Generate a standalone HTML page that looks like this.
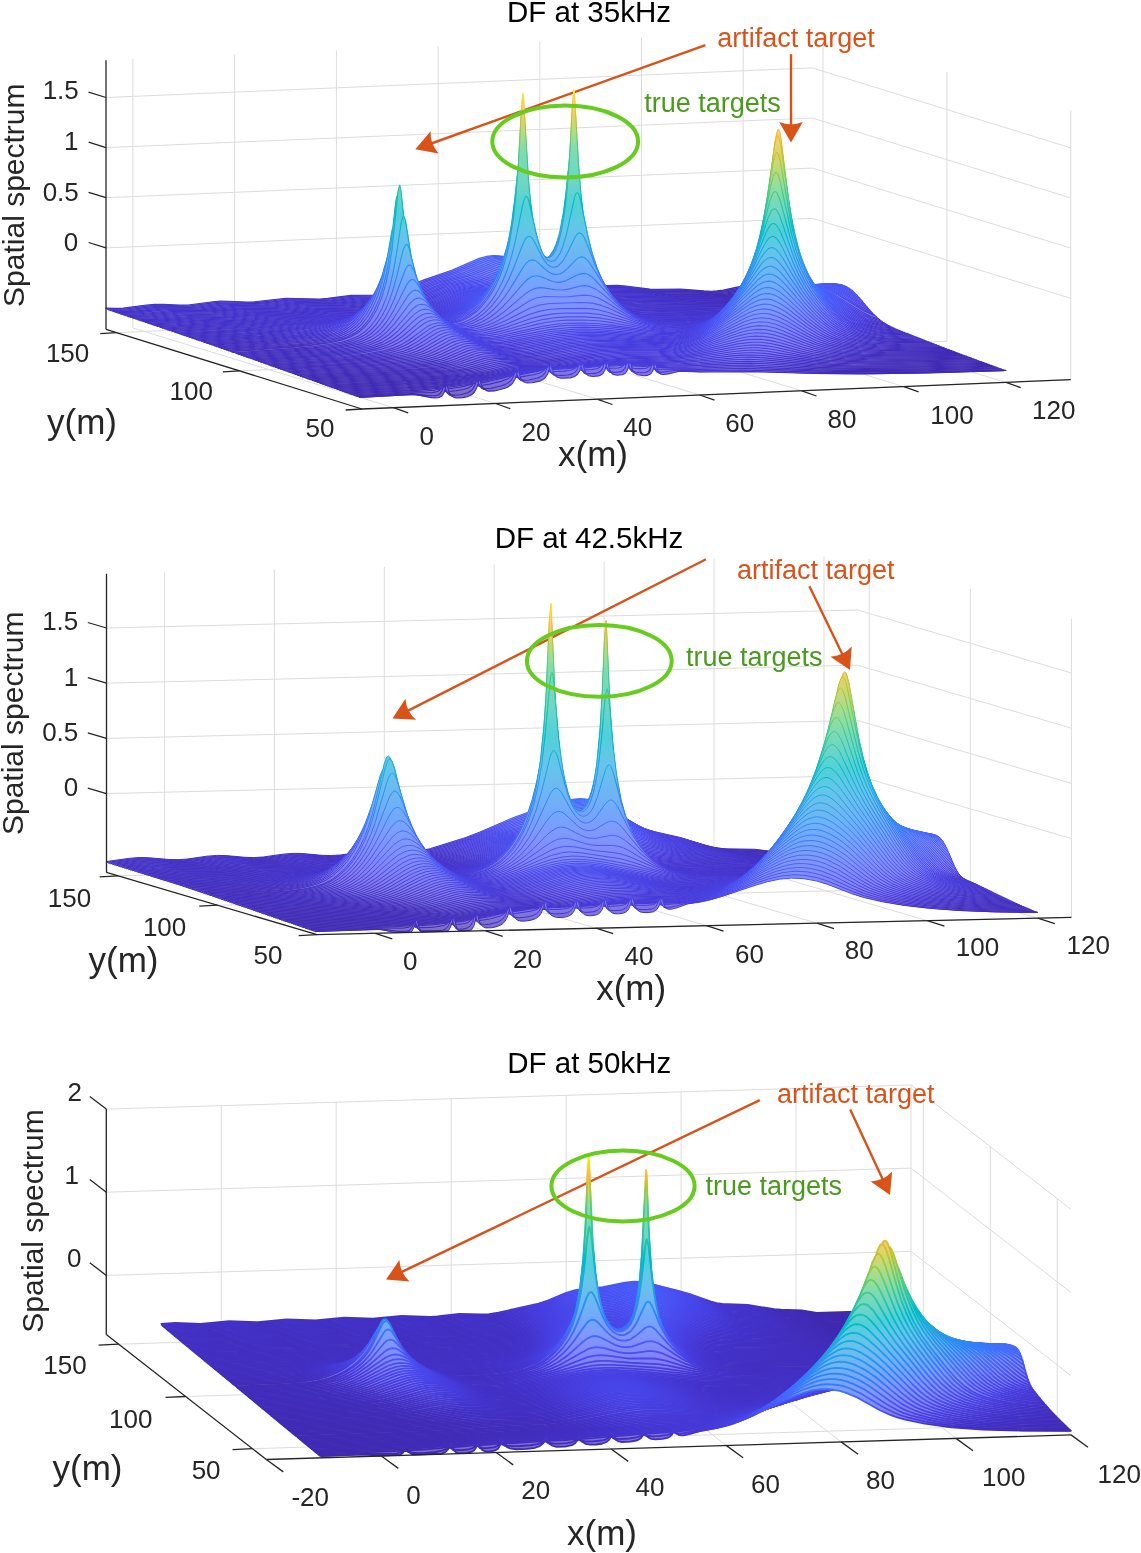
<!DOCTYPE html><html><head><meta charset="utf-8"><style>html,body{margin:0;padding:0;background:#fff;}svg{display:block;will-change:transform;}.s path{vector-effect:non-scaling-stroke}text{font-family:"Liberation Sans",sans-serif;}</style></head><body><svg width="1141" height="1553" viewBox="0 0 1141 1553" font-family="Liberation Sans, sans-serif"><defs><linearGradient id="g0_0" gradientUnits="userSpaceOnUse" x1="0" y1="-750" x2="0" y2="1950"><stop offset="0.000" stop-color="#3e26a8"/><stop offset="0.028" stop-color="#402ab5"/><stop offset="0.056" stop-color="#4332ca"/><stop offset="0.083" stop-color="#463adc"/><stop offset="0.111" stop-color="#4744e9"/><stop offset="0.139" stop-color="#484ff2"/><stop offset="0.167" stop-color="#4759f8"/><stop offset="0.194" stop-color="#4563fd"/><stop offset="0.222" stop-color="#3f6eff"/><stop offset="0.250" stop-color="#347afd"/><stop offset="0.278" stop-color="#2e84f8"/><stop offset="0.306" stop-color="#2c8ef1"/><stop offset="0.333" stop-color="#2797ea"/><stop offset="0.361" stop-color="#23a0e5"/><stop offset="0.389" stop-color="#1da8e0"/><stop offset="0.417" stop-color="#14b0d8"/><stop offset="0.444" stop-color="#05b6cd"/><stop offset="0.472" stop-color="#04bbc1"/><stop offset="0.500" stop-color="#1abfb5"/><stop offset="0.528" stop-color="#2bc3a8"/><stop offset="0.556" stop-color="#36c799"/><stop offset="0.583" stop-color="#45cb88"/><stop offset="0.611" stop-color="#5ccc76"/><stop offset="0.639" stop-color="#75cc61"/><stop offset="0.667" stop-color="#90ca4d"/><stop offset="0.694" stop-color="#aac73a"/><stop offset="0.722" stop-color="#c2c32c"/><stop offset="0.750" stop-color="#d7be28"/><stop offset="0.778" stop-color="#eabb30"/><stop offset="0.806" stop-color="#f9bb3d"/><stop offset="0.833" stop-color="#fec338"/><stop offset="0.861" stop-color="#fdce31"/><stop offset="0.889" stop-color="#f8da2b"/><stop offset="0.917" stop-color="#f5e626"/><stop offset="0.944" stop-color="#f6f11f"/><stop offset="0.972" stop-color="#f9fb15"/><stop offset="1.000" stop-color="#f9fb15"/></linearGradient><linearGradient id="Lg0_0" gradientUnits="userSpaceOnUse" x1="0" y1="-750" x2="0" y2="1950"><stop offset="0.000" stop-color="#7c6cc4"/><stop offset="0.028" stop-color="#7d6ecd"/><stop offset="0.056" stop-color="#7f74db"/><stop offset="0.083" stop-color="#8179e7"/><stop offset="0.111" stop-color="#8280f0"/><stop offset="0.139" stop-color="#8287f6"/><stop offset="0.167" stop-color="#828efb"/><stop offset="0.194" stop-color="#8095fd"/><stop offset="0.222" stop-color="#7c9dff"/><stop offset="0.250" stop-color="#75a4fe"/><stop offset="0.278" stop-color="#71abfa"/><stop offset="0.306" stop-color="#70b2f6"/><stop offset="0.333" stop-color="#6cb8f1"/><stop offset="0.361" stop-color="#6abeed"/><stop offset="0.389" stop-color="#65c4ea"/><stop offset="0.417" stop-color="#5fc9e4"/><stop offset="0.444" stop-color="#55cddd"/><stop offset="0.472" stop-color="#55d1d5"/><stop offset="0.500" stop-color="#63d4cd"/><stop offset="0.528" stop-color="#6fd6c4"/><stop offset="0.556" stop-color="#76d9ba"/><stop offset="0.583" stop-color="#81dbae"/><stop offset="0.611" stop-color="#90dda2"/><stop offset="0.639" stop-color="#a1dd94"/><stop offset="0.667" stop-color="#b4db86"/><stop offset="0.694" stop-color="#c5d979"/><stop offset="0.722" stop-color="#d5d670"/><stop offset="0.750" stop-color="#e4d36d"/><stop offset="0.778" stop-color="#f0d072"/><stop offset="0.806" stop-color="#fbd17b"/><stop offset="0.833" stop-color="#fed678"/><stop offset="0.861" stop-color="#fdde73"/><stop offset="0.889" stop-color="#fae66f"/><stop offset="0.917" stop-color="#f8ee6b"/><stop offset="0.944" stop-color="#f9f566"/><stop offset="0.972" stop-color="#fbfc60"/><stop offset="1.000" stop-color="#fbfc60"/></linearGradient><linearGradient id="g0_1" gradientUnits="userSpaceOnUse" x1="0" y1="-750" x2="0" y2="1950"><stop offset="0.000" stop-color="#3e26a8"/><stop offset="0.028" stop-color="#402ab5"/><stop offset="0.056" stop-color="#4332c9"/><stop offset="0.083" stop-color="#463adb"/><stop offset="0.111" stop-color="#4744e8"/><stop offset="0.139" stop-color="#484ef1"/><stop offset="0.167" stop-color="#4758f8"/><stop offset="0.194" stop-color="#4562fc"/><stop offset="0.222" stop-color="#406dfe"/><stop offset="0.250" stop-color="#3678fd"/><stop offset="0.278" stop-color="#2f83f9"/><stop offset="0.306" stop-color="#2d8cf3"/><stop offset="0.333" stop-color="#2895ec"/><stop offset="0.361" stop-color="#249ee6"/><stop offset="0.389" stop-color="#1fa6e2"/><stop offset="0.417" stop-color="#18addb"/><stop offset="0.444" stop-color="#0ab4d2"/><stop offset="0.472" stop-color="#01b9c7"/><stop offset="0.500" stop-color="#0dbdbc"/><stop offset="0.528" stop-color="#22c1b0"/><stop offset="0.556" stop-color="#2fc5a3"/><stop offset="0.583" stop-color="#39c895"/><stop offset="0.611" stop-color="#49cb85"/><stop offset="0.639" stop-color="#5dcc74"/><stop offset="0.667" stop-color="#73cd62"/><stop offset="0.694" stop-color="#8bcb51"/><stop offset="0.722" stop-color="#a2c83f"/><stop offset="0.750" stop-color="#b9c430"/><stop offset="0.778" stop-color="#d1bf27"/><stop offset="0.806" stop-color="#e6bb2d"/><stop offset="0.833" stop-color="#f7ba3c"/><stop offset="0.861" stop-color="#fec338"/><stop offset="0.889" stop-color="#fcd12f"/><stop offset="0.917" stop-color="#f6df29"/><stop offset="0.944" stop-color="#f5ed21"/><stop offset="0.972" stop-color="#f9fb15"/><stop offset="1.000" stop-color="#f9fb15"/></linearGradient><linearGradient id="Lg0_1" gradientUnits="userSpaceOnUse" x1="0" y1="-750" x2="0" y2="1950"><stop offset="0.000" stop-color="#7c6cc4"/><stop offset="0.028" stop-color="#7d6ecd"/><stop offset="0.056" stop-color="#7f73da"/><stop offset="0.083" stop-color="#8179e6"/><stop offset="0.111" stop-color="#8280ef"/><stop offset="0.139" stop-color="#8287f5"/><stop offset="0.167" stop-color="#828dfa"/><stop offset="0.194" stop-color="#8194fd"/><stop offset="0.222" stop-color="#7d9cff"/><stop offset="0.250" stop-color="#76a3fe"/><stop offset="0.278" stop-color="#71aafb"/><stop offset="0.306" stop-color="#70b1f7"/><stop offset="0.333" stop-color="#6db7f2"/><stop offset="0.361" stop-color="#6abdee"/><stop offset="0.389" stop-color="#67c2eb"/><stop offset="0.417" stop-color="#62c7e7"/><stop offset="0.444" stop-color="#59cce0"/><stop offset="0.472" stop-color="#52cfd9"/><stop offset="0.500" stop-color="#5ad2d1"/><stop offset="0.528" stop-color="#69d5c9"/><stop offset="0.556" stop-color="#71d7c0"/><stop offset="0.583" stop-color="#78dab7"/><stop offset="0.611" stop-color="#83dcac"/><stop offset="0.639" stop-color="#91dda1"/><stop offset="0.667" stop-color="#a0dd95"/><stop offset="0.694" stop-color="#b0dc89"/><stop offset="0.722" stop-color="#c0da7d"/><stop offset="0.750" stop-color="#cfd773"/><stop offset="0.778" stop-color="#e0d46c"/><stop offset="0.806" stop-color="#eed170"/><stop offset="0.833" stop-color="#fad07b"/><stop offset="0.861" stop-color="#fed678"/><stop offset="0.889" stop-color="#fde072"/><stop offset="0.917" stop-color="#f9e96d"/><stop offset="0.944" stop-color="#f8f368"/><stop offset="0.972" stop-color="#fbfc60"/><stop offset="1.000" stop-color="#fbfc60"/></linearGradient><linearGradient id="g0_2" gradientUnits="userSpaceOnUse" x1="0" y1="-750" x2="0" y2="1950"><stop offset="0.000" stop-color="#3e26a8"/><stop offset="0.028" stop-color="#402ab5"/><stop offset="0.056" stop-color="#4331c8"/><stop offset="0.083" stop-color="#4639da"/><stop offset="0.111" stop-color="#4743e7"/><stop offset="0.139" stop-color="#484df0"/><stop offset="0.167" stop-color="#4757f7"/><stop offset="0.194" stop-color="#4561fc"/><stop offset="0.222" stop-color="#416bfe"/><stop offset="0.250" stop-color="#3776fe"/><stop offset="0.278" stop-color="#2f81fa"/><stop offset="0.306" stop-color="#2d8af4"/><stop offset="0.333" stop-color="#2a93ed"/><stop offset="0.361" stop-color="#259be8"/><stop offset="0.389" stop-color="#21a3e3"/><stop offset="0.417" stop-color="#1babde"/><stop offset="0.444" stop-color="#12b1d6"/><stop offset="0.472" stop-color="#04b6cc"/><stop offset="0.500" stop-color="#03bbc2"/><stop offset="0.528" stop-color="#15bfb7"/><stop offset="0.556" stop-color="#26c2ac"/><stop offset="0.583" stop-color="#31c5a1"/><stop offset="0.611" stop-color="#3ac993"/><stop offset="0.639" stop-color="#48cb86"/><stop offset="0.667" stop-color="#59cc78"/><stop offset="0.694" stop-color="#6bcd69"/><stop offset="0.722" stop-color="#80cc59"/><stop offset="0.750" stop-color="#97ca48"/><stop offset="0.778" stop-color="#b4c534"/><stop offset="0.806" stop-color="#cec028"/><stop offset="0.833" stop-color="#e5bb2d"/><stop offset="0.861" stop-color="#f9bb3d"/><stop offset="0.889" stop-color="#fec835"/><stop offset="0.917" stop-color="#f8d92c"/><stop offset="0.944" stop-color="#f5ea24"/><stop offset="0.972" stop-color="#f9fb15"/><stop offset="1.000" stop-color="#f9fb15"/></linearGradient><linearGradient id="Lg0_2" gradientUnits="userSpaceOnUse" x1="0" y1="-750" x2="0" y2="1950"><stop offset="0.000" stop-color="#7c6cc4"/><stop offset="0.028" stop-color="#7d6ecc"/><stop offset="0.056" stop-color="#7f73d9"/><stop offset="0.083" stop-color="#8179e6"/><stop offset="0.111" stop-color="#827fef"/><stop offset="0.139" stop-color="#8286f5"/><stop offset="0.167" stop-color="#828dfa"/><stop offset="0.194" stop-color="#8194fd"/><stop offset="0.222" stop-color="#7e9bfe"/><stop offset="0.250" stop-color="#77a2fe"/><stop offset="0.278" stop-color="#72a9fc"/><stop offset="0.306" stop-color="#70b0f8"/><stop offset="0.333" stop-color="#6eb6f3"/><stop offset="0.361" stop-color="#6bbbef"/><stop offset="0.389" stop-color="#68c1ec"/><stop offset="0.417" stop-color="#64c6e9"/><stop offset="0.444" stop-color="#5ecae3"/><stop offset="0.472" stop-color="#54cedd"/><stop offset="0.500" stop-color="#54d1d6"/><stop offset="0.528" stop-color="#60d3ce"/><stop offset="0.556" stop-color="#6cd6c7"/><stop offset="0.583" stop-color="#73d8bf"/><stop offset="0.611" stop-color="#79dab6"/><stop offset="0.639" stop-color="#82dcad"/><stop offset="0.667" stop-color="#8edda3"/><stop offset="0.694" stop-color="#9bdd99"/><stop offset="0.722" stop-color="#a8dc8e"/><stop offset="0.750" stop-color="#b8db82"/><stop offset="0.778" stop-color="#ccd875"/><stop offset="0.806" stop-color="#ded46d"/><stop offset="0.833" stop-color="#edd170"/><stop offset="0.861" stop-color="#fbd07b"/><stop offset="0.889" stop-color="#feda75"/><stop offset="0.917" stop-color="#fae56f"/><stop offset="0.944" stop-color="#f8f16a"/><stop offset="0.972" stop-color="#fbfc60"/><stop offset="1.000" stop-color="#fbfc60"/></linearGradient><linearGradient id="g0_3" gradientUnits="userSpaceOnUse" x1="0" y1="-750" x2="0" y2="1950"><stop offset="0.000" stop-color="#3e26a8"/><stop offset="0.028" stop-color="#402ab4"/><stop offset="0.056" stop-color="#4331c7"/><stop offset="0.083" stop-color="#4539d9"/><stop offset="0.111" stop-color="#4742e6"/><stop offset="0.139" stop-color="#484cef"/><stop offset="0.167" stop-color="#4756f6"/><stop offset="0.194" stop-color="#4660fb"/><stop offset="0.222" stop-color="#426afe"/><stop offset="0.250" stop-color="#3975fe"/><stop offset="0.278" stop-color="#307ffb"/><stop offset="0.306" stop-color="#2d89f6"/><stop offset="0.333" stop-color="#2b91ef"/><stop offset="0.361" stop-color="#2699e9"/><stop offset="0.389" stop-color="#23a0e5"/><stop offset="0.417" stop-color="#1ea8e0"/><stop offset="0.444" stop-color="#17aeda"/><stop offset="0.472" stop-color="#0ab4d1"/><stop offset="0.500" stop-color="#01b8c9"/><stop offset="0.528" stop-color="#08bcbf"/><stop offset="0.556" stop-color="#19bfb5"/><stop offset="0.583" stop-color="#28c2ab"/><stop offset="0.611" stop-color="#31c6a0"/><stop offset="0.639" stop-color="#38c896"/><stop offset="0.667" stop-color="#42ca8c"/><stop offset="0.694" stop-color="#4fcc80"/><stop offset="0.722" stop-color="#5ecc74"/><stop offset="0.750" stop-color="#72cd63"/><stop offset="0.778" stop-color="#93ca4a"/><stop offset="0.806" stop-color="#b2c534"/><stop offset="0.833" stop-color="#cfc028"/><stop offset="0.861" stop-color="#e9bb30"/><stop offset="0.889" stop-color="#fec03b"/><stop offset="0.917" stop-color="#fbd32f"/><stop offset="0.944" stop-color="#f5e626"/><stop offset="0.972" stop-color="#f9fb15"/><stop offset="1.000" stop-color="#f9fb15"/></linearGradient><linearGradient id="Lg0_3" gradientUnits="userSpaceOnUse" x1="0" y1="-750" x2="0" y2="1950"><stop offset="0.000" stop-color="#7c6cc4"/><stop offset="0.028" stop-color="#7d6ecc"/><stop offset="0.056" stop-color="#7f73d9"/><stop offset="0.083" stop-color="#8178e5"/><stop offset="0.111" stop-color="#827eee"/><stop offset="0.139" stop-color="#8285f4"/><stop offset="0.167" stop-color="#828cf9"/><stop offset="0.194" stop-color="#8193fd"/><stop offset="0.222" stop-color="#7e9afe"/><stop offset="0.250" stop-color="#78a1ff"/><stop offset="0.278" stop-color="#72a8fc"/><stop offset="0.306" stop-color="#70aff9"/><stop offset="0.333" stop-color="#6fb4f4"/><stop offset="0.361" stop-color="#6cbaf0"/><stop offset="0.389" stop-color="#69bfed"/><stop offset="0.417" stop-color="#66c4ea"/><stop offset="0.444" stop-color="#61c8e6"/><stop offset="0.472" stop-color="#58cce0"/><stop offset="0.500" stop-color="#52cfda"/><stop offset="0.528" stop-color="#57d1d4"/><stop offset="0.556" stop-color="#63d4cd"/><stop offset="0.583" stop-color="#6dd6c6"/><stop offset="0.611" stop-color="#73d8be"/><stop offset="0.639" stop-color="#77dab8"/><stop offset="0.667" stop-color="#7edbb1"/><stop offset="0.694" stop-color="#87dca9"/><stop offset="0.722" stop-color="#91dda1"/><stop offset="0.750" stop-color="#9fdd95"/><stop offset="0.778" stop-color="#b6db84"/><stop offset="0.806" stop-color="#cbd875"/><stop offset="0.833" stop-color="#ded46d"/><stop offset="0.861" stop-color="#f0d072"/><stop offset="0.889" stop-color="#fed47a"/><stop offset="0.917" stop-color="#fce171"/><stop offset="0.944" stop-color="#f8ee6b"/><stop offset="0.972" stop-color="#fbfc60"/><stop offset="1.000" stop-color="#fbfc60"/></linearGradient><linearGradient id="g0_4" gradientUnits="userSpaceOnUse" x1="0" y1="-750" x2="0" y2="1950"><stop offset="0.000" stop-color="#3e26a8"/><stop offset="0.028" stop-color="#402ab4"/><stop offset="0.056" stop-color="#4331c6"/><stop offset="0.083" stop-color="#4538d8"/><stop offset="0.111" stop-color="#4741e5"/><stop offset="0.139" stop-color="#484bef"/><stop offset="0.167" stop-color="#4755f6"/><stop offset="0.194" stop-color="#465efb"/><stop offset="0.222" stop-color="#4368fe"/><stop offset="0.250" stop-color="#3b73fe"/><stop offset="0.278" stop-color="#317efb"/><stop offset="0.306" stop-color="#2e87f7"/><stop offset="0.333" stop-color="#2c8ff1"/><stop offset="0.361" stop-color="#2797eb"/><stop offset="0.389" stop-color="#249ee6"/><stop offset="0.417" stop-color="#20a5e2"/><stop offset="0.444" stop-color="#1aabdd"/><stop offset="0.472" stop-color="#12b1d6"/><stop offset="0.500" stop-color="#06b5cf"/><stop offset="0.528" stop-color="#01b9c6"/><stop offset="0.556" stop-color="#09bdbe"/><stop offset="0.583" stop-color="#1ac0b5"/><stop offset="0.611" stop-color="#27c2ab"/><stop offset="0.639" stop-color="#2ec4a4"/><stop offset="0.667" stop-color="#33c69d"/><stop offset="0.694" stop-color="#39c895"/><stop offset="0.722" stop-color="#41ca8c"/><stop offset="0.750" stop-color="#51cc7f"/><stop offset="0.778" stop-color="#71cd64"/><stop offset="0.806" stop-color="#94ca4a"/><stop offset="0.833" stop-color="#b5c533"/><stop offset="0.861" stop-color="#d6be28"/><stop offset="0.889" stop-color="#f8ba3d"/><stop offset="0.917" stop-color="#fdcc32"/><stop offset="0.944" stop-color="#f5e327"/><stop offset="0.972" stop-color="#f9fb15"/><stop offset="1.000" stop-color="#f9fb15"/></linearGradient><linearGradient id="Lg0_4" gradientUnits="userSpaceOnUse" x1="0" y1="-750" x2="0" y2="1950"><stop offset="0.000" stop-color="#7c6cc4"/><stop offset="0.028" stop-color="#7d6ecc"/><stop offset="0.056" stop-color="#7f73d8"/><stop offset="0.083" stop-color="#8178e4"/><stop offset="0.111" stop-color="#827eed"/><stop offset="0.139" stop-color="#8285f4"/><stop offset="0.167" stop-color="#828bf9"/><stop offset="0.194" stop-color="#8192fc"/><stop offset="0.222" stop-color="#7f99fe"/><stop offset="0.250" stop-color="#79a0ff"/><stop offset="0.278" stop-color="#73a7fd"/><stop offset="0.306" stop-color="#71adf9"/><stop offset="0.333" stop-color="#70b3f5"/><stop offset="0.361" stop-color="#6cb8f1"/><stop offset="0.389" stop-color="#6abdee"/><stop offset="0.417" stop-color="#67c2ec"/><stop offset="0.444" stop-color="#63c6e8"/><stop offset="0.472" stop-color="#5ecae3"/><stop offset="0.500" stop-color="#56cdde"/><stop offset="0.528" stop-color="#53cfd9"/><stop offset="0.556" stop-color="#58d2d3"/><stop offset="0.583" stop-color="#63d4cc"/><stop offset="0.611" stop-color="#6cd6c6"/><stop offset="0.639" stop-color="#71d7c1"/><stop offset="0.667" stop-color="#74d9bc"/><stop offset="0.694" stop-color="#78dab7"/><stop offset="0.722" stop-color="#7edbb1"/><stop offset="0.750" stop-color="#89dca8"/><stop offset="0.778" stop-color="#9edd96"/><stop offset="0.806" stop-color="#b6db84"/><stop offset="0.833" stop-color="#ccd874"/><stop offset="0.861" stop-color="#e3d36d"/><stop offset="0.889" stop-color="#fad07b"/><stop offset="0.917" stop-color="#fedd74"/><stop offset="0.944" stop-color="#f8ec6c"/><stop offset="0.972" stop-color="#fbfc60"/><stop offset="1.000" stop-color="#fbfc60"/></linearGradient><linearGradient id="g1_0" gradientUnits="userSpaceOnUse" x1="0" y1="-744" x2="0" y2="2070"><stop offset="0.000" stop-color="#3e26a8"/><stop offset="0.028" stop-color="#402bb6"/><stop offset="0.056" stop-color="#4332ca"/><stop offset="0.083" stop-color="#463bdc"/><stop offset="0.111" stop-color="#4745e9"/><stop offset="0.139" stop-color="#484ff2"/><stop offset="0.167" stop-color="#4759f8"/><stop offset="0.194" stop-color="#4564fd"/><stop offset="0.222" stop-color="#3f6eff"/><stop offset="0.250" stop-color="#347afd"/><stop offset="0.278" stop-color="#2e84f8"/><stop offset="0.306" stop-color="#2c8ef1"/><stop offset="0.333" stop-color="#2797eb"/><stop offset="0.361" stop-color="#23a0e5"/><stop offset="0.389" stop-color="#1da8e0"/><stop offset="0.417" stop-color="#14b0d8"/><stop offset="0.444" stop-color="#05b6cd"/><stop offset="0.472" stop-color="#04bbc2"/><stop offset="0.500" stop-color="#1abfb5"/><stop offset="0.528" stop-color="#2bc3a8"/><stop offset="0.556" stop-color="#36c799"/><stop offset="0.583" stop-color="#45cb89"/><stop offset="0.611" stop-color="#5ccc76"/><stop offset="0.639" stop-color="#74cc62"/><stop offset="0.667" stop-color="#8fcb4e"/><stop offset="0.694" stop-color="#a9c73a"/><stop offset="0.722" stop-color="#c1c32c"/><stop offset="0.750" stop-color="#d6be28"/><stop offset="0.778" stop-color="#e9bb30"/><stop offset="0.806" stop-color="#f9ba3d"/><stop offset="0.833" stop-color="#fec338"/><stop offset="0.861" stop-color="#fdce31"/><stop offset="0.889" stop-color="#f8da2b"/><stop offset="0.917" stop-color="#f5e526"/><stop offset="0.944" stop-color="#f6f01f"/><stop offset="0.972" stop-color="#f9fb15"/><stop offset="1.000" stop-color="#f9fb15"/></linearGradient><linearGradient id="Lg1_0" gradientUnits="userSpaceOnUse" x1="0" y1="-744" x2="0" y2="2070"><stop offset="0.000" stop-color="#7c6cc4"/><stop offset="0.028" stop-color="#7d6fcd"/><stop offset="0.056" stop-color="#7f74db"/><stop offset="0.083" stop-color="#8179e7"/><stop offset="0.111" stop-color="#8280f0"/><stop offset="0.139" stop-color="#8287f6"/><stop offset="0.167" stop-color="#828efb"/><stop offset="0.194" stop-color="#8095fd"/><stop offset="0.222" stop-color="#7c9dff"/><stop offset="0.250" stop-color="#75a4fe"/><stop offset="0.278" stop-color="#71abfa"/><stop offset="0.306" stop-color="#70b2f6"/><stop offset="0.333" stop-color="#6cb8f1"/><stop offset="0.361" stop-color="#6abeed"/><stop offset="0.389" stop-color="#65c4ea"/><stop offset="0.417" stop-color="#5fc9e5"/><stop offset="0.444" stop-color="#55cddd"/><stop offset="0.472" stop-color="#54d1d5"/><stop offset="0.500" stop-color="#63d4cd"/><stop offset="0.528" stop-color="#6fd6c4"/><stop offset="0.556" stop-color="#76d9ba"/><stop offset="0.583" stop-color="#81dbaf"/><stop offset="0.611" stop-color="#90dda2"/><stop offset="0.639" stop-color="#a1dd94"/><stop offset="0.667" stop-color="#b3db86"/><stop offset="0.694" stop-color="#c5d979"/><stop offset="0.722" stop-color="#d5d670"/><stop offset="0.750" stop-color="#e3d36d"/><stop offset="0.778" stop-color="#f0d072"/><stop offset="0.806" stop-color="#fbd07b"/><stop offset="0.833" stop-color="#fed678"/><stop offset="0.861" stop-color="#fdde73"/><stop offset="0.889" stop-color="#fae66f"/><stop offset="0.917" stop-color="#f8ed6b"/><stop offset="0.944" stop-color="#f9f567"/><stop offset="0.972" stop-color="#fbfc60"/><stop offset="1.000" stop-color="#fbfc60"/></linearGradient><linearGradient id="g1_1" gradientUnits="userSpaceOnUse" x1="0" y1="-744" x2="0" y2="2070"><stop offset="0.000" stop-color="#3e26a8"/><stop offset="0.028" stop-color="#402ab5"/><stop offset="0.056" stop-color="#4332c9"/><stop offset="0.083" stop-color="#463adb"/><stop offset="0.111" stop-color="#4744e8"/><stop offset="0.139" stop-color="#484ef1"/><stop offset="0.167" stop-color="#4758f8"/><stop offset="0.194" stop-color="#4562fc"/><stop offset="0.222" stop-color="#406dfe"/><stop offset="0.250" stop-color="#3678fd"/><stop offset="0.278" stop-color="#2f83f9"/><stop offset="0.306" stop-color="#2d8cf3"/><stop offset="0.333" stop-color="#2895ec"/><stop offset="0.361" stop-color="#249ee6"/><stop offset="0.389" stop-color="#1fa6e2"/><stop offset="0.417" stop-color="#18addb"/><stop offset="0.444" stop-color="#0bb4d2"/><stop offset="0.472" stop-color="#01b9c7"/><stop offset="0.500" stop-color="#0dbdbc"/><stop offset="0.528" stop-color="#22c1b0"/><stop offset="0.556" stop-color="#2fc5a3"/><stop offset="0.583" stop-color="#39c895"/><stop offset="0.611" stop-color="#49cb86"/><stop offset="0.639" stop-color="#5dcc75"/><stop offset="0.667" stop-color="#73cd63"/><stop offset="0.694" stop-color="#8acb51"/><stop offset="0.722" stop-color="#a1c840"/><stop offset="0.750" stop-color="#b8c431"/><stop offset="0.778" stop-color="#d0bf27"/><stop offset="0.806" stop-color="#e5bb2d"/><stop offset="0.833" stop-color="#f7ba3c"/><stop offset="0.861" stop-color="#fec338"/><stop offset="0.889" stop-color="#fcd030"/><stop offset="0.917" stop-color="#f6df29"/><stop offset="0.944" stop-color="#f5ed22"/><stop offset="0.972" stop-color="#f9fb15"/><stop offset="1.000" stop-color="#f9fb15"/></linearGradient><linearGradient id="Lg1_1" gradientUnits="userSpaceOnUse" x1="0" y1="-744" x2="0" y2="2070"><stop offset="0.000" stop-color="#7c6cc4"/><stop offset="0.028" stop-color="#7d6ecd"/><stop offset="0.056" stop-color="#7f73da"/><stop offset="0.083" stop-color="#8179e6"/><stop offset="0.111" stop-color="#8280ef"/><stop offset="0.139" stop-color="#8287f6"/><stop offset="0.167" stop-color="#828dfa"/><stop offset="0.194" stop-color="#8194fd"/><stop offset="0.222" stop-color="#7d9cff"/><stop offset="0.250" stop-color="#76a3fe"/><stop offset="0.278" stop-color="#71aafb"/><stop offset="0.306" stop-color="#70b1f7"/><stop offset="0.333" stop-color="#6db7f2"/><stop offset="0.361" stop-color="#6abdee"/><stop offset="0.389" stop-color="#67c2eb"/><stop offset="0.417" stop-color="#62c7e7"/><stop offset="0.444" stop-color="#59cce0"/><stop offset="0.472" stop-color="#52cfd9"/><stop offset="0.500" stop-color="#5ad2d1"/><stop offset="0.528" stop-color="#69d5c9"/><stop offset="0.556" stop-color="#71d7c1"/><stop offset="0.583" stop-color="#78dab7"/><stop offset="0.611" stop-color="#83dcac"/><stop offset="0.639" stop-color="#91dda1"/><stop offset="0.667" stop-color="#a0dd95"/><stop offset="0.694" stop-color="#b0dc89"/><stop offset="0.722" stop-color="#bfda7d"/><stop offset="0.750" stop-color="#cfd773"/><stop offset="0.778" stop-color="#dfd46c"/><stop offset="0.806" stop-color="#eed170"/><stop offset="0.833" stop-color="#f9d07a"/><stop offset="0.861" stop-color="#fed678"/><stop offset="0.889" stop-color="#fddf72"/><stop offset="0.917" stop-color="#f9e96d"/><stop offset="0.944" stop-color="#f8f369"/><stop offset="0.972" stop-color="#fbfc60"/><stop offset="1.000" stop-color="#fbfc60"/></linearGradient><linearGradient id="g1_2" gradientUnits="userSpaceOnUse" x1="0" y1="-744" x2="0" y2="2070"><stop offset="0.000" stop-color="#3e26a8"/><stop offset="0.028" stop-color="#402ab5"/><stop offset="0.056" stop-color="#4331c8"/><stop offset="0.083" stop-color="#4639da"/><stop offset="0.111" stop-color="#4743e7"/><stop offset="0.139" stop-color="#484df0"/><stop offset="0.167" stop-color="#4757f7"/><stop offset="0.194" stop-color="#4561fc"/><stop offset="0.222" stop-color="#416bfe"/><stop offset="0.250" stop-color="#3776fe"/><stop offset="0.278" stop-color="#2f81fa"/><stop offset="0.306" stop-color="#2d8af4"/><stop offset="0.333" stop-color="#2a93ed"/><stop offset="0.361" stop-color="#259be8"/><stop offset="0.389" stop-color="#21a3e3"/><stop offset="0.417" stop-color="#1baade"/><stop offset="0.444" stop-color="#12b1d6"/><stop offset="0.472" stop-color="#04b6cc"/><stop offset="0.500" stop-color="#03bbc2"/><stop offset="0.528" stop-color="#15bfb8"/><stop offset="0.556" stop-color="#26c2ad"/><stop offset="0.583" stop-color="#30c5a1"/><stop offset="0.611" stop-color="#3ac994"/><stop offset="0.639" stop-color="#47cb87"/><stop offset="0.667" stop-color="#59cc79"/><stop offset="0.694" stop-color="#6bcd69"/><stop offset="0.722" stop-color="#7fcc5a"/><stop offset="0.750" stop-color="#96ca48"/><stop offset="0.778" stop-color="#b3c534"/><stop offset="0.806" stop-color="#cdc028"/><stop offset="0.833" stop-color="#e4bb2c"/><stop offset="0.861" stop-color="#f8ba3d"/><stop offset="0.889" stop-color="#fec835"/><stop offset="0.917" stop-color="#f8d82c"/><stop offset="0.944" stop-color="#f5e924"/><stop offset="0.972" stop-color="#f9fb15"/><stop offset="1.000" stop-color="#f9fb15"/></linearGradient><linearGradient id="Lg1_2" gradientUnits="userSpaceOnUse" x1="0" y1="-744" x2="0" y2="2070"><stop offset="0.000" stop-color="#7c6cc4"/><stop offset="0.028" stop-color="#7d6ecd"/><stop offset="0.056" stop-color="#7f73da"/><stop offset="0.083" stop-color="#8179e6"/><stop offset="0.111" stop-color="#827fef"/><stop offset="0.139" stop-color="#8286f5"/><stop offset="0.167" stop-color="#828dfa"/><stop offset="0.194" stop-color="#8194fd"/><stop offset="0.222" stop-color="#7e9bfe"/><stop offset="0.250" stop-color="#77a2fe"/><stop offset="0.278" stop-color="#72a9fc"/><stop offset="0.306" stop-color="#70b0f8"/><stop offset="0.333" stop-color="#6eb6f3"/><stop offset="0.361" stop-color="#6bbbef"/><stop offset="0.389" stop-color="#68c0ec"/><stop offset="0.417" stop-color="#64c6e9"/><stop offset="0.444" stop-color="#5ecae3"/><stop offset="0.472" stop-color="#54cedd"/><stop offset="0.500" stop-color="#54d1d6"/><stop offset="0.528" stop-color="#60d3ce"/><stop offset="0.556" stop-color="#6bd5c7"/><stop offset="0.583" stop-color="#73d8bf"/><stop offset="0.611" stop-color="#79dab6"/><stop offset="0.639" stop-color="#82dcad"/><stop offset="0.667" stop-color="#8edda4"/><stop offset="0.694" stop-color="#9add99"/><stop offset="0.722" stop-color="#a8dc8f"/><stop offset="0.750" stop-color="#b8db83"/><stop offset="0.778" stop-color="#cbd875"/><stop offset="0.806" stop-color="#ddd46d"/><stop offset="0.833" stop-color="#edd170"/><stop offset="0.861" stop-color="#fad07b"/><stop offset="0.889" stop-color="#fed976"/><stop offset="0.917" stop-color="#fbe56f"/><stop offset="0.944" stop-color="#f8f06a"/><stop offset="0.972" stop-color="#fbfc60"/><stop offset="1.000" stop-color="#fbfc60"/></linearGradient><linearGradient id="g1_3" gradientUnits="userSpaceOnUse" x1="0" y1="-744" x2="0" y2="2070"><stop offset="0.000" stop-color="#3e26a8"/><stop offset="0.028" stop-color="#402ab5"/><stop offset="0.056" stop-color="#4331c7"/><stop offset="0.083" stop-color="#4539d9"/><stop offset="0.111" stop-color="#4742e6"/><stop offset="0.139" stop-color="#484cf0"/><stop offset="0.167" stop-color="#4756f7"/><stop offset="0.194" stop-color="#4660fb"/><stop offset="0.222" stop-color="#426afe"/><stop offset="0.250" stop-color="#3975fe"/><stop offset="0.278" stop-color="#307ffb"/><stop offset="0.306" stop-color="#2d89f6"/><stop offset="0.333" stop-color="#2b91ef"/><stop offset="0.361" stop-color="#2699e9"/><stop offset="0.389" stop-color="#23a0e5"/><stop offset="0.417" stop-color="#1ea8e1"/><stop offset="0.444" stop-color="#17aeda"/><stop offset="0.472" stop-color="#0ab4d2"/><stop offset="0.500" stop-color="#01b8c9"/><stop offset="0.528" stop-color="#07bcbf"/><stop offset="0.556" stop-color="#19bfb5"/><stop offset="0.583" stop-color="#27c2ab"/><stop offset="0.611" stop-color="#31c6a0"/><stop offset="0.639" stop-color="#37c897"/><stop offset="0.667" stop-color="#41ca8c"/><stop offset="0.694" stop-color="#4fcc81"/><stop offset="0.722" stop-color="#5dcc74"/><stop offset="0.750" stop-color="#71cd64"/><stop offset="0.778" stop-color="#92ca4b"/><stop offset="0.806" stop-color="#b1c635"/><stop offset="0.833" stop-color="#cec028"/><stop offset="0.861" stop-color="#e8bb2f"/><stop offset="0.889" stop-color="#febf3b"/><stop offset="0.917" stop-color="#fbd22f"/><stop offset="0.944" stop-color="#f5e526"/><stop offset="0.972" stop-color="#f9fb15"/><stop offset="1.000" stop-color="#f9fb15"/></linearGradient><linearGradient id="Lg1_3" gradientUnits="userSpaceOnUse" x1="0" y1="-744" x2="0" y2="2070"><stop offset="0.000" stop-color="#7c6cc4"/><stop offset="0.028" stop-color="#7d6ecc"/><stop offset="0.056" stop-color="#7f73d9"/><stop offset="0.083" stop-color="#8178e5"/><stop offset="0.111" stop-color="#827fee"/><stop offset="0.139" stop-color="#8285f4"/><stop offset="0.167" stop-color="#828cf9"/><stop offset="0.194" stop-color="#8193fd"/><stop offset="0.222" stop-color="#7e9afe"/><stop offset="0.250" stop-color="#78a1ff"/><stop offset="0.278" stop-color="#72a8fc"/><stop offset="0.306" stop-color="#70aff9"/><stop offset="0.333" stop-color="#6fb4f4"/><stop offset="0.361" stop-color="#6cbaf0"/><stop offset="0.389" stop-color="#69bfed"/><stop offset="0.417" stop-color="#66c4ea"/><stop offset="0.444" stop-color="#61c8e6"/><stop offset="0.472" stop-color="#58cce0"/><stop offset="0.500" stop-color="#52cfda"/><stop offset="0.528" stop-color="#57d1d4"/><stop offset="0.556" stop-color="#63d4cd"/><stop offset="0.583" stop-color="#6cd6c6"/><stop offset="0.611" stop-color="#73d8bf"/><stop offset="0.639" stop-color="#77dab8"/><stop offset="0.667" stop-color="#7edbb1"/><stop offset="0.694" stop-color="#87dca9"/><stop offset="0.722" stop-color="#91dda1"/><stop offset="0.750" stop-color="#9fdd95"/><stop offset="0.778" stop-color="#b5db85"/><stop offset="0.806" stop-color="#cad876"/><stop offset="0.833" stop-color="#ddd46d"/><stop offset="0.861" stop-color="#f0d171"/><stop offset="0.889" stop-color="#fed47a"/><stop offset="0.917" stop-color="#fce072"/><stop offset="0.944" stop-color="#f8ee6b"/><stop offset="0.972" stop-color="#fbfc60"/><stop offset="1.000" stop-color="#fbfc60"/></linearGradient><linearGradient id="g1_4" gradientUnits="userSpaceOnUse" x1="0" y1="-744" x2="0" y2="2070"><stop offset="0.000" stop-color="#3e26a8"/><stop offset="0.028" stop-color="#402ab4"/><stop offset="0.056" stop-color="#4331c6"/><stop offset="0.083" stop-color="#4538d8"/><stop offset="0.111" stop-color="#4741e5"/><stop offset="0.139" stop-color="#484bef"/><stop offset="0.167" stop-color="#4755f6"/><stop offset="0.194" stop-color="#465efb"/><stop offset="0.222" stop-color="#4368fe"/><stop offset="0.250" stop-color="#3b73fe"/><stop offset="0.278" stop-color="#317efb"/><stop offset="0.306" stop-color="#2e87f7"/><stop offset="0.333" stop-color="#2c8ff1"/><stop offset="0.361" stop-color="#2796eb"/><stop offset="0.389" stop-color="#249ee6"/><stop offset="0.417" stop-color="#20a5e3"/><stop offset="0.444" stop-color="#1aabdd"/><stop offset="0.472" stop-color="#12b1d6"/><stop offset="0.500" stop-color="#06b5cf"/><stop offset="0.528" stop-color="#01b9c7"/><stop offset="0.556" stop-color="#09bcbe"/><stop offset="0.583" stop-color="#1abfb5"/><stop offset="0.611" stop-color="#27c2ac"/><stop offset="0.639" stop-color="#2ec4a5"/><stop offset="0.667" stop-color="#33c69d"/><stop offset="0.694" stop-color="#39c895"/><stop offset="0.722" stop-color="#40ca8d"/><stop offset="0.750" stop-color="#50cc7f"/><stop offset="0.778" stop-color="#70cd65"/><stop offset="0.806" stop-color="#93ca4b"/><stop offset="0.833" stop-color="#b4c534"/><stop offset="0.861" stop-color="#d5be28"/><stop offset="0.889" stop-color="#f7ba3c"/><stop offset="0.917" stop-color="#fdcb32"/><stop offset="0.944" stop-color="#f5e228"/><stop offset="0.972" stop-color="#f9fb15"/><stop offset="1.000" stop-color="#f9fb15"/></linearGradient><linearGradient id="Lg1_4" gradientUnits="userSpaceOnUse" x1="0" y1="-744" x2="0" y2="2070"><stop offset="0.000" stop-color="#7c6cc4"/><stop offset="0.028" stop-color="#7d6ecc"/><stop offset="0.056" stop-color="#7f73d8"/><stop offset="0.083" stop-color="#8178e4"/><stop offset="0.111" stop-color="#827eee"/><stop offset="0.139" stop-color="#8285f4"/><stop offset="0.167" stop-color="#828bf9"/><stop offset="0.194" stop-color="#8192fc"/><stop offset="0.222" stop-color="#7f99fe"/><stop offset="0.250" stop-color="#79a0ff"/><stop offset="0.278" stop-color="#73a7fd"/><stop offset="0.306" stop-color="#71adf9"/><stop offset="0.333" stop-color="#70b3f5"/><stop offset="0.361" stop-color="#6cb8f1"/><stop offset="0.389" stop-color="#6abdee"/><stop offset="0.417" stop-color="#67c2ec"/><stop offset="0.444" stop-color="#64c6e8"/><stop offset="0.472" stop-color="#5ecae3"/><stop offset="0.500" stop-color="#56cdde"/><stop offset="0.528" stop-color="#52cfd9"/><stop offset="0.556" stop-color="#58d2d3"/><stop offset="0.583" stop-color="#63d4cd"/><stop offset="0.611" stop-color="#6cd6c6"/><stop offset="0.639" stop-color="#71d7c2"/><stop offset="0.667" stop-color="#74d9bd"/><stop offset="0.694" stop-color="#78dab7"/><stop offset="0.722" stop-color="#7ddbb1"/><stop offset="0.750" stop-color="#88dca8"/><stop offset="0.778" stop-color="#9edd96"/><stop offset="0.806" stop-color="#b5db85"/><stop offset="0.833" stop-color="#ccd875"/><stop offset="0.861" stop-color="#e2d36d"/><stop offset="0.889" stop-color="#f9d07a"/><stop offset="0.917" stop-color="#fedc74"/><stop offset="0.944" stop-color="#f8eb6d"/><stop offset="0.972" stop-color="#fbfc60"/><stop offset="1.000" stop-color="#fbfc60"/></linearGradient><linearGradient id="g2_0" gradientUnits="userSpaceOnUse" x1="0" y1="-742" x2="0" y2="2080"><stop offset="0.000" stop-color="#3e26a8"/><stop offset="0.028" stop-color="#402bb6"/><stop offset="0.056" stop-color="#4332ca"/><stop offset="0.083" stop-color="#463bdc"/><stop offset="0.111" stop-color="#4745e9"/><stop offset="0.139" stop-color="#484ff2"/><stop offset="0.167" stop-color="#4759f8"/><stop offset="0.194" stop-color="#4564fd"/><stop offset="0.222" stop-color="#3f6eff"/><stop offset="0.250" stop-color="#347afd"/><stop offset="0.278" stop-color="#2e84f8"/><stop offset="0.306" stop-color="#2c8ef1"/><stop offset="0.333" stop-color="#2797eb"/><stop offset="0.361" stop-color="#23a0e5"/><stop offset="0.389" stop-color="#1da8e0"/><stop offset="0.417" stop-color="#14b0d8"/><stop offset="0.444" stop-color="#05b6cd"/><stop offset="0.472" stop-color="#04bbc2"/><stop offset="0.500" stop-color="#19bfb5"/><stop offset="0.528" stop-color="#2bc3a8"/><stop offset="0.556" stop-color="#36c799"/><stop offset="0.583" stop-color="#45cb89"/><stop offset="0.611" stop-color="#5ccc76"/><stop offset="0.639" stop-color="#74cc62"/><stop offset="0.667" stop-color="#8fcb4e"/><stop offset="0.694" stop-color="#a9c73a"/><stop offset="0.722" stop-color="#c1c32c"/><stop offset="0.750" stop-color="#d6be28"/><stop offset="0.778" stop-color="#e9bb30"/><stop offset="0.806" stop-color="#f9ba3d"/><stop offset="0.833" stop-color="#fec338"/><stop offset="0.861" stop-color="#fdce31"/><stop offset="0.889" stop-color="#f8da2b"/><stop offset="0.917" stop-color="#f5e526"/><stop offset="0.944" stop-color="#f6f01f"/><stop offset="0.972" stop-color="#f9fb15"/><stop offset="1.000" stop-color="#f9fb15"/></linearGradient><linearGradient id="Lg2_0" gradientUnits="userSpaceOnUse" x1="0" y1="-742" x2="0" y2="2080"><stop offset="0.000" stop-color="#7c6cc4"/><stop offset="0.028" stop-color="#7d6fcd"/><stop offset="0.056" stop-color="#7f74db"/><stop offset="0.083" stop-color="#8179e7"/><stop offset="0.111" stop-color="#8280f0"/><stop offset="0.139" stop-color="#8287f6"/><stop offset="0.167" stop-color="#828efb"/><stop offset="0.194" stop-color="#8095fd"/><stop offset="0.222" stop-color="#7c9dff"/><stop offset="0.250" stop-color="#75a4fe"/><stop offset="0.278" stop-color="#71abfa"/><stop offset="0.306" stop-color="#70b2f6"/><stop offset="0.333" stop-color="#6cb8f1"/><stop offset="0.361" stop-color="#6abeed"/><stop offset="0.389" stop-color="#65c4ea"/><stop offset="0.417" stop-color="#5fc9e5"/><stop offset="0.444" stop-color="#55cddd"/><stop offset="0.472" stop-color="#54d1d5"/><stop offset="0.500" stop-color="#63d4cd"/><stop offset="0.528" stop-color="#6fd6c4"/><stop offset="0.556" stop-color="#76d9ba"/><stop offset="0.583" stop-color="#81dbaf"/><stop offset="0.611" stop-color="#90dda2"/><stop offset="0.639" stop-color="#a1dd94"/><stop offset="0.667" stop-color="#b3db86"/><stop offset="0.694" stop-color="#c4d979"/><stop offset="0.722" stop-color="#d5d670"/><stop offset="0.750" stop-color="#e3d36d"/><stop offset="0.778" stop-color="#f0d072"/><stop offset="0.806" stop-color="#fbd07b"/><stop offset="0.833" stop-color="#fed678"/><stop offset="0.861" stop-color="#fdde73"/><stop offset="0.889" stop-color="#fae66f"/><stop offset="0.917" stop-color="#f8ed6b"/><stop offset="0.944" stop-color="#f9f567"/><stop offset="0.972" stop-color="#fbfc60"/><stop offset="1.000" stop-color="#fbfc60"/></linearGradient><linearGradient id="g2_1" gradientUnits="userSpaceOnUse" x1="0" y1="-742" x2="0" y2="2080"><stop offset="0.000" stop-color="#3e26a8"/><stop offset="0.028" stop-color="#402ab5"/><stop offset="0.056" stop-color="#4332c9"/><stop offset="0.083" stop-color="#463adb"/><stop offset="0.111" stop-color="#4744e8"/><stop offset="0.139" stop-color="#484ef1"/><stop offset="0.167" stop-color="#4758f8"/><stop offset="0.194" stop-color="#4562fc"/><stop offset="0.222" stop-color="#406dfe"/><stop offset="0.250" stop-color="#3678fd"/><stop offset="0.278" stop-color="#2f83f9"/><stop offset="0.306" stop-color="#2d8cf3"/><stop offset="0.333" stop-color="#2895ec"/><stop offset="0.361" stop-color="#249ee6"/><stop offset="0.389" stop-color="#1fa6e2"/><stop offset="0.417" stop-color="#18addb"/><stop offset="0.444" stop-color="#0bb4d2"/><stop offset="0.472" stop-color="#01b9c7"/><stop offset="0.500" stop-color="#0dbdbc"/><stop offset="0.528" stop-color="#22c1b0"/><stop offset="0.556" stop-color="#2fc5a3"/><stop offset="0.583" stop-color="#39c895"/><stop offset="0.611" stop-color="#49cb86"/><stop offset="0.639" stop-color="#5dcc75"/><stop offset="0.667" stop-color="#73cd63"/><stop offset="0.694" stop-color="#8acb51"/><stop offset="0.722" stop-color="#a1c840"/><stop offset="0.750" stop-color="#b8c431"/><stop offset="0.778" stop-color="#d0bf27"/><stop offset="0.806" stop-color="#e5bb2d"/><stop offset="0.833" stop-color="#f7ba3c"/><stop offset="0.861" stop-color="#fec339"/><stop offset="0.889" stop-color="#fcd030"/><stop offset="0.917" stop-color="#f6df29"/><stop offset="0.944" stop-color="#f5ed22"/><stop offset="0.972" stop-color="#f9fb15"/><stop offset="1.000" stop-color="#f9fb15"/></linearGradient><linearGradient id="Lg2_1" gradientUnits="userSpaceOnUse" x1="0" y1="-742" x2="0" y2="2080"><stop offset="0.000" stop-color="#7c6cc4"/><stop offset="0.028" stop-color="#7d6ecd"/><stop offset="0.056" stop-color="#7f73da"/><stop offset="0.083" stop-color="#8179e7"/><stop offset="0.111" stop-color="#8280ef"/><stop offset="0.139" stop-color="#8287f6"/><stop offset="0.167" stop-color="#828dfa"/><stop offset="0.194" stop-color="#8194fd"/><stop offset="0.222" stop-color="#7d9cff"/><stop offset="0.250" stop-color="#76a3fe"/><stop offset="0.278" stop-color="#71aafb"/><stop offset="0.306" stop-color="#70b1f7"/><stop offset="0.333" stop-color="#6db7f2"/><stop offset="0.361" stop-color="#6abdee"/><stop offset="0.389" stop-color="#67c2eb"/><stop offset="0.417" stop-color="#62c7e7"/><stop offset="0.444" stop-color="#59cce0"/><stop offset="0.472" stop-color="#52cfd9"/><stop offset="0.500" stop-color="#5ad2d1"/><stop offset="0.528" stop-color="#68d5c9"/><stop offset="0.556" stop-color="#71d7c1"/><stop offset="0.583" stop-color="#78dab7"/><stop offset="0.611" stop-color="#83dcac"/><stop offset="0.639" stop-color="#91dda1"/><stop offset="0.667" stop-color="#a0dd95"/><stop offset="0.694" stop-color="#b0dc89"/><stop offset="0.722" stop-color="#bfda7d"/><stop offset="0.750" stop-color="#cfd773"/><stop offset="0.778" stop-color="#dfd46c"/><stop offset="0.806" stop-color="#eed170"/><stop offset="0.833" stop-color="#f9d07a"/><stop offset="0.861" stop-color="#fed678"/><stop offset="0.889" stop-color="#fddf72"/><stop offset="0.917" stop-color="#f9e96d"/><stop offset="0.944" stop-color="#f8f369"/><stop offset="0.972" stop-color="#fbfc60"/><stop offset="1.000" stop-color="#fbfc60"/></linearGradient><linearGradient id="g2_2" gradientUnits="userSpaceOnUse" x1="0" y1="-742" x2="0" y2="2080"><stop offset="0.000" stop-color="#3e26a8"/><stop offset="0.028" stop-color="#402ab5"/><stop offset="0.056" stop-color="#4331c8"/><stop offset="0.083" stop-color="#4639da"/><stop offset="0.111" stop-color="#4743e7"/><stop offset="0.139" stop-color="#484df0"/><stop offset="0.167" stop-color="#4757f7"/><stop offset="0.194" stop-color="#4561fc"/><stop offset="0.222" stop-color="#416bfe"/><stop offset="0.250" stop-color="#3776fe"/><stop offset="0.278" stop-color="#2f81fa"/><stop offset="0.306" stop-color="#2d8af4"/><stop offset="0.333" stop-color="#2a93ed"/><stop offset="0.361" stop-color="#259be8"/><stop offset="0.389" stop-color="#21a3e3"/><stop offset="0.417" stop-color="#1baade"/><stop offset="0.444" stop-color="#12b1d6"/><stop offset="0.472" stop-color="#04b6cc"/><stop offset="0.500" stop-color="#03bbc2"/><stop offset="0.528" stop-color="#15bfb8"/><stop offset="0.556" stop-color="#26c2ad"/><stop offset="0.583" stop-color="#30c5a1"/><stop offset="0.611" stop-color="#3ac994"/><stop offset="0.639" stop-color="#47cb87"/><stop offset="0.667" stop-color="#59cc79"/><stop offset="0.694" stop-color="#6bcd69"/><stop offset="0.722" stop-color="#7fcc5a"/><stop offset="0.750" stop-color="#96ca48"/><stop offset="0.778" stop-color="#b3c534"/><stop offset="0.806" stop-color="#cdc028"/><stop offset="0.833" stop-color="#e4bb2c"/><stop offset="0.861" stop-color="#f8ba3d"/><stop offset="0.889" stop-color="#fec835"/><stop offset="0.917" stop-color="#f9d82c"/><stop offset="0.944" stop-color="#f5e924"/><stop offset="0.972" stop-color="#f9fb15"/><stop offset="1.000" stop-color="#f9fb15"/></linearGradient><linearGradient id="Lg2_2" gradientUnits="userSpaceOnUse" x1="0" y1="-742" x2="0" y2="2080"><stop offset="0.000" stop-color="#7c6cc4"/><stop offset="0.028" stop-color="#7d6ecd"/><stop offset="0.056" stop-color="#7f73da"/><stop offset="0.083" stop-color="#8179e6"/><stop offset="0.111" stop-color="#827fef"/><stop offset="0.139" stop-color="#8286f5"/><stop offset="0.167" stop-color="#828dfa"/><stop offset="0.194" stop-color="#8194fd"/><stop offset="0.222" stop-color="#7e9bfe"/><stop offset="0.250" stop-color="#77a2fe"/><stop offset="0.278" stop-color="#72a9fc"/><stop offset="0.306" stop-color="#70b0f8"/><stop offset="0.333" stop-color="#6eb6f3"/><stop offset="0.361" stop-color="#6bbbef"/><stop offset="0.389" stop-color="#68c0ec"/><stop offset="0.417" stop-color="#64c6e9"/><stop offset="0.444" stop-color="#5ecae3"/><stop offset="0.472" stop-color="#54cedd"/><stop offset="0.500" stop-color="#54d1d6"/><stop offset="0.528" stop-color="#60d3ce"/><stop offset="0.556" stop-color="#6bd5c7"/><stop offset="0.583" stop-color="#73d8bf"/><stop offset="0.611" stop-color="#79dab6"/><stop offset="0.639" stop-color="#82dcad"/><stop offset="0.667" stop-color="#8edda4"/><stop offset="0.694" stop-color="#9add99"/><stop offset="0.722" stop-color="#a8dc8f"/><stop offset="0.750" stop-color="#b8db83"/><stop offset="0.778" stop-color="#cbd875"/><stop offset="0.806" stop-color="#ddd46d"/><stop offset="0.833" stop-color="#edd170"/><stop offset="0.861" stop-color="#fad07b"/><stop offset="0.889" stop-color="#fed976"/><stop offset="0.917" stop-color="#fbe56f"/><stop offset="0.944" stop-color="#f8f06a"/><stop offset="0.972" stop-color="#fbfc60"/><stop offset="1.000" stop-color="#fbfc60"/></linearGradient><linearGradient id="g2_3" gradientUnits="userSpaceOnUse" x1="0" y1="-742" x2="0" y2="2080"><stop offset="0.000" stop-color="#3e26a8"/><stop offset="0.028" stop-color="#402ab5"/><stop offset="0.056" stop-color="#4331c7"/><stop offset="0.083" stop-color="#4539d9"/><stop offset="0.111" stop-color="#4742e6"/><stop offset="0.139" stop-color="#484cf0"/><stop offset="0.167" stop-color="#4756f7"/><stop offset="0.194" stop-color="#4660fb"/><stop offset="0.222" stop-color="#426afe"/><stop offset="0.250" stop-color="#3975fe"/><stop offset="0.278" stop-color="#307ffb"/><stop offset="0.306" stop-color="#2d89f6"/><stop offset="0.333" stop-color="#2b91ef"/><stop offset="0.361" stop-color="#2699e9"/><stop offset="0.389" stop-color="#23a0e5"/><stop offset="0.417" stop-color="#1ea8e1"/><stop offset="0.444" stop-color="#17aeda"/><stop offset="0.472" stop-color="#0ab4d2"/><stop offset="0.500" stop-color="#01b8c9"/><stop offset="0.528" stop-color="#07bcbf"/><stop offset="0.556" stop-color="#19bfb5"/><stop offset="0.583" stop-color="#27c2ab"/><stop offset="0.611" stop-color="#31c6a0"/><stop offset="0.639" stop-color="#37c897"/><stop offset="0.667" stop-color="#41ca8c"/><stop offset="0.694" stop-color="#4fcc81"/><stop offset="0.722" stop-color="#5dcc74"/><stop offset="0.750" stop-color="#71cd64"/><stop offset="0.778" stop-color="#92ca4b"/><stop offset="0.806" stop-color="#b1c635"/><stop offset="0.833" stop-color="#cec028"/><stop offset="0.861" stop-color="#e8bb2f"/><stop offset="0.889" stop-color="#febf3b"/><stop offset="0.917" stop-color="#fbd22f"/><stop offset="0.944" stop-color="#f5e526"/><stop offset="0.972" stop-color="#f9fb15"/><stop offset="1.000" stop-color="#f9fb15"/></linearGradient><linearGradient id="Lg2_3" gradientUnits="userSpaceOnUse" x1="0" y1="-742" x2="0" y2="2080"><stop offset="0.000" stop-color="#7c6cc4"/><stop offset="0.028" stop-color="#7d6ecc"/><stop offset="0.056" stop-color="#7f73d9"/><stop offset="0.083" stop-color="#8178e5"/><stop offset="0.111" stop-color="#827fee"/><stop offset="0.139" stop-color="#8285f4"/><stop offset="0.167" stop-color="#828cf9"/><stop offset="0.194" stop-color="#8193fd"/><stop offset="0.222" stop-color="#7e9afe"/><stop offset="0.250" stop-color="#78a1ff"/><stop offset="0.278" stop-color="#72a8fc"/><stop offset="0.306" stop-color="#70aff9"/><stop offset="0.333" stop-color="#6fb4f4"/><stop offset="0.361" stop-color="#6cbaf0"/><stop offset="0.389" stop-color="#69bfed"/><stop offset="0.417" stop-color="#66c4ea"/><stop offset="0.444" stop-color="#61c8e6"/><stop offset="0.472" stop-color="#58cce0"/><stop offset="0.500" stop-color="#52cfda"/><stop offset="0.528" stop-color="#57d1d4"/><stop offset="0.556" stop-color="#63d4cd"/><stop offset="0.583" stop-color="#6cd6c6"/><stop offset="0.611" stop-color="#73d8bf"/><stop offset="0.639" stop-color="#77dab8"/><stop offset="0.667" stop-color="#7edbb1"/><stop offset="0.694" stop-color="#87dca9"/><stop offset="0.722" stop-color="#91dda1"/><stop offset="0.750" stop-color="#9fdd96"/><stop offset="0.778" stop-color="#b5db85"/><stop offset="0.806" stop-color="#cad876"/><stop offset="0.833" stop-color="#ddd46d"/><stop offset="0.861" stop-color="#efd171"/><stop offset="0.889" stop-color="#fed47a"/><stop offset="0.917" stop-color="#fce072"/><stop offset="0.944" stop-color="#f8ee6b"/><stop offset="0.972" stop-color="#fbfc60"/><stop offset="1.000" stop-color="#fbfc60"/></linearGradient><linearGradient id="g2_4" gradientUnits="userSpaceOnUse" x1="0" y1="-742" x2="0" y2="2080"><stop offset="0.000" stop-color="#3e26a8"/><stop offset="0.028" stop-color="#402ab4"/><stop offset="0.056" stop-color="#4331c6"/><stop offset="0.083" stop-color="#4538d8"/><stop offset="0.111" stop-color="#4741e5"/><stop offset="0.139" stop-color="#484bef"/><stop offset="0.167" stop-color="#4755f6"/><stop offset="0.194" stop-color="#465efb"/><stop offset="0.222" stop-color="#4368fe"/><stop offset="0.250" stop-color="#3b73fe"/><stop offset="0.278" stop-color="#317efb"/><stop offset="0.306" stop-color="#2e87f7"/><stop offset="0.333" stop-color="#2c8ff1"/><stop offset="0.361" stop-color="#2796eb"/><stop offset="0.389" stop-color="#249ee6"/><stop offset="0.417" stop-color="#20a5e3"/><stop offset="0.444" stop-color="#1aabdd"/><stop offset="0.472" stop-color="#12b1d6"/><stop offset="0.500" stop-color="#06b5cf"/><stop offset="0.528" stop-color="#01b9c7"/><stop offset="0.556" stop-color="#09bcbe"/><stop offset="0.583" stop-color="#1abfb5"/><stop offset="0.611" stop-color="#27c2ac"/><stop offset="0.639" stop-color="#2ec4a5"/><stop offset="0.667" stop-color="#33c69d"/><stop offset="0.694" stop-color="#39c895"/><stop offset="0.722" stop-color="#40ca8d"/><stop offset="0.750" stop-color="#50cc7f"/><stop offset="0.778" stop-color="#70cd65"/><stop offset="0.806" stop-color="#93ca4b"/><stop offset="0.833" stop-color="#b4c534"/><stop offset="0.861" stop-color="#d5be28"/><stop offset="0.889" stop-color="#f7ba3c"/><stop offset="0.917" stop-color="#fdcb32"/><stop offset="0.944" stop-color="#f5e228"/><stop offset="0.972" stop-color="#f9fb15"/><stop offset="1.000" stop-color="#f9fb15"/></linearGradient><linearGradient id="Lg2_4" gradientUnits="userSpaceOnUse" x1="0" y1="-742" x2="0" y2="2080"><stop offset="0.000" stop-color="#7c6cc4"/><stop offset="0.028" stop-color="#7d6ecc"/><stop offset="0.056" stop-color="#7f73d8"/><stop offset="0.083" stop-color="#8178e4"/><stop offset="0.111" stop-color="#827eee"/><stop offset="0.139" stop-color="#8285f4"/><stop offset="0.167" stop-color="#828bf9"/><stop offset="0.194" stop-color="#8192fc"/><stop offset="0.222" stop-color="#7f99fe"/><stop offset="0.250" stop-color="#79a0ff"/><stop offset="0.278" stop-color="#73a7fd"/><stop offset="0.306" stop-color="#71adf9"/><stop offset="0.333" stop-color="#70b3f5"/><stop offset="0.361" stop-color="#6cb8f1"/><stop offset="0.389" stop-color="#6abdee"/><stop offset="0.417" stop-color="#67c2ec"/><stop offset="0.444" stop-color="#64c6e8"/><stop offset="0.472" stop-color="#5ecae3"/><stop offset="0.500" stop-color="#56cdde"/><stop offset="0.528" stop-color="#52cfd9"/><stop offset="0.556" stop-color="#58d2d3"/><stop offset="0.583" stop-color="#63d4cd"/><stop offset="0.611" stop-color="#6cd6c6"/><stop offset="0.639" stop-color="#71d7c2"/><stop offset="0.667" stop-color="#74d9bd"/><stop offset="0.694" stop-color="#78dab7"/><stop offset="0.722" stop-color="#7ddbb1"/><stop offset="0.750" stop-color="#88dca8"/><stop offset="0.778" stop-color="#9edd96"/><stop offset="0.806" stop-color="#b5db85"/><stop offset="0.833" stop-color="#ccd875"/><stop offset="0.861" stop-color="#e2d36d"/><stop offset="0.889" stop-color="#f9d07a"/><stop offset="0.917" stop-color="#fedc74"/><stop offset="0.944" stop-color="#f8eb6d"/><stop offset="0.972" stop-color="#fbfc60"/><stop offset="1.000" stop-color="#fbfc60"/></linearGradient></defs><g><line x1="132.9" y1="328" x2="132.9" y2="58.9" stroke="#dcdcdc" stroke-width="1"/>
<line x1="234.6" y1="323.7" x2="234.6" y2="54.6" stroke="#dcdcdc" stroke-width="1"/>
<line x1="336.4" y1="319.5" x2="336.4" y2="50.3" stroke="#dcdcdc" stroke-width="1"/>
<line x1="438.1" y1="315.2" x2="438.1" y2="46.1" stroke="#dcdcdc" stroke-width="1"/>
<line x1="539.8" y1="310.9" x2="539.8" y2="41.8" stroke="#dcdcdc" stroke-width="1"/>
<line x1="641.5" y1="306.7" x2="641.5" y2="37.5" stroke="#dcdcdc" stroke-width="1"/>
<line x1="743.2" y1="302.4" x2="743.2" y2="33.3" stroke="#dcdcdc" stroke-width="1"/>
<polyline points="106,247.9 812.3,218.3 1070.8,298.3" fill="none" stroke="#dcdcdc" stroke-width="1"/>
<polyline points="106,197.7 812.3,168.1 1070.8,248.1" fill="none" stroke="#dcdcdc" stroke-width="1"/>
<polyline points="106,147.6 812.3,118 1070.8,198" fill="none" stroke="#dcdcdc" stroke-width="1"/>
<polyline points="106,97.5 812.3,67.9 1070.8,147.9" fill="none" stroke="#dcdcdc" stroke-width="1"/>
<line x1="1070.8" y1="379.7" x2="1070.8" y2="110.6" stroke="#dcdcdc" stroke-width="1"/>
<line x1="946.9" y1="341.3" x2="946.9" y2="72.2" stroke="#dcdcdc" stroke-width="1"/>
<line x1="823" y1="303" x2="823" y2="33.9" stroke="#dcdcdc" stroke-width="1"/>
<line x1="393.5" y1="407.7" x2="132.9" y2="328" stroke="#dcdcdc" stroke-width="1"/>
<line x1="495.6" y1="403.5" x2="234.6" y2="323.7" stroke="#dcdcdc" stroke-width="1"/>
<line x1="597.7" y1="399.3" x2="336.4" y2="319.5" stroke="#dcdcdc" stroke-width="1"/>
<line x1="699.8" y1="395" x2="438.1" y2="315.2" stroke="#dcdcdc" stroke-width="1"/>
<line x1="801.8" y1="390.8" x2="539.8" y2="310.9" stroke="#dcdcdc" stroke-width="1"/>
<line x1="903.9" y1="386.6" x2="641.5" y2="306.7" stroke="#dcdcdc" stroke-width="1"/>
<line x1="1006" y1="382.4" x2="743.2" y2="302.4" stroke="#dcdcdc" stroke-width="1"/>
<line x1="362" y1="409" x2="1070.8" y2="379.7" stroke="#dcdcdc" stroke-width="1"/>
<line x1="239.3" y1="370.8" x2="946.9" y2="341.3" stroke="#dcdcdc" stroke-width="1"/>
<line x1="116.6" y1="332.6" x2="823" y2="303" stroke="#dcdcdc" stroke-width="1"/></g>
<line x1="705.4" y1="45.1" x2="431.3" y2="143.5" stroke="#D95319" stroke-width="2.4"/><path d="M415.3 149.2L430.6 131.2Q430.3 137.6 432.2 143.1Q434.3 148.7 438.6 153.4Z" fill="#D95319"/><line x1="791" y1="54.2" x2="791" y2="125.6" stroke="#D95319" stroke-width="2.4"/><path d="M791 142.6L779.2 122.1Q785.1 124.5 791 124.6Q796.9 124.5 802.8 122.1Z" fill="#D95319"/>
<g class="s" stroke-width="1.1" stroke-linejoin="round">
<path fill="url(#Lg0_0)" stroke="url(#g0_0)" vector-effect="non-scaling-stroke" transform="matrix(0.50857 -0.02131 0 -0.10027 137.43 246.56)" d="M-62-600l18-7 16-1 46 21 16 3 16-3 34-15 16-2 48 22 16 3 16-4 34-15 16-2 62 23 66-22 16 3 46 20 46-9 18 3 14 12 16 23 48 93 56 87 52 104 16 19 14 5 10-3 10-9 26-40 44-91 60-145 16-29 16-19 16-7 46-6 16-10 48-41 16-6 44-5 46-29 14-6 12 1 12 5 48 42 5-20-48-41-24-6-14 6-46 29-44 5-16 6-48 41-16 10-46 6-16 7-16 18-16 29-64 154-42 88-24 36-10 9-10 3-14-5-16-20-50-99-58-90-50-96-16-23-14-10-16-3-46 8-62-23-66 22-62-23-16 2-34 15-16 3-16-3-48-21-16 2-34 14-16 4-16-4-46-20-16 1-18 7z"/>
<path fill="url(#Lg0_0)" stroke="url(#g0_0)" vector-effect="non-scaling-stroke" transform="matrix(0.50859 -0.02131 0 -0.10027 139.89 247.33)" d="M-62-601l18-7 16-1 46 21 16 3 16-3 34-15 16-1 48 21 16 3 16-3 34-15 16-2 62 22 66-21 62 23 46-8 16 2 14 11 16 22 50 97 58 90 50 99 16 19 14 6 10-4 10-8 24-37 42-88 64-153 16-29 16-18 16-8 46-6 16-10 48-40 16-6 44-6 46-29 14-5 24 6 48 41 5-20-48-40-14-5-12 0-58 33-60 12-64 50-46 6-16 8-16 17-18 33-66 158-40 84-22 33-10 9-10 3-14-6-14-17-54-104-58-88-48-94-16-22-14-11-16-4-48 7-44-18-16-3-66 20-62-21-16 1-50 17-16-2-48-21-16 2-50 17-16-3-46-21-16 1-18 7z"/>
<path fill="url(#Lg0_0)" stroke="url(#g0_0)" vector-effect="non-scaling-stroke" transform="matrix(0.50860 -0.02131 0 -0.10027 142.35 248.10)" d="M-62-601l18-7 16-1 46 20 16 3 50-17 16-1 48 20 16 3 50-17 16-2 62 22 66-21 16 4 44 18 48-7 16 3 14 11 16 23 48 94 58 87 54 105 14 16 14 6 10-3 10-8 22-33 40-84 66-159 18-32 16-18 16-7 46-7 64-49 60-12 58-34 12 0 14 6 48 40 5-19-48-39-14-6-12 0-58 33-60 12-64 49-46 6-18 10-16 18-18 33-68 162-36 77-22 34-18 10-14-4-16-19-52-99-60-89-50-97-16-22-14-10-16-3-46 6-60-21-66 20-62-21-16 1-50 17-16-3-48-20-16 1-50 17-16-3-46-20-16 1-18 6z"/>
<path fill="url(#Lg0_0)" stroke="url(#g0_0)" vector-effect="non-scaling-stroke" transform="matrix(0.50862 -0.02131 0 -0.10027 144.82 248.86)" d="M-62-602l18-7 16 0 46 19 16 3 50-16 16-1 48 20 16 2 50-16 16-1 62 20 66-19 60 20 46-5 16 2 14 11 16 21 50 98 60 88 52 100 16 18 14 5 18-11 22-33 36-77 68-162 18-33 16-19 18-9 46-7 64-48 60-13 58-32 12 0 14 5 48 39 5-19-48-38-14-5-12 0-58 31-60 13-64 48-46 7-18 9-18 21-18 34-72 170-32 68-20 30-18 11-14-5-14-16-54-101-60-86-52-101-14-19-14-10-16-3-46 4-58-20-16 2-36 15-16 2-62-20-16 2-50 15-16-3-48-19-16 1-50 16-16-3-46-19-16 0-18 7z"/>
<path fill="url(#Lg0_0)" stroke="url(#g0_0)" vector-effect="non-scaling-stroke" transform="matrix(0.50864 -0.02131 0 -0.10027 147.28 249.63)" d="M-62-603l18-6 16-1 46 19 16 3 50-15 16-1 48 19 16 3 50-16 16-1 62 20 16-3 36-14 16-2 58 20 46-5 16 3 14 11 14 19 52 101 60 85 54 101 14 16 14 5 18-10 20-30 32-68 72-171 18-33 18-21 18-10 46-6 64-48 60-13 58-32 12 0 14 6 48 38 5-19-48-37-14-6-12 1-58 30-60 14-64 46-46 7-18 9-18 21-18 32-78 183-26 55-20 31-18 10-14-5-14-16-52-97-62-84-53-103-15-20-14-10-16-3-44 4-58-19-16 1-36 14-16 3-62-20-16 2-50 14-16-2-48-19-16 1-50 15-16-3-46-19-16 1-18 6z"/>
<path fill="url(#Lg0_0)" stroke="url(#g0_0)" vector-effect="non-scaling-stroke" transform="matrix(0.50866 -0.02130 0 -0.10027 149.74 250.40)" d="M-62-603l18-6 16-1 46 18 16 3 50-14 16-1 48 18 16 3 50-15 16-1 62 19 16-2 36-14 16-2 58 20 44-4 16 3 14 10 15 19 53 103 62 85 52 96 14 17 14 5 18-10 20-31 26-55 78-183 18-32 18-21 18-9 46-7 64-47 60-13 58-31 12 0 14 5 48 38 5-19-48-36-26-5-58 29-60 14-64 45-46 8-18 8-18 21-20 35-82 190-22 47-18 27-18 10-14-5-14-17-52-95-46-57-16-23-53-103-15-20-14-11-16-3-44 3-58-19-68 17-62-18-66 15-64-21-16 1-50 14-16-3-46-18-34 6z"/>
<path fill="url(#Lg0_0)" stroke="url(#g0_0)" vector-effect="non-scaling-stroke" transform="matrix(0.50867 -0.02130 0 -0.10027 152.21 251.16)" d="M-62-604l34-6 46 17 16 3 50-13 16-1 64 21 66-16 62 19 68-17 58 18 44-3 16 4 14 10 15 20 53 103 16 24 46 57 52 95 14 16 14 6 18-10 18-28 22-46 82-190 20-36 18-20 18-9 46-7 64-45 60-14 58-30 26 5 48 36 5-18-48-35-26-5-58 29-60 14-64 44-46 7-18 9-20 22-20 35-84 194-20 41-18 26-16 9-12-4-14-16-54-96-46-53-16-23-56-107-14-18-14-10-16-4-42 2-58-17-68 16-62-18-66 14-64-20-16 1-50 13-62-20-34 6z"/>
<path fill="url(#Lg0_0)" stroke="url(#g0_0)" vector-effect="non-scaling-stroke" transform="matrix(0.50869 -0.02130 0 -0.10027 154.67 251.93)" d="M-62-605l34-5 62 19 50-12 16-1 64 20 66-14 62 18 68-17 58 18 42-2 16 3 14 10 14 18 56 107 16 23 46 54 54 96 14 15 12 4 16-8 18-26 20-42 84-193 20-35 20-23 18-8 46-8 64-44 60-14 58-28 26 5 48 34 5-18-48-34-26-5-58 28-60 14-62 42-50 9-18 9-20 23-22 39-30 66-54 126-16 34-18 26-16 9-12-4-14-16-50-89-16-21-44-47-18-30-44-86-14-18-14-11-16-4-44 1-56-17-68 16-62-17-66 13-64-20-66 13-62-19-34 5z"/>
<path fill="url(#Lg0_0)" stroke="url(#g0_0)" vector-effect="non-scaling-stroke" transform="matrix(0.50871 -0.02130 0 -0.10027 157.13 252.70)" d="M-62-605l34-6 62 19 66-12 64 19 66-13 62 17 68-15 56 16 44 0 16 4 14 10 14 19 44 86 18 30 44 47 16 21 50 89 14 15 12 4 16-8 18-27 16-33 54-126 30-66 22-39 20-23 18-10 50-8 62-42 60-14 58-28 26 5 48 34 5-19-48-32-14-5-14 1-56 26-60 14-62 40-50 9-18 9-20 22-24 42-28 59-54 126-18 38-16 23-16 9-10-2-12-12-56-95-60-64-16-26-44-86-14-19-16-12-16-4-42 0-56-16-68 14-62-16-66 12-64-19-66 12-62-19-34 5z"/>
<path fill="url(#Lg0_0)" stroke="url(#g0_0)" vector-effect="non-scaling-stroke" transform="matrix(0.50872 -0.02129 0 -0.10027 159.59 253.46)" d="M-62-606l34-5 62 18 66-11 64 19 66-12 62 16 68-15 56 16 42 1 16 3 16 13 14 19 44 86 16 26 60 63 56 96 12 11 10 3 16-9 16-24 18-37 54-126 28-60 24-41 20-22 18-9 50-9 62-40 60-14 56-27 14 0 14 4 48 33 5-18-48-32-28-4-56 26-60 14-62 39-50 8-18 9-22 24-26 45-30 63-52 121-16 32-16 23-14 7-12-3-12-13-42-73-16-23-56-54-18-29-44-85-14-19-16-11-56-5-56-16-68 14-62-15-66 11-66-19-64 11-62-18-34 5z"/>
<path fill="url(#Lg0_0)" stroke="url(#g0_0)" vector-effect="non-scaling-stroke" transform="matrix(0.50874 -0.02129 0 -0.10027 162.06 254.23)" d="M-62-607l34-4 62 17 64-10 66 19 66-12 62 16 68-14 56 15 56 5 16 12 14 18 44 86 18 29 56 53 16 23 42 74 12 12 12 4 14-7 16-23 16-33 52-121 30-62 26-45 22-24 18-9 50-9 62-38 60-14 56-26 28 4 48 32 5-18-48-31-28-4-56 25-58 13-64 38-50 9-18 8-24 26-28 47-32 66-48 112-16 32-16 22-14 6-12-5-12-13-38-67-18-25-42-34-16-17-16-26-46-88-14-18-16-12-54-5-54-15-70 13-62-15-66 10-66-18-64 10-62-17-34 4z"/>
<path fill="url(#Lg0_0)" stroke="url(#g0_0)" vector-effect="non-scaling-stroke" transform="matrix(0.50876 -0.02129 0 -0.10027 164.52 254.99)" d="M-62-607l34-5 62 18 64-10 66 18 66-10 62 15 70-13 54 14 54 6 16 11 14 18 46 89 16 25 16 18 42 33 18 26 38 67 12 13 12 5 14-6 16-22 16-32 48-112 32-66 28-48 24-25 18-9 50-8 64-38 58-13 56-25 28 4 48 30 5-17-48-30-28-3-56 23-58 13-64 37-50 8-20 10-24 25-30 50-32 65-46 107-16 32-14 19-14 7-12-4-12-13-38-66-16-23-15-14-31-20-16-17-16-25-46-88-14-17-16-12-54-7-52-13-72 12-60-14-66 9-66-18-64 9-62-17-34 4z"/>
<path fill="url(#Lg0_0)" stroke="url(#g0_0)" vector-effect="non-scaling-stroke" transform="matrix(0.50878 -0.02129 0 -0.10027 166.98 255.76)" d="M-62-608l34-4 62 17 64-9 66 18 66-9 60 14 72-13 52 14 54 7 16 11 14 18 46 88 16 25 16 17 31 20 15 14 16 22 38 66 12 13 12 5 14-7 14-19 16-32 46-107 32-65 30-50 24-26 20-9 50-9 64-36 58-13 56-24 28 4 48 30 5-17-48-29-28-4-56 22-58 13-64 35-50 8-20 10-22 21-24 37-40 76-60 135-16 24-14 7-12-3-12-13-38-65-16-21-15-13-31-18-16-15-18-28-44-84-16-20-16-12-52-7-52-13-72 11-60-13-66 8-66-18-64 8-62-16-34 4z"/>
<path fill="url(#Lg0_0)" stroke="url(#g0_0)" vector-effect="non-scaling-stroke" transform="matrix(0.50879 -0.02129 0 -0.10027 169.44 256.53)" d="M-62-609l34-3 62 16 64-8 66 17 66-8 60 14 72-12 52 13 52 8 16 11 16 20 44 85 18 28 16 15 31 17 15 13 16 22 38 65 12 12 12 4 14-8 16-23 60-135 40-77 24-36 22-22 20-9 50-8 64-35 58-13 56-22 28 3 48 29 5-16-46-28-30-5-56 22-58 12-64 34-50 8-22 10-28 29-36 59-26 51-44 102-16 31-14 18-12 5-10-3-12-12-38-64-16-21-15-12-33-16-16-14-18-28-44-84-16-20-16-11-102-21-72 10-60-12-66 7-66-17-64 6-62-15-34 3z"/>
<path fill="url(#Lg0_0)" stroke="url(#g0_0)" vector-effect="non-scaling-stroke" transform="matrix(0.50881 -0.02128 0 -0.10027 171.91 257.29)" d="M-62-609l34-4 62 16 64-7 66 17 66-7 60 13 72-11 102 21 16 11 16 20 44 84 18 28 16 15 33 16 15 12 16 21 38 63 12 12 10 4 12-6 14-17 16-32 44-101 26-52 36-58 28-29 22-11 50-8 64-33 58-13 56-21 30 4 46 28 5-15-46-29-30-4-56 20-58 13-64 31-50 8-22 10-24 23-30 43-36 66-58 130-16 22-14 6-10-4-12-12-36-60-16-20-15-11-35-14-16-15-16-24-46-87-16-20-18-12-96-20-74 10-60-12-66 5-66-16-64 5-62-14-34 2z"/>
<path fill="url(#Lg0_0)" stroke="url(#g0_0)" vector-effect="non-scaling-stroke" transform="matrix(0.50883 -0.02128 0 -0.10027 174.37 258.06)" d="M-62-610l34-3 62 15 64-6 66 17 66-6 60 12 74-10 96 21 18 12 16 19 46 88 16 24 16 15 35 13 15 12 16 20 36 60 12 12 10 4 14-6 16-22 58-130 36-66 30-44 24-23 22-9 50-8 64-32 58-12 56-20 30 4 46 28 5-14-44-29-32-5-56 19-58 12-64 30-50 7-22 10-28 26-32 45-34 62-42 97-14 28-14 20-14 8-10-3-12-12-38-61-16-19-16-9-32-10-16-13-18-27-46-87-16-20-18-12-94-20-76 9-60-12-68 5-64-16-62 4-62-14-34 3z"/>
<path fill="url(#Lg0_0)" stroke="url(#g0_0)" vector-effect="non-scaling-stroke" transform="matrix(0.50885 -0.02128 0 -0.10027 176.83 258.83)" d="M-62-611l34-2 62 14 62-5 64 16 68-4 60 12 76-9 94 20 18 12 16 20 46 87 18 26 16 13 32 10 16 10 16 19 38 61 12 11 10 3 14-7 14-20 14-28 42-97 34-62 32-45 28-27 22-9 50-8 64-29 58-13 56-19 32 5 44 29 5-13-42-30-18-6-16 0-58 18-56 11-64 28-52 8-22 10-30 28-34 47-32 58-40 92-14 29-14 19-14 7-10-3-10-9-38-60-16-18-16-9-32-7-18-14-18-26-32-63-16-27-16-19-18-11-90-20-76 8-60-10-68 3-64-16-60 4-64-14-34 2z"/>
<path fill="url(#Lg0_0)" stroke="url(#g0_0)" vector-effect="non-scaling-stroke" transform="matrix(0.50886 -0.02128 0 -0.10027 179.29 259.59)" d="M-62-611l34-2 64 13 60-3 64 15 68-3 60 11 76-8 90 19 18 12 16 18 16 27 32 64 18 26 18 14 32 7 16 9 16 18 38 59 10 10 10 3 14-7 14-19 14-29 40-92 32-58 34-47 30-28 22-10 52-8 64-28 56-11 58-19 16 0 18 6 42 30 5-12-42-33-16-6-18-1-58 18-52 9-64 27-56 9-22 9-32 28-36 49-30 53-40 92-14 28-14 19-14 7-10-3-10-10-36-55-16-18-16-8-34-6-18-13-18-26-32-64-16-26-18-21-18-11-84-18-78 7-60-10-68 2-64-16-60 3-64-13-34 1z"/>
<path fill="url(#Lg0_0)" stroke="url(#g0_0)" vector-effect="non-scaling-stroke" transform="matrix(0.50888 -0.02128 0 -0.10027 181.76 260.36)" d="M-62-612l34-2 64 13 60-2 64 15 68-2 60 11 78-8 84 19 18 11 18 20 16 27 32 63 18 27 18 13 34 5 16 9 16 18 36 55 10 9 10 4 14-7 14-19 14-28 40-92 30-54 36-48 32-28 22-9 56-9 64-27 52-10 58-17 18 1 16 6 42 33 5-10-22-23-18-13-18-8-18-1-110 25-64 25-56 9-22 8-32 26-38 49-30 52-40 92-14 28-14 19-14 6-10-3-10-10-36-53-16-17-16-6-32-3-18-11-18-25-34-67-16-27-18-21-20-12-80-18-80 7-58-10-66 1-66-16-60 2-64-13-34 2z"/>
<path fill="url(#Lg0_0)" stroke="url(#g0_0)" vector-effect="non-scaling-stroke" transform="matrix(0.50890 -0.02127 0 -0.10027 184.22 261.13)" d="M-62-613l34-1 64 13 60-2 66 16 66-1 58 9 80-6 80 18 20 12 18 20 16 27 34 67 18 25 18 12 32 2 16 7 16 17 36 53 10 9 10 4 14-7 14-19 14-28 40-91 30-53 38-48 32-26 22-9 56-9 64-24 110-26 18 2 18 7 18 14 22 22 5-8-22-26-18-15-18-9-18-2-110 23-64 24-56 8-24 9-34 28-38 46-28 49-40 91-14 28-14 19-14 7-18-11-36-51-16-16-16-7-34 0-18-11-18-26-34-67-16-27-18-21-22-13-74-17-84 5-56-8-66-1-68-16-58 1-64-12-34 1z"/>
<path fill="url(#Lg0_0)" stroke="url(#g0_0)" vector-effect="non-scaling-stroke" transform="matrix(0.50891 -0.02127 0 -0.10027 186.68 261.89)" d="M-62-613l34-1 64 12 58-1 68 16 66 0 56 9 84-6 74 17 22 14 18 21 16 27 34 67 18 25 18 11 34 1 16 6 16 17 36 51 18 10 14-6 14-19 14-28 40-92 28-48 38-47 34-27 24-9 56-9 64-23 110-23 18 2 18 9 18 15 22 26 5-6-22-30-18-17-18-11-20-3-106 21-66 21-56 9-24 9-38 29-38 45-28 49-38 87-14 28-14 19-14 6-18-10-36-49-16-14-16-5-34 1-18-11-18-26-36-71-16-26-18-21-22-13-68-15-88 4-56-8-62-1-70-16-58-1-62-11-36 0z"/>
<path fill="url(#Lg0_0)" stroke="url(#g0_0)" vector-effect="non-scaling-stroke" transform="matrix(0.50893 -0.02127 0 -0.10027 189.14 262.66)" d="M-62-614l36 0 62 11 58 0 70 16 62 2 56 8 88-5 68 16 22 13 18 20 16 27 36 71 18 25 18 11 34-1 16 5 16 15 36 49 18 10 14-6 14-19 14-29 38-87 28-48 38-46 38-29 24-8 56-9 66-22 106-21 20 4 18 10 18 18 22 29 5-4-22-33-18-20-18-13-20-5-106 18-64 20-58 9-24 8-40 29-38 43-28 48-38 87-14 28-14 19-14 7-18-10-34-44-16-15-16-5-34 4-18-10-20-27-36-72-16-27-20-22-24-14-62-14-90 5-54-8-62-3-70-16-58-2-62-10-36 0z"/>
<path fill="url(#Lg0_0)" stroke="url(#g0_0)" vector-effect="non-scaling-stroke" transform="matrix(0.50895 -0.02127 0 -0.10027 191.61 263.43)" d="M-62-615l36 0 62 11 58 2 70 16 62 3 54 7 90-4 62 14 24 14 20 22 16 27 36 72 20 27 18 9 34-3 16 5 16 15 34 44 18 9 14-6 14-19 14-29 38-87 28-48 38-43 40-29 24-8 58-8 64-20 106-18 20 5 18 12 18 21 22 33 5-2-22-37-20-26-18-14-20-7-100 15-68 19-56 8-24 7-42 28-40 42-28 48-52 115-16 21-14 6-16-9-34-42-16-13-16-4-34 5-18-9-20-28-36-73-18-30-20-21-24-14-56-13-94 4-112-11-74-17-60-3-62-10-32 0z"/>
<path fill="url(#Lg0_0)" stroke="url(#g0_0)" vector-effect="non-scaling-stroke" transform="matrix(0.50897 -0.02127 0 -0.10027 194.07 264.19)" d="M-62-615l32 0 62 10 60 3 74 16 112 12 94-4 56 13 24 13 20 22 18 30 36 72 20 28 18 9 34-4 16 3 16 14 34 42 16 8 14-5 16-21 52-116 28-47 40-43 42-27 24-7 56-8 68-19 100-15 20 7 18 14 20 26 22 37 5 0-24-44-20-28-20-18-20-8-24 0-68 11-72 18-80 15-44 26-22 20-18 21-28 47-40 91-14 28-14 18-14 6-16-8-34-39-16-12-16-3-34 6-18-9-20-28-36-73-18-31-22-24-24-13-58-12-98 3-100-12-76-17-154-14z"/>
<path fill="url(#Lg0_0)" stroke="url(#g0_0)" vector-effect="non-scaling-stroke" transform="matrix(0.50898 -0.02126 0 -0.10027 196.53 264.96)" d="M-62-616l154 14 76 17 100 11 98-2 58 12 24 13 22 24 18 30 36 74 20 28 18 9 34-6 16 3 16 12 34 39 16 8 14-6 14-18 14-28 40-91 28-47 18-21 22-20 44-26 80-15 72-18 68-11 24 0 20 7 20 18 20 29 24 43 5 2-28-54-20-30-20-20-20-9-26-1-54 7-158 32-46 25-22 18-18 20-16 23-14 26-40 91-14 28-16 21-14 4-16-8-30-33-16-12-16-3-34 8-20-10-18-25-40-81-18-30-22-24-24-13-54-11-104 2-90-11-82-19-152-14z"/>
<path fill="url(#Lg0_0)" stroke="url(#g0_0)" vector-effect="non-scaling-stroke" transform="matrix(0.50900 -0.02126 0 -0.10027 198.99 265.73)" d="M-62-617l152 15 82 19 90 11 104-2 54 11 24 13 22 23 18 30 40 82 18 25 20 9 34-7 16 2 16 13 30 33 16 8 14-5 16-20 14-28 40-92 14-25 16-23 18-20 22-18 46-25 158-32 54-7 26 1 20 9 20 19 20 31 28 53 5 3-32-64-20-32-20-21-20-11-24-3-36 3-172 31-50 25-22 17-18 19-16 23-14 26-42 96-14 27-16 19-14 4-14-7-30-30-16-11-16-2-34 8-18-7-20-27-40-83-18-31-22-24-24-14-52-10-76 3-38-2-76-11-86-20-152-16z"/>
<path fill="url(#Lg0_0)" stroke="url(#g0_0)" vector-effect="non-scaling-stroke" transform="matrix(0.50902 -0.02126 0 -0.10027 201.46 266.49)" d="M-62-617l152 15 86 20 76 12 38 2 76-3 52 10 24 13 22 25 18 30 40 83 20 27 18 8 34-9 16 2 16 11 30 31 14 7 14-4 16-19 14-28 42-96 14-25 16-23 18-19 22-17 50-25 172-31 36-4 24 3 20 11 20 22 20 32 32 63 5 3-38-76-18-31-20-23-22-14-22-5-30 2-170 28-54 24-22 16-20 20-16 23-14 25-42 96-14 28-16 20-16 5-14-7-28-27-16-10-16-1-34 9-18-7-20-28-40-84-18-31-22-25-24-15-50-9-82 3-38-2-158-34-150-17z"/>
<path fill="url(#Lg0_0)" stroke="url(#g0_0)" vector-effect="non-scaling-stroke" transform="matrix(0.50904 -0.02126 0 -0.10027 203.92 267.26)" d="M-62-618l150 16 158 34 38 2 82-3 50 10 24 14 22 25 18 32 40 84 20 27 18 8 34-9 16 1 16 10 28 27 14 7 16-5 16-20 14-28 42-96 14-26 16-22 20-21 22-16 54-23 170-29 30-1 22 4 22 14 20 24 18 31 38 75 5 3-46-91-16-28-20-26-22-15-20-6-28 0-162 25-58 22-24 16-20 19-16 21-16 28-44 101-14 28-16 20-16 4-12-5-28-25-15-9-15-1-34 10-20-8-20-28-40-85-18-32-22-26-24-15-48-9-124 1-154-37-150-17z"/>
<path fill="url(#Lg0_0)" stroke="url(#g0_0)" vector-effect="non-scaling-stroke" transform="matrix(0.50905 -0.02126 0 -0.10027 206.38 268.02)" d="M-62-619l150 17 154 37 124-1 48 9 24 15 22 26 18 32 40 86 20 28 20 8 34-10 15 1 15 9 28 24 12 6 16-5 16-20 14-27 44-101 16-28 16-22 20-19 24-16 58-21 162-25 28 0 20 5 22 16 20 26 16 27 46 91 5 1-16-27-36-73-18-32-20-27-20-15-20-7-26-1-150 21-64 20-26 16-20 18-18 23-16 28-46 106-14 27-16 20-16 4-54-35-14 0-34 10-20-8-20-28-40-88-18-32-22-27-24-15-48-9-122 2-156-41-148-18z"/>
<path fill="url(#Lg0_0)" stroke="url(#g0_0)" vector-effect="non-scaling-stroke" transform="matrix(0.50907 -0.02125 0 -0.10027 208.85 268.79)" d="M-62-619l148 17 156 42 122-3 48 9 24 15 22 27 18 33 40 87 20 29 20 8 34-10 14 0 54 34 16-4 16-19 14-27 46-106 16-28 18-23 20-19 26-15 64-20 150-21 26 1 20 7 20 15 20 26 18 33 36 73 16 27 5 0-22-35-40-82-16-29-18-24-20-18-20-8-24-1-136 16-40 8-34 12-26 15-22 19-18 23-16 28-46 106-16 32-16 19-16 4-50-30-16 0-34 11-20-9-20-29-40-90-20-36-22-26-24-15-48-8-88 5-30-1-152-46-68-11-84-8z"/>
<path fill="url(#Lg0_0)" stroke="url(#g0_0)" vector-effect="non-scaling-stroke" transform="matrix(0.50909 -0.02125 0 -0.10027 211.31 269.56)" d="M-62-620l84 8 68 11 152 45 30 2 88-5 48 8 24 14 22 27 20 36 40 89 20 30 20 8 34-10 16 0 50 29 16-4 16-18 16-32 46-107 16-28 18-23 22-19 26-14 34-12 40-9 136-16 24 2 20 8 20 17 18 25 16 29 40 82 22 34 5-2-12-13-14-22-48-99-22-37-24-25-28-12-38-1-128 15-48 13-38 20-26 24-22 32-20 41-36 87-14 27-14 17-14 6-12-3-40-23-16 1-32 11-20-8-10-11-12-21-40-91-20-38-22-26-24-15-50-9-84 8-28-1-150-51-68-12-88-9z"/>
<path fill="url(#Lg0_0)" stroke="url(#g0_0)" vector-effect="non-scaling-stroke" transform="matrix(0.50911 -0.02125 0 -0.10027 213.77 270.32)" d="M-62-621l88 9 68 12 150 50 28 1 84-7 50 8 24 15 22 27 20 37 40 92 12 20 10 12 20 7 32-11 16 0 40 23 12 3 14-6 14-17 14-27 36-87 20-41 22-33 26-24 38-19 48-13 128-15 38 0 28 12 24 26 22 37 48 98 14 22 12 14 5-5-16-14-16-24-52-107-22-37-24-25-28-12-42-1-118 14-50 13-36 19-26 24-22 34-18 37-38 94-14 27-14 17-14 5-50-22-14 0-34 12-10-1-10-7-10-12-12-21-40-93-18-35-22-29-26-17-24-7-28-2-82 10-24 0-26-8-74-34-48-15-70-13-90-9z"/>
<path fill="url(#Lg0_0)" stroke="url(#g0_0)" vector-effect="non-scaling-stroke" transform="matrix(0.50912 -0.02125 0 -0.10027 216.23 271.09)" d="M-62-622l90 10 70 13 48 15 74 34 26 7 24 1 82-11 28 2 24 7 26 18 22 28 18 35 40 93 12 22 10 12 10 6 10 2 34-12 14-1 50 23 14-6 14-17 14-27 38-93 18-38 22-33 26-24 36-19 50-14 118-13 42 1 28 12 24 25 22 37 52 107 16 24 16 14 5-8-18-10-18-23-18-34-40-86-22-37-24-25-28-12-46-1-108 12-50 13-38 21-24 23-22 35-18 39-36 90-14 29-14 18-16 7-48-18-14 1-34 11-10-1-10-7-10-13-12-22-40-95-18-36-22-29-26-18-24-7-30-2-78 14-24 0-24-9-70-37-48-17-72-15-94-10z"/>
<path fill="url(#Lg0_0)" stroke="url(#g0_0)" vector-effect="non-scaling-stroke" transform="matrix(0.50914 -0.02124 0 -0.10027 218.70 271.86)" d="M-62-622l94 10 72 15 48 17 70 37 24 8 24 1 78-15 30 2 24 7 26 19 22 29 18 35 40 96 12 22 10 12 10 7 10 2 34-12 14-1 48 19 16-7 14-19 14-28 36-91 18-39 22-34 24-24 38-20 50-13 108-12 46 1 28 12 24 25 22 37 40 86 18 33 18 23 18 11 5-10-22-7-20-24-18-32-44-96-24-39-24-24-26-10-44-2-94 9-48 11-38 16-28 23-24 34-20 42-44 111-12 23-10 13-10 7-10 2-48-15-44 14-18-8-16-22-14-30-36-88-22-41-18-23-22-16-26-8-30-2-28 5-48 14-22 1-24-10-66-41-48-20-72-17-100-11z"/>
<path fill="url(#Lg0_0)" stroke="url(#g0_0)" vector-effect="non-scaling-stroke" transform="matrix(0.50916 -0.02124 0 -0.10027 221.16 272.62)" d="M-62-623l100 11 72 17 48 19 66 42 24 9 22 0 48-15 28-4 30 1 26 9 22 16 18 22 22 42 36 88 14 30 16 22 18 7 44-13 48 15 10-2 10-7 10-13 12-23 44-111 20-42 24-34 28-23 38-17 48-11 94-8 44 1 26 11 24 23 24 40 44 95 18 33 20 23 22 8 5-12-24-2-12-9-12-15-20-35-52-113-18-28-18-19-20-12-22-5-88 3-50 7-40 11-32 16-24 20-16 21-16 28-16 37-42 109-14 26-12 13-18 6-44-11-36 12-12 0-16-10-14-21-14-30-36-91-20-39-20-26-22-17-26-9-30-1-26 6-48 19-22 1-22-10-64-48-46-22-74-18-104-13z"/>
<path fill="url(#Lg0_0)" stroke="url(#g0_0)" vector-effect="non-scaling-stroke" transform="matrix(0.50917 -0.02124 0 -0.10027 223.62 273.39)" d="M-62-624l104 12 74 19 46 21 64 49 22 10 22-1 48-20 26-5 30 1 26 9 22 16 20 27 20 39 36 90 14 31 14 21 16 10 12-1 36-12 44 11 18-5 12-14 14-26 42-109 16-36 16-28 16-21 24-21 32-15 40-11 50-7 88-3 22 5 20 12 18 18 18 29 52 112 20 36 12 15 12 8 24 2 5-13-16 4-12-1-14-8-12-14-22-38-38-87-16-32-18-28-18-19-20-11-24-6-90 3-48 7-38 12-28 15-24 23-16 22-14 27-16 38-40 106-14 28-12 15-18 8-44-8-34 11-14 1-14-9-16-24-14-32-36-92-20-40-20-27-22-18-28-9-30 0-24 7-44 25-22 2-22-11-62-56-46-25-74-20-108-13z"/>
<path fill="url(#Lg0_0)" stroke="url(#g0_0)" vector-effect="non-scaling-stroke" transform="matrix(0.50919 -0.02124 0 -0.10027 226.08 274.16)" d="M-62-625l108 13 74 21 46 24 62 56 22 12 22-3 44-24 24-8 30 0 28 10 22 17 20 28 20 40 36 92 14 31 16 25 14 8 14 0 34-11 44 7 18-7 12-15 14-28 40-107 16-37 14-27 16-23 24-22 28-15 38-12 48-7 90-3 24 5 20 12 18 19 18 28 16 32 38 86 22 39 12 13 14 9 12 1 16-5 5-15-20 8-14 1-14-7-12-12-22-37-42-96-16-33-18-28-20-20-20-11-26-5-90 3-44 8-36 12-26 16-22 22-18 27-16 34-44 119-12 29-12 22-10 12-16 8-42-5-36 12-12 0-16-10-16-25-14-33-36-94-20-42-20-28-22-18-28-11-30 2-24 11-42 30-22 4-20-13-60-65-44-28-76-23-112-14z"/>
<path fill="url(#Lg0_0)" stroke="url(#g0_0)" vector-effect="non-scaling-stroke" transform="matrix(0.50921 -0.02124 0 -0.10027 228.55 274.92)" d="M-62-626l112 15 76 23 44 27 60 66 20 12 22-3 42-31 24-10 30-2 28 10 22 19 20 28 20 41 36 95 14 32 16 25 16 11 12-1 36-11 42 5 16-8 10-12 12-22 12-29 44-120 16-33 18-28 22-22 26-15 36-13 44-8 90-3 26 6 20 11 20 20 18 28 16 33 42 96 22 37 12 12 14 7 14-1 20-8 5-17-20 12-18 4-14-4-14-12-12-17-12-23-42-97-18-37-20-31-20-19-20-10-26-6-90 4-40 8-34 13-26 17-20 21-16 26-16 34-56 153-12 23-12 16-16 8-40-1-46 11-16-10-17-27-15-35-36-97-20-43-20-29-22-20-28-10-30 3-22 13-42 40-20 5-20-15-40-55-18-21-20-18-22-13-34-15-42-11-118-16z"/>
<path fill="url(#Lg0_0)" stroke="url(#g0_0)" vector-effect="non-scaling-stroke" transform="matrix(0.50923 -0.02123 0 -0.10027 231.01 275.69)" d="M-62-626l118 15 42 12 34 14 22 14 20 17 18 21 40 56 20 14 20-5 42-40 22-13 30-3 28 11 22 19 20 30 20 43 36 97 15 35 17 27 16 9 46-11 40 2 16-9 12-15 12-24 56-153 16-34 16-25 20-22 26-17 34-12 40-9 90-3 26 5 20 10 20 20 20 30 18 37 42 98 12 23 12 16 14 13 14 3 18-4 20-11 5-19-18 15-24 9-16-2-16-13-12-17-12-22-44-104-18-37-20-31-20-19-22-11-28-5-88 4-38 9-30 13-24 17-20 23-16 27-16 36-42 121-14 36-12 24-10 14-18 11-38 2-34 9-12 0-18-13-16-27-14-34-36-100-22-49-20-29-20-19-28-11-28 5-22 16-42 51-10 7-10 0-10-6-10-12-36-62-18-26-20-21-22-15-34-16-42-13-122-17z"/>
<path fill="url(#Lg0_0)" stroke="url(#g0_0)" vector-effect="non-scaling-stroke" transform="matrix(0.50924 -0.02123 0 -0.10027 233.47 276.46)" d="M-62-627l122 17 42 12 34 16 22 16 20 21 18 25 36 62 10 12 10 7 10-1 10-6 42-51 22-17 28-4 28 11 20 18 20 30 22 48 36 100 14 34 16 28 18 13 12 0 34-10 38-1 18-11 10-14 12-24 14-36 42-122 16-36 16-26 20-24 24-17 30-12 38-9 88-4 28 5 22 11 20 19 20 31 18 37 44 104 12 22 12 17 16 12 16 3 24-10 18-15 5-22-20 22-24 13-18 1-18-11-12-16-14-25-46-110-20-41-20-29-22-20-22-10-30-4-44 0-42 5-34 10-28 13-22 18-20 26-16 30-14 34-54 158-12 26-12 18-20 13-78 11-18-12-16-27-16-40-36-103-22-50-20-32-22-21-28-10-26 7-22 23-40 62-10 8-8 1-10-7-10-14-36-75-18-31-18-22-22-18-34-18-42-13-126-19z"/>
<path fill="url(#Lg0_0)" stroke="url(#g0_0)" vector-effect="non-scaling-stroke" transform="matrix(0.50926 -0.02123 0 -0.10027 235.93 277.22)" d="M-62-628l126 18 42 14 34 18 22 18 18 22 18 31 36 75 10 14 10 6 8 0 10-8 40-63 22-22 26-7 28 10 22 21 20 31 22 51 36 103 16 40 16 27 18 12 78-12 20-13 12-17 12-26 54-159 14-33 16-30 20-26 22-18 28-14 34-9 42-6 44 0 30 5 22 10 22 19 20 30 20 41 46 109 14 26 12 15 18 12 18-2 24-12 20-23 5-26-16 25-18 17-26 11-18-3-14-12-16-25-16-34-34-84-16-35-18-31-20-24-24-16-32-8-48-1-48 7-30 10-26 15-22 20-18 26-14 27-16 41-52 159-12 28-12 20-10 10-12 7-74 12-16-10-15-22-17-40-38-114-20-50-22-40-24-25-28-10-14 3-12 8-20 27-40 78-10 10-8 1-8-6-10-17-36-91-16-33-18-27-20-20-34-20-44-16-56-11-74-9z"/>
<path fill="url(#Lg0_0)" stroke="url(#g0_0)" vector-effect="non-scaling-stroke" transform="matrix(0.50928 -0.02123 0 -0.10027 238.40 277.99)" d="M-62-629l74 9 56 11 44 15 34 21 20 20 18 27 16 33 36 91 10 16 8 6 8 0 10-10 40-79 20-26 12-8 14-3 28 10 24 25 22 39 20 51 38 113 17 41 15 22 16 9 74-12 12-6 10-10 12-20 12-28 52-160 16-40 14-27 18-26 22-21 26-14 30-10 48-7 48 1 32 8 24 16 20 23 18 32 16 35 34 84 16 34 16 25 14 12 18 3 26-11 18-17 16-25 5-30-20 37-18 21-28 14-20-2-14-11-16-25-16-34-34-85-18-40-18-31-20-24-26-17-34-8-48 0-46 8-28 12-24 16-18 19-18 27-14 30-14 37-54 174-12 29-12 20-10 11-13 8-71 10-16-10-16-25-16-40-38-120-20-54-22-42-24-27-14-7-14-2-14 5-12 11-10 15-10 19-36 91-9 14-9 3-8-7-10-19-36-109-16-40-18-32-20-22-32-22-44-16-58-13-76-8z"/>
<path fill="url(#Lg0_0)" stroke="url(#g0_0)" vector-effect="non-scaling-stroke" transform="matrix(0.50930 -0.02123 0 -0.10027 240.86 278.76)" d="M-62-630l76 9 58 12 44 17 32 22 20 22 18 31 16 40 36 110 10 19 8 7 9-4 9-13 36-91 10-20 10-14 12-11 14-5 14 1 14 8 24 27 22 42 20 54 38 119 16 41 16 25 16 10 71-10 13-8 10-11 12-21 12-29 54-173 14-37 14-30 18-28 18-19 24-16 28-11 46-9 48 1 34 8 26 17 20 23 18 32 18 40 34 85 16 34 16 24 14 12 20 2 28-14 18-21 20-37 5-33-22 48-20 28-30 18-22 0-14-12-16-23-16-34-36-91-18-40-18-32-20-24-28-18-34-8-48 0-44 10-26 13-22 17-18 22-18 31-14 34-14 40-38 133-14 45-12 31-12 22-12 13-12 7-66 8-18-11-16-26-16-43-38-127-20-58-22-46-22-27-14-8-14-2-14 6-12 13-10 18-10 24-36 114-9 17-9 3-8-9-10-26-32-119-16-49-18-39-20-26-32-24-44-19-58-13-80-9z"/>
<path fill="url(#Lg0_0)" stroke="url(#g0_0)" vector-effect="non-scaling-stroke" transform="matrix(0.50931 -0.02122 0 -0.10027 243.32 279.52)" d="M-62-631l80 10 58 13 44 18 32 24 20 27 18 38 16 49 32 120 10 25 8 10 9-4 9-17 36-113 10-24 10-18 12-13 14-7 14 2 14 9 22 27 22 45 20 58 38 128 16 42 16 27 18 11 66-8 12-7 12-13 12-23 12-30 14-45 38-133 14-41 14-33 18-32 18-21 22-18 26-12 44-10 48 0 34 8 28 18 20 24 18 31 18 41 36 90 16 34 16 24 14 11 22 1 30-18 20-28 22-49 5-36-26 64-22 35-14 13-16 8-12 3-12-2-16-13-16-25-16-34-36-92-16-37-20-35-20-25-28-18-36-9-46 1-42 11-26 15-20 18-18 25-16 32-12 30-14 43-40 150-14 48-12 33-12 24-12 15-12 6-66 4-18-13-16-30-16-47-36-133-20-63-22-49-22-29-16-9-14 1-12 8-12 18-10 23-10 31-34 134-8 20-8 6-8-10-8-23-34-153-16-58-16-40-20-32-32-27-44-20-60-14-82-10z"/>
<path fill="url(#Lg0_0)" stroke="url(#g0_0)" vector-effect="non-scaling-stroke" transform="matrix(0.50933 -0.02122 0 -0.10027 245.78 280.29)" d="M-62-631l82 10 60 14 44 19 32 28 20 32 16 40 16 58 34 153 8 23 8 9 8-5 8-20 34-134 10-32 10-23 12-17 12-9 14 0 16 9 22 28 22 50 20 63 36 132 16 48 16 30 18 12 66-4 12-6 12-14 12-24 12-33 14-48 40-150 14-43 12-31 16-31 18-25 20-18 26-15 42-11 46-1 36 8 28 19 20 24 20 36 16 37 36 91 16 35 16 25 16 13 12 2 12-3 16-9 14-12 22-35 26-64 5-39-28 77-12 25-12 19-12 14-14 10-16 7-14-1-16-10-18-27-16-34-36-93-18-41-20-36-22-27-30-19-36-8-44 2-40 14-22 15-20 21-18 29-16 36-12 34-14 49-40 164-12 45-12 37-12 27-10 12-10 5-36-5-36 5-16-12-14-30-14-46-38-156-18-63-10-28-12-27-10-18-12-14-16-10-14 1-12 10-12 20-10 28-10 37-10 47-18 94-8 36-7 19-7 5-6-10-8-29-32-176-16-71-16-49-20-37-14-17-16-13-44-23-62-15-86-11z"/>
<path fill="url(#Lg0_1)" stroke="url(#g0_1)" vector-effect="non-scaling-stroke" transform="matrix(0.50935 -0.02122 0 -0.10027 248.25 281.05)" d="M-62-632l86 10 62 16 44 22 16 14 14 16 20 38 16 49 16 71 32 176 8 29 6 9 7-4 7-20 8-35 18-94 10-47 10-37 10-28 12-21 12-10 14-1 16 10 12 15 10 17 12 28 10 28 18 63 38 156 14 46 14 29 16 13 36-6 36 6 10-5 10-13 12-26 12-37 12-45 40-165 14-48 12-35 16-36 18-28 20-22 22-14 40-14 44-3 36 8 30 20 22 26 20 36 18 42 36 93 16 34 18 26 16 11 14 0 16-6 14-10 12-14 12-19 12-26 28-76 5-40-32 93-12 28-12 22-12 17-14 12-20 10-14 0-16-9-18-26-18-39-36-93-18-42-20-37-22-28-30-20-38-8-42 4-38 15-22 18-20 26-16 30-16 41-12 40-14 54-52 237-10 36-10 25-8 12-8 5-8-2-22-16-10-3-40 16-8-4-8-12-6-14-8-26-12-50-34-163-12-49-10-36-20-53-20-31-16-11-14 1-14 15-12 27-12 43-10 49-32 203-6 23-6 8-6-10-8-37-28-194-10-59-8-39-16-60-10-25-10-19-14-20-16-15-44-24-62-16-90-12z"/>
<path fill="url(#Lg0_2)" stroke="url(#g0_2)" vector-effect="non-scaling-stroke" transform="matrix(0.50936 -0.02122 0 -0.10027 250.71 281.82)" d="M-62-633l90 11 62 17 44 24 16 15 14 19 10 19 10 26 16 59 8 40 10 59 28 194 8 37 6 9 6-7 6-24 32-202 10-49 12-43 12-27 14-15 14-2 16 12 20 31 20 53 10 35 12 50 34 162 12 51 8 25 6 15 8 11 8 5 40-16 10 3 22 16 8 1 8-4 8-12 10-26 10-35 52-237 14-55 12-39 16-41 16-31 20-25 22-18 38-16 42-3 38 8 30 20 22 27 20 37 18 42 36 94 18 38 18 26 16 10 14 0 20-10 14-13 12-16 12-22 12-28 32-93 5-41-38 114-14 35-12 23-12 18-14 13-20 10-14 2-18-11-18-27-18-39-38-100-18-42-20-36-22-27-30-20-38-8-40 6-36 18-22 21-18 28-18 40-16 49-14 55-14 65-48 261-8 35-8 24-7 12-9 0-8-9-20-33-14-8-10 6-22 32-10 6-6-4-6-10-6-19-6-24-10-52-32-185-12-59-10-43-10-35-12-34-10-21-12-18-16-12-16 3-14 20-12 34-12 53-10 61-8 60-18 158-6 44-5 24-5 5-4-10-6-34-26-231-8-61-10-63-8-42-10-40-10-31-10-22-12-20-16-18-20-15-24-12-64-18-94-13z"/>
<path fill="url(#Lg0_3)" stroke="url(#g0_3)" vector-effect="non-scaling-stroke" transform="matrix(0.50938 -0.02122 0 -0.10027 253.17 282.59)" d="M-62-634l94 12 64 19 24 12 20 15 16 18 12 19 10 23 10 30 10 41 8 41 10 64 8 61 26 231 6 34 4 9 5-5 5-23 6-44 18-158 8-60 10-62 12-53 12-34 14-19 16-4 16 12 12 19 10 21 12 34 10 35 10 42 12 60 32 185 10 51 6 25 6 18 6 11 6 4 10-7 22-32 10-6 14 8 20 34 8 9 9-1 7-11 8-25 8-34 48-261 14-66 14-54 16-50 18-40 18-27 22-21 36-19 40-5 38 7 30 20 22 28 20 36 18 42 38 100 18 39 18 27 18 10 14-1 20-11 14-13 12-17 12-23 14-35 38-115 5-40-44 136-14 36-12 26-14 22-14 14-20 11-14 3-18-10-18-25-18-39-40-106-20-47-20-37-22-27-30-20-38-6-40 8-34 22-22 27-18 35-18 50-16 61-12 57-14 78-16 105-28 203-8 46-6 23-4 9-4 2-6-8-6-17-20-73-8-16-8-5-6 4-6 11-8 23-16 55-6 13-4 3-3-2-5-10-4-15-6-32-36-265-12-75-12-64-12-52-12-41-12-30-12-21-18-16-10 0-8 6-8 12-6 13-8 26-6 25-10 56-10 76-10 98-20 236-4 30-4 11-4-10-4-29-24-286-8-79-8-66-8-54-10-54-10-40-12-35-12-24-16-21-20-18-24-13-66-20-98-14z"/>
<path fill="url(#Lg0_4)" stroke="url(#g0_4)" vector-effect="non-scaling-stroke" transform="matrix(0.50940 -0.02121 0 -0.10027 255.63 283.35)" d="M-62-635l98 13 66 21 24 13 20 17 16 22 12 24 12 34 10 41 10 54 8 54 8 66 8 79 24 286 4 29 4 10 4-12 4-29 20-236 10-98 10-76 10-56 6-25 8-26 6-13 8-12 8-6 10 0 18 15 12 22 12 30 12 41 12 51 12 64 12 76 36 264 6 32 4 16 5 10 3 2 4-3 6-13 16-56 8-22 6-11 6-5 8 5 8 17 20 72 6 18 6 7 4-2 4-8 6-23 8-46 28-204 16-104 14-79 12-57 16-60 18-51 18-34 22-27 34-22 40-9 38 7 30 20 22 27 20 36 20 47 40 106 18 39 18 26 18 9 14-2 20-12 14-14 14-22 12-25 14-37 44-136 5-40-52 162-24 61-12 21-14 18-20 14-16 5-20-8-20-27-18-40-42-113-20-48-22-40-22-26-16-12-18-7-42-2-38 16-16 13-16 19-20 36-18 49-18 70-16 84-14 92-14 112-12 117-22 238-6 42-5 15-5-7-4-19-18-141-8-50-8-29-6-9-6 4-8 22-10 56-14 109-6 37-4 13-2 2-4-6-4-20-6-49-22-242-12-115-12-94-12-77-16-79-8-31-10-31-18-38-10-11-10-6-8 1-8 7-8 13-6 15-12 46-12 73-8 68-8 87-10 145-14 250-4 48-1 8-3 5-2-8-4-44-18-318-8-112-8-89-10-87-10-67-10-50-12-43-12-29-16-26-18-18-24-16-30-13-38-10-104-14z"/>
<path fill="url(#Lg0_4)" stroke="url(#g0_4)" vector-effect="non-scaling-stroke" transform="matrix(0.50942 -0.02121 0 -0.10027 258.10 284.12)" d="M-62-636l104 15 38 10 30 13 24 15 18 19 16 25 12 30 12 43 10 50 10 66 10 88 8 89 8 112 18 318 4 43 2 9 3-6 1-7 4-49 14-250 10-144 8-88 8-67 12-73 12-46 6-15 8-14 8-6 8-1 10 5 10 12 18 38 10 31 8 31 16 79 12 76 12 95 12 114 22 243 6 49 4 20 4 6 2-2 4-13 6-38 14-108 10-56 8-23 6-3 6 8 8 30 8 49 18 141 4 19 5 7 5-14 6-42 22-238 12-117 14-113 14-91 16-84 18-70 18-49 20-36 16-20 16-13 38-15 42 1 18 8 16 12 22 26 22 40 20 47 42 114 18 39 20 28 20 8 16-5 20-15 14-17 12-21 24-61 52-162 5-39-20 58-42 135-22 57-12 23-14 18-20 16-16 7-12-1-10-7-20-28-20-45-42-117-20-49-24-44-24-26-18-11-20-5-22 0-20 5-18 9-18 15-16 20-14 25-12 28-10 30-10 37-8 35-10 52-8 49-8 56-8 65-12 120-10 129-10 166-16 315-4 49-3 14-3-10-4-44-14-250-6-88-4-46-8-64-4-19-6-13-6 5-4 13-6 36-4 35-8 98-14 245-4 58-2 18-2 10-1 1-3-12-2-19-4-61-14-280-8-136-10-135-10-106-14-114-16-96-8-37-10-39-8-24-10-23-12-19-12-10-10 1-10 10-10 22-8 28-8 39-8 53-6 52-6 63-10 142-8 165-14 388-3 47-3-1-4-69-10-289-6-148-6-116-6-92-10-117-10-87-12-76-12-52-12-36-16-31-18-21-22-16-30-15-40-12-110-15z"/>
<path fill="url(#Lg0_4)" stroke="url(#g0_4)" vector-effect="non-scaling-stroke" transform="matrix(0.50943 -0.02121 0 -0.10027 260.56 284.89)" d="M-62-637l110 16 40 12 30 14 22 17 18 21 16 31 12 36 12 52 12 76 10 86 10 118 6 92 6 116 6 147 10 290 4 69 3 1 3-48 14-387 8-165 10-143 6-63 6-51 8-53 8-39 8-28 10-22 10-10 10-1 12 9 12 19 10 24 8 24 10 38 8 38 16 96 14 114 10 106 10 135 8 136 14 279 4 61 2 20 3 12 1-1 2-10 2-19 4-58 14-244 8-99 4-35 6-35 4-13 6-5 6 13 4 18 8 64 4 47 6 88 14 250 4 44 3 9 3-13 4-49 16-315 10-166 10-129 12-120 8-65 8-57 8-48 10-52 8-35 10-37 10-30 12-28 14-25 16-20 18-15 18-9 20-6 22 0 20 6 18 11 24 26 24 43 20 49 42 118 20 45 20 28 10 6 12 2 16-7 20-16 14-19 12-22 22-57 42-136 20-57 5-37-20 53-50 164-22 59-12 24-14 20-20 18-16 8-12 1-10-6-20-26-20-45-46-134-22-55-24-42-26-26-20-9-24-2-22 5-22 12-18 17-16 22-14 28-14 39-12 43-10 46-10 55-10 67-8 64-8 77-8 94-6 86-10 191-8 222-6 232-10 491-2 54-1 8-3-55-10-481-4-157-8-221-6-105-6-70-6-40-4-14-4-3-4 6-4 17-6 46-6 77-6 116-8 243-12 562-2 53-1 9-3-55-10-487-6-233-8-221-10-189-6-85-6-71-8-79-8-65-8-55-10-57-10-45-12-42-14-34-14-20-14-5-12 9-10 21-10 35-10 54-8 61-8 83-6 80-6 106-4 89-6 176-12 518-3 75-3-30-2-70-8-366-6-214-4-108-6-127-8-125-10-113-12-96-12-67-12-47-16-39-18-26-22-19-30-17-40-13-118-17z"/>
<path fill="url(#Lg0_4)" stroke="url(#g0_4)" vector-effect="non-scaling-stroke" transform="matrix(0.50945 -0.02121 0 -0.10027 263.02 285.65)" d="M-62-638l118 18 40 13 30 16 22 20 18 26 16 39 12 46 12 67 12 97 10 113 8 124 6 127 4 109 6 214 8 366 2 69 3 30 3-74 12-518 6-176 4-90 6-105 6-81 8-82 8-61 10-54 10-36 10-20 12-10 14 6 14 19 14 34 12 42 10 46 10 57 8 54 8 66 8 79 6 71 6 85 10 189 8 221 6 233 10 487 3 54 1-8 2-54 12-561 8-243 6-117 6-77 6-46 4-16 4-7 4 4 4 13 6 41 6 69 6 106 8 221 4 156 10 482 3 55 1-9 2-54 10-490 6-232 8-223 10-190 6-86 8-94 8-77 8-64 10-67 10-55 10-46 12-43 14-39 14-28 16-23 18-17 22-12 22-5 24 3 20 9 26 26 24 42 22 55 46 134 20 45 20 26 10 5 12 0 16-8 20-19 14-20 12-24 22-59 50-163 20-53 3-26-24 61-52 172-22 60-12 24-14 21-20 20-16 9-12 1-10-5-10-10-10-16-22-51-44-134-22-57-12-24-14-22-14-16-14-10-22-8-24 0-24 9-22 18-16 20-16 30-14 36-14 49-12 56-10 57-10 71-10 87-8 86-6 79-6 95-6 120-8 220-4 150-4 194-4 259-8 710-1 28-3-168-4-389-4-304-4-220-4-163-6-174-6-114-6-74-4-32-4-20-4-9-4 2-2 4-4 18-4 29-4 43-4 59-4 79-4 104-6 224-4 215-10 843-1 29-3-166-6-555-4-262-6-275-8-242-6-129-6-101-6-83-8-89-8-72-10-75-10-59-10-48-14-51-16-37-16-19-14 0-12 15-12 34-10 47-10 70-8 79-6 77-6 100-6 135-8 269-10 501-2 62-1 10-3-60-12-583-6-195-6-140-8-135-10-120-12-101-12-70-12-49-16-41-18-28-22-20-32-17-40-13-118-18z"/>
<path fill="url(#Lg0_4)" stroke="url(#g0_4)" vector-effect="non-scaling-stroke" transform="matrix(0.50946 -0.02121 0 -0.10027 264.63 286.15)" d="M-62-638l118 17 40 13 32 18 22 20 18 27 16 42 12 48 12 71 12 101 10 120 8 135 6 140 6 195 12 583 3 60 1-11 2-61 10-501 8-269 6-135 6-100 6-77 8-79 10-70 10-48 12-34 12-15 14 0 16 19 16 38 14 50 10 48 10 60 10 74 8 73 8 89 6 82 6 101 6 129 8 243 6 275 4 261 6 555 3 167 1-29 10-843 4-216 6-223 4-104 4-79 4-59 4-43 4-29 4-18 2-5 4-1 4 9 4 20 4 31 6 74 6 115 6 173 4 164 4 220 4 303 4 390 3 168 1-28 8-710 4-259 4-194 4-151 8-219 6-120 6-96 6-78 8-87 10-87 10-70 10-58 12-55 14-49 14-37 16-29 16-21 22-17 24-9 24-1 22 8 14 11 14 16 14 22 12 24 22 57 44 134 22 51 10 16 10 10 10 5 12-1 16-10 20-19 14-21 12-25 22-59 52-172 24-61 7-41-16 32-16 42-16 51-40 139-24 67-14 29-16 24-22 23-14 8-12 0-10-7-10-13-10-20-18-48-40-135-18-54-22-49-22-31-16-13-16-6-18-1-20 5-18 11-16 16-14 19-14 28-12 32-10 34-10 42-8 40-10 59-8 58-14 126-10 119-10 157-8 163-14 353-4 71-2 16-1 3-3-16-2-27-16-366-8-134-4-48-6-51-6-28-6-8-6 12-4 19-6 48-4 46-6 92-4 78-14 321-2 29-2 15-1 2-3-17-4-67-14-350-8-162-8-127-10-123-14-128-8-57-8-48-8-41-10-41-8-27-10-26-14-24-12-10-12 2-10 12-10 25-8 32-8 44-8 59-6 56-6 71-6 89-4 74-8 195-12 388-2 39-2 15-1-5-3-48-10-329-6-170-6-130-6-102-10-127-10-92-12-80-12-56-12-38-16-32-18-23-24-18-30-14-40-12-112-16z"/>
<path fill="url(#Lg0_4)" stroke="url(#g0_4)" vector-effect="non-scaling-stroke" transform="matrix(0.50949 -0.02120 0 -0.10027 267.95 287.19)" d="M-62-640l112 17 40 12 30 14 24 18 18 22 16 33 12 38 12 56 12 80 10 92 10 127 6 101 6 131 6 169 10 329 3 49 1 4 2-14 2-40 12-387 8-195 4-74 6-89 6-71 6-57 8-59 8-44 8-31 10-25 10-13 12-1 12 9 14 25 10 26 8 26 10 42 8 41 8 48 8 57 14 128 10 123 8 127 8 162 14 349 4 68 3 17 1-2 2-16 2-28 14-321 4-78 6-92 4-46 6-48 4-19 6-12 6 7 6 29 6 51 4 48 8 133 16 366 2 28 3 15 1-2 2-17 4-70 14-353 8-164 10-156 10-119 14-127 8-57 10-60 8-40 10-41 10-34 12-32 14-28 14-20 16-15 18-11 20-6 18 2 16 6 16 13 22 30 22 50 18 53 40 135 18 49 10 19 10 14 10 6 12 1 14-8 22-23 16-24 14-29 24-67 40-139 16-51 16-42 16-32 5-30-20 36-18 46-18 57-44 156-24 68-16 33-16 25-20 24-16 10-10-2-10-8-8-12-10-22-18-55-36-134-18-59-18-46-20-35-14-16-14-9-16-5-16 1-32 15-14 14-14 20-18 37-18 55-16 70-16 94-14 107-12 116-8 93-16 211-6 70-4 33-2 11-3 7-3-3-2-8-4-27-16-167-8-67-8-43-4-12-4-5-4 1-4 7-4 14-4 20-8 58-16 163-4 33-4 20-2 4-4-6-4-25-4-39-18-233-10-115-10-97-10-79-14-88-14-67-16-54-8-20-10-19-10-12-10-5-10 3-8 10-8 17-8 26-8 37-6 37-6 44-6 55-10 117-8 128-16 315-2 25-2 13-2 1-4-34-2-32-12-249-8-142-6-86-6-72-10-95-10-73-10-54-12-46-12-32-16-28-18-19-24-17-32-13-38-11-108-15z"/>
<path fill="url(#Lg0_4)" stroke="url(#g0_4)" vector-effect="non-scaling-stroke" transform="matrix(0.50950 -0.02120 0 -0.10027 270.41 287.95)" d="M-62-641l108 16 38 10 32 14 24 17 18 19 16 28 12 31 12 47 10 54 10 72 10 96 6 71 6 86 8 143 12 249 2 32 4 34 2-1 2-14 2-24 16-316 8-127 10-118 6-54 6-45 6-36 8-37 8-26 8-18 8-9 10-3 10 5 10 12 10 19 8 19 16 55 14 67 14 88 10 79 10 96 10 116 18 233 4 39 4 24 4 7 2-4 4-20 4-33 16-163 8-59 4-20 4-13 4-8 4-1 4 6 4 11 8 43 8 68 16 166 4 28 2 8 3 3 3-7 2-11 4-33 6-70 16-212 8-92 12-116 14-107 16-94 16-70 18-55 18-37 14-20 14-14 32-16 16 0 16 4 14 10 14 15 20 35 18 47 18 59 36 134 18 55 10 21 8 12 10 9 10 1 16-9 20-25 16-24 16-33 24-68 44-156 18-57 18-46 20-36 5-28-12 17-12 21-22 56-18 58-46 168-14 43-12 32-18 39-22 38-14 19-12 8-10-1-8-7-8-13-10-24-16-55-36-148-16-58-18-53-20-41-12-15-12-11-28-9-30 9-14 11-14 15-18 31-16 39-16 54-14 62-14 78-12 81-36 288-6 33-4 13-3 5-5-2-6-18-18-90-8-33-6-16-6-6-8 5-8 21-8 34-14 69-6 21-6 7-4-5-6-23-6-36-26-212-12-87-12-72-14-68-18-64-18-42-18-21-10-3-8 4-12 17-10 29-10 44-10 62-8 65-8 80-22 283-4 35-2 11-2 4-3-7-5-38-22-294-8-89-10-89-8-58-10-56-10-42-12-37-12-24-16-22-20-18-24-14-68-21-102-14z"/>
<path fill="url(#Lg0_4)" stroke="url(#g0_4)" vector-effect="non-scaling-stroke" transform="matrix(0.50952 -0.02120 0 -0.10027 272.87 288.72)" d="M-62-642l102 14 68 22 24 13 20 18 16 22 12 25 12 36 10 43 10 56 8 57 10 90 8 88 22 295 5 38 3 6 2-4 2-10 4-35 22-283 8-81 8-65 10-62 10-44 10-28 12-18 8-3 10 2 18 22 18 41 18 64 14 68 12 73 12 87 26 211 6 37 6 22 4 5 6-6 6-21 14-70 8-33 8-21 8-5 6 6 6 16 8 32 18 91 6 17 5 3 3-5 4-13 6-33 36-289 12-80 14-78 14-63 16-54 16-39 18-30 14-16 14-10 30-10 28 9 12 11 12 16 20 41 18 52 16 59 36 148 16 54 10 25 8 13 8 7 10 1 12-8 14-19 22-38 18-39 12-32 14-44 46-167 18-59 22-55 12-22 12-16 5-26-14 16-12 20-14 30-12 32-22 72-48 181-14 45-16 44-18 43-22 47-12 18-10 6-8-3-6-7-8-15-8-23-16-62-32-148-16-68-18-61-18-44-10-17-12-16-12-10-14-5-28 2-28 20-16 21-16 29-14 36-14 45-12 49-14 67-42 238-10 38-6 12-4 2-10-10-24-57-12-12-6 1-8 10-20 46-8 14-8 2-6-9-6-17-8-35-28-160-14-73-12-53-12-43-16-45-16-29-16-16-16 1-10 12-10 22-10 37-8 40-8 50-8 62-26 236-6 31-4 5-3-6-3-13-4-28-26-256-8-67-8-56-8-48-10-46-10-35-12-30-14-23-16-18-20-15-24-12-66-19-98-13z"/>
<path fill="url(#Lg0_3)" stroke="url(#g0_3)" vector-effect="non-scaling-stroke" transform="matrix(0.50954 -0.02120 0 -0.10027 275.34 289.49)" d="M-62-642l98 12 66 19 24 13 20 15 16 18 14 23 12 30 10 35 10 46 8 47 8 57 8 67 26 256 4 27 3 13 3 7 4-5 6-31 26-237 8-61 8-51 8-40 10-36 10-23 10-12 16 0 16 15 16 30 16 44 12 44 12 52 14 73 28 161 8 34 6 18 6 9 8-2 8-14 20-46 8-10 6-2 12 13 24 57 10 10 4-3 6-11 10-38 42-239 14-67 12-48 14-46 14-35 16-30 16-20 28-20 28-3 14 6 12 10 12 15 10 18 18 44 18 61 16 67 32 148 16 63 8 22 8 16 6 7 8 3 10-7 12-18 22-46 18-43 16-45 14-45 48-180 22-73 12-32 14-30 12-19 14-17 5-24-16 16-14 21-14 28-12 30-22 71-50 196-28 96-46 135-10 20-10 8-8-4-6-9-6-16-8-28-14-64-40-207-14-61-12-43-12-35-14-31-14-21-14-12-26-8-26 9-26 25-22 37-18 44-18 58-16 63-30 132-10 37-12 29-10 10-10-3-22-25-12-6-12 5-28 27-8 0-6-6-8-16-8-24-44-180-14-48-14-39-16-33-16-22-14-8-14 5-8 10-8 17-8 25-8 34-14 78-28 197-6 27-6 11-4-4-4-13-6-33-28-218-10-67-8-44-8-37-8-30-10-28-10-21-14-21-16-16-46-26-66-18-94-12z"/>
<path fill="url(#Lg0_2)" stroke="url(#g0_2)" vector-effect="non-scaling-stroke" transform="matrix(0.50956 -0.02119 0 -0.10027 277.80 290.25)" d="M-62-643l94 11 66 18 46 27 16 16 14 20 10 21 10 29 8 29 8 37 8 45 10 67 28 218 6 33 4 12 4 4 6-10 6-27 28-197 14-79 8-33 8-25 8-17 8-10 14-5 14 8 16 21 16 34 14 38 14 48 44 180 8 24 8 16 6 6 8 1 28-28 12-4 12 6 22 24 10 4 10-10 12-30 10-37 30-131 16-63 18-58 18-44 22-37 26-25 26-9 26 7 14 13 14 21 14 31 12 35 12 43 14 61 40 207 14 64 8 28 6 15 6 10 8 4 10-8 10-20 46-135 28-97 50-195 22-71 12-31 14-28 14-20 16-17 5-23-20 18-18 26-16 33-16 45-24 85-46 190-66 261-12 37-6 10-6 2-4-3-6-11-6-19-6-25-12-65-38-227-14-72-14-60-14-48-14-36-16-27-16-16-22-8-22 5-24 17-22 30-18 34-18 46-16 49-30 101-14 39-14 25-14 9-36-10-40 12-16-8-8-13-10-23-46-142-14-37-12-26-16-27-14-16-14-6-12 4-14 19-14 40-14 63-30 171-8 30-4 7-4 2-4-5-4-11-8-36-30-196-16-83-16-57-10-25-10-18-14-19-16-14-46-25-66-17-92-11z"/>
<path fill="url(#Lg0_1)" stroke="url(#g0_1)" vector-effect="non-scaling-stroke" transform="matrix(0.50957 -0.02119 0 -0.10027 280.26 291.02)" d="M-62-644l92 11 66 17 46 24 16 15 14 18 10 19 10 24 16 57 16 84 30 195 8 37 4 11 4 4 4-1 4-8 8-29 30-171 14-63 14-40 14-20 12-3 14 6 14 16 16 27 12 26 14 37 46 142 10 23 8 12 16 9 40-13 36 11 14-9 14-25 14-40 30-100 16-49 18-46 18-35 22-29 24-18 22-4 22 7 16 16 16 28 14 35 14 48 14 61 14 71 38 228 12 64 6 26 6 19 6 11 4 3 6-3 6-10 12-37 66-260 46-190 24-86 16-44 16-33 18-26 20-18 5-23-24 20-22 30-20 45-20 62-28 111-56 253-18 91-30 168-8 29-4 8-4 3-4-4-4-8-4-15-6-29-10-65-24-177-14-95-16-95-14-69-14-56-16-47-16-33-18-21-20-9-20 1-22 13-20 21-18 27-18 36-48 121-16 36-17 24-21 9-62 4-20-11-20-31-48-114-26-50-14-19-14-12-12-4-10 3-14 16-14 36-14 55-22 110-8 35-8 24-8 8-4-3-6-13-8-31-32-179-16-72-16-50-20-37-14-16-18-14-46-23-64-15-90-11z"/>
<path fill="url(#Lg0_0)" stroke="url(#g0_0)" vector-effect="non-scaling-stroke" transform="matrix(0.50959 -0.02119 0 -0.10027 282.72 291.79)" d="M-62-645l90 11 64 15 46 22 18 15 14 16 20 37 16 49 16 72 32 180 8 31 6 13 4 3 8-8 8-24 8-35 22-110 14-55 14-36 14-16 10-3 12 4 14 12 14 19 26 50 48 114 20 31 20 11 62-4 21-10 17-24 16-35 48-121 18-36 18-27 20-21 22-13 20-2 20 10 18 21 16 32 16 48 14 56 14 69 16 94 14 96 24 177 10 64 6 30 4 14 4 9 4 3 4-2 4-8 8-29 30-169 18-91 56-252 28-112 20-62 20-44 22-31 24-19 5-22-32 24-14 19-12 21-12 27-12 34-12 40-12 46-34 155-20 100-14 76-10 61-10 70-30 246-4 24-4 17-6 10-6-11-8-45-8-67-22-210-12-102-16-116-16-94-16-76-18-64-18-44-20-28-16-10-16-2-18 5-20 14-18 20-20 30-58 115-22 33-12 12-14 7-44 7-24-2-20-13-20-28-48-90-24-37-26-25-10-3-10 2-14 14-14 31-14 49-28 120-10 27-8 7-9-10-9-26-10-45-24-123-16-65-16-44-20-34-32-29-48-22-64-15-88-10z"/>
<path fill="url(#Lg0_0)" stroke="url(#g0_0)" vector-effect="non-scaling-stroke" transform="matrix(0.50961 -0.02119 0 -0.10027 285.19 292.55)" d="M-62-647l88 11 64 15 48 22 32 28 20 34 16 45 16 65 24 123 10 44 9 27 9 10 8-8 10-27 28-119 14-49 14-31 14-14 10-2 10 3 26 24 24 37 48 91 20 27 20 14 24 2 44-7 14-8 12-11 22-34 58-115 20-29 18-20 20-14 18-5 16 2 16 10 20 28 18 43 18 65 16 75 16 95 16 116 12 102 22 210 8 66 8 45 6 12 6-10 4-17 4-25 30-245 10-70 10-61 14-76 20-101 34-154 12-46 12-41 12-33 12-28 12-21 14-18 32-24 5-21-22 12-18 17-16 22-16 31-14 37-14 46-16 64-16 74-16 82-16 89-12 74-10 73-10 86-8 82-26 323-6 48-4 14-2 1-2-3-4-19-6-55-24-315-12-135-12-110-14-104-10-63-10-56-10-48-10-40-10-35-12-32-10-20-12-18-16-13-16-5-18 3-18 10-18 17-18 22-60 96-22 28-28 20-40 9-24-2-22-13-22-25-48-74-24-31-24-19-20 0-14 14-12 24-12 37-24 93-8 26-10 22-8 4-9-12-9-25-10-41-24-111-16-58-16-41-20-31-32-26-48-21-64-15-88-10z"/>
<path fill="url(#Lg0_0)" stroke="url(#g0_0)" vector-effect="non-scaling-stroke" transform="matrix(0.50962 -0.02119 0 -0.10027 287.65 293.32)" d="M-62-648l88 11 64 14 48 21 32 27 20 31 16 40 16 59 24 111 10 41 9 25 9 11 8-4 10-21 8-26 24-93 12-37 12-25 14-14 20 1 24 19 24 31 48 73 22 25 22 13 24 3 40-9 28-20 22-29 60-96 18-22 18-16 18-10 18-3 16 4 16 14 12 17 10 21 12 32 10 34 10 41 10 48 10 55 10 64 14 104 12 110 12 134 24 316 6 54 4 19 2 4 2-1 4-14 6-49 26-322 8-83 10-86 10-72 12-75 16-89 16-81 16-74 16-64 14-46 14-37 16-32 16-22 18-16 22-13 5-21-28 15-22 21-18 27-18 41-16 49-18 70-18 85-20 110-14 89-10 74-10 87-8 87-8 106-6 95-22 425-4 52-2 16-2 8-2 0-2-10-2-17-4-54-20-395-10-163-12-149-12-114-10-79-10-68-12-71-12-59-12-50-12-39-12-31-14-25-14-15-16-9-18 0-18 7-18 13-18 18-62 83-24 25-30 20-36 8-24-4-22-12-22-22-50-64-22-24-22-15-18-1-14 12-12 22-12 33-24 84-8 24-10 20-8 4-10-11-10-27-34-139-16-54-16-36-20-28-34-26-48-19-64-14-86-10z"/>
<path fill="url(#Lg0_0)" stroke="url(#g0_0)" vector-effect="non-scaling-stroke" transform="matrix(0.50964 -0.02118 0 -0.10027 290.11 294.09)" d="M-62-649l86 10 64 14 48 20 34 25 20 29 16 36 16 53 34 140 10 27 10 11 8-4 10-20 8-24 24-84 12-33 12-22 14-12 18 1 22 15 22 24 50 64 22 22 22 12 24 3 36-8 30-19 24-26 62-82 18-18 18-13 18-7 18 0 16 8 14 16 14 25 12 30 12 40 12 49 12 60 12 71 10 68 10 78 12 115 12 148 10 164 20 395 4 54 2 17 2 9 2 1 2-8 2-16 4-52 22-425 6-96 8-106 8-86 10-88 10-73 14-89 20-110 18-85 18-70 16-49 18-41 18-27 22-21 28-15 5-21-32 16-24 22-20 31-20 47-20 67-20 88-20 109-18 117-12 96-10 100-8 100-8 128-6 120-6 146-18 547-4 72-2 11-2-7-4-64-16-489-10-241-10-176-6-83-8-93-10-96-10-81-12-81-14-81-12-57-14-54-12-36-14-31-14-20-16-12-18-4-20 5-36 26-64 72-26 23-32 18-34 6-22-5-20-10-24-21-68-73-20-13-18-2-14 10-12 19-14 36-30 94-10 19-8 4-10-9-10-24-10-35-24-94-16-51-16-35-20-26-34-25-48-19-64-14-88-10z"/>
<path fill="url(#Lg0_0)" stroke="url(#g0_0)" vector-effect="non-scaling-stroke" transform="matrix(0.50966 -0.02118 0 -0.10027 292.57 294.85)" d="M-62-650l88 10 64 14 48 19 34 25 20 27 16 35 16 50 24 95 10 35 10 24 10 9 8-5 10-18 30-94 14-36 12-19 14-10 18 1 20 13 68 73 24 21 20 11 22 4 34-5 32-18 26-24 64-72 36-26 20-5 18 4 16 13 14 20 14 31 12 36 14 54 12 57 14 80 12 82 10 80 10 96 8 94 6 83 10 176 10 241 16 488 4 65 2 7 2-12 4-72 18-546 6-146 6-120 8-128 8-101 10-99 12-96 18-118 20-108 20-88 20-68 20-47 20-30 24-22 32-16 5-22-36 17-28 24-22 35-20 50-12 40-10 39-20 96-20 120-16 119-10 93-10 118-8 122-8 160-6 154-6 193-16 647-2 45-2 17-2-13-4-95-14-536-10-296-10-213-12-182-10-113-10-91-12-91-12-77-14-75-14-62-14-48-14-36-14-24-16-17-18-7-20 2-36 21-67 65-28 22-32 15-30 3-24-5-24-14-90-82-16-7-14 0-12 8-12 17-14 32-22 66-10 25-10 15-8 2-10-10-10-25-34-121-16-45-16-31-20-24-34-23-50-19-64-13-86-9z"/>
<path fill="url(#Lg0_0)" stroke="url(#g0_0)" vector-effect="non-scaling-stroke" transform="matrix(0.50968 -0.02118 0 -0.10027 295.32 295.71)" d="M-62-651l86 10 64 13 50 18 34 23 20 24 16 31 16 46 34 121 10 24 10 11 8-2 10-15 10-26 22-66 14-32 12-16 12-8 14 0 16 7 90 81 24 14 24 6 30-4 32-15 28-22 68-64 36-21 20-2 18 7 16 17 14 24 14 36 14 48 14 62 14 75 12 77 12 91 10 91 10 113 12 182 10 212 10 297 14 535 4 95 2 13 2-16 2-46 16-646 6-193 6-154 8-160 8-122 10-118 10-93 16-120 20-119 20-96 10-40 12-39 20-50 22-35 28-25 36-16 4-20-36 15-28 22-22 31-20 44-20 64-20 88-18 101-18 125-12 104-10 109-8 109-8 140-8 181-6 170-18 638-4 83-2 11-2-14-4-89-14-505-10-288-6-133-6-109-12-169-10-107-10-87-12-87-12-74-14-73-14-60-14-46-14-34-14-23-16-16-16-6-20 1-36 20-66 57-28 19-30 14-30 3-20-4-20-9-24-17-66-58-18-10-16-1-14 8-12 16-12 26-32 87-10 15-8 3-10-9-10-23-34-114-16-44-16-30-20-23-36-23-50-18-64-13-86-9z"/>
<path fill="url(#Lg0_0)" stroke="url(#g0_0)" vector-effect="non-scaling-stroke" transform="matrix(0.50969 -0.02118 0 -0.10027 297.50 296.38)" d="M-62-652l86 10 64 12 50 18 36 23 20 23 16 30 16 44 34 115 10 22 10 10 8-3 10-16 32-86 12-26 12-16 14-8 16 1 18 10 66 57 24 18 20 9 20 4 30-3 30-14 28-20 66-57 36-19 20-2 16 7 16 15 14 24 14 34 14 46 14 60 14 72 12 75 12 87 10 87 10 106 12 169 6 110 6 133 10 287 14 506 4 89 2 13 2-10 4-83 18-638 6-171 8-181 8-139 8-110 10-108 12-105 18-125 18-100 20-88 20-65 20-44 22-30 28-22 36-15 5-21-38 15-28 20-22 27-20 40-20 59-18 74-18 94-16 104-14 110-12 119-10 125-8 124-8 153-6 141-20 589-4 71-2 12-2-4-2-22-4-84-16-484-10-240-6-113-6-95-12-150-10-97-10-80-12-82-14-81-12-58-14-56-14-44-14-31-14-21-14-13-16-6-18 1-34 16-68 53-28 18-28 11-28 3-40-13-88-68-18-9-16-1-14 8-12 16-12 24-30 77-10 16-8 3-10-8-10-21-34-108-16-42-16-29-20-22-36-22-52-18-64-12-86-9z"/>
<path fill="url(#Lg0_0)" stroke="url(#g0_0)" vector-effect="non-scaling-stroke" transform="matrix(0.50971 -0.02118 0 -0.10027 299.96 297.15)" d="M-62-653l86 9 64 13 52 18 36 22 20 22 16 28 16 42 34 109 10 20 10 9 8-4 10-15 30-77 12-25 12-16 14-8 16 1 18 10 88 68 40 13 28-3 28-11 28-18 68-53 34-16 18-1 16 6 14 12 14 21 14 32 14 43 14 56 12 59 14 80 12 82 10 81 10 97 12 149 6 95 6 113 10 240 16 485 4 84 2 21 2 5 2-13 4-70 20-590 6-140 8-153 8-125 10-124 12-119 14-111 16-103 18-95 18-73 20-59 20-40 22-27 28-20 38-15 5-21-36 13-28 17-22 22-20 33-18 44-18 61-16 72-16 89-14 93-14 113-12 117-10 121-8 119-8 146-24 561-4 55-2 12-2 0-2-11-2-22-4-70-18-437-10-196-12-177-12-132-10-88-10-74-12-76-14-76-12-55-14-53-14-40-14-29-14-19-14-11-16-5-16 1-34 16-92 62-28 11-26 2-40-12-88-65-18-8-14-1-12 7-12 14-12 22-32 77-10 13-8 2-10-10-10-21-32-98-16-40-16-28-20-21-36-21-52-17-66-12-86-10z"/>
<path fill="url(#Lg0_0)" stroke="url(#g0_0)" vector-effect="non-scaling-stroke" transform="matrix(0.50973 -0.02117 0 -0.10027 302.42 297.92)" d="M-62-654l86 9 66 13 52 17 36 21 20 21 16 27 16 40 32 99 10 21 10 9 8-1 10-13 32-77 12-23 12-14 12-6 14 1 18 8 88 64 40 13 26-2 28-11 92-63 34-15 16-1 16 4 14 11 14 19 14 30 14 40 14 52 12 55 14 76 12 77 10 74 10 88 12 131 12 177 10 197 18 436 4 71 2 22 2 11 2 0 2-12 4-55 24-561 8-146 8-120 10-120 12-118 14-112 14-94 16-89 16-71 18-62 18-44 20-32 22-22 28-17 36-13 5-21-36 12-28 15-22 20-20 27-18 38-16 47-16 62-16 78-16 96-14 100-12 101-12 123-10 128-8 124-24 455-6 71-2 10-2 3-2-6-2-13-6-76-18-350-12-197-12-150-14-132-10-77-12-79-12-68-14-68-12-48-12-40-12-32-14-26-12-15-14-11-16-4-16 1-32 14-90 57-26 10-26 2-38-11-88-62-18-8-14-1-12 6-12 14-12 22-30 69-10 13-8 2-10-8-9-18-33-96-16-38-16-27-20-20-38-20-52-17-66-12-86-9z"/>
<path fill="url(#Lg0_0)" stroke="url(#g0_0)" vector-effect="non-scaling-stroke" transform="matrix(0.50975 -0.02117 0 -0.10027 304.89 298.68)" d="M-62-655l86 9 66 12 52 16 38 21 20 20 16 26 16 39 33 96 9 17 10 9 8-3 10-13 30-68 12-22 12-14 12-6 14 0 18 8 88 62 38 11 26-2 26-9 90-57 32-14 16-2 16 5 14 10 12 16 14 26 12 31 12 40 12 49 14 67 12 69 12 78 10 77 14 133 12 150 12 197 18 349 6 77 2 13 2 5 2-2 2-11 6-70 24-456 8-123 10-128 12-123 12-101 14-100 16-96 16-79 16-62 16-47 18-37 20-28 22-19 28-15 36-12 5-21-36 12-30 14-22 18-20 24-16 29-16 41-16 54-14 60-16 84-14 88-14 103-12 105-10 104-10 125-28 424-6 54-4 12-2-2-4-20-6-64-22-339-12-155-12-123-14-114-10-68-12-71-12-62-12-54-12-45-12-37-12-29-14-24-12-13-14-9-30-2-32 14-86 52-26 8-24 2-22-5-24-11-84-57-26-6-12 6-12 14-12 21-28 61-10 13-8 3-10-7-10-18-34-95-16-36-16-24-18-16-38-20-54-16-66-12-86-9z"/>
<path fill="url(#Lg0_0)" stroke="url(#g0_0)" vector-effect="non-scaling-stroke" transform="matrix(0.50976 -0.02117 0 -0.10027 307.35 299.45)" d="M-62-656l86 9 66 11 54 16 38 20 18 17 16 24 16 36 34 94 10 18 10 8 8-3 10-13 28-61 12-21 12-14 12-6 26 5 84 58 24 11 22 4 24-1 26-8 86-53 32-13 30 2 14 8 12 14 14 24 12 29 12 37 12 45 12 53 12 62 12 72 10 68 14 113 12 123 12 156 22 339 6 63 4 20 2 2 4-12 6-54 28-423 10-125 10-104 12-106 14-103 14-87 16-84 14-60 16-55 16-40 16-29 20-25 22-17 30-15 36-11 5-21-36 11-30 13-22 16-20 20-16 25-16 34-16 47-14 52-16 75-14 79-14 92-12 92-12 107-10 105-30 373-6 51-4 18-2 3-2 0-4-12-6-44-6-65-20-254-10-110-14-126-18-128-22-122-12-55-12-47-10-34-12-32-12-25-12-18-12-12-12-7-30-1-30 13-82 47-24 8-24 2-38-11-88-58-16-7-14 0-12 6-10 10-12 20-30 60-10 12-8 1-8-6-10-16-34-91-14-31-16-24-20-18-38-19-56-16-66-11-86-9z"/>
<path fill="url(#Lg0_0)" stroke="url(#g0_0)" vector-effect="non-scaling-stroke" transform="matrix(0.50978 -0.02117 0 -0.10027 309.81 300.22)" d="M-62-657l86 8 66 12 56 16 38 18 20 19 16 24 14 31 34 90 10 17 8 6 8-2 10-11 30-61 12-19 10-11 12-6 14 1 16 6 88 59 38 11 24-2 24-8 82-48 30-12 30 1 12 7 12 12 12 18 12 24 12 33 10 33 12 48 12 55 22 122 18 127 14 126 10 110 20 255 6 65 6 44 4 12 2 0 2-3 4-19 6-50 30-373 10-105 12-107 12-92 14-93 14-78 16-75 14-53 16-46 16-35 16-24 20-21 22-15 30-13 36-11 5-21-66 23-24 14-20 19-16 21-16 30-14 36-14 45-14 57-14 68-14 81-12 80-12 91-12 104-10 99-20 214-6 55-4 29-4 20-4 10-2 0-6-15-6-37-8-73-20-210-12-109-16-120-18-110-22-108-20-77-10-31-12-30-10-19-12-17-24-17-28-1-28 11-80 45-24 7-24 2-38-11-84-56-16-7-14-1-12 4-12 12-12 19-28 54-10 11-8 2-8-5-10-15-34-86-16-34-16-22-18-15-38-18-56-15-68-12-86-8z"/>
<path fill="url(#Lg0_0)" stroke="url(#g0_0)" vector-effect="non-scaling-stroke" transform="matrix(0.50980 -0.02117 0 -0.10027 312.27 300.98)" d="M-62-658l86 8 68 11 56 16 38 18 18 15 16 22 16 33 34 87 10 15 8 5 8-2 10-11 28-54 12-19 12-12 12-5 14 2 16 7 84 55 38 11 24-1 24-8 80-44 28-11 28 0 24 18 12 17 10 19 12 30 10 30 20 77 22 109 18 109 16 120 12 110 20 209 8 73 6 38 6 15 2-1 4-9 4-20 4-29 6-55 20-214 10-99 12-104 12-91 12-80 14-81 14-69 14-57 14-45 14-35 16-30 16-21 20-19 24-15 66-22 5-21-66 21-26 14-20 17-16 19-16 26-14 30-14 41-14 51-12 52-14 73-12 71-14 95-12 92-30 266-8 65-8 46-4 12-4 4-6-9-8-39-8-61-20-175-14-110-16-106-20-110-22-98-20-69-20-49-20-30-22-15-28-1-28 11-78 42-24 6-22 1-38-11-82-54-16-7-14-2-12 5-10 9-12 17-30 54-8 9-8 2-10-6-10-16-32-79-16-32-16-21-18-15-38-17-58-15-154-19z"/>
<path fill="url(#Lg0_0)" stroke="url(#g0_0)" vector-effect="non-scaling-stroke" transform="matrix(0.50981 -0.02116 0 -0.10027 314.74 301.75)" d="M-62-659l154 19 58 15 38 17 18 14 16 22 16 32 32 78 10 16 10 7 8-3 8-8 30-54 12-17 10-9 12-5 14 1 16 8 82 53 38 12 22-1 24-7 78-42 28-10 28 1 22 15 20 30 20 49 20 69 22 98 20 110 16 106 14 110 20 175 8 60 8 40 6 9 4-4 4-13 8-45 8-65 30-266 12-92 14-95 12-71 14-73 12-53 14-51 14-40 14-31 16-26 16-18 20-17 26-14 66-21 5-21-68 20-26 14-20 14-18 19-16 24-14 28-14 36-12 40-12 47-12 56-12 64-14 84-12 81-34 261-8 56-6 33-4 16-4 11-4 4-4-2-4-9-8-34-8-51-24-176-14-94-18-103-20-96-20-80-18-56-18-40-20-28-22-14-26-1-26 10-74 39-24 6-22 1-38-11-82-53-16-7-14-2-12 5-10 8-12 17-28 48-10 9-8 2-8-6-10-14-34-79-14-27-16-21-18-14-38-16-60-15-154-18z"/>
<path fill="url(#Lg0_0)" stroke="url(#g0_0)" vector-effect="non-scaling-stroke" transform="matrix(0.50983 -0.02116 0 -0.10027 317.20 302.52)" d="M-62-660l154 18 60 15 38 16 18 14 16 21 14 26 34 79 10 15 8 5 8-1 10-10 28-47 12-17 10-9 12-4 14 1 16 7 82 54 38 11 22-1 24-7 74-39 26-9 26 0 22 14 20 28 18 41 18 56 20 80 20 96 18 103 14 93 24 177 8 50 8 35 4 8 4 3 4-4 4-11 4-16 6-34 8-55 34-261 12-81 14-84 12-64 12-56 12-47 12-40 14-37 14-28 16-23 18-19 20-15 26-13 68-20 5-21-68 19-48 26-18 17-16 20-14 24-14 33-12 35-10 34-10 41-12 55-14 74-14 83-36 244-10 62-6 30-6 22-6 11-4 2-8-12-10-40-48-289-18-91-20-87-18-65-18-51-18-36-18-23-22-13-24 1-24 8-72 37-24 6-22 0-38-11-82-54-28-7-12 4-10 9-38 58-10 9-8 2-10-6-10-15-32-72-14-26-16-20-18-13-40-16-60-14-154-18z"/>
<path fill="url(#Lg0_0)" stroke="url(#g0_0)" vector-effect="non-scaling-stroke" transform="matrix(0.50985 -0.02116 0 -0.10027 319.66 303.28)" d="M-62-662l154 18 60 14 40 16 18 14 16 20 14 25 32 72 10 15 10 7 8-2 10-10 38-58 10-8 12-4 28 7 82 53 38 12 22 0 24-7 72-36 24-9 24 0 22 13 18 22 18 37 18 51 18 65 20 86 18 91 48 290 10 39 8 13 4-2 6-12 6-22 6-30 10-62 36-243 14-83 14-74 12-56 10-40 10-35 12-35 14-32 14-24 16-21 18-16 48-26 68-19 5-21-70 18-50 26-18 15-16 18-14 22-14 30-12 31-10 32-20 79-12 57-14 75-40 241-10 55-6 27-6 22-6 13-6 4-4-2-6-11-10-35-52-272-20-90-18-69-18-58-16-40-16-30-18-21-20-10-24 0-92 42-22 6-22 0-38-11-82-54-28-7-12 4-12 10-38 55-8 6-8 0-8-5-10-14-32-68-14-25-16-19-18-13-38-14-62-15-156-17z"/>
<path fill="url(#Lg0_0)" stroke="url(#g0_0)" vector-effect="non-scaling-stroke" transform="matrix(0.50987 -0.02116 0 -0.10027 322.13 304.05)" d="M-62-663l156 18 62 14 38 15 18 13 16 19 14 25 32 68 10 14 8 5 8-1 8-6 38-54 12-10 12-5 28 8 82 53 38 12 22-1 22-5 92-42 24 0 20 10 18 21 16 29 16 41 18 57 18 70 20 90 52 272 10 35 6 11 4 2 6-4 6-14 6-21 6-27 10-55 40-242 14-74 12-57 20-79 10-32 12-32 14-29 14-22 16-19 18-15 50-25 70-18 5-21-70 17-52 24-20 15-16 17-14 20-14 26-22 58-20 72-24 111-40 219-12 60-8 33-6 18-6 11-6 5-10-10-12-35-10-42-46-215-20-80-18-63-16-46-14-32-16-27-16-17-20-10-22 0-90 38-22 6-22 0-36-12-82-53-28-7-20 10-38 50-10 8-8 1-8-4-10-13-34-68-14-23-14-16-18-13-38-13-64-14-156-17z"/>
<path fill="url(#Lg0_0)" stroke="url(#g0_0)" vector-effect="non-scaling-stroke" transform="matrix(0.50988 -0.02116 0 -0.10027 324.59 304.82)" d="M-62-664l156 17 64 14 38 14 18 12 14 16 14 23 34 69 10 13 8 4 8-1 10-8 38-50 20-11 28 8 82 53 36 11 22 0 22-5 90-39 22 0 20 10 16 17 16 28 14 32 16 46 18 62 20 80 46 216 10 42 12 35 10 9 6-4 6-12 6-18 8-32 12-60 40-219 24-111 20-72 22-58 14-26 14-20 16-17 20-15 52-24 70-17 5-20-72 16-52 22-36 28-16 20-14 24-12 26-12 32-12 38-12 45-18 79-40 200-16 70-8 27-6 14-6 8-6 2-6-4-6-10-12-34-58-237-18-65-18-57-16-42-14-28-14-21-16-16-18-8-22 1-86 35-42 4-38-12-78-50-28-9-20 8-40 49-16 7-10-6-10-13-32-62-14-22-16-17-18-11-40-13-64-13-154-16z"/>
<path fill="url(#Lg0_0)" stroke="url(#g0_0)" vector-effect="non-scaling-stroke" transform="matrix(0.50990 -0.02115 0 -0.10027 327.05 305.58)" d="M-62-665l154 16 64 13 40 13 18 12 16 17 14 22 32 62 10 13 10 5 16-7 40-48 20-9 28 9 78 51 38 12 42-4 86-36 22 0 18 8 16 15 14 22 14 28 16 42 18 56 18 65 58 238 12 34 6 10 6 4 6-2 6-9 6-14 8-26 16-71 40-200 18-78 12-45 12-38 12-32 12-26 14-24 16-20 36-29 52-22 72-16 5-20-72 15-54 21-38 27-16 18-14 22-12 23-12 29-12 34-12 41-22 89-40 184-14 54-8 23-6 13-6 8-6 2-12-10-14-34-60-220-18-59-16-46-14-34-14-27-14-20-16-15-18-7-20 0-84 33-42 3-36-12-78-50-28-9-20 8-38 43-10 7-8 0-8-5-10-11-32-59-14-21-16-17-18-11-40-12-64-13-156-16z"/>
<path fill="url(#Lg0_0)" stroke="url(#g0_0)" vector-effect="non-scaling-stroke" transform="matrix(0.50992 -0.02115 0 -0.10027 329.51 306.35)" d="M-62-666l156 16 64 12 40 13 18 11 16 16 14 22 32 58 10 12 8 5 8-1 10-6 38-44 20-7 28 8 78 51 36 12 42-4 84-32 20 0 18 7 16 15 14 20 14 27 14 34 16 46 18 59 60 219 14 35 12 10 6-3 6-7 6-13 8-23 14-54 40-184 22-89 12-41 12-35 12-28 12-24 14-21 16-18 38-28 54-21 72-15 5-20-74 14-56 21-40 27-16 17-14 20-24 48-12 33-12 38-20 74-40 169-14 50-14 35-8 11-6 2-6-1-8-9-14-31-14-43-50-167-16-47-16-41-14-30-12-21-14-18-14-11-16-7-20 0-82 29-40 3-36-12-78-50-28-9-20 8-38 40-16 5-8-4-10-11-34-59-14-19-14-14-18-10-40-12-66-12-156-16z"/>
<path fill="url(#Lg0_0)" stroke="url(#g0_0)" vector-effect="non-scaling-stroke" transform="matrix(0.50994 -0.02115 0 -0.10027 331.98 307.12)" d="M-62-667l156 15 66 13 40 12 18 10 14 14 14 19 34 59 10 11 8 4 16-6 38-40 20-7 28 9 78 50 36 12 40-3 82-30 20 1 16 6 14 12 14 18 12 21 14 30 16 41 16 47 50 167 14 43 14 30 8 9 6 2 6-3 8-10 14-35 14-51 40-168 20-75 12-38 12-32 24-48 14-20 16-17 40-27 56-21 74-14 5-21-76 14-56 19-40 25-32 35-24 43-24 63-20 68-42 162-14 46-8 20-8 14-8 9-6 1-14-11-14-27-16-44-50-150-30-75-26-46-26-25-16-6-18-1-80 27-40 2-34-12-78-50-28-8-18 5-38 37-16 5-10-5-10-11-32-52-14-19-14-13-18-10-38-11-68-13-158-15z"/>
<path fill="url(#Lg0_0)" stroke="url(#g0_0)" vector-effect="non-scaling-stroke" transform="matrix(0.50995 -0.02115 0 -0.10027 334.44 307.88)" d="M-62-668l158 15 68 12 38 11 18 10 14 13 14 19 32 53 10 11 10 5 16-6 38-36 18-6 28 9 78 50 34 11 40-1 80-27 18 0 16 6 26 25 26 46 30 75 50 150 16 44 14 28 14 11 6-2 8-8 8-15 8-20 14-45 42-162 20-68 24-63 24-44 32-35 40-24 56-19 76-14 5-21-76 13-58 19-44 25-32 33-24 40-24 58-20 63-40 142-16 48-16 32-14 9-14-8-16-28-16-39-50-136-30-68-26-41-24-20-16-6-16 0-78 23-40 1-34-12-76-48-26-9-20 6-38 33-16 4-18-14-46-68-16-14-18-9-108-22-156-15z"/>
<path fill="url(#Lg0_0)" stroke="url(#g0_0)" vector-effect="non-scaling-stroke" transform="matrix(0.50997 -0.02115 0 -0.10027 336.90 308.65)" d="M-62-669l156 14 108 22 18 9 16 14 46 68 18 14 16-4 38-33 20-5 26 8 76 49 34 12 40-1 78-23 16 0 16 5 24 21 26 41 30 68 50 135 16 40 16 28 14 8 14-10 16-32 16-48 40-142 20-62 24-59 24-40 32-32 44-26 58-18 76-13 5-20-78 12-58 17-44 23-34 31-26 40-24 53-20 58-40 130-16 44-16 29-8 8-8 2-14-8-16-26-66-157-28-58-24-35-24-20-32-7-76 21-38 0-34-12-74-47-28-9-18 4-38 30-16 4-18-13-34-50-14-16-14-12-18-9-110-21-156-14z"/>
<path fill="url(#Lg0_0)" stroke="url(#g0_0)" vector-effect="non-scaling-stroke" transform="matrix(0.50999 -0.02114 0 -0.10027 339.36 309.41)" d="M-62-670l156 14 110 21 18 9 14 12 14 16 34 50 18 12 16-4 38-30 18-4 28 10 74 47 34 11 38 0 76-20 32 6 24 21 24 35 28 58 66 157 16 26 14 8 8-2 8-8 16-29 16-44 40-130 20-58 24-54 26-39 34-31 44-23 58-17 78-13 5-20-80 12-60 17-46 23-34 29-26 36-24 49-20 53-40 119-16 41-16 27-16 10-16-9-16-23-66-141-28-52-24-31-22-17-32-5-72 17-38-1-34-12-72-45-28-9-20 4-38 27-14 2-18-13-46-61-32-19-110-21-158-14z"/>
<path fill="url(#Lg0_0)" stroke="url(#g0_0)" vector-effect="non-scaling-stroke" transform="matrix(0.51001 -0.02114 0 -0.10027 341.83 310.18)" d="M-62-672l158 14 110 21 32 20 46 60 18 13 14-1 38-27 20-5 28 10 72 45 34 12 38 1 72-17 32 5 22 16 24 32 28 51 66 142 16 23 16 8 16-10 16-27 16-40 40-119 20-53 24-49 26-37 34-29 46-22 60-17 80-12 5-21-78 11-62 16-48 22-36 27-26 33-24 44-22 52-40 109-18 41-16 23-16 8-16-8-16-21-66-127-26-43-24-28-22-15-30-5-70 14-37-1-33-12-72-44-26-9-18 2-38 24-16 3-18-12-46-57-16-12-18-8-110-20-158-13z"/>
<path fill="url(#Lg0_0)" stroke="url(#g0_0)" vector-effect="non-scaling-stroke" transform="matrix(0.51002 -0.02114 0 -0.10027 344.29 310.95)" d="M-62-673l158 14 110 20 18 8 16 12 46 57 18 12 16-3 38-24 18-3 26 10 72 44 33 12 37 1 70-14 30 4 22 15 24 29 26 43 66 127 16 21 16 8 16-8 16-23 18-41 40-109 22-53 24-43 26-33 36-28 48-21 62-16 78-11 5-20-80 11-62 14-48 20-38 26-28 32-24 40-22 48-42 104-16 33-16 22-16 8-16-6-16-18-68-117-26-38-22-23-20-12-30-5-68 12-35-2-33-12-72-43-26-9-18 2-36 21-16 3-20-13-46-54-34-18-112-20-156-12z"/>
<path fill="url(#Lg0_0)" stroke="url(#g0_0)" vector-effect="non-scaling-stroke" transform="matrix(0.51004 -0.02114 0 -0.10027 346.75 311.71)" d="M-62-674l156 13 112 20 34 18 46 54 20 12 16-2 36-21 18-2 26 9 72 43 33 11 35 2 68-12 30 6 20 12 22 23 26 38 68 116 16 18 16 7 16-8 16-22 16-33 42-104 22-48 24-40 28-32 38-26 48-20 62-15 80-11 5-20-80 10-64 15-50 19-40 26-28 29-24 36-22 44-42 95-16 30-18 22-16 7-16-6-16-17-64-98-26-34-22-22-20-11-29-6-67 10-36-3-32-11-70-41-26-9-20 3-36 18-14 1-18-11-46-51-34-18-110-20-160-13z"/>
<path fill="url(#Lg0_0)" stroke="url(#g0_0)" vector-effect="non-scaling-stroke" transform="matrix(0.51006 -0.02113 0 -0.10027 349.21 312.48)" d="M-62-675l160 13 110 20 34 18 46 50 18 11 14 0 36-19 20-2 26 9 70 40 32 12 36 3 67-10 29 5 20 12 22 21 26 35 64 98 16 16 16 6 16-6 18-22 16-30 42-95 22-44 24-36 28-30 40-26 50-19 64-14 80-10 5-21-82 10-64 14-52 19-40 23-28 27-26 35-22 40-42 86-18 31-18 19-16 5-16-6-16-14-62-85-26-30-22-19-20-11-28-4-66 7-34-3-32-11-66-38-26-9-18 1-36 16-16 1-18-10-48-50-36-17-110-19-158-13z"/>
<path fill="url(#Lg0_0)" stroke="url(#g0_0)" vector-effect="non-scaling-stroke" transform="matrix(0.51007 -0.02113 0 -0.10027 351.68 313.25)" d="M-62-676l158 12 110 20 36 17 48 50 18 10 16-2 36-16 18-1 26 10 66 37 32 12 34 3 66-7 28 4 20 10 22 19 26 31 62 84 16 15 16 6 16-6 18-19 18-30 42-87 22-39 26-36 28-26 40-24 52-18 64-14 82-10 5-20-82 9-66 13-52 18-42 22-30 26-26 32-22 36-42 79-18 28-18 18-16 5-14-3-14-10-86-99-24-20-22-10-26-5-66 6-34-3-30-11-68-37-24-8-20 1-36 14-14 0-18-11-34-35-18-14-22-11-32-8-100-16-146-11z"/>
<path fill="url(#Lg0_0)" stroke="url(#g0_0)" vector-effect="non-scaling-stroke" transform="matrix(0.51009 -0.02113 0 -0.10027 354.14 314.01)" d="M-62-677l146 11 100 15 32 9 22 11 18 14 34 35 18 11 14 0 36-14 20-1 24 8 68 37 30 10 34 4 66-6 26 4 22 11 24 20 86 99 14 10 14 3 16-6 18-18 18-28 42-78 22-36 26-32 30-26 42-23 52-17 66-13 82-9 5-21-84 10-66 12-54 17-42 21-30 23-28 31-22 33-44 74-18 25-18 16-16 4-14-3-14-8-82-84-22-16-22-11-28-5-64 5-34-3-30-10-66-35-24-8-20 1-34 12-16-1-16-9-36-35-18-14-24-10-40-11-94-15-142-10z"/>
<path fill="url(#Lg0_0)" stroke="url(#g0_0)" vector-effect="non-scaling-stroke" transform="matrix(0.51011 -0.02113 0 -0.10027 356.60 314.78)" d="M-62-678l142 10 94 15 40 10 24 11 18 13 36 35 16 10 16 0 34-11 20-1 24 8 66 34 30 10 34 4 64-5 28 5 22 10 22 17 82 83 14 9 14 3 16-5 18-16 18-24 44-75 22-32 28-31 30-23 42-22 54-16 66-13 84-9 5-20-84 9-68 12-54 15-44 21-32 22-28 29-22 29-44 67-18 23-18 15-18 5-28-11-78-69-22-15-22-9-28-5-64 4-34-3-30-10-62-31-24-8-18 1-36 10-14-1-16-9-38-35-22-14-28-12-48-12-84-13-136-9z"/>
<path fill="url(#Lg0_0)" stroke="url(#g0_0)" vector-effect="non-scaling-stroke" transform="matrix(0.51013 -0.02113 0 -0.10027 359.06 315.55)" d="M-62-679l136 9 84 13 48 12 28 11 22 15 38 35 16 8 14 1 36-10 18 0 24 7 62 32 30 9 34 4 64-4 28 4 22 10 22 14 78 70 28 11 18-5 18-15 18-23 44-68 22-29 28-28 32-23 44-20 54-16 68-12 84-8 5-21-84 9-68 11-54 14-46 19-32 20-30 27-24 29-46 63-18 20-18 14-18 4-26-8-76-59-42-20-30-5-64 4-32-3-30-9-60-28-24-7-64 7-20-9-54-45-58-22-94-18-150-11z"/>
<path fill="url(#Lg0_0)" stroke="url(#g0_0)" vector-effect="non-scaling-stroke" transform="matrix(0.51014 -0.02112 0 -0.10027 361.53 316.31)" d="M-62-681l150 11 94 19 58 22 54 44 20 10 64-8 24 7 60 29 30 9 32 3 64-4 30 4 42 21 76 58 26 9 18-5 18-13 18-20 46-64 24-28 30-27 32-20 46-19 54-15 68-11 84-8 5-20-154 19-56 14-46 18-34 19-30 25-24 26-48 59-18 18-18 12-18 3-26-7-72-48-40-17-32-4-88 3-36-9-78-31-68 5-18-9-60-46-72-27-82-16-144-10z"/>
<path fill="url(#Lg0_0)" stroke="url(#g0_0)" vector-effect="non-scaling-stroke" transform="matrix(0.51016 -0.02112 0 -0.10027 363.99 317.08)" d="M-62-682l144 10 82 16 72 27 60 47 18 8 68-5 78 32 36 9 88-3 32 4 40 17 72 48 26 7 18-4 18-11 18-18 48-60 24-26 30-24 34-20 46-18 56-14 154-18 5-21-154 18-56 13-48 17-36 19-30 22-92 95-20 12-18 3-26-6-68-39-40-14-32-3-88 5-34-7-76-28-68 2-18-9-40-32-26-16-46-20-48-15-70-11-128-8z"/>
<path fill="url(#Lg0_0)" stroke="url(#g0_0)" vector-effect="non-scaling-stroke" transform="matrix(0.51018 -0.02112 0 -0.10027 366.45 317.85)" d="M-62-683l128 8 70 12 48 15 46 20 26 16 40 32 18 9 68-3 76 29 34 7 88-5 32 3 40 14 68 39 26 6 18-3 20-12 92-95 30-22 36-19 48-17 56-13 154-18 5-20-154 17-58 12-48 16-38 18-32 21-94 88-20 10-18 3-26-5-64-31-38-11-32-2-92 8-34-6-70-24-66 1-20-10-64-47-88-37-72-15-134-9z"/>
<path fill="url(#Lg0_0)" stroke="url(#g0_0)" vector-effect="non-scaling-stroke" transform="matrix(0.51020 -0.02112 0 -0.10027 368.91 318.61)" d="M-62-684l134 9 72 14 88 38 64 47 20 10 66-2 70 24 34 7 92-8 32 2 38 11 64 31 26 5 18-3 20-11 94-87 32-21 38-18 48-16 58-13 154-16 5-20-156 16-58 11-48 15-38 16-34 21-98 82-20 9-18 3-24-4-62-24-37-9-33-1-92 13-32-5-70-22-60 1-22-9-74-53-86-40-68-14-132-9z"/>
<path fill="url(#Lg0_0)" stroke="url(#g0_0)" vector-effect="non-scaling-stroke" transform="matrix(0.51021 -0.02112 0 -0.10027 371.38 319.38)" d="M-62-685l132 9 68 14 86 40 74 52 22 10 60-1 70 21 32 5 92-12 33 0 37 9 62 25 24 3 18-3 20-9 98-82 34-20 38-16 48-15 58-12 156-16 5-20-156 15-108 25-40 16-36 20-98 74-22 9-20 3-113-27-35 1-65 14-31 3-32-4-64-18-58 0-24-10-52-39-46-29-68-33-66-14-128-8z"/>
<path fill="url(#Lg0_0)" stroke="url(#g0_0)" vector-effect="non-scaling-stroke" transform="matrix(0.51023 -0.02111 0 -0.10027 373.84 320.15)" d="M-62-686l128 8 66 14 68 33 46 28 52 40 24 10 58 0 64 18 32 4 31-3 65-15 35-1 113 28 20-3 22-9 98-75 36-19 40-16 108-25 156-15 5-20-158 14-110 24-72 31-94 65-36 15-32 2-66-16-36-3-34 5-66 18-28 3-28-2-60-15-48 0-20-5-130-89-34-19-30-11-60-12-120-7z"/>
<path fill="url(#Lg0_0)" stroke="url(#g0_0)" vector-effect="non-scaling-stroke" transform="matrix(0.51025 -0.02111 0 -0.10027 376.30 320.91)" d="M-62-687l120 7 60 11 30 12 34 19 130 89 20 5 48 0 60 14 28 3 28-3 66-18 34-5 36 3 66 15 32-1 36-16 94-65 72-30 110-24 158-14 5-20-158 13-112 23-74 29-98 61-36 14-30 2-64-11-36 0-32 6-68 23-34 5-78-14-48-1-20-5-22-13-118-88-56-27-58-12-120-7z"/>
<path fill="url(#Lg0_0)" stroke="url(#g0_0)" vector-effect="non-scaling-stroke" transform="matrix(0.51026 -0.02111 0 -0.10027 378.77 321.68)" d="M-62-688l120 7 58 11 56 28 118 87 22 13 20 5 48 1 78 14 34-4 68-23 32-7 36 1 64 10 30-1 36-15 98-61 74-28 112-23 158-14 5-20-144 12-104 17-50 13-46 18-102 57-30 13-34 5-66-7-34 2-32 8-68 28-38 6-74-12-48-1-20-6-26-16-118-93-52-27-58-11-118-7z"/>
<path fill="url(#Lg0_0)" stroke="url(#g0_0)" vector-effect="non-scaling-stroke" transform="matrix(0.51028 -0.02111 0 -0.10027 381.23 322.44)" d="M-62-689l118 6 58 12 52 27 118 92 26 17 20 6 48 1 74 12 38-7 68-27 32-9 34-1 66 6 34-4 30-13 102-57 46-18 50-14 104-17 144-11 5-20-154 12-110 18-88 28-128 63-34 6-64-3-32 3-34 11-72 33-22 6-18 0-112-11-24-6-64-47-86-72-42-23-54-12-124-7z"/>
<path fill="url(#Lg0_0)" stroke="url(#g0_0)" vector-effect="non-scaling-stroke" transform="matrix(0.51030 -0.02111 0 -0.10027 383.69 323.21)" d="M-62-690l124 7 54 12 42 22 86 72 64 47 24 7 112 11 18 0 22-7 72-32 34-11 32-3 64 2 34-5 128-63 88-28 110-19 154-11 5-20-162 12-116 19-82 26-124 56-32 6-64 1-30 5-54 20-14 8-10 11-5-2-11 2-24 11-8 8-10-4-20-1-16 7-8-8-18-4-14 0-8 7-6-6-10-4-36-3-10 3-12-15-31-24-13-8-8 0-16-22-38-36-14-9-8-1-16-20-28-17-12-2-8 4-10-10-18-4-138-7z"/>
<path fill="url(#Lg0_0)" stroke="url(#g0_0)" vector-effect="non-scaling-stroke" transform="matrix(0.51032 -0.02110 0 -0.10027 386.15 323.98)" d="M-62-692l138 7 18 4 10 10 8-4 12 3 28 16 16 21 8 0 14 10 38 35 16 23 8-1 13 9 31 24 12 15 10-4 36 4 10 3 6 6 8-7 14 0 18 5 8 7 16-6 20 0 10 5 8-8 24-11 11-3 5 3 10-12 14-8 54-20 30-4 64-1 32-6 124-57 82-25 116-20 162-12 5-20-174 13-122 21-74 23-124 51-32 6-67 5-47 15-30 4-10 10-4 14-2 13-2 3-4-19-4-7-12 0-12 6-8 9-4 10-4 21-2 1-4-21-8-11-14-1-8 5-4 8-4 21-2 3-4-22-6-13-10-6-12 0-6 3-4 7-4 17-2 15-4-21-6-16-6-6-10-3-18-1-8 4-6 13-4 20-6-30-6-15-12-15-22-15-10 2-4 8-4 18-4-21-6-21-14-24-22-22-14-9-6 2-4 5-6 20-6-32-6-17-10-13-14-9-10-3-8 4-6 12-4 20-4-21-4-12-10-9-44 8-104-5z"/>
<path fill="url(#Lg0_0)" stroke="url(#g0_0)" vector-effect="non-scaling-stroke" transform="matrix(0.51033 -0.02110 0 -0.10027 388.62 324.74)" d="M-62-693l104 6 44-8 10 9 4 12 4 21 4-20 6-13 8-3 10 3 14 9 10 13 6 16 6 32 6-20 4-5 6-1 14 8 22 23 14 24 6 20 4 21 4-17 4-8 10-2 22 15 12 14 6 15 6 30 4-20 6-12 8-4 18 0 10 4 6 6 6 16 4 20 2-15 4-16 4-7 6-4 12 1 10 6 6 13 4 22 2-3 4-21 4-8 8-5 14 0 8 12 4 21 2-1 4-21 4-11 8-9 12-6 12 1 4 7 4 18 2-3 2-13 4-14 10-10 30-3 47-16 67-4 32-6 124-51 74-23 122-21 174-13 5-20-146 9-108 14-102 25-152 56-88 11-44 17-22-14-10-1-4 4-4 12-4 31-2 31-2 6-4-50-4-21-6-10-8 0-12 9-6 16-4 24-4 52-2 3-4-56-4-22-4-8-6-4-8 1-8 13-4 21-4 54-2 7-4-55-4-24-4-12-4-5-12-3-8 7-4 12-4 28-4 64-6-70-4-22-6-15-8-7-12-3-8 3-6 9-6 25-4 39-2 31-6-72-6-33-10-21-16-13-10-1-6 10-4 18-2 15-4 51-6-67-4-26-4-17-6-17-6-10-22-23-10-2-4 4-4 9-6 33-4 44-4-55-6-45-8-24-14-15-14-2-4 4-4 10-4 20-2 16-4 53-4-53-4-29-4-13-6-6-14 5-30 26-104-6z"/>
<path fill="url(#Lg0_0)" stroke="url(#g0_0)" vector-effect="non-scaling-stroke" transform="matrix(0.51035 -0.02110 0 -0.10027 391.08 325.51)" d="M-62-694l104 6 30-25 14-5 6 6 4 13 4 29 4 52 4-53 2-16 4-19 4-10 4-4 14 1 14 16 8 24 6 45 4 55 4-45 6-32 4-9 4-4 10 2 22 22 6 11 6 16 4 17 4 27 6 66 4-50 2-15 4-18 6-10 10 0 16 14 10 21 6 33 6 71 2-31 4-38 6-25 6-9 8-3 12 2 8 7 6 16 4 22 6 69 4-64 4-28 4-12 8-7 12 4 4 5 4 11 4 25 4 55 2-7 4-54 4-22 8-12 8-1 6 4 4 8 4 22 4 56 2-3 4-52 4-25 6-15 12-10 8 1 6 10 4 21 4 50 2-6 2-31 4-32 4-12 4-4 10 2 22 14 44-17 88-11 152-56 102-25 108-14 146-9 5-10-168 11-122 17-84 22-124 44-100 18-42 17-22-23-10-4-4 4-4 16-4 42-2 42-2 8-4-69-4-30-6-15-8-2-12 12-6 20-4 32-4 71-2 4-4-76-4-31-6-14-10-2-8 10-4 19-4 47-2 45-2 10-4-75-4-33-4-15-4-7-12-4-8 10-4 16-2 15-4 58-2 53-6-95-4-30-6-21-8-10-12-2-8 4-6 13-4 19-2 16-4 53-2 43-6-97-6-43-4-14-6-12-14-13-10-1-4 6-4 12-4 25-2 22-4 70-6-89-4-35-4-22-6-20-6-12-20-22-12 0-4 6-4 14-4 26-2 20-4 62-4-73-2-26-4-34-4-19-4-12-6-10-8-8-8-2-6 2-4 7-4 14-4 27-2 22-4 73-4-71-2-23-4-27-6-13-6-1-8 5-32 39-104-7z"/>
</g>
<g><line x1="106" y1="329.3" x2="106" y2="60.2" stroke="#262626" stroke-width="1.3"/>
<line x1="362" y1="409" x2="106" y2="329.3" stroke="#262626" stroke-width="1.3"/>
<line x1="362" y1="409" x2="1070.8" y2="379.7" stroke="#262626" stroke-width="1.3"/>
<line x1="393.5" y1="407.7" x2="408.2" y2="412.9" stroke="#262626" stroke-width="1.3"/>
<line x1="495.6" y1="403.5" x2="510.3" y2="408.7" stroke="#262626" stroke-width="1.3"/>
<line x1="597.7" y1="399.3" x2="612.4" y2="404.5" stroke="#262626" stroke-width="1.3"/>
<line x1="699.8" y1="395" x2="714.5" y2="400.2" stroke="#262626" stroke-width="1.3"/>
<line x1="801.8" y1="390.8" x2="816.5" y2="396" stroke="#262626" stroke-width="1.3"/>
<line x1="903.9" y1="386.6" x2="918.6" y2="391.8" stroke="#262626" stroke-width="1.3"/>
<line x1="1006" y1="382.4" x2="1020.7" y2="387.6" stroke="#262626" stroke-width="1.3"/>
<line x1="362" y1="409" x2="345.7" y2="410" stroke="#262626" stroke-width="1.3"/>
<line x1="239.3" y1="370.8" x2="223" y2="371.8" stroke="#262626" stroke-width="1.3"/>
<line x1="116.6" y1="332.6" x2="100.3" y2="333.6" stroke="#262626" stroke-width="1.3"/>
<line x1="106" y1="247.9" x2="88.6" y2="242.5" stroke="#262626" stroke-width="1.3"/>
<line x1="106" y1="197.7" x2="88.6" y2="192.3" stroke="#262626" stroke-width="1.3"/>
<line x1="106" y1="147.6" x2="88.6" y2="142.2" stroke="#262626" stroke-width="1.3"/>
<line x1="106" y1="97.5" x2="88.6" y2="92.1" stroke="#262626" stroke-width="1.3"/></g>
<g><line x1="164.4" y1="871" x2="164.4" y2="572.3" stroke="#dcdcdc" stroke-width="1"/>
<line x1="274.4" y1="868.4" x2="274.4" y2="569.6" stroke="#dcdcdc" stroke-width="1"/>
<line x1="384.3" y1="865.7" x2="384.3" y2="567" stroke="#dcdcdc" stroke-width="1"/>
<line x1="494.2" y1="863.1" x2="494.2" y2="564.4" stroke="#dcdcdc" stroke-width="1"/>
<line x1="604.1" y1="860.5" x2="604.1" y2="561.7" stroke="#dcdcdc" stroke-width="1"/>
<line x1="714" y1="857.8" x2="714" y2="559.1" stroke="#dcdcdc" stroke-width="1"/>
<line x1="824" y1="855.2" x2="824" y2="556.5" stroke="#dcdcdc" stroke-width="1"/>
<polyline points="106.5,793.6 857.5,775.6 1071.4,838.6" fill="none" stroke="#dcdcdc" stroke-width="1"/>
<polyline points="106.5,738.4 857.5,720.4 1071.4,783.4" fill="none" stroke="#dcdcdc" stroke-width="1"/>
<polyline points="106.5,683.2 857.5,665.2 1071.4,728.2" fill="none" stroke="#dcdcdc" stroke-width="1"/>
<polyline points="106.5,628 857.5,610 1071.4,673" fill="none" stroke="#dcdcdc" stroke-width="1"/>
<line x1="1071.4" y1="917.4" x2="1071.4" y2="618.7" stroke="#dcdcdc" stroke-width="1"/>
<line x1="970.3" y1="887.6" x2="970.3" y2="588.9" stroke="#dcdcdc" stroke-width="1"/>
<line x1="869.2" y1="857.9" x2="869.2" y2="559.1" stroke="#dcdcdc" stroke-width="1"/>
<line x1="375.2" y1="933.3" x2="164.4" y2="871" stroke="#dcdcdc" stroke-width="1"/>
<line x1="485.6" y1="930.8" x2="274.4" y2="868.4" stroke="#dcdcdc" stroke-width="1"/>
<line x1="596" y1="928.2" x2="384.3" y2="865.7" stroke="#dcdcdc" stroke-width="1"/>
<line x1="706.5" y1="925.7" x2="494.2" y2="863.1" stroke="#dcdcdc" stroke-width="1"/>
<line x1="816.9" y1="923.2" x2="604.1" y2="860.5" stroke="#dcdcdc" stroke-width="1"/>
<line x1="927.3" y1="920.7" x2="714" y2="857.8" stroke="#dcdcdc" stroke-width="1"/>
<line x1="1037.7" y1="918.2" x2="824" y2="855.2" stroke="#dcdcdc" stroke-width="1"/>
<line x1="317" y1="934.6" x2="1071.4" y2="917.4" stroke="#dcdcdc" stroke-width="1"/>
<line x1="217.5" y1="905.2" x2="970.3" y2="887.6" stroke="#dcdcdc" stroke-width="1"/>
<line x1="118" y1="875.8" x2="869.2" y2="857.9" stroke="#dcdcdc" stroke-width="1"/></g>
<line x1="706" y1="559.3" x2="407.7" y2="710.9" stroke="#D95319" stroke-width="2.4"/><path d="M392.5 718.6L405.4 698.8Q405.9 705.2 408.5 710.4Q411.3 715.7 416.1 719.8Z" fill="#D95319"/><line x1="809.4" y1="586.3" x2="842.6" y2="654.7" stroke="#D95319" stroke-width="2.4"/><path d="M850 670L830.4 656.7Q836.8 656.3 842.1 653.8Q847.4 651.2 851.7 646.4Z" fill="#D95319"/>
<g class="s" stroke-width="1.0" stroke-linejoin="round">
<path fill="url(#Lg1_0)" stroke="url(#g1_0)" vector-effect="non-scaling-stroke" transform="matrix(0.54962 -0.01317 0 -0.11040 164.43 792.19)" d="M-105-615l42 24 18 5 16-4 36-20 18-4 16 3 36 22 18 5 16-3 35-20 16-5 18 4 36 21 18 5 16-3 36-21 16-4 18 3 36 22 18 5 18-3 38-18 12-1 12 5 14 11 16 18 64 92 26 47 60 122 36 60 58 80 16 15 12 4 10-4 8-8 8-13 10-21 16-45 42-137 12-33 12-26 18-29 46-58 42-70 18-25 12-11 12-7 52-10 44-33 18-7 12 2 12 7 40 41 4-15-40-41-12-7-12-2-18 7-44 32-52 11-24 18-18 24-42 70-46 57-18 29-12 26-12 32-44 142-16 44-10 21-8 12-8 8-10 3-10-2-12-9-34-46-58-92-72-139-28-49-56-82-16-18-14-11-12-4-12 0-38 17-18 4-18-6-36-20-18-4-16 5-36 19-16 3-18-4-36-21-18-4-16 5-36 19-16 3-18-5-36-21-16-3-18 4-36 20-16 3-18-5-42-24z"/>
<path fill="url(#Lg1_0)" stroke="url(#g1_0)" vector-effect="non-scaling-stroke" transform="matrix(0.54964 -0.01317 0 -0.11040 166.42 792.77)" d="M-105-616l42 24 18 4 16-3 36-19 18-4 16 3 36 21 18 5 16-3 35-20 16-4 18 4 36 20 18 5 16-3 36-20 16-4 18 3 36 21 18 5 18-3 38-17 12 0 12 4 14 11 16 18 56 82 28 49 72 139 58 92 34 46 12 9 10 2 10-3 8-8 8-12 10-21 16-44 44-142 12-32 12-26 18-29 46-57 42-70 18-24 24-18 52-11 44-32 18-7 12 2 12 7 40 41 4-16-40-40-12-7-12-2-18 7-44 31-52 12-24 18-18 24-42 68-46 57-18 29-12 26-14 37-42 134-16 44-10 22-10 15-8 7-10 4-10-2-10-8-24-31-70-113-78-144-28-48-50-74-14-16-14-11-12-4-12 0-40 17-18 3-16-5-36-20-18-4-16 4-36 20-16 3-18-5-36-20-18-4-16 5-36 19-16 2-18-4-36-21-16-3-18 4-36 19-16 3-18-5-42-23z"/>
<path fill="url(#Lg1_0)" stroke="url(#g1_0)" vector-effect="non-scaling-stroke" transform="matrix(0.54967 -0.01316 0 -0.11040 168.41 793.36)" d="M-105-616l42 23 18 4 16-2 36-20 18-4 16 4 36 20 18 5 16-3 35-19 16-4 18 4 36 20 18 4 16-3 36-19 16-4 18 3 36 21 16 4 18-2 40-17 12 0 12 4 14 11 14 16 50 73 28 48 78 145 70 113 24 31 10 8 10 2 10-4 8-7 10-16 10-21 16-44 42-134 14-37 12-26 18-29 46-57 42-68 18-24 24-18 52-12 44-31 18-7 12 2 12 7 40 40 4-15-40-40-12-7-12-1-18 6-44 31-52 12-24 18-18 23-42 68-46 56-18 29-12 25-14 36-42 132-18 49-10 21-10 15-8 7-10 4-18-8-22-27-96-161-68-122-28-47-38-56-26-24-12-4-12 0-40 17-18 2-16-5-36-20-18-3-16 4-36 19-16 3-18-5-36-19-18-4-16 4-36 19-16 3-18-5-36-20-16-4-18 4-36 19-16 3-18-5-42-22z"/>
<path fill="url(#Lg1_0)" stroke="url(#g1_0)" vector-effect="non-scaling-stroke" transform="matrix(0.54969 -0.01316 0 -0.11040 170.39 793.95)" d="M-105-616l42 22 18 4 16-2 36-19 18-4 16 4 36 20 18 4 16-2 35-19 16-4 18 4 36 19 18 5 16-3 36-19 16-4 18 3 36 20 16 5 18-2 40-17 12 0 12 4 26 24 38 56 28 46 68 123 96 160 22 28 18 8 10-4 8-7 10-16 10-20 18-49 42-132 14-36 12-25 18-29 46-56 42-68 18-24 24-17 52-13 44-30 18-6 12 1 12 7 40 39 4-15-40-38-12-7-12-1-18 6-44 29-52 13-24 17-18 24-42 66-46 56-18 28-12 24-14 36-44 134-18 48-10 21-10 14-8 8-10 4-18-8-20-25-64-109-58-95-80-140-30-43-24-22-24-4-40 16-18 2-16-4-36-19-18-4-16 4-36 18-16 3-18-4-36-19-18-4-16 4-36 18-16 3-18-5-36-19-16-4-18 4-36 18-16 3-18-5-42-21z"/>
<path fill="url(#Lg1_0)" stroke="url(#g1_0)" vector-effect="non-scaling-stroke" transform="matrix(0.54971 -0.01315 0 -0.11040 172.38 794.54)" d="M-105-617l42 22 18 4 16-2 36-18 18-4 16 4 36 19 18 5 16-3 35-18 16-4 18 3 36 19 18 5 16-3 36-18 16-4 18 3 36 19 16 5 18-2 40-16 24 4 24 21 30 44 80 140 58 94 64 110 20 25 18 7 10-3 8-8 10-15 10-20 18-48 44-134 14-36 12-25 18-28 46-55 42-66 18-24 24-17 52-13 44-29 18-7 12 2 12 6 40 39 4-15-40-38-12-6-12-2-18 7-46 29-54 14-20 15-18 23-42 65-46 55-18 27-12 24-14 35-46 137-18 47-10 19-10 15-10 9-10 3-16-8-18-22-66-116-68-105-74-131-26-37-22-19-24-4-40 16-18 1-16-4-36-18-18-3-16 3-36 18-16 2-18-4-36-18-18-3-16 3-36 17-16 3-18-5-36-18-16-4-18 4-36 17-16 3-18-5-42-21z"/>
<path fill="url(#Lg1_0)" stroke="url(#g1_0)" vector-effect="non-scaling-stroke" transform="matrix(0.54974 -0.01315 0 -0.11040 174.37 795.12)" d="M-105-617l42 21 18 4 16-2 36-17 18-4 16 3 36 19 18 5 16-3 35-17 16-4 18 3 36 19 18 4 16-2 36-18 16-4 18 3 36 19 16 4 18-2 40-15 24 4 22 19 26 37 74 130 68 106 66 116 18 22 16 7 10-2 10-9 10-15 10-20 18-46 46-137 14-35 12-24 18-27 46-55 42-65 18-23 20-15 54-14 46-30 18-6 12 2 12 6 40 38 4-15-40-37-12-6-12-1-18 5-46 29-52 13-22 16-18 23-42 63-46 53-18 27-12 24-14 33-48 140-18 45-10 19-10 15-10 9-10 3-16-8-16-19-68-122-72-105-72-129-24-33-20-17-24-4-40 15-18 2-16-5-36-17-18-3-16 3-36 17-16 3-18-5-36-17-18-3-16 3-36 17-16 2-18-4-36-19-18-3-16 4-36 16-16 3-18-5-42-20z"/>
<path fill="url(#Lg1_0)" stroke="url(#g1_0)" vector-effect="non-scaling-stroke" transform="matrix(0.54976 -0.01314 0 -0.11040 176.36 795.71)" d="M-105-617l42 20 18 4 16-2 36-17 16-3 18 3 36 18 18 5 16-3 35-16 16-4 18 3 36 18 18 4 16-2 36-17 16-3 18 2 36 18 16 5 18-2 40-15 24 4 20 17 24 33 72 129 72 105 68 122 16 19 16 7 10-2 10-9 10-15 10-19 18-45 48-140 14-33 12-24 18-27 46-53 42-63 18-23 22-16 52-13 46-29 18-6 12 2 12 6 40 37 4-15-40-36-14-6-12-1-16 6-46 28-52 13-22 15-18 22-42 61-46 53-18 26-12 23-14 32-48 136-20 49-20 34-10 9-10 3-14-5-16-18-14-24-50-95-20-30-54-70-76-138-22-30-20-17-24-4-40 14-18 2-16-4-36-17-18-3-16 3-36 17-18 2-16-4-36-17-18-3-16 3-36 16-16 2-18-4-36-18-18-3-16 3-36 16-16 2-18-4-42-19z"/>
<path fill="url(#Lg1_0)" stroke="url(#g1_0)" vector-effect="non-scaling-stroke" transform="matrix(0.54978 -0.01313 0 -0.11040 178.35 796.30)" d="M-105-618l42 20 18 4 16-2 36-16 16-3 18 3 36 18 18 4 16-2 35-16 16-3 18 2 36 18 16 4 18-3 36-16 16-3 18 3 36 17 16 4 18-2 40-14 24 4 20 17 22 30 76 138 54 70 20 30 50 95 14 23 16 19 14 5 10-3 10-10 20-33 20-49 48-136 14-32 12-23 18-26 46-53 42-61 18-22 22-15 52-13 46-29 16-5 12 1 14 6 40 36 4-14-40-35-14-6-12-1-16 5-46 27-52 13-22 16-18 21-42 59-46 51-20 29-12 23-14 32-48 132-20 47-20 34-10 9-10 4-14-5-16-18-16-28-36-72-16-28-18-24-48-56-20-33-40-77-20-35-20-28-20-16-24-5-40 14-18 2-16-4-36-17-18-3-16 3-36 16-18 2-16-4-36-16-18-3-16 3-36 15-16 2-18-4-36-17-18-3-16 3-36 15-16 2-18-4-42-19z"/>
<path fill="url(#Lg1_0)" stroke="url(#g1_0)" vector-effect="non-scaling-stroke" transform="matrix(0.54981 -0.01313 0 -0.11040 180.34 796.88)" d="M-105-618l42 19 18 4 16-2 36-15 16-3 18 3 36 17 18 4 16-2 35-15 16-3 18 3 36 16 16 4 18-2 36-16 16-3 18 3 36 16 16 4 18-1 40-14 24 4 20 17 20 28 20 34 40 78 20 33 48 56 18 24 16 28 36 72 16 28 16 18 14 4 10-3 10-10 20-33 20-48 48-131 14-32 12-23 20-29 46-51 42-59 18-22 22-15 52-13 46-27 16-5 12 0 14 7 40 34 4-14-40-34-14-6-12 0-18 6-44 25-54 14-22 16-16 18-42 58-46 49-20 28-12 22-14 31-50 132-20 47-12 22-10 13-10 9-10 3-14-6-14-17-16-28-34-70-16-28-18-24-36-34-16-20-18-30-40-79-18-32-20-28-20-17-24-4-40 12-18 2-52-20-18-3-16 4-36 15-18 2-16-4-36-16-18-3-16 3-36 15-16 2-18-4-36-17-18-3-16 3-36 14-16 2-18-4-42-18z"/>
<path fill="url(#Lg1_0)" stroke="url(#g1_0)" vector-effect="non-scaling-stroke" transform="matrix(0.54983 -0.01312 0 -0.11040 182.32 797.47)" d="M-105-618l42 18 18 4 16-2 36-14 16-3 18 3 36 16 18 4 16-2 35-14 16-3 18 3 36 16 16 3 18-2 36-15 16-3 18 3 52 20 18-2 40-13 24 5 20 17 20 27 18 32 40 80 18 30 16 19 36 35 18 24 16 28 34 70 16 28 14 17 14 6 10-3 10-9 10-14 12-22 20-46 50-132 14-31 12-22 20-28 46-49 42-58 16-18 22-16 54-14 44-26 18-6 12 1 14 6 40 34 4-14-40-33-14-6-12-1-18 6-44 25-52 13-24 16-16 18-42 55-46 48-20 27-26 51-52 132-22 49-12 21-10 13-10 8-8 2-14-5-16-19-14-26-34-72-20-33-16-18-36-30-16-19-18-31-38-77-18-33-20-27-18-15-24-4-40 12-18 1-52-19-18-2-16 3-36 14-18 2-16-3-36-16-18-3-16 3-36 14-16 2-18-4-36-16-18-3-16 3-36 13-16 2-18-3-42-18z"/>
<path fill="url(#Lg1_0)" stroke="url(#g1_0)" vector-effect="non-scaling-stroke" transform="matrix(0.54985 -0.01312 0 -0.11040 184.31 798.06)" d="M-105-618l42 17 18 4 16-2 36-14 16-2 18 3 36 16 18 4 16-2 35-14 16-3 18 3 36 15 16 4 18-2 36-14 16-4 18 3 52 19 18-1 40-12 24 4 18 15 20 27 18 32 38 78 18 30 16 20 36 29 16 18 20 34 34 71 14 26 16 20 14 5 8-2 10-8 10-13 12-21 22-49 52-132 26-51 20-27 46-48 42-55 16-18 24-17 52-12 44-25 18-6 12 1 14 6 40 33 4-15-40-31-26-6-18 5-44 24-52 12-24 16-58 71-46 46-20 26-14 24-14 29-52 127-24 52-12 20-10 13-10 7-8 2-14-7-14-17-14-27-32-69-20-34-18-19-36-24-16-18-18-31-36-75-18-34-20-28-20-15-22-4-40 12-18 1-52-19-18-2-52 17-18 2-52-19-18-3-52 16-16 2-18-4-36-15-18-3-16 2-36 14-16 1-18-3-42-17z"/>
<path fill="url(#Lg1_0)" stroke="url(#g1_0)" vector-effect="non-scaling-stroke" transform="matrix(0.54988 -0.01311 0 -0.11040 186.30 798.65)" d="M-105-619l42 18 18 3 16-2 36-13 16-2 18 2 36 16 18 4 16-2 51-16 18 3 52 18 18-2 52-16 18 2 52 19 18-2 40-11 22 3 20 16 20 28 18 33 36 76 18 30 16 19 36 24 18 19 20 33 32 70 14 26 14 18 14 7 8-2 10-8 10-12 12-20 24-52 52-127 14-29 14-24 20-26 46-46 58-71 24-16 52-12 44-24 18-6 26 7 40 31 4-14-40-30-26-6-18 5-44 23-52 12-24 15-60 70-48 47-18 23-26 49-54 126-24 50-22 33-10 9-8 2-14-6-14-18-12-22-34-75-20-33-18-17-34-17-18-19-18-31-36-77-18-34-20-27-18-14-22-4-40 11-18 2-52-18-18-3-52 16-18 2-52-18-18-2-52 15-16 1-18-3-36-15-18-3-68 17-18-4-42-17z"/>
<path fill="url(#Lg1_0)" stroke="url(#g1_0)" vector-effect="non-scaling-stroke" transform="matrix(0.54990 -0.01311 0 -0.11040 188.29 799.23)" d="M-105-619l42 17 18 3 68-16 18 2 36 16 18 3 16-1 51-15 18 2 52 18 18-2 52-16 18 3 52 17 18-1 40-11 22 4 18 14 20 27 19 34 35 77 18 31 18 18 34 18 18 17 20 32 34 75 12 23 14 18 14 6 8-3 10-8 22-33 24-51 54-126 26-48 18-23 48-47 60-70 24-15 52-12 44-23 18-5 26 6 40 30 4-14-40-29-26-6-18 6-44 21-54 13-24 15-54 62-50 46-20 25-28 50-56 125-26 52-20 29-10 8-8 2-12-5-14-18-12-23-34-76-18-29-18-16-38-15-18-20-16-28-36-79-16-30-20-28-18-14-22-5-40 11-18 1-52-17-18-2-52 15-18 2-52-17-18-3-68 16-18-4-36-15-18-2-68 16-18-4-42-16z"/>
<path fill="url(#Lg1_0)" stroke="url(#g1_0)" vector-effect="non-scaling-stroke" transform="matrix(0.54992 -0.01310 0 -0.11040 190.28 799.82)" d="M-105-619l42 16 18 3 68-16 18 3 36 15 18 4 67-16 18 2 52 17 18-1 52-15 18 2 52 17 18-1 40-11 22 4 18 15 20 27 16 31 36 79 16 28 18 19 38 16 18 15 18 30 34 76 12 23 14 18 12 5 8-2 10-8 20-29 26-52 56-125 28-50 20-25 50-47 54-61 24-15 54-13 44-22 18-5 26 6 40 29 4-14-40-27-26-6-18 5-44 21-54 12-24 15-58 62-48 43-20 24-28 49-58 123-26 51-20 29-16 9-12-5-14-17-12-24-32-73-20-32-18-13-36-9-18-17-18-32-34-76-16-32-20-28-18-15-22-4-58 11-52-17-18-2-52 15-18 1-52-16-18-3-68 15-18-3-36-15-18-2-68 15-60-19z"/>
<path fill="url(#Lg1_0)" stroke="url(#g1_0)" vector-effect="non-scaling-stroke" transform="matrix(0.54995 -0.01310 0 -0.11040 192.27 800.41)" d="M-105-619l60 18 68-15 18 3 36 14 18 4 67-15 18 3 52 16 18-2 52-14 18 2 52 17 58-11 22 4 18 14 20 29 16 32 34 76 18 32 18 16 36 9 18 14 20 32 32 73 12 24 14 17 12 5 16-9 20-29 26-51 58-124 28-48 20-25 48-42 58-62 24-15 54-12 44-21 18-5 26 5 40 28 4-14-40-26-26-5-18 4-44 20-54 12-24 14-58 59-48 41-20 23-30 50-88 175-18 25-16 9-12-6-12-15-12-24-32-74-18-29-18-13-38-4-18-16-16-28-36-83-16-31-18-26-20-16-22-3-56 10-52-16-18-2-52 13-18 2-70-18-68 14-72-20-68 14-60-19z"/>
<path fill="url(#Lg1_0)" stroke="url(#g1_0)" vector-effect="non-scaling-stroke" transform="matrix(0.54997 -0.01309 0 -0.11040 194.25 801.00)" d="M-105-620l60 18 68-14 72 20 67-13 70 18 18-2 52-13 18 2 52 15 56-10 22 4 20 16 18 25 16 32 36 83 16 27 18 17 38 4 18 13 18 29 32 74 12 23 12 16 12 5 16-8 18-25 88-175 30-50 20-23 48-41 58-59 24-14 54-12 44-20 18-5 26 6 40 26 4-14-40-25-26-5-18 5-44 19-54 11-26 15-56 55-50 40-20 23-30 48-92 176-16 22-14 8-12-5-12-16-12-23-32-75-18-28-18-10-38 0-18-15-16-29-34-80-16-32-18-27-20-16-22-4-56 9-52-15-18-2-52 13-18 2-70-18-68 13-72-19-68 13-60-18z"/>
<path fill="url(#Lg1_0)" stroke="url(#g1_0)" vector-effect="non-scaling-stroke" transform="matrix(0.55000 -0.01308 0 -0.11040 196.24 801.58)" d="M-105-620l60 17 68-12 72 19 67-13 70 18 18-2 52-13 18 2 52 15 56-9 22 4 20 16 18 26 16 33 34 80 16 28 18 16 38 0 18 10 18 28 32 75 12 23 12 16 12 4 14-7 16-22 92-176 30-49 20-22 50-40 56-55 26-15 54-11 44-19 18-5 26 5 40 25 4-13-40-24-26-5-64 23-52 10-28 16-54 50-50 38-22 24-36 57-90 168-14 18-14 7-12-6-12-17-40-91-18-29-18-10-38 6-10-5-10-11-16-29-34-82-16-33-18-26-20-15-20-3-56 8-70-16-70 14-70-17-68 12-66-19-18 1-56 11-60-17z"/>
<path fill="url(#Lg1_0)" stroke="url(#g1_0)" vector-effect="non-scaling-stroke" transform="matrix(0.55002 -0.01308 0 -0.11040 198.23 802.17)" d="M-105-620l60 17 56-12 18 0 66 18 67-11 70 16 70-13 70 16 56-9 20 4 20 15 18 26 16 33 34 82 16 29 10 10 10 5 38-5 18 10 18 29 40 91 12 17 12 6 14-7 14-19 90-167 36-57 22-24 50-38 54-50 28-16 52-10 64-23 26 5 40 23 4-13-40-22-26-5-64 22-52 9-28 15-54 48-50 35-24 25-24 35-42 71-64 119-12 15-12 6-12-5-12-16-40-92-10-18-8-10-18-8-38 11-10-5-8-8-16-28-36-88-16-33-18-25-18-14-20-4-56 8-68-15-72 12-70-16-68 11-66-18-74 11-60-16z"/>
<path fill="url(#Lg1_0)" stroke="url(#g1_0)" vector-effect="non-scaling-stroke" transform="matrix(0.55004 -0.01307 0 -0.11040 200.22 802.76)" d="M-105-621l60 17 74-11 66 18 67-11 70 16 72-13 68 16 56-8 20 4 18 13 18 26 16 33 36 88 16 28 8 8 10 5 39-11 17 8 8 10 10 18 40 91 12 17 12 5 12-6 12-15 64-119 42-71 24-35 24-25 50-35 54-48 28-15 52-9 64-22 26 4 40 23 4-14-42-22-26-3-60 20-54 9-30 16-50 42-54 36-24 25-26 36-48 77-58 109-12 15-12 5-10-5-12-16-40-91-10-17-8-10-8-5-10 0-36 14-10-3-10-9-16-29-34-85-16-34-18-27-18-14-22-4-56 7-66-15-72 12-70-15-66 10-68-18-74 10-60-16z"/>
<path fill="url(#Lg1_0)" stroke="url(#g1_0)" vector-effect="non-scaling-stroke" transform="matrix(0.55007 -0.01307 0 -0.11040 202.21 803.35)" d="M-105-621l60 16 74-10 68 18 65-10 70 15 72-12 66 15 56-7 22 4 18 14 18 27 16 34 34 85 16 29 10 9 10 3 36-15 10 1 8 5 8 9 10 18 40 91 12 16 10 5 12-5 12-16 58-108 48-77 26-36 24-25 54-36 50-42 30-16 54-9 60-20 26 3 42 22 4-14-40-19-24-4-66 19-52 9-28 13-54 42-48 30-26 23-28 36-58 88-52 101-12 15-10 4-10-4-12-15-40-92-10-17-8-8-8-4-10 0-36 19-10-3-10-9-16-30-34-87-16-34-18-26-18-13-20-4-56 6-66-14-72 11-70-14-66 8-68-17-74 9-60-15z"/>
<path fill="url(#Lg1_0)" stroke="url(#g1_0)" vector-effect="non-scaling-stroke" transform="matrix(0.55009 -0.01306 0 -0.11040 204.20 803.93)" d="M-105-621l60 15 74-9 68 17 65-8 70 14 72-11 66 14 56-6 20 4 18 13 18 26 16 34 34 87 16 30 10 9 10 3 36-19 10 0 8 4 8 8 10 17 40 92 12 15 10 4 10-5 12-14 52-101 58-88 28-36 26-23 48-30 54-42 28-14 52-8 66-19 24 4 40 19 4-13-40-19-24-3-66 18-52 8-28 12-54 40-50 29-34 32-54 72-32 50-46 91-12 15-10 4-10-5-10-14-10-20-28-67-10-17-8-9-8-5-10 1-28 20-10 3-10-2-8-7-8-12-10-21-32-84-16-35-18-28-20-15-20-3-54 5-66-13-72 11-70-14-66 7-68-16-74 7-60-14z"/>
<path fill="url(#Lg1_0)" stroke="url(#g1_0)" vector-effect="non-scaling-stroke" transform="matrix(0.55011 -0.01306 0 -0.11040 206.18 804.52)" d="M-105-621l60 14 74-8 68 17 65-7 70 13 72-10 66 13 54-5 20 3 20 15 18 27 16 36 32 84 10 20 8 12 8 8 10 2 10-4 28-19 10-1 8 5 8 9 10 17 28 67 10 20 10 14 10 5 10-4 12-15 46-92 32-50 54-72 34-31 50-30 54-39 28-12 52-8 66-19 24 4 40 19 4-14-40-17-24-3-66 17-54 8-26 11-52 35-56 31-34 32-62 78-26 42-42 87-12 16-10 5-10-4-10-13-10-20-28-67-10-17-8-8-8-4-10 2-36 27-10-1-10-9-16-29-34-90-16-36-18-26-18-14-20-4-54 4-64-12-68 10-74-13-68 6-68-16-74 6-60-13z"/>
<path fill="url(#Lg1_0)" stroke="url(#g1_0)" vector-effect="non-scaling-stroke" transform="matrix(0.55014 -0.01305 0 -0.11040 208.17 805.11)" d="M-105-622l60 14 74-6 68 16 67-6 74 13 68-10 64 12 54-4 20 4 18 13 18 27 16 36 34 90 16 29 10 9 10 0 36-26 10-2 8 4 8 8 10 17 28 66 10 20 10 13 10 5 10-5 12-16 42-87 26-42 62-79 34-31 56-31 52-35 26-12 54-7 66-18 24 4 40 17 4-14-40-15-24-4-66 16-54 8-26 10-52 33-58 31-34 29-64 76-26 42-42 90-12 15-10 4-8-3-10-13-10-19-28-66-10-17-8-8-8-2-10 3-26 24-10 5-10 0-8-7-8-11-10-21-34-92-16-36-18-26-18-13-20-3-52 3-64-12-70 9-72-12-68 5-68-16-74 5-60-13z"/>
<path fill="url(#Lg1_0)" stroke="url(#g1_0)" vector-effect="non-scaling-stroke" transform="matrix(0.55016 -0.01305 0 -0.11040 210.16 805.70)" d="M-105-622l60 13 74-5 68 15 67-4 72 12 70-9 64 11 52-3 20 4 18 13 18 26 16 36 34 92 10 20 8 12 8 7 10 0 10-6 26-24 10-3 8 3 8 8 10 17 28 65 10 20 10 13 8 3 10-4 12-15 42-90 26-42 64-76 34-30 58-30 52-33 26-10 54-8 66-16 24 4 40 15 4-13-40-15-24-3-66 15-54 7-26 10-52 30-60 30-36 30-66 74-24 40-40 89-12 17-10 4-8-3-10-11-10-20-28-65-10-16-8-7-8-2-8 3-28 27-10 7-10-1-8-7-8-12-10-21-32-89-16-37-18-27-20-15-18-3-52 2-62-10-72 8-72-12-66 4-70-16-74 4-60-12z"/>
<path fill="url(#Lg1_0)" stroke="url(#g1_0)" vector-effect="non-scaling-stroke" transform="matrix(0.55018 -0.01304 0 -0.11040 212.15 806.28)" d="M-105-622l60 12 74-4 70 16 65-4 72 12 72-9 62 11 52-2 18 3 20 15 18 27 16 37 32 88 10 22 8 12 8 7 10 1 10-7 28-27 9-3 7 2 8 7 10 16 28 65 10 19 10 12 8 3 10-5 12-16 40-89 24-40 66-74 36-30 60-30 52-30 26-10 54-7 66-15 24 3 40 14 4-13-40-13-24-3-66 14-54 6-28 10-114 57-36 30-64 66-24 41-42 95-12 16-10 4-8-4-10-13-36-80-8-13-8-8-8-2-10 4-36 36-10 0-10-7-16-30-34-95-16-37-18-27-18-13-20-5-52 1-60-9-72 8-72-12-66 3-70-16-74 3-60-11z"/>
<path fill="url(#Lg1_0)" stroke="url(#g1_0)" vector-effect="non-scaling-stroke" transform="matrix(0.55021 -0.01304 0 -0.11040 214.14 806.87)" d="M-105-622l60 11 74-3 70 16 65-3 72 11 72-7 60 9 52-1 20 4 18 14 18 27 16 37 34 95 16 29 10 8 10-1 36-36 11-3 7 2 8 8 8 13 36 80 10 13 8 4 10-4 12-16 42-96 24-40 64-66 36-30 114-57 28-10 54-6 66-14 24 3 40 13 4-14-40-12-24-2-66 13-54 6-28 9-118 55-24 18-42 37-34 36-12 18-12 24-40 94-12 17-10 5-8-3-10-12-36-79-8-12-8-7-8-2-10 4-26 31-10 8-10 0-8-6-8-11-10-22-32-91-16-38-18-29-20-15-18-4-52 0-60-9-82 7-62-10-70 0-70-15-74 2-56-10z"/>
<path fill="url(#Lg1_0)" stroke="url(#g1_0)" vector-effect="non-scaling-stroke" transform="matrix(0.55023 -0.01303 0 -0.11040 216.13 807.46)" d="M-105-623l56 11 74-2 70 15 69 0 62 10 82-7 60 9 52 0 18 4 20 15 18 29 16 38 32 91 10 22 8 11 8 6 10-1 10-8 26-30 10-5 8 2 8 8 8 12 36 78 10 13 8 3 10-5 12-17 40-95 12-23 12-18 34-36 42-38 24-17 118-55 28-9 54-6 66-13 24 2 40 12 4-13-40-11-24-2-122 18-28 8-120 53-70 54-28 29-12 19-12 23-42 101-10 15-10 6-8-3-10-11-36-77-8-12-8-7-8-1-8 4-28 34-10 8-10 1-8-7-8-12-10-22-32-93-16-38-18-28-20-15-16-4-50-1-62-8-84 6-60-9-70-1-70-16-70 2-60-11z"/>
<path fill="url(#Lg1_0)" stroke="url(#g1_0)" vector-effect="non-scaling-stroke" transform="matrix(0.55025 -0.01302 0 -0.11040 218.11 808.05)" d="M-105-623l60 10 70-1 70 15 69 2 60 9 84-6 62 8 50 1 16 4 20 15 18 28 16 38 32 93 10 22 8 12 8 6 10 0 10-8 28-34 8-4 8 1 8 7 8 12 36 77 10 11 8 3 10-6 10-15 42-101 12-24 12-18 28-29 70-55 120-52 28-8 122-18 24 2 40 10 4-13-38-9-26-2-122 16-122 44-30 14-70 51-28 29-22 39-42 104-12 19-10 4-8-3-8-9-36-75-8-12-8-6-8-1-8 5-36 43-10 2-10-8-8-12-8-18-34-99-16-39-18-27-20-15-18-4-46-2-60-7-88 6-60-9-66-3-72-15-70 0-60-10z"/>
<path fill="url(#Lg1_0)" stroke="url(#g1_0)" vector-effect="non-scaling-stroke" transform="matrix(0.55028 -0.01302 0 -0.11040 220.10 808.63)" d="M-105-623l60 9 70 1 72 15 65 3 60 8 88-6 60 8 46 1 18 5 20 14 18 28 16 38 34 100 8 17 8 13 10 8 10-2 36-43 8-5 8 1 8 6 8 12 36 74 8 10 8 3 10-5 12-18 42-104 22-39 28-29 70-51 30-14 122-44 122-17 26 3 38 9 4-13-36-8-28-3-122 15-124 41-34 16-68 46-26 26-12 19-12 25-32 84-10 23-10 15-10 6-8-2-8-9-36-73-8-11-8-5-8 0-8 5-26 34-10 10-10 2-8-6-8-12-10-22-34-101-16-38-18-27-20-15-18-4-102-9-94 5-122-13-72-15-70-1-60-9z"/>
<path fill="url(#Lg1_0)" stroke="url(#g1_0)" vector-effect="non-scaling-stroke" transform="matrix(0.55030 -0.01301 0 -0.11040 222.09 809.22)" d="M-105-623l60 9 70 1 72 15 121 13 94-6 102 9 18 5 20 15 18 27 16 38 34 101 10 22 8 12 8 5 10-1 10-10 26-34 8-6 9 1 7 5 8 11 36 73 8 9 8 2 10-6 10-15 10-23 32-84 12-25 12-19 26-26 68-46 34-16 124-41 122-15 28 2 36 9 4-12-30-8-32-3-126 14-122 37-42 19-62 39-26 25-12 19-12 25-42 110-12 19-10 5-8-3-8-10-34-67-8-11-8-5-8 1-8 5-26 36-10 9-10 2-8-6-8-13-8-17-36-107-16-39-18-27-22-15-114-13-100 5-114-13-76-17-70-2-60-8z"/>
<path fill="url(#Lg1_0)" stroke="url(#g1_0)" vector-effect="non-scaling-stroke" transform="matrix(0.55032 -0.01301 0 -0.11040 224.08 809.81)" d="M-105-624l60 9 70 2 76 16 113 14 100-6 114 13 22 16 18 27 16 38 36 107 8 18 8 13 8 6 10-2 10-9 26-36 8-6 8 0 8 5 8 11 34 67 8 9 8 4 10-5 12-19 42-110 12-25 12-19 26-26 62-38 42-19 122-37 126-14 32 3 30 8 4-9-24-11-36-3-130 13-124 34-56 26-50 30-14 12-12 15-10 18-12 26-40 108-12 20-10 6-8-2-8-9-34-65-8-10-8-5-8 1-8 6-24 34-10 11-10 3-8-5-8-11-10-23-34-102-16-40-10-18-10-13-22-16-22-5-88-8-78 7-30-1-106-15-76-17-74-4-58-8z"/>
<path fill="url(#Lg1_0)" stroke="url(#g1_0)" vector-effect="non-scaling-stroke" transform="matrix(0.55035 -0.01300 0 -0.11040 226.07 810.39)" d="M-105-624l58 8 74 4 76 17 105 15 30 0 78-6 88 8 22 5 22 16 10 13 10 18 16 39 34 103 10 22 8 12 8 5 10-3 10-11 24-34 8-6 8-1 8 5 8 10 34 65 8 8 8 3 10-6 12-20 40-108 12-27 10-17 12-15 14-13 50-29 56-26 124-34 130-14 36 4 24 10 4-6-20-14-32-6-140 13-128 32-84 39-28 19-20 26-20 43-30 85-10 25-12 19-10 5-14-10-32-59-8-10-8-6-8 0-8 5-26 37-10 10-10 3-8-6-8-11-10-23-34-104-16-40-10-18-10-13-22-16-26-6-80-8-84 8-32 0-92-17-84-19-132-12z"/>
<path fill="url(#Lg1_0)" stroke="url(#g1_0)" vector-effect="non-scaling-stroke" transform="matrix(0.55037 -0.01300 0 -0.11040 228.06 810.98)" d="M-105-624l132 12 84 19 91 16 32 1 84-8 80 8 26 6 22 16 10 13 10 18 16 39 34 104 10 23 8 12 8 6 10-3 10-10 26-37 8-5 8 0 8 5 8 11 32 59 14 10 10-5 12-19 10-25 30-85 20-43 20-26 28-19 84-39 128-32 140-13 32 6 20 14 4-2-18-21-26-8-36 0-102 9-134 29-92 39-28 19-20 27-18 40-30 87-10 26-12 20-12 7-14-11-30-54-8-10-8-5-8 0-8 6-26 37-10 10-10 2-8-6-8-12-10-24-34-105-16-39-10-18-10-14-24-17-32-7-68-6-90 10-32-1-168-39-136-13z"/>
<path fill="url(#Lg1_0)" stroke="url(#g1_0)" vector-effect="non-scaling-stroke" transform="matrix(0.55039 -0.01299 0 -0.11040 230.04 811.57)" d="M-105-624l136 13 167 39 32 1 90-10 68 6 32 7 24 17 10 13 10 18 16 40 34 105 10 24 8 12 8 6 10-2 10-10 26-37 8-6 8 0 8 5 8 10 30 54 14 11 12-7 12-20 10-26 30-87 18-40 20-27 28-19 92-39 134-29 102-10 36 0 26 9 18 21 4 4-14-25-16-15-20-6-32 0-112 10-86 16-56 15-72 29-28 18-12 13-10 16-18 40-30 89-12 31-12 20-10 5-14-9-30-51-8-9-8-5-8 1-8 6-34 45-10 3-8-4-8-12-10-22-34-106-18-46-20-31-26-18-36-9-58-5-94 13-32 0-162-44-140-15z"/>
<path fill="url(#Lg1_0)" stroke="url(#g1_0)" vector-effect="non-scaling-stroke" transform="matrix(0.55042 -0.01299 0 -0.11040 232.03 812.16)" d="M-105-625l140 15 161 44 32 0 94-13 58 5 36 9 26 18 20 31 18 46 34 105 10 23 8 11 8 5 10-3 34-46 8-6 8 0 9 5 7 9 30 51 14 9 10-5 12-20 12-31 30-89 18-40 10-16 12-13 28-18 72-29 56-15 86-16 112-10 32 0 20 6 16 14 14 25 4 10-14-33-14-21-16-11-22-3-114 8-86 13-66 15-76 27-30 19-12 14-10 15-20 46-30 91-10 26-12 21-12 7-12-7-32-51-14-11-8 2-8 6-24 34-10 11-10 3-8-6-8-12-10-23-34-107-18-45-10-18-12-16-26-18-40-9-50-4-34 4-64 14-30 0-26-6-74-29-50-14-50-8-100-10z"/>
<path fill="url(#Lg1_0)" stroke="url(#g1_0)" vector-effect="non-scaling-stroke" transform="matrix(0.55044 -0.01298 0 -0.11040 234.02 812.74)" d="M-105-625l100 9 50 9 50 14 73 29 26 6 30 0 64-14 34-4 50 3 40 10 26 18 12 16 10 18 18 45 34 107 10 23 8 12 8 5 10-2 10-11 24-34 8-7 8-1 14 11 32 50 12 8 12-7 12-21 10-26 30-91 20-46 10-16 12-13 30-19 76-27 66-15 86-13 114-8 22 3 16 11 14 20 14 33 4 14-14-39-14-29-14-17-18-7-60 1-120 12-58 10-60 16-64 23-18 13-14 16-12 21-12 27-44 131-8 16-8 11-8 4-10-4-10-12-24-37-8-8-8-2-14 8-30 41-12 6-12-9-12-23-10-28-30-96-18-44-20-30-24-18-40-12-50-3-36 6-64 18-28 1-26-7-68-33-46-16-68-13-92-8z"/>
<path fill="url(#Lg1_0)" stroke="url(#g1_0)" vector-effect="non-scaling-stroke" transform="matrix(0.55046 -0.01297 0 -0.11040 236.01 813.33)" d="M-105-625l92 8 68 13 46 15 67 34 26 7 28-1 64-19 36-5 50 3 40 12 24 18 20 30 18 44 30 96 10 28 12 23 12 9 12-6 30-41 14-8 8 2 8 8 24 37 10 12 10 4 8-4 8-11 8-16 44-131 12-27 12-21 14-16 18-13 64-23 60-16 58-10 120-12 60-1 18 7 14 17 14 28 14 40 4 18-18-57-14-33-14-21-18-11-42-1-126 11-58 8-56 13-74 24-18 11-16 17-12 19-10 22-14 38-32 100-10 23-10 14-8 3-10-4-32-44-8-7-8-3-14 9-30 40-12 6-12-10-12-24-10-28-30-97-18-45-20-30-26-20-42-12-46-2-36 7-60 24-28 2-24-7-68-41-46-18-68-14-96-10z"/>
<path fill="url(#Lg1_0)" stroke="url(#g1_0)" vector-effect="non-scaling-stroke" transform="matrix(0.55049 -0.01297 0 -0.11040 238.00 813.92)" d="M-105-626l96 9 68 14 46 19 67 41 24 7 28-2 60-24 36-7 46 2 42 12 26 20 20 30 18 45 30 97 10 28 12 24 12 9 12-5 30-40 14-9 8 2 9 8 31 44 10 4 8-3 10-14 10-23 32-100 14-38 10-22 12-19 16-17 18-12 74-24 56-12 58-8 126-11 42 1 18 11 14 21 14 33 18 56 4 19-24-78-14-37-14-23-16-12-30-4-120 9-62 6-54 10-84 25-20 11-16 16-12 19-12 25-14 39-34 108-10 22-10 13-8 3-8-3-32-41-8-6-8-2-14 9-30 40-12 4-12-10-12-24-40-128-18-44-20-32-26-21-42-13-46-1-34 9-60 32-28 3-28-12-66-49-40-18-68-16-100-11z"/>
<path fill="url(#Lg1_0)" stroke="url(#g1_0)" vector-effect="non-scaling-stroke" transform="matrix(0.55051 -0.01296 0 -0.11040 239.99 814.51)" d="M-105-627l100 11 68 15 40 19 65 49 28 12 28-3 60-32 34-10 46 2 42 13 26 21 20 31 18 45 40 127 12 25 12 10 12-4 30-40 14-9 8 2 8 6 32 41 8 3 8-3 10-13 10-23 34-107 14-39 12-25 12-19 16-16 20-11 84-25 54-10 62-7 120-8 30 3 16 13 14 23 14 37 24 78 4 18-32-104-12-34-14-27-16-14-26-5-92 5-76 6-58 9-92 25-22 12-16 16-14 22-12 27-14 40-32 105-10 24-10 14-8 4-8-2-34-39-14-5-14 9-28 37-14 6-12-11-12-25-38-123-20-52-10-18-12-16-26-21-44-14-44 1-32 13-58 40-26 5-14-5-14-10-66-60-38-21-68-18-104-11z"/>
<path fill="url(#Lg1_0)" stroke="url(#g1_0)" vector-effect="non-scaling-stroke" transform="matrix(0.55053 -0.01296 0 -0.11040 241.97 815.09)" d="M-105-627l104 11 68 18 38 21 65 60 14 10 14 4 26-4 58-41 32-13 44-1 44 15 26 20 12 17 10 18 20 52 39 123 11 25 12 11 14-6 28-37 14-9 14 5 34 39 8 2 8-4 10-15 10-24 32-104 14-40 12-27 14-22 16-16 22-13 92-24 58-9 76-6 92-5 26 4 16 15 14 27 12 33 32 105 4 15-14-39-26-89-12-35-14-28-14-14-14-5-22-1-138 8-68 8-96 24-22 12-18 17-14 23-12 27-14 40-34 113-10 24-10 14-8 4-8-2-32-34-14-5-14 9-28 37-12 5-12-9-12-23-10-30-32-107-20-50-10-18-12-16-26-22-44-14-22-1-20 4-32 18-54 49-14 7-12 1-12-4-12-9-64-73-20-16-22-13-30-11-38-9-108-13z"/>
<path fill="url(#Lg1_0)" stroke="url(#g1_0)" vector-effect="non-scaling-stroke" transform="matrix(0.55056 -0.01295 0 -0.11040 243.96 815.68)" d="M-105-628l108 12 38 9 30 12 22 13 19 16 64 73 12 8 12 5 12-1 14-7 54-50 32-17 20-4 22 1 44 14 26 21 12 17 10 18 20 50 32 107 10 30 12 23 12 9 12-5 28-37 14-9 14 5 32 33 8 3 8-4 10-14 10-24 34-113 14-40 12-27 14-23 18-17 22-12 96-24 68-8 138-8 22 1 14 5 14 14 14 28 12 35 26 89 14 39 4 11-8-16-10-27-30-104-12-36-14-29-14-15-14-6-18-1-136 6-64 7-56 11-42 12-24 12-18 18-14 23-12 27-14 42-34 115-12 29-10 14-8 4-8-3-30-28-14-4-14 9-28 36-12 5-12-10-12-25-12-36-30-102-20-52-10-18-12-18-28-24-22-10-22-5-20 0-20 6-30 22-54 63-14 9-12 1-12-6-14-13-44-64-20-25-18-17-18-13-30-13-38-10-112-14z"/>
<path fill="url(#Lg1_0)" stroke="url(#g1_0)" vector-effect="non-scaling-stroke" transform="matrix(0.55058 -0.01295 0 -0.11040 245.95 816.27)" d="M-105-629l112 14 38 10 30 13 18 12 18 17 19 25 44 64 14 14 12 6 12-1 14-9 54-63 30-22 20-6 20 0 22 5 22 10 28 24 12 17 10 19 20 52 30 102 12 36 12 25 12 10 12-5 28-36 14-9 14 4 30 28 8 2 8-3 10-14 12-29 34-116 14-41 12-27 14-23 18-18 24-12 42-13 56-10 64-7 136-6 18 1 14 5 14 15 14 30 12 36 30 104 10 27 8 16 4 8-12-20-12-30-34-119-12-36-12-26-14-16-14-5-18-2-134 5-62 6-54 9-42 13-24 13-18 18-14 23-12 28-14 42-36 124-10 25-10 16-8 5-8-1-30-24-14-3-14 9-26 33-14 6-12-11-12-25-12-37-30-104-12-34-10-24-22-36-28-25-22-11-22-4-20 2-18 7-14 11-16 18-52 78-12 10-12 3-12-7-14-16-44-79-20-30-18-20-18-15-28-14-38-11-116-15z"/>
<path fill="url(#Lg1_0)" stroke="url(#g1_0)" vector-effect="non-scaling-stroke" transform="matrix(0.55061 -0.01294 0 -0.11040 247.94 816.86)" d="M-105-629l116 14 38 12 28 14 18 14 17 21 20 30 44 79 14 16 12 6 12-2 12-10 52-78 16-18 14-11 18-7 20-2 22 4 22 11 28 25 22 36 10 24 12 34 30 104 12 37 12 25 12 11 14-6 26-33 14-10 14 3 30 25 8 1 8-5 10-16 10-25 36-125 14-42 12-27 14-23 18-18 24-14 42-12 54-10 62-5 134-5 18 1 14 6 14 16 12 25 12 37 34 119 12 30 12 19 4 4-14-16-12-26-12-35-26-96-12-39-14-32-14-17-14-6-18-1-134 3-64 5-52 10-38 12-24 14-18 20-14 25-12 29-14 44-34 122-12 31-10 16-8 5-8-1-28-19-14-2-14 10-26 32-14 5-12-12-12-26-12-37-32-113-20-55-12-23-12-18-28-26-22-11-22-4-18 4-18 10-14 14-14 21-40 77-12 20-12 13-12 2-12-8-12-18-44-96-18-34-18-25-18-17-28-17-38-13-52-9-68-7z"/>
<path fill="url(#Lg1_0)" stroke="url(#g1_0)" vector-effect="non-scaling-stroke" transform="matrix(0.55063 -0.01294 0 -0.11040 249.93 817.44)" d="M-105-630l68 7 52 9 38 13 28 17 18 17 17 25 18 33 44 97 12 18 12 8 12-2 12-13 12-20 40-78 14-20 14-14 18-11 18-3 22 4 22 10 28 27 12 18 12 23 20 54 32 113 12 38 12 26 12 11 14-5 26-32 14-10 14 3 28 19 8 1 8-6 10-15 12-31 34-122 14-44 12-29 14-25 18-20 24-14 38-12 52-10 64-5 134-3 18 1 14 6 14 17 14 32 12 39 26 96 12 35 12 26 14 16 4-1-16-11-8-12-8-17-14-41-28-105-10-33-14-34-14-17-14-7-18-2-134 2-68 5-46 9-34 12-24 15-18 20-14 26-12 30-14 45-36 132-12 32-10 15-14 6-30-16-12-1-12 8-28 34-14 4-12-12-12-27-12-38-32-117-12-37-10-25-12-25-12-18-28-28-22-11-20-2-18 5-18 14-14 19-14 25-38 93-12 25-12 16-10 3-12-9-12-22-42-112-20-46-18-29-18-21-28-19-36-13-52-10-72-8z"/>
<path fill="url(#Lg1_0)" stroke="url(#g1_0)" vector-effect="non-scaling-stroke" transform="matrix(0.55065 -0.01293 0 -0.11040 251.92 818.03)" d="M-105-631l72 8 52 10 36 13 28 19 18 21 17 29 20 45 42 113 12 22 12 9 10-3 12-16 12-25 38-93 14-26 14-18 18-14 18-5 20 2 22 11 28 27 12 19 12 24 10 26 12 36 32 117 12 39 12 27 12 12 14-4 28-34 12-8 12 1 30 16 14-6 10-16 12-31 36-132 14-45 12-30 14-26 18-21 24-15 34-11 46-9 68-5 134-2 18 2 14 6 14 18 14 34 10 33 28 105 14 41 8 17 8 12 16 11 4-4-10-1-10-6-10-13-8-15-16-47-28-107-12-40-14-33-14-16-24-8-105-1-61 2-50 5-42 10-30 12-22 16-18 24-12 25-12 32-14 48-34 131-12 34-10 18-8 7-8 2-28-12-14 1-12 9-26 32-12 4-12-9-14-31-12-41-34-130-12-38-10-26-12-26-12-19-26-27-22-11-20-2-18 7-16 16-14 23-14 31-14 39-26 81-10 26-12 20-10 2-10-9-12-26-40-131-20-56-18-36-18-25-28-22-36-15-54-12-74-7z"/>
<path fill="url(#Lg1_0)" stroke="url(#g1_0)" vector-effect="non-scaling-stroke" transform="matrix(0.55068 -0.01292 0 -0.11040 253.90 818.62)" d="M-105-632l74 8 54 12 36 14 28 23 18 25 17 36 20 55 40 131 12 27 10 9 10-3 12-20 10-26 26-80 14-39 14-32 14-22 16-16 18-7 20 1 22 12 26 27 12 19 12 26 10 26 12 38 34 130 12 40 14 31 12 10 12-4 26-32 12-9 14-1 28 12 8-2 8-7 10-18 12-34 34-131 14-48 12-32 12-25 18-24 22-16 30-12 42-10 50-5 61-2 105 1 24 7 14 17 14 33 12 40 28 107 16 46 8 16 10 13 10 6 10 1 4-6-12 2-12-4-10-10-10-17-8-20-10-31-28-110-12-41-14-34-14-18-24-8-114-3-60 2-50 7-38 10-26 13-20 18-16 25-14 32-14 43-36 145-10 36-10 29-10 19-8 8-8 3-28-10-12 1-12 10-26 33-14 4-12-12-6-13-8-23-12-44-32-132-12-42-10-28-12-28-12-21-12-16-14-14-22-11-20-1-18 10-16 21-14 28-14 39-14 48-24 93-10 33-10 22-10 7-10-11-10-26-10-36-30-123-20-67-18-44-20-32-28-26-36-16-54-12-76-8z"/>
<path fill="url(#Lg1_0)" stroke="url(#g1_0)" vector-effect="non-scaling-stroke" transform="matrix(0.55070 -0.01292 0 -0.11040 255.89 819.21)" d="M-105-632l76 8 54 12 36 16 28 26 20 32 17 44 20 67 30 123 10 36 10 26 10 10 10-6 10-22 10-33 24-93 14-49 14-38 14-29 16-20 18-10 20 1 22 11 14 14 12 16 12 21 12 28 10 28 12 42 32 132 12 44 8 23 6 13 12 12 14-4 26-33 12-10 12-1 28 10 8-3 8-8 10-19 10-29 10-36 36-145 14-43 14-32 16-25 20-18 26-13 38-10 50-7 60-2 114 3 24 8 14 18 14 34 12 41 28 110 10 31 8 20 10 17 10 10 12 4 12-2 4-7-16 5-14-3-12-11-10-17-8-20-10-32-30-119-12-41-14-33-14-16-24-8-124-4-56 2-48 8-32 10-24 14-20 22-16 29-12 31-14 47-36 155-10 39-10 31-10 20-8 10-8 2-28-10-12 2-12 11-24 35-8 6-6 1-6-4-6-9-12-31-12-47-26-121-12-51-12-42-14-39-18-36-18-23-20-14-20-4-14 5-14 13-12 19-12 27-12 37-12 46-32 151-8 33-10 29-6 7-4 0-8-11-10-33-38-185-18-74-10-33-10-27-20-38-12-16-14-13-36-19-56-14-80-9z"/>
<path fill="url(#Lg1_1)" stroke="url(#g1_1)" vector-effect="non-scaling-stroke" transform="matrix(0.55072 -0.01291 0 -0.11040 257.88 819.79)" d="M-105-633l80 9 56 13 36 20 14 13 12 15 19 39 10 27 10 33 18 73 38 186 10 33 8 11 4 0 6-7 10-29 8-33 32-151 12-46 12-37 12-27 12-19 14-13 14-5 20 4 20 14 18 23 18 35 14 40 12 42 12 51 26 120 12 47 12 32 6 9 6 4 6-1 8-6 24-35 12-12 12-1 29 10 7-3 8-9 10-21 10-31 10-39 36-154 14-47 12-31 16-29 20-22 24-14 32-11 48-7 56-3 124 5 24 7 14 17 14 33 12 41 30 119 10 32 8 20 10 17 12 11 14 3 16-5 4-9-20 9-14 0-12-8-12-18-10-24-10-32-30-121-12-43-14-34-16-19-24-7-130-6-56 3-46 9-28 12-22 17-18 24-16 33-12 36-14 53-44 205-10 35-10 24-8 10-8 2-26-17-12 0-12 13-28 51-6 5-6 1-10-12-6-16-6-21-10-46-26-138-12-58-12-48-14-45-18-40-18-26-22-17-20-2-14 7-14 16-14 29-12 35-12 46-12 58-30 178-8 42-8 29-4 7-4 2-4-4-4-9-8-33-8-44-28-174-10-53-10-46-10-39-10-32-10-26-10-20-12-18-14-15-36-22-56-15-84-10z"/>
<path fill="url(#Lg1_2)" stroke="url(#g1_2)" vector-effect="non-scaling-stroke" transform="matrix(0.55075 -0.01291 0 -0.11040 259.87 820.38)" d="M-105-634l84 10 56 15 36 21 14 16 12 18 10 20 9 26 10 32 10 39 10 46 10 53 28 173 8 45 8 32 4 10 4 4 4-2 4-7 8-29 8-42 30-178 12-58 12-46 12-36 14-28 14-16 14-7 20 2 22 17 18 26 18 40 14 45 12 48 12 58 26 138 10 45 6 22 6 15 10 13 6-1 6-5 28-51 12-13 12 0 26 17 8-2 8-10 10-24 10-35 44-205 14-53 12-36 16-34 18-23 22-17 28-12 46-9 56-3 130 6 24 7 16 19 14 34 12 42 30 122 10 32 10 24 12 18 12 8 14 0 20-9 4-8-22 11-16 3-14-7-12-15-10-23-10-30-34-139-12-42-14-33-16-18-24-7-136-8-56 4-44 12-24 13-20 20-16 26-16 40-12 41-14 61-36 194-10 50-8 31-8 22-8 10-6 0-6-6-20-30-8-4-6 2-6 7-8 17-24 68-6 10-6 3-6-5-4-9-10-39-10-56-22-141-12-70-14-68-14-53-16-43-20-34-22-20-22-4-16 10-14 21-14 34-14 50-12 58-12 72-34 255-8 40-6 10-6-8-4-16-4-21-6-42-28-220-10-65-10-57-10-47-10-39-10-31-12-29-12-22-14-17-16-14-20-11-56-16-88-10z"/>
<path fill="url(#Lg1_3)" stroke="url(#g1_3)" vector-effect="non-scaling-stroke" transform="matrix(0.55077 -0.01290 0 -0.11040 261.86 820.97)" d="M-105-635l88 11 56 16 20 11 16 13 14 18 12 21 11 30 10 31 10 39 10 47 10 56 10 66 28 220 6 41 4 22 4 16 6 8 6-11 8-39 34-255 12-72 12-58 14-50 14-34 14-21 16-10 22 4 22 20 20 34 16 43 14 52 14 69 12 70 22 141 10 56 10 39 4 9 6 5 6-3 6-10 24-68 8-17 6-7 6-2 8 4 20 30 6 6 7 0 7-10 8-22 8-32 10-49 36-194 14-61 12-41 16-40 16-26 20-20 24-13 44-12 56-4 136 8 24 7 16 18 14 33 12 42 34 138 10 31 10 22 12 16 14 7 16-3 22-12 4-8-30 16-16 3-14-6-12-16-10-22-12-38-32-134-12-43-14-34-16-19-26-8-138-11-58 6-44 16-24 19-18 26-16 36-14 46-12 52-12 64-14 87-28 192-8 45-6 22-6 10-6-4-6-14-14-49-6-16-8-12-8 1-6 11-8 25-26 125-6 17-4 4-6-9-4-15-4-21-8-56-22-182-12-89-14-86-16-74-8-29-10-29-10-22-12-20-12-14-12-9-12-4-10 2-16 13-16 29-14 43-14 62-12 71-12 91-10 91-22 223-6 39-2 8-4 4-2-2-4-15-6-42-28-285-8-69-10-73-10-62-12-60-12-46-12-35-12-26-14-22-16-16-20-13-58-18-92-11z"/>
<path fill="url(#Lg1_4)" stroke="url(#g1_4)" vector-effect="non-scaling-stroke" transform="matrix(0.55079 -0.01290 0 -0.11040 263.85 821.55)" d="M-105-635l92 11 58 18 20 13 16 16 14 22 12 26 11 35 12 46 12 60 10 61 10 74 8 69 28 285 6 42 4 15 2 2 4-4 2-8 6-39 22-223 10-91 12-91 12-71 14-62 14-43 16-29 16-13 10-2 12 4 12 8 12 15 12 20 10 22 10 29 8 29 16 74 14 86 12 89 22 182 8 56 4 21 4 15 6 9 4-4 6-17 26-125 8-25 6-11 8-2 8 12 6 17 14 49 6 14 7 4 5-10 6-23 8-44 28-192 14-87 12-64 12-52 14-46 16-37 18-25 24-19 44-16 58-6 138 11 26 8 16 19 14 34 12 43 32 134 12 38 10 22 12 16 14 6 16-3 30-16 4-9-34 19-16 5-14-3-14-15-10-20-12-36-10-39-24-104-14-50-14-33-16-18-20-8-72-9-80-4-58 9-24 10-18 12-22 27-18 37-16 53-8 35-8 40-14 87-12 92-12 110-20 213-4 34-4 22-4 9-2-2-4-14-4-25-14-111-8-47-4-15-4-9-4-4-4 2-4 7-4 12-8 41-10 80-16 157-6 37-4 6-4-12-6-46-24-289-14-140-14-110-8-50-8-43-10-44-10-34-10-27-12-25-12-17-14-12-14-5-12 3-10 8-8 11-8 16-8 21-8 28-8 34-14 78-10 74-10 93-10 115-20 275-6 54-4 14-2-1-2-6-2-11-4-36-26-350-8-88-10-90-10-74-12-71-12-55-12-42-14-35-14-25-16-18-20-14-26-12-32-8-96-12z"/>
<path fill="url(#Lg1_4)" stroke="url(#g1_4)" vector-effect="non-scaling-stroke" transform="matrix(0.55082 -0.01289 0 -0.11040 265.83 822.14)" d="M-105-636l96 12 32 8 26 11 20 15 16 18 14 25 13 35 12 42 12 55 12 71 10 74 10 90 8 88 26 350 4 35 2 12 2 6 2 1 4-14 6-54 20-275 10-115 10-93 10-74 14-78 8-35 8-27 8-21 8-16 8-11 10-8 12-3 14 4 14 13 12 17 12 24 10 27 10 35 10 44 8 43 8 50 14 109 14 141 24 289 6 46 5 12 3-6 6-37 16-158 10-79 8-41 4-12 4-8 4-1 4 4 4 9 4 15 8 47 14 111 4 25 4 14 3 2 3-9 4-23 4-33 20-213 12-110 12-92 14-87 8-41 8-34 16-53 18-38 22-26 18-13 24-10 58-9 80 5 72 9 20 7 16 19 14 33 14 50 24 104 10 38 12 37 10 20 14 15 14 3 16-5 34-19 4-9-40 23-18 6-14-3-14-14-10-20-12-37-10-39-26-113-14-49-14-32-8-11-10-8-20-6-86-13-74-2-32 5-26 9-20 13-18 19-12 20-10 22-10 28-10 38-10 47-8 46-8 55-8 65-12 121-10 136-8 144-12 269-4 67-2 18-2 5-2-9-2-22-16-311-4-59-6-67-6-41-4-16-4-7-6 3-4 12-4 20-4 28-4 36-8 103-8 148-12 270-4 51-2 5-2-9-4-57-14-331-8-158-10-151-10-116-6-57-8-66-8-55-8-46-8-38-8-32-10-32-10-24-14-25-16-17-16-6-14 4-14 16-12 26-12 38-10 45-10 57-8 58-8 69-6 63-8 100-6 91-20 354-4 43-2 13-2 2-2-6-2-13-4-47-22-389-8-112-8-91-10-92-12-87-12-67-14-59-14-41-14-29-16-22-20-17-24-12-34-9-102-14z"/>
<path fill="url(#Lg1_4)" stroke="url(#g1_4)" vector-effect="non-scaling-stroke" transform="matrix(0.55084 -0.01289 0 -0.11040 267.82 822.73)" d="M-105-637l102 13 34 10 24 12 20 17 16 22 14 29 13 41 14 59 12 67 12 86 10 92 8 92 8 112 22 389 4 47 2 13 2 5 2-1 2-13 4-43 20-355 6-90 8-100 6-63 8-69 8-58 10-57 10-45 12-39 12-25 14-16 14-4 16 6 16 17 14 25 10 24 10 32 8 32 8 38 8 46 8 55 8 66 6 57 10 116 10 151 8 158 14 331 4 57 3 9 1-5 4-51 12-270 8-148 8-103 4-37 4-27 4-20 4-12 6-4 4 8 4 16 6 41 6 66 4 60 16 311 2 22 3 9 1-5 2-18 4-67 12-269 8-144 10-136 12-122 8-64 8-55 8-46 10-47 10-38 10-29 10-22 12-19 18-19 20-13 26-9 32-6 74 3 86 13 20 6 10 8 8 11 14 31 14 49 26 114 10 39 12 36 10 21 14 14 14 3 18-6 40-24 5-10-44 28-22 10-16-1-14-13-12-24-12-37-10-39-26-116-14-50-8-21-10-18-10-10-10-6-122-24-44-1-36 6-30 14-24 21-18 30-16 41-12 46-10 49-10 64-10 80-8 81-6 75-6 93-6 121-4 105-4 135-6 293-4 301-6 687-1 88-3-186-4-477-4-333-6-309-6-185-4-81-6-82-4-34-6-29-2-4-4-1-6 17-6 38-6 64-6 97-6 143-4 133-4 180-6 412-6 688-1 114-3-156-6-680-4-291-6-291-8-248-6-129-6-101-6-82-8-90-8-73-10-74-10-59-10-47-16-54-16-35-18-24-20-9-16 6-8 10-8 14-14 38-12 49-10 55-10 70-9 92-8 93-6 87-6 103-20 421-4 46-3 8-1-3-2-14-4-56-20-425-8-131-8-104-10-103-12-95-12-73-14-64-14-45-14-32-16-24-20-18-26-13-34-10-104-14z"/>
<path fill="url(#Lg1_4)" stroke="url(#g1_4)" vector-effect="non-scaling-stroke" transform="matrix(0.55087 -0.01288 0 -0.11040 270.61 823.55)" d="M-105-638l104 14 34 10 26 13 20 19 16 23 14 32 13 45 14 64 12 73 12 95 10 103 8 104 8 131 20 425 4 56 2 14 2 3 2-8 4-46 20-421 6-103 6-87 8-93 10-92 10-70 10-55 12-49 14-38 8-14 8-10 16-6 20 9 18 24 16 36 16 54 10 46 10 59 10 74 8 73 8 90 6 82 6 101 6 129 8 248 6 292 4 290 6 680 3 156 1-114 6-688 6-412 4-179 4-134 6-143 6-97 6-64 6-38 6-17 4 1 2 5 6 28 4 34 6 82 4 81 6 185 6 309 4 333 4 477 3 186 1-88 6-687 4-301 6-293 4-134 4-106 6-121 6-93 6-75 8-81 10-80 10-63 10-50 12-46 16-41 18-29 24-22 30-13 36-7 44 1 122 24 10 6 10 11 10 17 8 21 14 50 26 116 10 39 12 37 12 24 14 13 16 1 22-10 44-28 2-10-26 19-42 23-18 0-14-12-12-23-12-36-12-48-26-116-14-49-8-20-8-15-10-11-10-7-110-25-40-3-34 2-30 9-24 15-20 22-16 29-12 32-10 36-10 47-10 59-8 59-8 72-8 89-6 84-8 149-8 219-6 245-8 442-2 79-1 22-3-50-8-429-4-178-4-136-6-142-4-65-4-47-4-33-4-20-4-11-2-1-4 4-6 24-4 28-6 62-4 58-6 118-4 106-4 136-4 174-8 449-2 85-1 29-3-41-10-544-5-248-8-229-8-158-6-91-6-76-8-83-8-69-8-57-10-57-10-46-10-36-16-41-16-27-18-15-16-2-14 10-14 24-14 42-12 52-10 59-8 58-8 72-8 88-8 112-6 103-18 372-4 55-2 15-3 4-1-5-2-16-4-57-20-411-8-127-8-102-10-100-12-93-12-72-14-63-14-45-14-31-16-23-20-18-26-13-34-10-104-14z"/>
<path fill="url(#Lg1_4)" stroke="url(#g1_4)" vector-effect="non-scaling-stroke" transform="matrix(0.55089 -0.01288 0 -0.11040 271.80 823.90)" d="M-105-639l104 14 34 10 26 13 20 18 16 24 14 31 13 45 14 62 12 72 12 93 10 101 8 101 8 128 20 411 4 56 2 16 2 6 2-5 2-14 4-56 18-372 6-102 8-112 8-89 8-71 8-59 10-58 12-53 14-41 14-24 14-10 16 1 18 16 16 26 16 42 10 35 10 46 10 58 8 57 8 69 8 83 6 76 6 91 8 158 8 228 6 249 10 543 3 41 1-28 2-85 8-449 4-174 4-136 4-107 6-118 4-58 6-62 4-28 6-23 4-5 2 2 4 10 4 21 4 33 4 47 4 65 6 142 4 135 4 178 8 430 3 49 1-22 2-78 8-442 6-245 8-220 8-148 6-84 8-90 8-71 8-59 10-60 10-46 10-37 12-32 16-29 20-22 24-14 30-9 34-3 40 3 110 26 10 6 10 12 8 14 8 20 14 50 26 116 12 48 12 36 12 23 14 12 18-1 42-23 26-19 4-13-24 22-50 29-18 2-16-12-12-23-12-36-12-47-26-118-14-50-8-21-8-15-18-19-22-9-68-18-66-7-28 3-26 7-20 12-18 17-12 17-10 20-10 26-8 27-8 32-8 40-8 49-8 57-12 109-10 118-10 154-14 266-4 53-2 14-2 4-2-7-4-40-14-236-8-98-4-34-6-33-4-11-6-2-6 16-4 19-6 45-4 40-6 77-4 64-16 299-4 38-2 5-2-7-4-45-16-321-10-168-8-106-10-106-14-112-8-51-8-42-8-35-8-29-10-29-10-22-14-24-16-15-14-5-14 6-12 15-12 26-12 39-10 46-10 58-8 57-8 70-6 62-12 158-20 338-4 47-2 14-2 8-2-1-2-7-4-36-4-57-20-342-8-108-10-108-10-86-12-81-12-63-14-55-14-39-14-26-16-21-20-15-26-12-34-9-100-13z"/>
<path fill="url(#Lg1_4)" stroke="url(#g1_4)" vector-effect="non-scaling-stroke" transform="matrix(0.55091 -0.01287 0 -0.11040 273.79 824.49)" d="M-105-639l100 12 34 10 26 11 20 16 16 20 14 27 13 39 14 55 12 62 12 82 10 86 10 108 8 107 20 343 4 57 4 36 2 7 2 1 2-8 2-14 4-48 20-338 12-157 6-62 8-70 8-57 10-59 10-45 12-40 12-26 12-14 14-6 14 4 16 16 14 23 10 23 10 29 8 29 8 35 8 42 8 50 14 113 10 106 8 106 10 168 16 321 4 44 3 8 1-5 4-39 16-298 4-64 6-77 4-40 6-45 4-20 6-15 6 2 4 11 6 33 4 33 8 99 14 235 4 41 3 7 1-4 2-14 4-53 14-266 10-155 10-117 12-109 8-58 8-48 8-40 8-32 8-27 10-26 10-20 12-17 18-17 20-12 26-8 28-2 66 7 68 18 22 9 18 18 8 16 8 21 14 50 26 118 12 47 12 36 12 23 16 12 18-2 50-29 24-22 4-16-22 26-46 31-24 10-16-5-14-17-12-29-14-50-28-127-12-47-14-40-16-24-16-12-26-10-54-16-40-7-54 1-22 7-20 11-22 22-18 31-16 45-8 29-8 36-14 79-12 86-12 104-20 198-4 30-4 20-4 7-2-1-4-11-6-35-14-99-8-38-6-15-4-4-4 3-4 7-4 13-8 41-8 59-18 162-6 32-4 5-4-10-6-40-24-260-14-129-14-99-14-75-10-42-10-34-10-26-12-25-12-19-14-14-12-5-12 2-10 8-8 11-8 16-8 22-14 53-14 76-12 87-12 111-8 91-20 254-6 46-4 10-4-9-6-47-26-333-8-84-10-89-10-73-12-70-12-54-14-47-14-34-14-22-16-18-20-13-26-11-34-8-96-12z"/>
<path fill="url(#Lg1_4)" stroke="url(#g1_4)" vector-effect="non-scaling-stroke" transform="matrix(0.55093 -0.01286 0 -0.11040 275.78 825.08)" d="M-105-640l96 12 34 8 26 11 20 13 16 18 14 22 13 33 14 48 12 54 12 70 10 73 10 88 8 85 26 333 6 46 4 10 4-10 6-46 20-254 8-91 12-111 12-87 14-76 14-53 8-22 8-16 8-12 10-7 12-2 12 5 14 14 12 18 12 25 10 27 10 34 10 42 14 75 14 99 14 129 24 260 6 40 5 10 3-5 6-32 18-162 8-59 8-41 4-13 4-8 4-2 4 3 6 16 8 38 14 99 6 35 4 11 3 1 3-7 4-20 4-30 20-198 12-104 12-86 14-79 8-36 8-30 16-44 18-31 22-22 20-11 22-7 54-2 40 8 54 16 26 10 16 12 16 24 14 40 12 47 28 127 14 50 12 29 14 17 16 5 24-10 46-31 22-26 4-21-18 31-24 22-50 30-12 2-12-4-14-17-14-35-14-52-26-119-12-48-14-41-14-24-12-11-18-10-88-30-52-4-42 9-24 16-20 23-16 30-16 45-12 46-12 56-12 67-28 175-6 29-6 18-6 6-4-3-6-12-20-57-8-10-8 3-6 11-8 25-26 122-6 17-6 3-6-11-6-25-8-49-22-157-12-76-14-72-16-63-10-31-10-26-20-37-12-14-10-8-10-4-10 1-16 14-14 28-14 44-12 53-12 69-12 86-10 85-18 172-6 50-6 33-4 9-2 0-2-4-4-14-6-40-28-273-10-83-10-71-10-59-12-58-12-44-12-34-14-28-14-19-16-15-20-12-58-17-94-11z"/>
<path fill="url(#Lg1_4)" stroke="url(#g1_4)" vector-effect="non-scaling-stroke" transform="matrix(0.55096 -0.01286 0 -0.11040 277.76 825.67)" d="M-105-641l94 11 58 17 20 12 16 15 14 19 14 28 11 33 12 45 12 58 10 59 10 71 10 83 28 272 6 41 4 13 2 4 2 1 4-9 6-33 6-50 18-172 10-85 12-86 12-69 12-53 14-45 14-27 16-14 10-1 10 4 10 8 12 14 20 37 10 26 10 30 16 64 14 72 12 75 22 158 8 49 6 25 7 11 5-3 6-17 26-122 8-26 6-11 8-2 8 10 20 57 6 12 4 3 6-6 6-19 6-28 28-175 12-67 12-56 12-46 16-45 16-30 20-23 24-16 42-9 52 4 88 30 18 9 12 12 14 24 14 41 12 48 26 119 14 52 14 35 14 17 12 4 12-2 50-30 24-22 18-31 4-27-8 21-10 20-10 15-14 14-56 36-14 4-12-4-14-17-14-34-14-52-26-120-12-49-14-42-14-25-12-13-16-10-72-30-50-10-42 4-24 9-22 17-18 23-16 32-12 31-12 40-14 55-30 131-8 27-6 14-6 8-6 3-6-2-22-21-12 3-6 7-8 16-26 71-6 9-6 3-8-9-10-29-8-34-24-118-12-53-14-53-16-48-18-41-20-32-18-16-18-3-14 10-14 23-12 32-12 44-12 58-12 70-28 199-8 51-8 34-6 8-4-5-4-11-8-42-34-257-10-64-10-56-10-47-10-39-10-30-12-29-14-23-14-16-16-13-20-10-58-15-90-11z"/>
<path fill="url(#Lg1_3)" stroke="url(#g1_3)" vector-effect="non-scaling-stroke" transform="matrix(0.55098 -0.01285 0 -0.11040 279.75 826.25)" d="M-105-642l90 10 58 16 20 10 16 13 14 16 14 23 11 29 10 30 10 39 10 47 10 55 10 65 34 257 8 42 4 11 4 5 6-8 8-34 8-51 28-199 12-70 12-58 12-44 12-32 14-23 14-10 18 3 18 16 20 32 18 41 16 48 14 52 12 54 24 118 8 34 10 29 8 9 6-3 6-10 26-70 8-16 6-7 12-3 22 20 6 3 7-3 5-8 6-14 8-27 30-131 14-55 12-40 12-31 16-32 18-23 22-17 24-10 42-3 50 10 72 30 16 10 12 13 14 25 14 42 12 49 26 120 14 52 14 34 14 17 12 3 14-3 56-36 14-14 10-15 10-20 8-21 4-33-10 33-10 25-12 21-12 15-20 16-40 26-16 5-12-4-8-7-8-13-14-36-14-54-24-111-12-50-14-44-14-27-11-13-15-12-64-32-46-12-42-1-24 7-22 12-18 17-18 26-12 24-12 29-14 40-32 101-10 25-8 14-12 11-24 2-12 6-12 13-28 46-8 7-6 0-10-9-10-22-10-30-40-136-14-39-16-37-18-32-16-21-16-12-14-2-12 6-12 15-12 26-10 30-10 38-12 56-32 180-10 51-6 23-4 10-4 5-4 1-4-5-4-9-10-42-36-223-10-55-10-48-10-39-10-33-10-26-10-20-12-18-14-15-18-13-20-9-58-15-88-10z"/>
<path fill="url(#Lg1_2)" stroke="url(#g1_2)" vector-effect="non-scaling-stroke" transform="matrix(0.55100 -0.01285 0 -0.11040 281.74 826.84)" d="M-105-643l88 10 58 15 20 9 18 13 14 15 12 18 9 20 10 26 10 32 10 40 10 48 10 54 36 223 10 43 4 8 4 6 4-1 4-5 4-10 6-23 10-51 32-181 12-55 10-38 10-30 12-26 12-15 12-6 14 2 16 12 16 21 18 32 16 37 14 39 40 136 10 30 10 22 10 9 6 0 8-7 28-46 12-14 12-5 24-2 12-11 8-14 10-25 32-101 14-40 12-29 12-24 18-26 18-17 22-13 24-6 42 1 46 12 64 32 15 12 11 13 14 27 14 44 12 50 24 111 14 54 14 36 8 13 8 7 12 3 16-4 40-26 20-16 12-15 12-21 10-25 10-33 4-40-12 47-10 31-12 27-12 18-20 20-44 30-16 6-14-3-8-7-8-12-14-36-14-53-26-121-12-49-14-43-14-27-12-15-14-11-56-33-44-15-42-3-40 12-16 11-16 16-16 21-14 25-50 115-18 32-14 14-34 21-38 41-16 4-12-10-12-20-54-135-30-60-16-24-14-15-14-9-12-1-12 6-10 12-10 19-10 25-10 34-10 39-32 153-10 43-6 21-6 15-6 7-4 1-4-3-6-11-10-35-10-48-30-161-10-47-10-40-18-56-10-23-10-17-12-16-14-13-38-20-58-14-86-9z"/>
<path fill="url(#Lg1_1)" stroke="url(#g1_1)" vector-effect="non-scaling-stroke" transform="matrix(0.55103 -0.01284 0 -0.11040 283.73 827.43)" d="M-105-644l86 10 58 13 38 20 14 14 12 15 9 18 10 23 18 56 10 40 10 47 30 161 10 48 10 34 6 12 4 3 4-1 6-8 6-15 6-20 10-43 32-153 10-40 10-33 10-26 10-18 10-12 12-6 12 1 14 8 14 16 16 23 30 61 54 135 12 20 12 10 16-5 38-40 34-21 14-14 18-32 50-115 14-25 16-22 16-15 16-11 40-12 42 3 44 15 56 32 14 12 12 15 14 27 14 43 12 49 26 121 14 53 14 36 8 12 8 7 14 3 16-6 44-30 20-20 12-18 12-27 10-31 12-47 4-46-12 55-12 45-12 33-12 24-18 22-32 25-26 17-18 3-10-5-8-9-10-19-8-22-14-53-36-164-10-36-12-31-12-21-14-17-52-37-42-19-38-7-36 3-30 14-22 19-20 26-18 30-38 70-20 28-70 64-22 10-16-6-18-22-16-30-46-94-28-46-24-26-20-6-10 4-10 9-10 15-10 22-10 29-10 35-32 133-10 37-12 32-6 7-6 2-10-11-12-34-12-50-30-142-20-76-18-49-18-33-14-16-14-12-38-18-58-12-84-9z"/>
<path fill="url(#Lg1_0)" stroke="url(#g1_0)" vector-effect="non-scaling-stroke" transform="matrix(0.55105 -0.01284 0 -0.11040 285.72 828.02)" d="M-105-644l84 8 58 13 38 18 14 12 14 16 17 33 18 48 20 77 30 142 12 50 12 34 10 11 6-2 6-8 12-31 10-37 32-133 10-35 10-29 10-22 10-15 10-10 10-3 20 6 24 26 28 46 46 94 16 30 18 22 16 6 22-11 71-63 19-28 38-71 18-29 20-26 22-19 30-14 36-4 38 8 42 19 52 37 14 16 12 22 12 31 10 35 36 165 14 52 8 23 10 19 8 9 10 5 18-3 26-17 32-25 18-23 12-23 12-33 12-45 12-55 4-51-14 71-12 52-12 41-14 33-16 24-22 20-40 29-20 6-10-5-8-9-10-18-8-22-14-53-28-131-10-42-10-36-12-31-12-22-16-20-24-21-28-19-36-17-36-9-34 2-30 12-22 17-20 21-60 88-26 32-52 47-16 10-12 2-18-6-20-20-18-28-48-85-26-37-20-19-18-5-10 4-10 9-10 15-8 16-18 52-32 119-12 38-12 26-6 7-6 1-6-4-6-9-12-31-12-45-32-135-18-62-18-44-18-30-28-25-38-17-58-12-84-9z"/>
<path fill="url(#Lg1_0)" stroke="url(#g1_0)" vector-effect="non-scaling-stroke" transform="matrix(0.55107 -0.01283 0 -0.11040 287.71 828.60)" d="M-105-645l84 8 58 13 38 16 28 26 17 30 18 44 18 62 32 135 12 45 12 31 6 9 6 4 6-2 6-6 12-26 12-39 32-118 18-52 8-16 10-15 10-9 10-4 18 5 20 18 26 38 48 84 18 28 20 21 18 6 12-3 16-9 52-48 26-31 60-88 20-21 22-17 30-12 34-2 36 8 36 18 28 19 24 21 16 20 12 22 12 31 10 35 10 43 28 131 14 53 8 22 10 18 8 9 10 4 20-5 40-29 22-21 16-23 14-33 12-41 12-52 14-71 4-54-20 107-12 56-12 43-14 37-16 26-24 25-40 31-22 6-10-5-8-10-10-20-8-23-14-54-36-168-12-43-12-32-16-29-20-24-30-26-32-20-32-12-30-4-28 4-28 12-18 13-20 19-66 84-36 39-34 29-24 8-20-5-22-21-20-27-50-80-24-30-20-15-18 0-16 13-16 28-16 43-30 101-12 36-14 27-12 7-6-4-6-8-14-33-12-41-32-123-18-56-18-41-18-26-28-24-38-16-58-12-84-8z"/>
<path fill="url(#Lg1_0)" stroke="url(#g1_0)" vector-effect="non-scaling-stroke" transform="matrix(0.55110 -0.01283 0 -0.11040 289.69 829.19)" d="M-105-646l84 8 58 12 38 16 28 23 17 27 18 40 18 56 32 123 12 42 14 32 6 9 6 4 12-7 14-27 12-36 30-101 16-43 16-28 16-13 18 0 20 14 24 31 50 79 20 28 22 20 20 6 24-9 34-28 36-39 66-84 20-19 18-13 28-13 28-3 30 4 32 12 32 20 30 26 20 24 16 29 12 32 12 43 36 168 14 54 8 23 10 20 8 10 10 5 22-6 40-31 24-25 16-26 14-37 12-44 12-55 20-107 4-52-26 141-12 58-12 47-14 40-16 30-22 26-44 38-12 6-10 1-10-5-8-9-10-20-8-23-16-63-36-170-12-44-14-37-16-29-22-27-28-25-30-20-30-12-28-4-28 3-28 11-20 14-22 20-72 84-34 35-24 18-22 7-22-7-22-19-20-26-48-72-24-29-20-13-16 1-16 13-14 23-16 39-30 93-12 32-14 25-12 5-12-10-14-31-12-37-32-114-18-52-18-39-18-25-28-23-40-15-60-12-82-8z"/>
<path fill="url(#Lg1_0)" stroke="url(#g1_0)" vector-effect="non-scaling-stroke" transform="matrix(0.55112 -0.01282 0 -0.11040 291.68 829.78)" d="M-105-647l82 8 60 11 40 16 28 23 17 25 18 38 18 53 32 113 12 38 14 31 12 10 12-5 14-25 12-32 30-93 16-40 14-23 16-13 16 0 20 13 24 29 48 72 20 26 22 19 22 7 22-7 24-18 34-35 72-84 22-20 20-14 28-11 28-3 28 4 30 12 30 19 28 26 22 27 16 28 14 38 12 44 36 170 16 63 8 23 10 19 8 10 10 5 10-1 12-7 44-37 22-26 16-30 14-40 12-47 12-58 26-141 4-50-10 50-24 133-12 59-12 49-14 42-16 31-22 28-44 42-12 7-10 1-10-4-8-9-10-19-8-23-16-64-26-128-12-55-12-45-14-38-16-30-22-29-28-28-28-19-30-12-28-5-28 4-26 10-22 14-24 21-100 110-24 17-20 5-22-6-22-18-22-28-46-67-22-25-20-13-16 0-16 13-16 26-16 39-30 86-12 27-12 17-10 3-12-10-14-28-12-35-34-112-18-48-18-35-18-23-28-20-40-15-60-11-82-8z"/>
<path fill="url(#Lg1_0)" stroke="url(#g1_0)" vector-effect="non-scaling-stroke" transform="matrix(0.55115 -0.01281 0 -0.11040 293.67 830.37)" d="M-105-648l82 8 60 11 40 14 28 21 17 23 18 35 18 48 34 112 12 34 14 29 12 10 10-4 12-16 12-27 30-86 16-39 16-26 16-13 16 0 20 13 22 25 46 67 22 27 22 19 22 6 20-6 24-16 100-110 24-21 22-14 26-11 28-3 28 4 30 13 28 19 28 28 22 28 16 31 14 38 12 45 12 55 26 128 16 64 8 22 10 20 8 9 10 4 10-1 12-7 44-42 22-28 16-31 14-42 12-49 12-60 24-132 10-50 4-43-16 72-26 146-12 61-12 50-12 39-18 39-22 30-42 45-14 10-10 2-10-4-10-12-10-22-8-24-16-67-26-133-12-56-12-46-14-40-16-32-22-31-26-27-28-20-28-12-28-5-28 2-28 11-24 16-24 21-94 102-22 15-20 5-22-6-22-18-20-24-48-68-22-24-18-11-16 0-16 12-16 26-14 32-30 80-12 25-12 15-10 3-12-9-14-27-12-32-34-106-18-45-18-33-18-22-28-19-42-14-60-11-82-8z"/>
<path fill="url(#Lg1_0)" stroke="url(#g1_0)" vector-effect="non-scaling-stroke" transform="matrix(0.55117 -0.01281 0 -0.11040 295.66 830.95)" d="M-105-649l82 8 60 10 42 15 28 19 17 22 18 33 18 45 34 105 12 33 14 27 12 9 10-3 12-15 12-25 30-80 14-32 16-26 16-12 16 0 18 11 22 24 48 68 20 24 22 18 22 6 20-5 22-15 94-102 24-22 24-15 28-11 28-2 28 4 28 13 28 20 26 27 22 31 16 32 14 40 12 46 12 56 26 133 16 67 8 24 10 22 10 12 10 4 10-2 14-10 42-45 22-31 18-38 12-39 12-50 12-61 26-146 16-72 4-37-10 34-10 45-32 179-12 62-10 42-12 40-10 26-10 19-28 41-38 45-12 8-10 2-10-5-8-11-10-22-8-25-16-69-26-139-12-59-12-49-14-43-16-35-22-34-26-28-28-22-28-12-28-5-28 3-26 9-24 15-24 21-92 100-20 14-20 4-22-6-22-18-20-24-46-64-22-24-18-11-16 0-16 12-14 20-14 30-30 75-12 24-12 14-10 3-12-9-14-25-12-31-34-100-18-43-18-31-18-20-28-19-42-14-62-10-82-8z"/>
<path fill="url(#Lg1_0)" stroke="url(#g1_0)" vector-effect="non-scaling-stroke" transform="matrix(0.55119 -0.01280 0 -0.11040 297.65 831.54)" d="M-105-650l82 8 62 10 42 14 28 19 17 20 18 31 18 43 34 99 12 31 14 26 12 8 10-2 12-14 12-24 30-75 14-30 14-21 16-12 16 0 18 11 22 25 46 64 20 24 22 18 23 6 19-5 20-13 92-100 24-21 24-15 26-9 28-3 28 5 28 12 28 22 26 28 22 34 16 35 14 43 12 49 12 59 26 139 16 69 8 25 10 22 8 10 10 6 10-2 12-8 38-45 28-41 10-20 10-25 12-40 10-42 12-62 32-179 10-45 10-34 4-30-12 33-12 48-12 61-24 140-10 53-12 54-14 48-10 25-12 25-38 60-26 34-18 9-10-4-10-13-10-24-8-26-16-72-28-156-12-61-12-51-14-45-16-36-22-35-24-28-26-20-28-13-28-6-28 2-26 10-24 15-24 21-68 77-20 19-20 14-20 4-22-6-22-19-20-24-44-61-20-23-18-12-16-1-16 10-16 22-14 29-28 66-12 22-12 13-10 3-12-9-14-24-12-29-34-95-18-40-18-30-18-19-28-18-42-13-62-10-84-8z"/>
<path fill="url(#Lg1_0)" stroke="url(#g1_0)" vector-effect="non-scaling-stroke" transform="matrix(0.55122 -0.01280 0 -0.11040 299.64 832.13)" d="M-105-651l84 8 62 10 42 13 28 18 17 19 18 30 18 40 34 95 12 29 14 24 12 9 10-3 12-13 12-23 28-66 14-28 16-23 16-10 16 2 18 12 20 23 44 61 20 24 22 18 22 7 20-4 20-14 20-19 68-77 24-21 24-15 26-10 28-2 28 5 28 14 26 20 24 28 22 35 16 36 14 45 12 50 12 61 28 156 16 73 8 26 10 24 10 13 10 4 18-10 26-33 38-60 12-25 10-26 14-47 12-54 10-54 24-139 12-61 12-48 12-33 4-25-8 15-8 21-14 52-12 60-26 153-12 64-12 54-12 43-10 27-12 27-46 85-20 29-16 8-10-5-10-15-8-20-10-35-16-77-28-165-12-65-12-54-14-48-16-39-20-34-22-27-26-22-28-15-28-7-28 2-26 9-22 13-24 20-68 78-20 20-20 13-18 4-22-6-22-18-20-24-46-64-20-22-16-10-16-2-14 8-16 20-14 27-28 62-12 21-12 13-10 2-12-8-14-23-12-28-34-90-18-39-18-27-18-19-30-17-42-12-62-10-84-7z"/>
<path fill="url(#Lg1_0)" stroke="url(#g1_0)" vector-effect="non-scaling-stroke" transform="matrix(0.55124 -0.01279 0 -0.11040 301.62 832.71)" d="M-105-652l84 8 62 9 42 13 29 17 18 18 18 28 18 39 34 90 12 28 14 23 12 8 10-2 12-13 12-21 28-62 14-27 16-20 14-8 16 1 16 11 20 22 46 64 20 24 22 18 22 6 18-4 20-14 20-19 68-78 24-20 22-14 26-8 28-2 28 7 28 14 26 23 22 27 20 34 16 39 14 48 12 54 12 65 28 165 16 76 10 35 8 20 10 16 10 5 16-9 20-28 46-85 12-27 10-28 12-42 12-54 12-65 26-152 12-60 14-52 8-21 8-15 4-21-10 15-10 22-8 24-8 31-14 69-28 167-10 55-12 56-14 51-20 55-48 107-18 29-14 9-10-6-8-12-10-26-9-33-9-42-8-43-30-186-12-69-12-57-12-45-16-44-18-33-24-32-26-23-26-15-28-7-28 0-26 9-22 13-24 21-84 94-20 14-20 4-20-6-22-17-20-24-46-64-20-22-16-11-16-1-14 7-16 20-14 25-26 55-12 20-12 12-10 2-12-7-14-23-44-107-20-42-18-26-18-18-30-16-42-12-64-9-84-7z"/>
<path fill="url(#Lg1_0)" stroke="url(#g1_0)" vector-effect="non-scaling-stroke" transform="matrix(0.55126 -0.01279 0 -0.11040 303.61 833.30)" d="M-105-653l84 8 64 9 42 12 29 16 18 18 18 26 20 41 44 108 14 22 12 8 10-2 12-12 12-20 26-55 14-25 16-20 14-8 16 2 16 11 20 22 46 64 20 24 22 17 20 6 20-5 20-13 84-95 24-20 22-13 26-9 28 0 28 7 26 15 26 23 24 31 18 34 16 44 12 44 12 58 12 68 30 187 8 43 9 42 9 33 10 26 8 12 10 5 14-8 18-30 48-106 20-55 14-51 12-56 10-55 28-167 14-69 8-31 8-24 10-22 10-15 4-19-14 18-10 19-10 28-8 29-16 79-28 170-12 67-12 57-14 53-16 49-52 143-16 30-12 8-10-8-8-15-10-30-10-41-8-41-10-59-28-185-12-74-12-63-14-56-14-41-18-36-22-30-26-25-26-16-28-9-28 0-26 8-22 14-22 19-64 74-20 20-20 14-20 4-20-7-22-19-20-24-42-59-20-23-18-12-16-2-14 8-14 16-14 23-26 51-12 20-12 11-10 2-12-7-14-21-12-26-32-77-20-40-18-25-18-16-30-16-42-11-66-9-84-7z"/>
<path fill="url(#Lg1_0)" stroke="url(#g1_0)" vector-effect="non-scaling-stroke" transform="matrix(0.55129 -0.01278 0 -0.11040 305.60 833.89)" d="M-105-653l84 6 66 10 42 11 29 16 18 16 18 25 20 40 32 77 12 26 14 21 12 7 10-2 12-12 12-19 26-51 14-24 14-16 14-7 16 2 18 12 20 23 42 59 20 24 22 19 20 6 20-4 20-13 20-20 64-75 22-19 22-13 26-8 28 0 28 9 26 16 26 25 22 30 18 36 14 41 14 56 12 63 12 73 28 186 10 59 8 41 10 41 10 30 8 15 10 7 12-7 16-31 52-142 16-49 14-53 12-57 12-67 28-170 16-79 8-29 10-28 10-19 14-18 4-18-14 15-12 19-10 23-10 32-8 33-8 40-40 243-10 53-12 55-14 53-62 215-12 30-6 8-6 3-8-5-10-21-9-31-11-51-18-107-42-289-12-68-12-53-14-46-18-39-22-34-24-25-26-18-28-10-28-1-26 7-22 13-22 19-64 75-20 20-20 13-18 3-20-6-22-19-20-24-42-60-20-22-18-13-16-1-14 7-14 15-50 86-12 11-10 2-12-7-14-20-44-99-20-37-18-24-18-16-30-15-44-10-150-16z"/>
<path fill="url(#Lg1_0)" stroke="url(#g1_0)" vector-effect="non-scaling-stroke" transform="matrix(0.55131 -0.01278 0 -0.11040 307.59 834.48)" d="M-105-654l150 15 44 11 29 15 18 16 18 23 20 38 44 98 14 20 12 7 10-2 12-11 50-85 14-15 14-8 16 2 18 12 20 23 42 59 20 25 22 18 20 7 18-4 20-12 20-20 64-75 22-19 22-13 26-7 28 1 28 10 26 18 24 25 22 33 18 40 14 46 12 53 12 68 42 289 18 107 11 51 9 31 10 21 8 5 6-3 6-8 12-30 62-215 14-53 12-55 10-53 40-243 8-40 8-33 10-32 10-23 12-19 14-15 4-17-18 18-14 21-12 28-12 40-8 35-10 54-36 225-20 106-40 168-38 174-10 31-6 10-4 2-8-7-8-20-7-28-11-57-22-143-42-307-12-74-12-59-14-51-18-45-22-36-24-27-26-19-26-10-28-3-26 7-22 12-22 19-62 72-20 20-20 13-20 4-20-7-20-18-20-24-42-59-20-23-16-12-16-2-14 5-14 14-40 66-12 16-10 9-10 1-12-6-14-19-44-94-20-36-18-23-18-14-30-14-44-11-152-15z"/>
<path fill="url(#Lg1_0)" stroke="url(#g1_0)" vector-effect="non-scaling-stroke" transform="matrix(0.55133 -0.01277 0 -0.11040 309.58 835.06)" d="M-105-655l152 15 44 11 29 13 18 15 18 23 20 36 44 94 14 19 12 6 10-2 10-8 12-16 40-66 14-14 14-6 16 3 16 12 20 23 42 59 20 24 20 17 20 8 20-4 20-13 20-20 62-72 22-19 22-13 26-6 28 2 26 11 26 19 24 27 22 36 18 45 14 51 12 59 12 74 42 307 22 143 11 56 7 29 8 20 8 7 4-2 6-10 10-31 38-174 40-168 20-106 36-226 10-53 8-35 12-41 12-27 14-21 18-18 4-18-24 24-16 25-14 34-14 53-8 39-10 58-28 182-12 73-12 65-38 189-36 222-10 46-6 14-4 4-6-6-6-17-6-28-8-48-20-145-50-386-14-93-12-66-14-57-16-45-20-37-24-31-26-22-26-13-28-5-26 5-22 12-22 18-64 74-20 20-20 12-18 2-20-7-20-17-20-24-42-59-20-23-16-11-16-3-14 5-14 14-38 59-12 15-10 8-10 2-12-6-14-19-44-89-20-34-18-22-18-14-30-13-44-10-154-15z"/>
<path fill="url(#Lg1_0)" stroke="url(#g1_0)" vector-effect="non-scaling-stroke" transform="matrix(0.55136 -0.01276 0 -0.11040 311.57 835.65)" d="M-105-656l154 15 44 10 29 13 18 14 18 21 20 35 44 89 14 18 12 7 10-2 10-8 12-15 38-59 14-14 14-5 16 3 16 11 20 23 42 59 20 24 20 17 20 7 18-2 20-13 20-19 64-74 22-18 22-12 26-5 28 5 26 13 26 22 24 30 20 38 16 45 14 57 12 65 14 93 50 387 20 145 8 48 6 28 6 17 6 6 4-4 6-15 10-46 36-222 38-189 12-65 12-72 28-183 10-57 8-39 14-53 14-34 16-25 24-24 4-17-30 30-20 32-8 20-8 25-14 59-16 92-38 251-34 194-12 76-14 105-20 177-8 62-4 24-4 18-6 10-4-4-4-13-4-20-6-42-32-290-24-202-26-202-18-118-14-69-8-31-8-25-10-25-10-20-24-35-26-25-26-15-28-7-26 4-22 10-22 17-66 75-20 19-20 12-20 1-18-8-18-15-68-91-16-17-14-9-18-3-16 8-16 18-40 57-12 10-12 1-12-7-14-19-42-82-18-30-18-21-20-15-30-13-44-9-156-15z"/>
<path fill="url(#Lg1_0)" stroke="url(#g1_0)" vector-effect="non-scaling-stroke" transform="matrix(0.55138 -0.01276 0 -0.11040 313.55 836.24)" d="M-105-657l156 15 44 9 29 12 20 16 18 21 18 30 42 82 14 18 12 8 12-2 12-9 40-57 16-18 16-8 18 3 14 9 16 17 68 90 18 16 18 8 20-2 20-11 20-19 66-75 22-17 22-11 26-3 28 6 26 16 26 25 24 35 10 20 10 25 8 25 8 31 14 69 18 117 26 203 24 201 32 291 6 42 4 20 4 13 4 4 6-10 4-18 4-24 8-63 20-176 14-105 12-76 34-194 38-251 16-92 14-59 8-25 8-20 20-32 30-31 4-17-34 33-14 21-10 19-10 26-8 27-8 34-10 52-14 87-32 221-30 192-12 87-10 87-8 81-28 336-6 46-4 15-2 2-2-2-4-15-4-29-4-39-26-320-16-164-30-253-24-181-10-64-8-44-8-37-8-31-10-31-10-24-24-40-26-29-26-18-28-9-28 3-22 10-22 17-64 71-20 19-20 11-20 2-18-8-18-16-68-89-16-17-14-9-16-3-16 7-16 15-40 54-12 9-12 1-12-7-14-17-42-79-18-28-18-20-20-15-30-11-44-9-158-15z"/>
<path fill="url(#Lg1_0)" stroke="url(#g1_0)" vector-effect="non-scaling-stroke" transform="matrix(0.55140 -0.01275 0 -0.11040 315.54 836.83)" d="M-105-658l158 15 44 8 29 12 20 14 18 21 18 28 42 78 14 18 12 7 12-2 12-8 40-54 16-16 16-6 16 3 14 9 16 17 68 89 18 16 18 7 20-1 20-11 20-19 64-71 22-17 22-10 28-3 28 9 26 18 26 28 24 41 10 24 10 31 8 31 8 37 8 44 10 64 24 181 30 253 16 164 26 320 4 39 4 28 4 16 2 2 2-2 4-15 6-46 28-336 8-82 10-86 12-87 30-192 32-221 14-87 10-52 8-34 8-27 10-26 10-20 14-20 34-33 4-18-22 19-20 23-16 25-12 27-10 30-10 40-10 50-12 74-60 425-10 79-8 73-10 111-8 108-8 128-18 316-4 47-2 16-2 9-2 3-2-4-2-12-6-67-22-383-12-166-8-90-8-79-22-191-28-218-12-80-10-56-10-45-12-42-12-31-16-31-24-31-28-24-28-12-28 0-22 8-24 18-66 71-20 18-20 10-18 0-18-7-18-16-68-88-16-16-14-9-16-3-16 6-16 15-38 48-12 8-12 1-12-6-14-17-42-74-18-27-18-20-20-13-30-11-46-9-158-14z"/>
<path fill="url(#Lg1_0)" stroke="url(#g1_0)" vector-effect="non-scaling-stroke" transform="matrix(0.55143 -0.01275 0 -0.11040 317.53 837.41)" d="M-105-659l158 14 46 9 29 11 20 13 18 20 18 27 42 74 14 17 12 6 12-1 12-9 38-47 16-15 16-6 16 3 14 9 16 16 68 88 18 16 18 7 18 0 20-11 20-17 66-72 24-17 22-8 28 0 28 12 28 24 24 31 16 31 12 31 12 42 10 45 10 56 12 80 28 218 22 190 8 79 8 90 12 167 22 383 6 67 2 11 2 5 2-3 2-9 2-16 4-48 18-315 8-128 8-108 10-111 8-73 10-79 60-425 12-74 10-50 10-40 10-31 12-26 16-25 20-23 22-20 4-18-28 25-22 27-18 30-14 35-14 52-12 60-12 75-16 115-44 337-10 92-10 113-10 145-8 147-22 523-4 62-2 15-2 4-3-20-5-81-16-384-12-227-12-171-14-152-16-144-22-179-16-119-12-77-12-63-12-48-12-36-16-35-24-35-26-24-28-14-28-2-22 7-24 15-66 69-20 17-20 10-20 0-16-7-18-15-68-87-16-16-14-8-16-3-16 6-16 14-36 42-12 8-12 1-12-6-14-16-42-70-18-26-18-18-20-13-30-11-46-8-160-14z"/>
<path fill="url(#Lg1_0)" stroke="url(#g1_0)" vector-effect="non-scaling-stroke" transform="matrix(0.55145 -0.01274 0 -0.11040 319.52 838.00)" d="M-105-660l160 14 46 8 29 10 20 13 18 19 18 25 42 71 14 16 12 6 12-2 12-7 36-42 16-14 16-6 16 2 14 9 16 16 68 87 18 15 16 7 20 0 20-10 20-17 66-69 24-16 22-6 28 2 28 14 26 24 24 35 16 35 12 36 12 48 12 63 12 77 16 119 22 179 16 144 14 152 12 170 12 228 16 384 5 81 3 20 2-4 2-15 4-62 22-523 8-147 10-145 10-113 10-92 44-337 16-115 12-75 12-61 14-51 14-35 18-31 22-26 28-25 3-18-32 28-26 33-19 36-16 46-14 59-14 79-16 113-24 186-18 146-12 111-10 114-8 113-8 141-8 178-18 504-4 74-2 17-2 3-2-14-4-59-18-454-12-250-12-186-14-163-14-131-18-150-18-140-16-109-12-66-12-53-14-44-14-32-24-37-26-26-26-14-28-3-22 6-24 15-64 64-22 18-20 9-18 0-16-7-18-15-68-85-16-16-14-8-16-3-14 5-16 13-38 40-12 6-12 0-12-7-12-13-42-67-18-24-18-18-20-12-30-10-46-8-162-13z"/>
<path fill="url(#Lg1_0)" stroke="url(#g1_0)" vector-effect="non-scaling-stroke" transform="matrix(0.55147 -0.01274 0 -0.11040 321.41 838.56)" d="M-105-661l162 14 46 8 29 9 20 13 18 17 18 25 42 67 12 13 12 7 12 0 12-7 38-40 16-13 14-4 16 2 14 9 16 15 68 85 18 15 16 7 18 1 20-9 22-18 64-64 24-15 22-7 28 4 26 14 26 25 24 38 14 31 14 45 12 52 12 67 16 109 18 139 18 150 14 131 14 163 12 186 12 250 18 454 4 59 3 14 1-2 2-17 4-75 18-503 8-178 8-141 8-114 10-113 12-111 18-146 24-187 16-112 14-80 14-59 16-45 20-37 26-32 32-28 4-19-28 23-26 29-22 34-16 36-14 46-12 55-12 70-14 99-24 190-20 171-12 119-10 122-10 155-8 156-23 555-3 49-2 22-2 12-2 0-2-13-4-56-20-479-12-233-12-175-14-156-14-128-18-147-18-136-14-93-12-66-12-52-14-45-14-32-22-34-26-26-26-14-26-3-22 6-22 13-64 61-20 15-20 8-18 0-16-7-18-15-68-82-16-15-14-9-16-2-14 5-14 10-38 36-12 6-12 0-12-6-12-13-42-63-18-23-18-16-20-12-30-9-46-7-164-14z"/>
<path fill="url(#Lg1_0)" stroke="url(#g1_0)" vector-effect="non-scaling-stroke" transform="matrix(0.55150 -0.01273 0 -0.11040 323.50 839.18)" d="M-105-662l164 14 46 7 29 9 20 12 18 16 18 23 42 64 12 12 12 6 12 0 12-6 38-36 14-10 14-5 16 2 14 9 16 15 68 82 18 15 16 7 18 0 20-8 20-15 64-61 22-13 22-6 26 3 26 14 26 26 22 35 14 31 14 45 12 52 12 66 14 93 18 136 18 147 14 128 14 156 12 175 12 233 20 479 4 56 2 13 2 0 2-12 2-22 3-49 23-555 8-156 10-155 10-122 12-119 20-170 24-191 14-99 12-70 12-55 14-46 16-36 22-34 26-29 28-23 4-18-28 22-26 27-22 32-16 31-14 38-12 46-12 60-12 76-18 135-28 235-14 130-12 134-10 136-10 166-24 505-4 56-2 16-2 7-2-3-2-13-2-21-4-64-20-433-12-209-12-161-14-147-14-123-20-159-16-116-14-89-12-63-12-49-14-42-14-30-20-30-24-24-24-13-26-4-20 5-22 12-62 56-20 15-20 7-18 0-16-7-18-14-68-81-16-14-14-8-14-2-14 3-14 9-38 34-12 5-12 0-12-6-12-12-42-59-18-22-18-16-20-11-30-8-46-7-166-13z"/>
<path fill="url(#Lg1_0)" stroke="url(#g1_0)" vector-effect="non-scaling-stroke" transform="matrix(0.55152 -0.01273 0 -0.11040 325.48 839.76)" d="M-105-663l166 13 46 7 29 9 20 11 18 16 18 22 42 59 12 12 12 6 12 0 12-6 38-33 14-9 14-3 14 2 14 8 16 14 68 80 18 15 16 6 18 1 20-8 20-14 62-56 22-12 20-5 26 3 24 14 24 24 20 30 14 30 14 42 12 49 12 63 14 89 16 116 20 158 14 123 14 148 12 161 12 209 20 433 4 64 2 21 2 13 2 3 2-7 2-16 4-56 24-505 10-166 10-136 12-134 14-130 28-235 18-135 12-76 12-60 12-46 14-38 16-32 22-31 26-27 28-22 4-19-28 21-26 26-22 29-18 32-14 34-12 40-12 53-12 69-16 112-24 195-22 193-14 141-10 122-8 117-26 468-4 51-2 17-2 10-2 3-2-4-2-12-6-71-22-407-12-185-14-169-16-151-16-131-18-135-14-95-12-72-12-59-12-46-14-39-14-28-20-29-22-21-22-11-24-4-20 5-20 11-60 50-20 13-20 8-18-1-16-7-16-12-70-79-16-14-14-8-14-2-14 4-52 38-22 4-12-6-12-11-42-56-18-20-18-15-20-11-30-8-46-6-168-13z"/>
<path fill="url(#Lg1_0)" stroke="url(#g1_0)" vector-effect="non-scaling-stroke" transform="matrix(0.55154 -0.01272 0 -0.11040 327.47 840.35)" d="M-105-663l168 12 46 7 29 8 20 11 18 14 18 21 42 56 12 11 12 6 22-4 52-39 14-3 14 2 14 8 16 14 70 79 16 12 16 7 18 0 20-7 20-13 60-51 20-10 20-5 24 3 22 12 22 21 20 28 14 28 14 40 12 46 12 59 12 71 14 96 18 135 16 131 16 151 14 168 12 186 22 407 6 71 2 12 2 4 2-3 2-10 2-17 4-51 26-468 8-117 10-122 14-141 22-193 24-195 16-113 12-68 12-53 12-40 14-34 18-32 22-29 26-26 28-21 4-18-28 19-26 25-22 27-20 33-16 35-12 36-12 49-10 52-14 89-14 105-32 263-16 143-10 105-10 123-28 425-6 61-4 17-2 1-4-15-6-58-6-86-20-318-14-181-14-144-18-153-16-121-16-113-12-76-12-66-10-45-12-43-14-37-14-26-20-27-20-17-22-11-22-2-18 4-20 10-76 56-20 6-18-1-16-6-16-12-70-76-16-13-14-7-12-2-14 2-52 35-22 3-12-5-12-10-44-55-18-19-18-14-18-8-30-8-48-7-168-12z"/>
<path fill="url(#Lg1_0)" stroke="url(#g1_0)" vector-effect="non-scaling-stroke" transform="matrix(0.55157 -0.01271 0 -0.11040 329.46 840.94)" d="M-105-664l168 12 48 6 29 8 18 9 18 13 18 19 44 56 12 10 12 5 22-3 52-35 14-3 12 2 14 8 16 13 70 76 16 12 16 6 18 1 20-6 77-57 19-9 18-4 22 2 22 11 20 17 20 27 14 26 14 37 12 43 10 45 12 66 12 76 16 113 16 121 18 152 14 144 14 182 20 318 6 86 6 58 4 14 2 0 4-18 6-60 28-425 10-123 10-105 16-143 32-263 14-105 14-90 10-51 12-49 12-36 16-35 20-33 22-28 26-24 28-19 4-19-28 19-26 22-24 28-20 31-16 32-14 38-12 44-10 47-12 69-14 98-30 237-20 167-10 93-10 107-30 383-6 53-4 18-2 3-2 0-4-14-4-28-4-40-28-372-16-176-18-158-22-166-26-173-12-67-10-47-10-39-10-31-12-29-14-24-18-23-20-17-20-9-20-2-18 3-18 9-74 49-20 6-18-1-16-7-16-11-68-71-30-20-14-3-14 3-50 30-22 3-12-5-14-12-42-50-18-17-36-21-78-14-170-12z"/>
<path fill="url(#Lg1_0)" stroke="url(#g1_0)" vector-effect="non-scaling-stroke" transform="matrix(0.55159 -0.01271 0 -0.11040 331.45 841.53)" d="M-105-665l170 12 77 14 36 20 18 18 42 50 14 12 12 5 22-3 50-31 14-2 14 2 30 21 68 71 16 11 16 7 18 1 20-6 74-49 18-9 18-3 20 2 20 9 20 17 18 23 14 24 12 29 10 31 10 38 10 48 12 67 26 173 22 166 18 158 16 176 28 372 4 40 4 28 4 14 2 0 2-3 4-18 6-53 30-383 10-107 10-94 20-167 30-236 14-98 12-69 10-47 12-44 14-38 16-32 20-31 24-28 26-23 28-18 4-19-28 18-26 21-24 26-20 28-18 33-14 33-12 38-12 49-12 63-14 91-14 104-30 235-14 116-12 112-32 345-4 32-4 23-4 12-2 2-2-1-4-13-4-23-4-32-8-84-24-278-18-171-20-157-26-179-22-131-10-49-8-33-10-35-10-27-12-25-12-19-18-21-18-14-18-8-20-2-32 9-72 44-18 5-18-1-16-6-18-12-68-68-30-19-26-1-50 27-22 3-12-5-14-11-60-63-36-20-78-13-172-12z"/>
<path fill="url(#Lg1_0)" stroke="url(#g1_0)" vector-effect="non-scaling-stroke" transform="matrix(0.55161 -0.01270 0 -0.11040 333.44 842.11)" d="M-105-666l172 12 77 13 36 20 60 63 14 11 12 5 22-3 50-27 26 1 30 19 68 68 18 12 16 6 18 0 18-5 72-43 32-9 20 2 18 8 18 14 18 21 12 19 12 25 10 27 10 35 8 33 10 49 22 130 26 180 20 157 18 171 24 278 8 84 4 32 4 23 4 12 2 2 2-2 4-12 4-23 4-32 32-346 12-111 14-116 30-236 14-103 14-91 12-63 12-50 12-37 14-33 18-33 20-28 24-26 26-21 28-18 4-18-28 16-26 20-24 24-20 26-18 29-16 33-14 38-12 44-12 57-10 58-12 81-14 103-44 342-12 106-20 191-6 50-8 48-4 12-4 4-6-13-4-20-4-26-8-70-26-261-16-140-24-177-28-180-20-109-10-43-8-30-8-25-10-25-22-38-16-19-18-14-18-7-18-2-32 8-68 36-18 4-18-1-16-6-18-11-68-65-30-18-26 0-48 23-22 2-26-14-60-60-36-19-78-12-174-12z"/>
<path fill="url(#Lg1_0)" stroke="url(#g1_0)" vector-effect="non-scaling-stroke" transform="matrix(0.55164 -0.01270 0 -0.11040 335.43 842.70)" d="M-105-667l174 12 77 12 36 19 60 60 26 14 22-2 48-23 26 0 30 18 68 65 18 11 16 6 18 1 18-4 68-36 32-9 18 2 18 8 18 14 16 18 22 39 10 25 8 25 8 29 10 44 20 109 28 180 24 177 16 140 26 261 8 69 4 27 4 20 6 13 4-4 4-12 8-48 6-50 20-191 12-106 44-342 14-103 12-81 10-58 12-57 12-44 14-38 16-33 18-29 20-26 24-24 26-20 28-16 4-19-30 17-26 19-24 22-22 27-20 31-16 32-14 35-12 41-10 43-8 42-18 113-54 397-32 258-8 58-8 41-4 12-4 5-4-2-4-10-4-17-6-35-10-79-26-230-16-125-26-176-28-167-18-88-16-59-18-46-22-35-14-15-16-12-16-7-18-3-30 6-68 31-34 1-34-16-66-60-30-18-26-1-48 20-22 2-26-13-60-56-38-19-80-12-172-11z"/>
<path fill="url(#Lg1_0)" stroke="url(#g1_0)" vector-effect="non-scaling-stroke" transform="matrix(0.55166 -0.01269 0 -0.11040 337.41 843.29)" d="M-105-668l172 11 79 12 38 18 60 56 26 14 22-2 48-20 26 1 30 18 66 60 34 16 34-1 68-31 30-6 18 3 16 7 16 12 14 15 22 35 18 46 16 59 18 88 28 167 26 176 16 125 26 230 10 78 6 36 4 17 4 10 4 2 4-5 4-12 8-41 8-58 32-258 54-397 18-114 8-41 10-43 12-41 14-36 16-31 20-31 22-27 24-22 26-19 30-17 4-18-56 33-24 21-22 24-22 31-18 32-14 32-12 36-16 66-8 42-10 60-86 605-10 65-10 48-6 15-4 2-4-3-6-15-10-50-10-71-28-219-16-113-28-176-24-132-18-82-16-54-18-42-20-30-14-15-16-11-32-9-28 5-64 24-34 1-34-16-64-55-24-15-30-5-52 19-24 0-24-14-56-49-38-19-80-11-176-12z"/>
<path fill="url(#Lg1_0)" stroke="url(#g1_0)" vector-effect="non-scaling-stroke" transform="matrix(0.55169 -0.01269 0 -0.11040 339.40 843.87)" d="M-105-669l176 11 79 12 38 18 56 50 24 14 24-1 52-18 30 5 24 15 64 55 34 16 34-1 64-24 28-5 32 9 16 11 14 15 20 30 18 42 16 54 18 82 24 132 28 176 16 113 28 219 10 70 10 51 6 15 4 3 4-3 6-14 10-48 10-65 86-605 10-60 8-42 16-66 12-36 14-32 18-32 22-31 22-24 24-21 56-33 4-19-58 33-26 21-22 23-22 29-18 30-16 34-12 33-10 36-8 35-16 87-50 334-42 265-8 40-6 22-6 14-6 4-4-4-6-14-6-23-6-31-10-64-30-210-18-115-28-162-22-111-16-66-16-50-18-38-20-28-26-21-30-8-28 3-62 19-36-2-32-16-60-48-26-16-28-5-54 17-24-2-22-12-58-48-20-10-24-8-86-11-164-10z"/>
<path fill="url(#Lg1_0)" stroke="url(#g1_0)" vector-effect="non-scaling-stroke" transform="matrix(0.55171 -0.01268 0 -0.11040 341.39 844.46)" d="M-105-670l164 10 85 11 24 7 20 11 58 48 22 12 24 1 54-16 28 5 26 15 60 49 32 16 36 2 62-19 28-4 30 9 26 21 20 28 18 38 16 50 16 66 22 111 28 162 18 115 30 210 10 64 6 31 6 23 6 14 4 4 6-4 6-14 6-22 8-41 42-264 50-334 16-87 8-35 10-36 12-33 16-34 18-30 22-29 22-23 26-21 58-33 4-18-60 31-26 20-24 24-22 27-18 28-16 31-14 36-16 57-16 78-12 72-42 270-20 119-16 88-8 38-8 30-8 19-6 5-6-4-6-13-6-21-6-27-10-55-32-202-22-130-26-139-20-93-16-60-16-46-16-31-20-27-26-20-28-8-26 2-60 14-36-3-30-14-60-46-24-14-30-5-52 14-24-2-22-11-58-46-44-17-86-10-166-10z"/>
<path fill="url(#Lg1_0)" stroke="url(#g1_0)" vector-effect="non-scaling-stroke" transform="matrix(0.55173 -0.01268 0 -0.11040 343.38 845.05)" d="M-105-671l166 10 85 11 44 17 58 46 22 11 24 2 52-14 30 5 24 14 60 45 30 15 36 3 60-14 26-2 28 8 26 20 20 26 16 32 16 46 16 60 20 93 26 139 22 129 32 203 10 55 6 27 6 21 6 13 6 4 6-5 8-19 8-30 8-38 16-89 20-118 42-270 12-72 16-78 16-57 14-36 16-31 18-28 22-27 24-24 26-20 60-31 4-18-62 30-26 19-24 22-22 24-20 29-16 29-14 32-10 30-8 28-16 73-14 79-40 246-18 99-16 80-10 42-8 27-8 17-8 5-6-4-6-12-6-18-8-33-12-62-34-196-22-118-24-118-18-77-16-55-14-37-16-30-20-25-24-18-26-8-24 0-62 10-34-4-32-16-64-45-26-11-24-1-50 11-20-2-22-11-60-44-42-16-86-10-168-10z"/>
<path fill="url(#Lg1_0)" stroke="url(#g1_0)" vector-effect="non-scaling-stroke" transform="matrix(0.55176 -0.01267 0 -0.11040 345.37 845.64)" d="M-105-672l168 10 85 11 42 16 60 44 22 11 20 2 50-11 24 1 26 11 64 45 32 16 34 4 62-10 25 0 25 8 24 18 20 25 16 30 14 37 16 55 18 77 24 118 22 118 34 196 12 62 8 32 6 19 6 12 6 4 8-5 8-17 8-27 10-43 16-79 18-99 40-246 14-79 16-73 8-29 10-29 14-32 16-29 20-29 22-25 24-21 26-19 62-30 4-18-62 28-52 38-24 26-20 27-18 30-14 31-18 53-16 68-14 74-40 233-16 82-14 65-10 40-10 33-10 21-8 6-6-3-8-13-8-23-8-32-12-56-36-189-22-109-22-100-18-71-14-45-16-39-16-27-18-21-22-16-26-9-82 6-34-6-30-14-62-40-26-11-26-2-48 9-20-2-22-10-60-43-42-16-84-10-172-10z"/>
<path fill="url(#Lg1_0)" stroke="url(#g1_0)" vector-effect="non-scaling-stroke" transform="matrix(0.55178 -0.01267 0 -0.11040 347.36 846.22)" d="M-105-672l172 10 83 10 42 16 60 42 22 11 20 2 48-9 26 2 26 10 62 41 30 14 34 6 82-6 26 9 22 15 18 21 16 28 16 39 14 45 18 70 22 100 22 109 36 190 12 56 8 31 8 23 8 14 6 2 8-5 10-21 10-33 10-40 14-65 16-82 40-233 14-75 16-67 18-54 14-30 18-30 20-27 24-26 52-38 62-29 4-18-64 28-28 17-26 20-24 25-20 25-18 28-16 32-18 50-10 36-8 35-14 70-38 210-14 68-14 61-12 44-12 34-10 16-8 4-8-5-8-15-8-23-8-29-14-62-56-265-20-85-18-66-14-42-16-37-16-26-18-20-22-15-24-7-78 1-34-6-30-13-60-37-26-10-24-1-48 7-20-3-24-11-58-40-44-17-84-10-172-10z"/>
<path fill="url(#Lg1_0)" stroke="url(#g1_0)" vector-effect="non-scaling-stroke" transform="matrix(0.55180 -0.01266 0 -0.11040 349.34 846.81)" d="M-105-673l172 10 83 10 44 17 58 39 24 12 20 3 48-8 24 2 26 10 60 36 30 14 34 6 78-2 24 8 22 15 18 20 16 26 16 37 14 42 18 66 20 85 56 265 14 62 8 29 8 23 8 14 8 6 8-4 10-17 12-33 12-45 14-60 14-68 38-210 14-70 8-35 10-36 18-50 16-32 18-28 20-25 24-25 26-20 28-17 64-28 4-18-68 28-54 36-22 21-22 26-20 29-16 30-18 46-18 65-16 76-38 197-14 63-12 47-12 40-10 26-10 18-10 6-8-4-8-11-8-19-10-32-16-65-58-253-20-77-16-53-14-38-14-30-16-25-18-18-20-14-24-7-76-2-32-6-28-12-58-33-26-9-24-2-48 5-20-2-24-12-60-40-44-16-82-11-174-10z"/>
<path fill="url(#Lg1_0)" stroke="url(#g1_0)" vector-effect="non-scaling-stroke" transform="matrix(0.55183 -0.01265 0 -0.11040 351.33 847.40)" d="M-105-674l174 10 81 11 44 16 60 40 24 11 20 3 48-5 24 2 26 9 58 33 28 12 32 6 76 1 24 8 20 13 18 19 16 25 14 30 14 38 16 53 20 77 58 253 16 64 10 33 8 19 8 11 8 4 10-6 10-18 10-26 12-40 12-47 14-63 38-197 16-76 18-65 18-46 16-30 20-30 22-26 22-20 54-36 68-28 4-18-68 26-54 33-24 21-22 24-20 27-18 30-20 47-18 59-16 70-38 186-14 59-12 44-12 36-12 28-10 14-10 5-8-5-8-11-8-17-10-29-16-58-60-242-18-64-16-50-14-35-14-28-16-23-18-18-20-12-22-7-74-4-30-5-28-11-56-30-24-8-24-2-46 4-22-4-24-11-62-41-48-17-80-11-172-10z"/>
<path fill="url(#Lg1_0)" stroke="url(#g1_0)" vector-effect="non-scaling-stroke" transform="matrix(0.55185 -0.01265 0 -0.11040 353.32 847.99)" d="M-105-675l172 10 79 10 48 18 62 41 24 11 22 3 46-3 24 2 24 8 56 29 28 12 30 5 74 3 22 8 20 12 18 18 16 23 14 28 14 35 16 50 18 64 60 242 16 58 10 29 8 17 8 11 8 4 10-4 10-14 12-28 12-36 12-44 14-59 38-186 16-70 18-60 20-46 18-30 20-27 22-24 24-21 54-33 68-26 4-18-70 25-56 33-26 21-22 23-20 26-18 29-20 43-19 58-15 60-40 183-12 48-12 40-12 34-12 25-10 13-10 5-8-3-10-12-10-21-10-27-16-54-60-223-18-59-16-45-14-32-14-25-16-21-16-14-18-11-22-7-72-4-30-6-102-42-24-3-46 2-22-3-24-12-66-43-50-19-78-10-170-10z"/>
<path fill="url(#Lg1_0)" stroke="url(#g1_0)" vector-effect="non-scaling-stroke" transform="matrix(0.55187 -0.01264 0 -0.11040 355.31 848.57)" d="M-105-676l170 10 77 10 50 18 66 44 24 11 22 4 46-2 24 2 102 43 30 6 72 4 22 7 18 10 16 15 16 21 14 25 14 32 16 45 18 59 60 223 16 54 10 27 10 21 10 12 8 3 10-5 10-13 12-25 12-34 12-41 12-47 40-183 15-60 19-58 20-43 18-29 20-26 22-23 26-22 56-32 70-25 4-17-72 23-56 31-26 20-22 21-22 27-18 27-22 43-10 25-10 31-16 60-38 163-12 44-12 38-12 32-12 23-12 14-10 3-8-3-10-11-10-19-10-26-18-55-58-199-16-49-16-43-14-31-14-24-16-20-16-14-18-11-22-6-70-5-30-5-98-37-68-2-20-3-26-12-70-47-54-20-76-10-166-9z"/>
<path fill="url(#Lg1_0)" stroke="url(#g1_0)" vector-effect="non-scaling-stroke" transform="matrix(0.55190 -0.01264 0 -0.11040 357.30 849.16)" d="M-105-677l166 9 75 11 54 20 70 47 26 12 20 3 68 2 98 37 30 5 70 4 22 7 18 11 16 14 16 20 14 24 14 31 16 43 16 49 58 198 18 56 10 25 10 19 10 12 8 3 10-3 12-14 12-24 12-31 12-38 12-44 38-163 16-60 10-31 10-26 22-42 18-27 22-27 22-21 26-20 56-31 72-23 4-18-72 22-58 30-48 38-22 25-20 27-24 43-20 51-18 63-38 151-12 41-12 35-12 28-10 17-12 13-10 4-10-4-10-10-10-18-10-23-20-57-58-183-16-44-16-39-14-28-14-21-14-16-16-13-18-10-20-5-96-8-96-33-64-2-22-4-28-14-74-51-56-21-74-10-162-8z"/>
<path fill="url(#Lg1_0)" stroke="url(#g1_0)" vector-effect="non-scaling-stroke" transform="matrix(0.55192 -0.01263 0 -0.11040 359.29 849.75)" d="M-105-678l162 9 73 10 56 21 74 51 28 14 22 4 64 2 96 33 96 7 20 6 18 9 16 13 14 16 14 22 14 28 16 38 16 45 58 183 20 57 10 23 10 17 10 11 10 4 10-4 12-13 10-18 12-27 12-35 12-41 38-151 18-63 20-51 24-43 20-28 22-24 48-39 58-29 72-22 4-18-72 21-60 28-50 38-22 23-20 26-27 45-21 50-16 51-40 148-22 64-12 26-12 19-12 12-10 2-10-4-10-10-10-16-10-21-20-52-58-169-16-41-16-35-12-23-14-20-14-16-16-12-18-9-20-5-94-5-92-28-82-7-30-15-78-56-28-13-32-10-70-10-160-8z"/>
<path fill="url(#Lg1_0)" stroke="url(#g1_0)" vector-effect="non-scaling-stroke" transform="matrix(0.55194 -0.01263 0 -0.11040 361.27 850.34)" d="M-105-678l160 8 69 10 32 10 28 13 78 56 30 14 82 8 92 28 94 5 20 5 18 9 16 12 14 16 14 20 12 23 16 35 16 41 58 169 20 52 10 21 10 16 10 10 10 4 10-3 12-11 12-19 12-26 22-64 40-148 16-51 21-50 27-46 20-25 22-23 50-38 60-28 72-21 4-17-74 20-60 27-50 35-22 21-22 26-28 43-22 48-18 53-40 136-22 59-12 23-10 15-12 11-10 3-10-3-10-9-10-13-12-23-20-47-58-156-16-37-16-33-26-39-26-23-34-13-90-2-92-25-82-8-32-16-84-62-28-14-32-10-68-10-158-8z"/>
<path fill="url(#Lg1_0)" stroke="url(#g1_0)" vector-effect="non-scaling-stroke" transform="matrix(0.55197 -0.01262 0 -0.11040 363.26 850.92)" d="M-105-679l158 8 67 10 32 10 28 14 84 62 32 16 82 8 92 25 90 2 34 13 26 22 26 40 16 32 16 38 58 155 20 48 12 23 10 13 10 9 10 2 10-2 12-11 10-15 12-23 22-59 40-136 18-54 22-47 28-43 22-26 22-21 50-35 60-27 74-20 4-18-74 19-62 26-50 33-44 43-30 42-24 47-18 48-42 132-22 54-12 21-10 13-12 9-10 2-10-3-10-8-10-12-12-21-22-48-56-138-30-61-26-37-26-22-36-10-92-1-82-20-80-9-34-18-88-68-28-14-32-10-66-10-156-8z"/>
<path fill="url(#Lg1_0)" stroke="url(#g1_0)" vector-effect="non-scaling-stroke" transform="matrix(0.55199 -0.01262 0 -0.11040 365.25 851.51)" d="M-105-680l156 8 65 9 32 11 28 14 88 68 34 18 80 9 82 20 92 0 36 11 26 22 26 37 30 61 56 138 22 48 12 21 10 12 10 8 10 3 10-2 12-9 10-13 12-21 22-54 42-132 18-48 24-47 30-42 44-43 50-33 62-26 74-19 4-17-74 18-62 24-52 31-44 40-32 41-26 46-20 49-40 117-22 50-12 20-12 14-12 8-10 2-10-3-12-10-22-32-20-40-56-127-28-52-24-33-26-20-18-8-20-3-82 3-86-18-74-8-38-20-64-53-30-22-24-12-36-13-64-9-154-8z"/>
<path fill="url(#Lg1_0)" stroke="url(#g1_0)" vector-effect="non-scaling-stroke" transform="matrix(0.55201 -0.01261 0 -0.11040 367.24 852.10)" d="M-105-681l154 8 63 9 36 12 24 13 30 22 64 53 38 20 74 8 86 18 82-3 20 3 18 7 26 21 24 32 28 53 56 127 20 40 22 32 12 10 10 3 10-2 12-8 12-14 12-20 22-50 40-117 20-49 26-46 32-41 44-40 52-31 62-25 74-17 4-17-76 17-62 23-52 29-46 39-34 41-28 46-20 46-40 107-22 46-22 29-12 7-10 2-18-6-20-22-22-38-56-116-26-47-28-38-26-19-22-8-20-3-20 5-10-3-30 3-12 4-34-9-16 1-10-6-22-6-18 2-16-6-42 0-64-40-28-30-20-17-12-5-14-14-18-10-10 0-20-13-30-7-18 2-20-6-160-6z"/>
<path fill="url(#Lg1_0)" stroke="url(#g1_0)" vector-effect="non-scaling-stroke" transform="matrix(0.55204 -0.01260 0 -0.11040 369.23 852.69)" d="M-105-682l160 7 20 6 18-2 29 7 20 12 10 1 18 10 14 14 12 5 20 17 28 30 64 39 42 1 16 6 18-2 22 5 10 7 16-1 34 9 12-5 30-2 10 3 20-5 20 3 22 7 26 20 28 38 26 47 56 116 22 37 20 23 18 6 10-2 12-8 22-28 22-47 40-106 20-46 28-46 34-41 46-39 52-30 62-22 76-18 4-17-76 17-64 22-52 27-46 36-36 40-30 45-20 42-42 102-22 42-22 26-22 9-22-10-22-25-22-37-56-106-30-46-26-26-36-20-24-5-6 6-6 17-4-15-6-8-8-3-16 1-8 5-4 5-4 12-2 10-6-22-10-10-16-3-8 3-4 6-6 18-2-11-4-12-10-11-12-3-10 1-6 8-6 20-4-17-6-11-10-6-16-2-14 6-4 8-4 16-8-27-10-13-32-19-6 2-8 15-4-20-6-16-18-23-14-11-8-2-6 6-4 14-4-22-6-17-8-8-10-5-8 4-6 22-4-17-6-14-16-13-16-4-12 2-6 7-8 21-4-16-4-8-10-6-46 8-116-5z"/>
<path fill="url(#Lg1_0)" stroke="url(#g1_0)" vector-effect="non-scaling-stroke" transform="matrix(0.55206 -0.01260 0 -0.11040 371.22 853.27)" d="M-105-682l116 5 46-8 10 6 4 8 4 16 8-21 6-7 12-2 15 4 16 13 6 14 4 17 6-22 8-4 10 5 8 8 6 17 4 22 4-14 6-6 8 2 14 11 18 22 6 17 4 20 8-16 6-2 32 20 10 13 8 26 4-16 4-7 14-6 16 2 10 6 6 11 4 17 6-20 6-8 10-1 12 3 10 11 4 12 2 11 6-18 4-6 8-3 16 3 10 10 6 22 2-10 4-12 4-6 8-4 16-1 9 3 5 8 4 15 6-17 6-6 24 5 36 20 26 26 30 46 56 106 22 36 22 26 22 10 22-9 22-26 22-42 42-102 20-42 30-45 36-40 46-36 52-28 64-22 76-16 4-17-76 15-64 21-54 27-46 33-38 39-32 44-22 42-42 94-22 38-22 24-22 7-22-9-22-23-22-34-54-93-28-40-22-22-22-12-20-26-12-9-6 1-4 9-2 9-4 42-2 11-4-48-2-14-4-14-4-8-8-5-10 1-6 5-4 9-4 17-4 38-2 33-6-70-4-19-4-9-6-6-8-2-6 3-4 5-4 13-2 13-4 48-2 13-4-56-2-16-4-17-8-13-14-2-6 7-4 14-4 32-2 29-2 17-4-53-2-16-4-19-4-10-6-7-16-3-8 6-6 17-4 27-4 54-4-45-4-34-4-19-6-14-8-10-10-7-8-2-6 4-6 18-2 12-4 41-2 13-4-57-2-18-4-23-8-23-14-18-10-4-4 2-4 7-4 17-2 14-4 51-4-64-4-35-6-19-8-9-8 2-4 10-4 30-4 59-2-30-4-39-4-23-6-17-40 1-4 18-2 13-6 59-2-30-4-36-4-18-4-7-16 1-34 30-116-6z"/>
<path fill="url(#Lg1_0)" stroke="url(#g1_0)" vector-effect="non-scaling-stroke" transform="matrix(0.55208 -0.01259 0 -0.11040 373.20 853.86)" d="M-105-683l116 6 34-30 16-1 4 7 4 17 4 37 2 30 6-59 2-13 4-18 39-1 6 17 4 23 4 39 2 30 4-59 4-31 4-10 8-1 8 9 6 19 4 35 4 64 4-51 2-15 4-16 4-8 4-2 10 5 14 17 8 23 4 24 2 18 4 56 2-12 4-42 2-12 6-17 6-4 8 2 10 7 8 10 6 14 4 19 4 33 4 46 4-54 4-27 6-17 8-6 16 3 6 7 4 10 4 19 2 16 4 53 2-17 2-29 4-32 4-14 6-8 14 3 8 12 4 18 2 16 4 56 2-13 4-48 2-13 4-13 4-6 6-2 8 2 6 5 4 10 4 19 6 70 2-33 4-38 4-17 4-9 6-5 10-1 8 5 5 7 3 15 2 14 4 48 2-11 4-42 2-10 4-8 6-2 12 10 20 25 22 13 22 22 28 39 54 94 22 33 22 24 22 9 22-8 22-23 22-38 42-94 22-42 32-44 38-39 46-33 54-27 64-21 76-15 4-8-78 15-64 19-54 26-46 31-40 38-34 43-22 38-44 90-20 32-22 22-22 8-22-7-22-21-20-27-68-104-28-32-26-16-20-36-12-14-6 1-4 13-2 14-4 61-2 16-4-71-4-33-6-20-8-7-12 2-4 6-4 11-4 26-2 22-4 82-4-76-4-44-4-19-6-11-8-4-6 2-4 5-4 13-4 30-4 71-2 21-4-84-2-22-4-26-4-12-6-7-8-3-6 5-4 8-4 21-4 48-2 43-2 25-2-46-4-55-2-16-4-21-4-10-6-8-8-3-8 2-6 9-4 14-2 11-4 40-4 80-4-66-4-49-4-26-6-21-8-12-10-7-8 0-6 8-4 15-2 13-2 19-4 63-2 19-4-82-2-25-4-33-4-19-4-11-8-14-8-7-10 0-4 8-4 18-4 38-4 77-4-94-2-30-4-32-2-5-22 1-2 17-2 29-4 88-2-44-4-57-4-32-2-2-46 0-2 10-2 20-6 87-4-76-4-37-2-4-32 0-22 31-116-7z"/>
</g>
<g><line x1="106.5" y1="872.4" x2="106.5" y2="573.7" stroke="#262626" stroke-width="1.3"/>
<line x1="317" y1="934.6" x2="106.5" y2="872.4" stroke="#262626" stroke-width="1.3"/>
<line x1="317" y1="934.6" x2="1071.4" y2="917.4" stroke="#262626" stroke-width="1.3"/>
<line x1="375.2" y1="933.3" x2="392.3" y2="938.8" stroke="#262626" stroke-width="1.3"/>
<line x1="485.6" y1="930.8" x2="502.7" y2="936.3" stroke="#262626" stroke-width="1.3"/>
<line x1="596" y1="928.2" x2="613.1" y2="933.7" stroke="#262626" stroke-width="1.3"/>
<line x1="706.5" y1="925.7" x2="723.6" y2="931.2" stroke="#262626" stroke-width="1.3"/>
<line x1="816.9" y1="923.2" x2="834" y2="928.7" stroke="#262626" stroke-width="1.3"/>
<line x1="927.3" y1="920.7" x2="944.4" y2="926.2" stroke="#262626" stroke-width="1.3"/>
<line x1="1037.7" y1="918.2" x2="1054.8" y2="923.7" stroke="#262626" stroke-width="1.3"/>
<line x1="317" y1="934.6" x2="298.7" y2="935.6" stroke="#262626" stroke-width="1.3"/>
<line x1="217.5" y1="905.2" x2="199.2" y2="906.2" stroke="#262626" stroke-width="1.3"/>
<line x1="118" y1="875.8" x2="99.7" y2="876.8" stroke="#262626" stroke-width="1.3"/>
<line x1="106.5" y1="793.6" x2="87.8" y2="788.1" stroke="#262626" stroke-width="1.3"/>
<line x1="106.5" y1="738.4" x2="87.8" y2="732.9" stroke="#262626" stroke-width="1.3"/>
<line x1="106.5" y1="683.2" x2="87.8" y2="677.7" stroke="#262626" stroke-width="1.3"/>
<line x1="106.5" y1="628" x2="87.8" y2="622.5" stroke="#262626" stroke-width="1.3"/></g>
<g><line x1="106.3" y1="1334.6" x2="106.3" y2="1109.1" stroke="#dcdcdc" stroke-width="1"/>
<line x1="221.3" y1="1331.2" x2="221.3" y2="1105.7" stroke="#dcdcdc" stroke-width="1"/>
<line x1="336.2" y1="1327.7" x2="336.2" y2="1102.2" stroke="#dcdcdc" stroke-width="1"/>
<line x1="451.2" y1="1324.3" x2="451.2" y2="1098.8" stroke="#dcdcdc" stroke-width="1"/>
<line x1="566.1" y1="1320.8" x2="566.1" y2="1095.3" stroke="#dcdcdc" stroke-width="1"/>
<line x1="681.1" y1="1317.4" x2="681.1" y2="1091.9" stroke="#dcdcdc" stroke-width="1"/>
<line x1="796" y1="1313.9" x2="796" y2="1088.4" stroke="#dcdcdc" stroke-width="1"/>
<line x1="911" y1="1310.5" x2="911" y2="1085" stroke="#dcdcdc" stroke-width="1"/>
<polyline points="106.3,1275.4 911,1251.3 1071,1375.7" fill="none" stroke="#dcdcdc" stroke-width="1"/>
<polyline points="106.3,1192.2 911,1168.1 1071,1292.5" fill="none" stroke="#dcdcdc" stroke-width="1"/>
<polyline points="106.3,1109.1 911,1085 1071,1209.4" fill="none" stroke="#dcdcdc" stroke-width="1"/>
<line x1="1057.2" y1="1424.2" x2="1057.2" y2="1198.7" stroke="#dcdcdc" stroke-width="1"/>
<line x1="990.3" y1="1372.1" x2="990.3" y2="1146.6" stroke="#dcdcdc" stroke-width="1"/>
<line x1="923.3" y1="1320.1" x2="923.3" y2="1094.6" stroke="#dcdcdc" stroke-width="1"/>
<line x1="266.3" y1="1459.5" x2="106.3" y2="1334.6" stroke="#dcdcdc" stroke-width="1"/>
<line x1="381.3" y1="1456" x2="221.3" y2="1331.2" stroke="#dcdcdc" stroke-width="1"/>
<line x1="496.2" y1="1452.5" x2="336.2" y2="1327.7" stroke="#dcdcdc" stroke-width="1"/>
<line x1="611.2" y1="1449" x2="451.2" y2="1324.3" stroke="#dcdcdc" stroke-width="1"/>
<line x1="726.1" y1="1445.4" x2="566.1" y2="1320.8" stroke="#dcdcdc" stroke-width="1"/>
<line x1="841.1" y1="1441.9" x2="681.1" y2="1317.4" stroke="#dcdcdc" stroke-width="1"/>
<line x1="956" y1="1438.4" x2="796" y2="1313.9" stroke="#dcdcdc" stroke-width="1"/>
<line x1="1071" y1="1434.9" x2="911" y2="1310.5" stroke="#dcdcdc" stroke-width="1"/>
<line x1="252.5" y1="1448.7" x2="1057.2" y2="1424.2" stroke="#dcdcdc" stroke-width="1"/>
<line x1="185.6" y1="1396.5" x2="990.3" y2="1372.1" stroke="#dcdcdc" stroke-width="1"/>
<line x1="118.6" y1="1344.2" x2="923.3" y2="1320.1" stroke="#dcdcdc" stroke-width="1"/></g>
<line x1="759.8" y1="1100.2" x2="401.3" y2="1272.2" stroke="#D95319" stroke-width="2.4"/><path d="M386 1279.6L399.4 1260.1Q399.7 1266.5 402.2 1271.8Q404.8 1277.1 409.6 1281.4Z" fill="#D95319"/><line x1="850.2" y1="1109.4" x2="882.8" y2="1179.6" stroke="#D95319" stroke-width="2.4"/><path d="M890 1195L870.7 1181.4Q877 1181.1 882.4 1178.7Q887.7 1176.1 892.1 1171.4Z" fill="#D95319"/>
<g class="s" stroke-width="1.8" stroke-linejoin="round">
<path fill="url(#Lg2_0)" stroke="url(#g2_0)" vector-effect="non-scaling-stroke" transform="matrix(0.57479 -0.01721 0 -0.08315 221.26 1271.95)" d="M-104-603l24 7 44-22 50 24 50-24 50 24 50-23 50 24 50-24 50 24 50-23 12 3 38 23 38-14 14 0 16 14 70 95 16 33 32 87 16 29 14 13 34 13 38 47 16 8 10-5 12-15 52-99 22-48 38-102 10-19 10-13 44-21 46-60 12-9 36-15 26-35 164 0 2-25-164 0-28 35-32 13-14 11-46 59-44 22-10 12-10 19-46 121-56 116-18 29-14 8-16-9-38-49-36-14-14-14-14-26-32-85-16-34-68-96-18-16-14-1-38 14-38-22-12-3-50 22-50-23-50 23-50-24-50 23-50-23-50 23-50-24-44 22-24-7z"/>
<path fill="url(#Lg2_0)" stroke="url(#g2_0)" vector-effect="non-scaling-stroke" transform="matrix(0.57479 -0.01722 0 -0.08315 222.60 1273.00)" d="M-104-603l24 6 44-22 50 24 50-23 50 23 50-23 50 24 50-23 50 23 50-22 12 3 38 22 38-13 14 0 18 16 68 96 16 34 32 85 14 26 14 14 36 14 38 49 16 9 14-8 18-29 56-116 46-121 10-19 10-12 44-22 46-59 14-10 32-14 28-35 164 0 2-25-166 0-14 22-12 12-46 24-46 59-44 22-10 13-10 19-46 120-56 120-18 29-14 8-16-9-38-51-36-15-14-13-16-29-32-84-16-33-66-96-18-16-14-1-38 13-38-22-12-2-50 21-50-22-50 22-50-23-50 22-50-23-50 23-50-23-44 21-24-6z"/>
<path fill="url(#Lg2_0)" stroke="url(#g2_0)" vector-effect="non-scaling-stroke" transform="matrix(0.57479 -0.01722 0 -0.08315 223.95 1274.05)" d="M-104-604l24 6 44-21 50 23 50-22 50 22 50-22 50 23 50-22 50 22 50-21 12 2 38 22 38-13 14 1 18 16 66 96 16 33 32 84 16 29 14 13 36 15 38 51 16 9 14-8 18-29 56-120 46-120 10-19 10-13 44-22 46-59 46-24 12-12 14-22 166 0 2-25-166 0-26 33-46 25-46 58-44 22-10 13-12 23-44 114-58 129-14 23-14 11-16-8-42-57-36-15-14-13-14-25-32-82-18-38-62-92-20-19-14-1-38 12-50-24-50 21-50-22-50 22-50-22-50 21-50-22-50 22-50-23-44 21-24-6z"/>
<path fill="url(#Lg2_0)" stroke="url(#g2_0)" vector-effect="non-scaling-stroke" transform="matrix(0.57479 -0.01722 0 -0.08315 225.29 1275.10)" d="M-104-605l24 6 44-20 50 22 50-22 50 22 50-21 50 22 50-21 50 21 50-21 50 24 38-12 14 1 20 19 62 92 18 38 32 82 14 25 14 13 36 15 42 57 16 8 14-10 14-24 58-128 44-115 12-23 10-12 44-23 46-58 46-25 26-33 166 0 2-25-166 0-26 32-46 26-46 57-44 23-12 15-12 24-42 109-58 132-14 24-14 11-8-2-10-9-28-43-12-14-38-16-14-14-14-26-32-80-16-33-62-95-20-19-14-1-38 11-50-23-50 20-50-21-50 21-50-21-50 20-50-21-50 21-50-22-44 20-24-6z"/>
<path fill="url(#Lg2_0)" stroke="url(#g2_0)" vector-effect="non-scaling-stroke" transform="matrix(0.57479 -0.01723 0 -0.08315 226.64 1276.15)" d="M-104-606l24 6 44-20 50 22 50-21 50 21 50-20 50 21 50-21 50 22 50-21 50 23 38-11 14 1 20 19 62 95 16 33 32 81 14 25 14 14 38 16 12 14 28 43 10 9 8 2 14-11 14-24 58-132 42-109 12-24 12-15 44-23 46-57 46-26 26-32 166 0 2-25-168 0-24 31-46 26-46 57-44 23-12 15-12 23-40 102-62 145-14 24-12 8-8-2-10-9-28-45-12-15-38-16-14-13-16-28-32-78-16-32-58-92-22-22-14-2-38 11-50-22-50 20-50-21-50 20-50-21-50 20-50-20-50 20-50-21-44 19-24-6z"/>
<path fill="url(#Lg2_0)" stroke="url(#g2_0)" vector-effect="non-scaling-stroke" transform="matrix(0.57479 -0.01723 0 -0.08315 227.98 1277.20)" d="M-104-607l24 6 44-19 50 21 50-20 50 20 50-20 50 21 50-20 50 21 50-20 50 22 38-11 14 2 22 22 58 92 16 32 32 78 16 29 14 12 38 16 12 15 28 45 10 9 8 2 12-8 14-23 62-145 40-103 12-23 12-15 44-23 46-57 46-26 24-31 168 0 2-25-168 0-24 30-46 27-46 56-44 23-12 15-14 27-100 244-14 24-12 8-8-2-10-9-28-47-14-17-38-15-15-15-15-27-32-75-18-36-54-87-22-22-14-2-38 10-50-21-50 19-50-20-50 19-50-20-50 19-50-20-50 20-50-20-44 18-24-6z"/>
<path fill="url(#Lg2_0)" stroke="url(#g2_0)" vector-effect="non-scaling-stroke" transform="matrix(0.57479 -0.01723 0 -0.08315 229.32 1278.25)" d="M-104-607l24 5 44-18 50 20 50-20 50 20 50-19 50 20 50-19 50 20 50-19 50 22 38-11 14 2 22 22 54 87 18 36 32 76 15 27 15 14 38 15 14 18 28 46 10 9 8 2 12-8 14-24 100-244 14-27 12-15 44-23 46-56 46-27 24-30 168 0 2-25-168 0-24 29-46 28-46 55-44 22-14 18-14 28-100 245-12 20-12 9-8-2-10-10-28-48-14-18-40-17-16-15-14-25-32-73-18-35-52-87-22-22-14-2-38 10-50-21-50 18-50-19-50 18-50-19-50 18-50-19-50 19-50-20-44 18-24-5z"/>
<path fill="url(#Lg2_0)" stroke="url(#g2_0)" vector-effect="non-scaling-stroke" transform="matrix(0.57479 -0.01724 0 -0.08315 230.67 1279.30)" d="M-104-608l24 5 44-18 50 20 50-19 50 19 50-18 50 19 50-18 50 19 50-18 50 21 38-10 14 2 22 22 52 87 18 35 32 73 14 25 16 16 40 16 14 19 28 47 10 10 8 2 12-9 12-20 100-245 14-28 14-18 44-22 46-55 46-28 24-29 168 0 2-25-170 1-22 27-46 28-44 53-48 26-14 19-14 28-60 143-40 101-12 20-12 7-16-12-30-52-12-16-12-9-30-9-16-16-14-24-34-75-22-41-44-75-22-22-14-2-38 9-50-21-50 18-48-19-50 18-50-18-50 17-50-18-48 17-52-18-46 17-24-5z"/>
<path fill="url(#Lg2_0)" stroke="url(#g2_0)" vector-effect="non-scaling-stroke" transform="matrix(0.57479 -0.01724 0 -0.08315 232.01 1280.35)" d="M-104-609l24 5 46-17 52 19 48-18 50 19 50-18 50 18 50-17 48 18 50-17 50 20 38-9 14 2 22 22 44 75 22 41 34 75 14 24 16 16 30 9 12 9 12 16 30 52 16 12 12-7 12-20 40-101 60-143 14-28 14-19 48-26 44-53 46-28 22-27 170-1 2-25-170 0-22 27-46 29-44 51-48 26-16 22-16 33-54 127-42 108-12 20-12 8-16-11-30-54-14-19-12-8-30-9-16-15-16-27-42-88-44-80-18-27-16-12-12-2-38 9-50-20-50 17-50-18-50 17-50-18-50 17-50-17-50 17-50-18-44 16-24-5z"/>
<path fill="url(#Lg2_0)" stroke="url(#g2_0)" vector-effect="non-scaling-stroke" transform="matrix(0.57479 -0.01724 0 -0.08315 233.36 1281.40)" d="M-104-610l24 5 44-16 50 18 50-17 50 18 50-17 50 17 50-17 50 18 50-17 50 20 38-9 12 2 16 13 18 26 44 80 42 88 16 27 16 15 30 9 12 8 14 19 30 54 16 11 12-7 12-21 42-108 54-127 16-33 16-22 48-26 44-51 46-29 22-27 170 0 2-25-170 0-24 28-44 28-44 50-48 26-16 21-18 36-52 119-44 115-12 20-10 5-16-10-32-58-14-19-12-8-30-8-18-18-14-23-40-81-46-86-16-23-16-13-12-2-38 8-50-19-50 16-48-17-50 16-50-17-50 17-50-18-48 17-52-18-46 16-24-5z"/>
<path fill="url(#Lg2_0)" stroke="url(#g2_0)" vector-effect="non-scaling-stroke" transform="matrix(0.57479 -0.01724 0 -0.08315 234.70 1282.44)" d="M-104-611l24 5 46-16 52 18 48-17 50 18 50-17 50 17 50-16 48 17 50-16 50 19 38-8 12 2 16 13 16 23 46 86 40 81 14 24 18 17 30 8 12 8 14 19 32 58 16 11 10-6 12-20 44-115 52-119 18-36 16-21 48-26 44-50 44-28 24-28 170 0 2-25-170 0-24 27-44 28-44 50-48 25-12 14-12 20-48 105-20 47-40 106-10 17-10 6-8-2-10-11-30-56-14-19-14-10-32-9-18-18-16-26-82-160-16-22-14-11-14-2-36 7-50-18-50 15-48-16-50 15-50-16-50 16-50-17-48 16-52-17-46 15-24-5z"/>
<path fill="url(#Lg2_0)" stroke="url(#g2_0)" vector-effect="non-scaling-stroke" transform="matrix(0.57479 -0.01725 0 -0.08315 236.05 1283.49)" d="M-104-611l24 5 46-16 52 17 48-16 50 17 50-16 50 17 50-16 48 16 50-15 50 18 36-7 14 2 14 11 16 23 82 159 16 27 18 17 32 9 14 10 14 19 30 57 10 10 8 2 10-6 10-16 40-107 20-47 48-105 12-20 12-14 48-25 44-49 44-29 24-27 170 0 2-25-170 0-24 27-44 28-44 48-48 25-24 33-50 105-18 43-30 83-12 29-10 15-10 6-16-12-32-61-14-19-14-9-33-9-19-18-20-34-74-145-16-23-14-11-14-2-36 6-50-17-48 15-50-16-50 15-50-16-50 15-50-16-48 15-52-16-46 14-24-4z"/>
<path fill="url(#Lg2_0)" stroke="url(#g2_0)" vector-effect="non-scaling-stroke" transform="matrix(0.57479 -0.01725 0 -0.08315 237.39 1284.54)" d="M-104-612l24 5 46-15 52 16 48-15 50 16 50-15 50 16 50-15 50 16 48-15 50 17 36-6 14 2 14 11 16 23 74 146 20 33 19 18 33 9 14 9 14 19 32 61 16 12 10-6 10-15 12-28 30-84 18-43 50-105 24-33 48-25 44-48 44-28 24-27 170 0 2-25-170 0-24 26-44 29-44 47-50 26-24 33-50 102-18 42-28 80-12 30-10 16-10 7-8-3-10-11-30-58-16-23-14-9-34-8-20-18-26-44-66-131-14-21-14-11-14-2-36 6-50-17-48 14-50-15-50 14-50-15-50 14-50-15-48 14-52-15-46 13-24-4z"/>
<path fill="url(#Lg2_0)" stroke="url(#g2_0)" vector-effect="non-scaling-stroke" transform="matrix(0.57479 -0.01725 0 -0.08315 238.74 1285.59)" d="M-104-613l24 5 46-14 52 15 48-14 50 15 50-14 50 15 50-14 50 15 48-14 50 17 36-6 14 2 14 11 14 21 66 131 26 44 20 18 34 9 14 8 16 23 30 58 10 11 8 3 10-7 10-16 12-30 28-79 18-43 50-102 24-33 50-26 44-47 44-29 24-26 170 0 2-25-172 1-22 24-44 30-44 46-50 25-24 32-42 80-24 54-42 116-12 20-10 5-16-12-32-63-16-22-14-8-36-8-22-21-26-43-60-122-16-23-14-11-48 4-50-16-48 13-50-15-50 14-50-14-50 13-50-14-48 13-52-15-46 13-24-4z"/>
<path fill="url(#Lg2_0)" stroke="url(#g2_0)" vector-effect="non-scaling-stroke" transform="matrix(0.57479 -0.01726 0 -0.08315 240.08 1286.64)" d="M-104-614l24 5 46-14 52 15 48-13 50 14 50-13 50 14 50-13 50 14 48-13 50 16 48-3 14 10 16 23 60 122 26 43 22 21 36 8 14 9 16 22 32 62 16 12 10-5 12-20 42-116 24-54 42-80 24-32 50-25 44-46 44-30 22-24 172-1 2-25-172 0-22 25-44 30-42 43-54 28-24 32-46 85-22 50-38 107-12 21-10 7-8-2-10-12-32-63-16-21-14-9-36-5-24-21-26-43-58-121-14-20-14-10-50 2-48-15-48 12-50-14-50 13-50-14-50 13-50-14-48 13-52-14-46 12-24-4z"/>
<path fill="url(#Lg2_0)" stroke="url(#g2_0)" vector-effect="non-scaling-stroke" transform="matrix(0.57479 -0.01726 0 -0.08315 241.43 1287.69)" d="M-104-615l24 5 46-13 52 14 48-13 50 14 50-12 50 13 50-13 50 14 48-12 48 15 50-2 14 10 14 20 58 121 26 43 24 21 36 6 14 8 16 22 32 63 10 11 8 2 10-7 12-21 38-107 22-50 46-85 24-32 54-28 42-43 44-30 22-25 172 0 2-25-172 0-20 23-44 30-44 43-54 27-24 31-48 84-20 45-40 113-12 21-10 6-8-3-8-9-34-66-16-22-14-8-38-4-24-20-26-43-54-116-16-22-14-10-48 2-48-14-48 11-50-13-50 12-50-13-50 12-50-13-48 12-52-13-46 11-24-4z"/>
<path fill="url(#Lg2_0)" stroke="url(#g2_0)" vector-effect="non-scaling-stroke" transform="matrix(0.57479 -0.01726 0 -0.08315 242.77 1288.74)" d="M-104-615l24 4 46-12 52 13 48-12 50 13 50-12 50 13 50-12 50 13 48-11 48 14 48-2 14 10 16 23 54 115 26 43 24 20 38 4 14 8 16 22 34 66 8 9 8 3 10-6 12-21 40-113 20-45 48-84 24-31 54-27 44-43 44-30 20-23 172 0 2-25-172 0-20 22-44 31-44 42-54 26-26 32-48 81-20 45-40 113-12 20-10 6-16-13-34-67-16-21-16-9-38-2-24-19-24-39-52-114-16-23-14-10-48 0-48-13-48 11-50-13-50 11-50-12-50 11-50-12-48 11-52-12-46 11-24-4z"/>
<path fill="url(#Lg2_0)" stroke="url(#g2_0)" vector-effect="non-scaling-stroke" transform="matrix(0.57479 -0.01727 0 -0.08315 244.11 1289.79)" d="M-104-616l24 4 46-11 52 12 48-11 50 13 50-12 50 13 50-12 50 13 48-11 48 13 48 0 14 10 16 23 52 114 24 40 24 18 38 3 16 8 16 21 34 67 16 13 10-6 12-20 40-113 20-45 48-81 26-32 54-26 44-42 44-31 20-22 172 0 2-25-172 0-20 22-44 31-44 41-56 27-26 31-48 77-20 45-38 109-12 22-10 7-8-2-10-11-34-67-16-22-16-7-40 0-24-18-22-37-52-116-14-20-14-11-48 0-48-13-48 10-50-12-50 11-50-12-50 11-50-12-48 10-52-12-46 11-24-4z"/>
<path fill="url(#Lg2_0)" stroke="url(#g2_0)" vector-effect="non-scaling-stroke" transform="matrix(0.57479 -0.01727 0 -0.08315 245.46 1290.84)" d="M-104-617l24 4 46-11 52 12 48-10 50 12 50-11 50 12 50-11 50 12 48-10 48 13 48 0 14 11 14 20 52 116 22 37 24 18 40 0 16 7 16 22 34 67 10 11 8 2 10-7 12-22 38-109 20-45 48-77 26-31 56-27 44-41 44-31 20-22 172 0 2-25-172 0-22 24-42 29-42 38-58 27-26 30-50 76-20 45-38 109-12 21-10 7-8-2-10-12-34-66-18-23-16-6-40 3-22-15-22-37-50-114-14-21-16-12-46-1-48-12-48 9-50-11-50 10-50-11-50 10-50-11-48 9-52-11-46 10-24-4z"/>
<path fill="url(#Lg2_0)" stroke="url(#g2_0)" vector-effect="non-scaling-stroke" transform="matrix(0.57479 -0.01727 0 -0.08315 246.80 1291.88)" d="M-104-618l24 4 46-10 52 11 48-9 50 11 50-10 50 11 50-10 50 11 48-9 48 12 46 1 16 12 14 21 50 114 22 37 22 15 40-3 16 6 18 23 34 67 10 11 8 2 10-7 12-21 38-109 20-45 50-76 26-29 58-28 42-38 42-29 22-24 172 0 2-25-172 0-22 23-42 30-42 37-60 28-28 31-48 70-20 45-38 108-12 22-10 6-8-2-10-11-34-67-18-23-16-5-42 7-22-16-20-34-36-87-14-29-14-21-16-11-44-2-48-11-48 8-50-10-50 9-50-10-50 9-50-10-48 8-52-10-46 9-24-4z"/>
<path fill="url(#Lg2_0)" stroke="url(#g2_0)" vector-effect="non-scaling-stroke" transform="matrix(0.57479 -0.01727 0 -0.08315 248.15 1292.93)" d="M-104-618l24 3 46-9 52 11 48-9 50 10 50-9 50 10 50-9 50 11 48-9 48 11 44 2 16 11 14 21 14 29 36 87 20 34 22 16 42-7 16 6 18 22 34 67 10 11 8 2 10-6 12-22 38-108 20-45 48-70 28-31 60-28 42-37 42-30 22-23 172 0 2-25-172 0-22 23-40 28-44 38-62 28-32 35-42 58-20 43-40 114-12 21-10 7-8-3-10-11-34-66-18-23-18-5-40 11-12-4-10-10-20-34-34-85-14-30-14-21-16-12-46-4-44-10-50 8-50-10-50 8-50-9-50 8-50-10-48 9-52-10-46 8-24-3z"/>
<path fill="url(#Lg2_0)" stroke="url(#g2_0)" vector-effect="non-scaling-stroke" transform="matrix(0.57479 -0.01728 0 -0.08315 249.49 1293.98)" d="M-104-619l24 3 46-8 52 10 48-8 50 9 50-8 50 10 50-9 50 10 50-8 44 11 46 3 16 12 14 21 14 30 34 85 20 34 10 10 12 4 40-11 18 5 18 23 34 66 10 11 8 3 10-7 12-21 40-114 20-43 42-58 32-35 62-28 44-38 40-28 22-23 172 0 2-25-172 0-24 25-80 61-66 30-48 52-26 36-20 43-40 114-12 21-10 7-8-2-10-11-36-69-18-21-18-3-38 15-12-3-10-9-20-36-34-86-14-30-14-21-16-11-44-4-44-10-50 7-50-9-50 8-50-9-50 7-50-9-48 8-52-10-46 8-24-3z"/>
<path fill="url(#Lg2_0)" stroke="url(#g2_0)" vector-effect="non-scaling-stroke" transform="matrix(0.57479 -0.01728 0 -0.08315 250.84 1295.03)" d="M-104-620l24 3 46-8 52 10 48-8 50 10 50-8 50 9 50-8 50 9 50-7 44 10 44 4 16 11 14 21 14 30 34 86 20 36 10 9 12 3 38-14 18 3 18 20 36 69 10 11 8 2 10-7 12-21 40-113 20-44 26-35 48-53 66-30 80-61 24-24 172-1 2-25-170 0-26 25-80 60-68 31-50 51-24 32-20 43-40 114-12 21-12 7-16-12-36-69-18-21-18-2-40 19-10-3-10-9-18-31-34-88-14-31-16-24-16-11-86-14-50 7-50-9-50 7-50-8-50 7-50-9-48 7-52-9-46 7-24-3z"/>
<path fill="url(#Lg2_0)" stroke="url(#g2_0)" vector-effect="non-scaling-stroke" transform="matrix(0.57479 -0.01728 0 -0.08315 252.18 1296.08)" d="M-104-621l24 3 46-7 52 9 48-7 50 9 50-7 50 8 50-7 50 9 50-7 86 14 16 11 16 24 14 31 34 88 18 32 10 8 10 3 40-19 18 3 18 20 36 69 16 12 12-7 12-21 40-114 20-43 24-32 50-51 68-31 80-60 26-25 170 0 2-25-170 0-28 26-76 57-72 32-50 47-24 32-20 43-40 113-12 21-12 8-16-12-36-67-18-21-19-1-37 22-10-1-10-7-10-15-10-20-34-90-14-31-16-23-16-11-84-14-50 6-50-8-50 6-50-7-50 6-50-8-48 6-52-8-46 6-24-3z"/>
<path fill="url(#Lg2_0)" stroke="url(#g2_0)" vector-effect="non-scaling-stroke" transform="matrix(0.57479 -0.01729 0 -0.08315 253.53 1297.13)" d="M-104-622l24 3 46-6 52 8 48-6 50 8 50-6 50 7 50-6 50 8 50-6 84 14 16 11 16 23 14 31 34 90 10 21 10 14 10 7 10 1 37-22 19 1 18 21 36 68 16 11 12-8 12-21 40-113 20-43 24-31 50-48 72-32 76-57 28-26 170 0 2-25-170 0-28 26-76 56-74 32-52 46-22 29-20 42-30 87-12 31-12 20-10 5-8-2-10-11-34-64-18-21-18-1-38 27-10-1-10-7-18-31-34-92-14-32-16-24-18-13-82-13-50 4-50-7-50 6-50-7-50 5-50-7-48 5-52-7-46 5-24-2z"/>
<path fill="url(#Lg2_0)" stroke="url(#g2_0)" vector-effect="non-scaling-stroke" transform="matrix(0.57479 -0.01729 0 -0.08315 254.87 1298.18)" d="M-104-622l24 2 46-5 52 7 48-5 50 8 50-6 50 7 50-6 50 8 50-5 82 13 18 13 16 24 14 32 34 92 18 31 10 7 10 1 38-27 18 1 18 21 34 64 10 11 8 3 10-6 12-20 12-31 30-87 20-42 22-29 52-46 74-32 76-56 28-26 170 0 2-25-170 0-30 28-72 52-58 22-22 12-50 42-22 28-20 42-42 117-12 21-12 6-16-12-36-66-18-19-18 2-36 29-10 0-10-7-18-33-34-93-14-32-16-24-18-13-80-13-50 4-50-7-50 5-50-6-50 5-50-7-48 4-52-6-70 2z"/>
<path fill="url(#Lg2_0)" stroke="url(#g2_0)" vector-effect="non-scaling-stroke" transform="matrix(0.57479 -0.01729 0 -0.08315 256.22 1299.23)" d="M-104-623l70-2 52 7 48-5 50 7 50-5 50 6 50-5 50 7 50-4 80 14 18 12 16 24 14 32 34 93 18 33 10 7 10 0 36-29 18-2 18 19 36 66 16 13 12-7 12-21 42-117 20-42 22-28 50-42 22-12 58-22 72-52 30-28 170 0 2-25-170 0-30 28-70 50-64 24-26 15-44 35-22 27-20 41-42 118-12 21-12 8-16-11-36-66-18-19-18 3-36 32-10 1-8-5-18-31-34-95-16-37-16-24-20-13-78-13-48 3-50-6-50 5-50-6-50 4-50-6-48 4-52-7-70 2z"/>
<path fill="url(#Lg2_0)" stroke="url(#g2_0)" vector-effect="non-scaling-stroke" transform="matrix(0.57479 -0.01730 0 -0.08315 257.56 1300.28)" d="M-104-624l70-2 52 7 48-4 50 6 50-4 50 6 50-4 50 5 48-3 78 13 20 13 16 24 16 37 34 95 18 31 8 5 10 0 36-33 18-2 18 18 36 66 16 11 12-8 12-21 42-117 20-42 22-27 44-34 26-16 64-24 70-50 30-28 170 0 2-25-168 0-36 31-64 45-72 27-50 32-26 23-18 26-18 42-38 107-12 22-12 9-8-2-10-10-34-63-18-18-18 3-36 36-10 0-8-5-8-11-10-21-34-97-16-37-16-23-20-14-76-13-48 3-54-5-48 3-50-5-48 4-50-6-48 3-52-6-70 1z"/>
<path fill="url(#Lg2_0)" stroke="url(#g2_0)" vector-effect="non-scaling-stroke" transform="matrix(0.57479 -0.01730 0 -0.08315 258.90 1301.33)" d="M-104-625l70-1 52 6 48-3 50 6 48-4 50 5 48-3 54 5 48-2 76 12 20 14 16 23 16 37 34 97 10 21 8 11 8 5 10 0 36-35 18-4 18 19 34 62 10 10 8 2 12-9 12-22 38-107 18-41 18-27 26-23 50-32 72-27 64-45 36-31 168 0 2-25-168 0-36 31-62 43-76 28-56 34-22 20-16 24-18 40-40 113-12 21-12 8-16-11-36-65-16-16-16 4-38 39-10 1-8-6-8-12-10-21-32-93-16-39-18-27-20-13-74-13-200-4-48 2-50-5-170-2z"/>
<path fill="url(#Lg2_0)" stroke="url(#g2_0)" vector-effect="non-scaling-stroke" transform="matrix(0.57479 -0.01730 0 -0.08315 260.25 1302.37)" d="M-104-625l170 2 50 5 48-2 200 4 74 13 20 13 18 27 16 39 32 93 10 21 8 12 8 6 10-1 38-39 16-3 16 15 36 65 16 11 12-8 12-21 40-112 18-41 16-24 22-20 56-33 76-29 62-43 36-31 168 0 2-25-168 0-40 35-58 39-80 29-56 31-20 18-18 27-18 42-28 82-12 30-12 20-12 7-16-12-34-62-16-15-16 4-36 41-10 2-10-7-8-12-10-22-32-95-16-38-18-27-22-15-70-12-248-2-220-8z"/>
<path fill="url(#Lg2_0)" stroke="url(#g2_0)" vector-effect="non-scaling-stroke" transform="matrix(0.57479 -0.01730 0 -0.08315 261.59 1303.42)" d="M-104-626l220 8 248 2 70 12 22 15 18 27 16 39 32 94 10 22 8 13 10 6 10-2 36-41 16-4 16 15 34 62 16 12 12-6 12-21 12-30 28-82 18-42 18-27 20-18 56-31 80-29 58-39 40-35 168 0 2-25-166 0-46 38-52 34-86 31-56 29-20 18-18 29-16 37-40 113-12 22-12 8-16-10-34-62-16-15-16 5-36 43-10 2-8-5-8-11-10-22-34-101-16-38-20-30-22-13-68-11-246-3-220-9z"/>
<path fill="url(#Lg2_0)" stroke="url(#g2_0)" vector-effect="non-scaling-stroke" transform="matrix(0.57479 -0.01731 0 -0.08315 262.94 1304.47)" d="M-104-627l220 9 246 3 68 11 22 14 20 29 16 38 34 101 10 22 8 11 8 5 10-2 36-43 16-5 16 15 34 62 16 10 12-8 12-21 40-114 16-37 18-29 20-18 56-29 86-31 52-34 46-38 166 0 2-25-166 0-50 41-46 30-94 33-52 25-20 18-18 27-18 42-40 115-12 21-12 7-14-9-34-61-17-15-15 6-36 45-10 2-8-6-8-12-10-22-34-103-16-38-20-30-22-14-68-11-244-3-220-10z"/>
<path fill="url(#Lg2_0)" stroke="url(#g2_0)" vector-effect="non-scaling-stroke" transform="matrix(0.57479 -0.01731 0 -0.08315 264.28 1305.52)" d="M-104-628l220 10 244 3 68 11 22 14 20 30 16 38 34 103 10 22 8 12 8 6 10-2 36-45 15-6 17 15 34 61 14 9 12-7 12-21 40-114 18-42 18-28 20-18 52-25 94-33 46-30 50-41 166 0 2-25-164 0-56 45-40 24-110 38-42 20-20 19-18 28-18 43-38 111-12 23-12 8-16-11-32-57-16-14-16 7-34 44-10 4-8-5-8-11-10-21-36-110-16-38-20-30-24-15-70-10-238-4-220-10z"/>
<path fill="url(#Lg2_0)" stroke="url(#g2_0)" vector-effect="non-scaling-stroke" transform="matrix(0.57479 -0.01731 0 -0.08315 265.63 1306.57)" d="M-104-628l220 10 238 4 70 10 24 15 20 30 16 38 36 110 10 21 8 11 8 5 10-4 34-44 16-7 16 14 32 58 16 10 12-8 12-23 38-111 18-43 18-28 20-19 42-20 110-38 40-24 56-45 164 0 2-25-164 0-58 46-36 22-122 40-34 17-20 18-18 28-18 42-40 118-12 22-12 7-14-10-32-56-16-14-16 8-34 45-10 3-8-4-8-12-10-23-34-104-18-45-20-30-24-16-32-7-72-5-198-2-224-11z"/>
<path fill="url(#Lg2_0)" stroke="url(#g2_0)" vector-effect="non-scaling-stroke" transform="matrix(0.57479 -0.01732 0 -0.08315 266.97 1307.62)" d="M-104-629l224 11 198 2 72 5 32 7 24 16 20 30 18 45 34 105 10 22 8 12 8 4 10-3 34-45 16-8 16 14 32 57 14 9 12-7 12-22 40-118 18-42 18-28 20-18 34-17 122-40 36-21 58-46 164-1 2-25-162 0-60 47-36 21-126 39-34 16-20 19-18 29-18 44-38 114-12 23-12 9-14-8-32-55-16-14-16 9-34 46-10 2-8-5-8-12-10-23-34-107-18-45-20-30-26-17-106-12-190-1-226-13z"/>
<path fill="url(#Lg2_0)" stroke="url(#g2_0)" vector-effect="non-scaling-stroke" transform="matrix(0.57479 -0.01732 0 -0.08315 268.32 1308.67)" d="M-104-630l226 14 190 0 106 12 26 17 20 30 18 45 34 107 10 23 8 12 8 5 10-2 34-46 16-9 16 14 32 55 14 8 12-9 12-23 38-114 18-44 18-29 20-19 34-16 126-39 36-21 60-47 162 0 2-25-160 0-62 47-36 21-130 39-34 15-20 19-16 26-18 44-40 122-12 22-12 8-14-10-30-51-16-13-16 9-34 46-10 3-8-6-8-13-10-24-34-108-18-45-20-31-26-17-34-7-72-6-186 1-228-15z"/>
<path fill="url(#Lg2_0)" stroke="url(#g2_0)" vector-effect="non-scaling-stroke" transform="matrix(0.57479 -0.01732 0 -0.08315 269.66 1309.72)" d="M-104-630l228 15 186-1 72 6 34 7 26 17 20 31 18 45 34 109 10 23 8 13 8 6 10-3 34-46 16-9 16 13 30 51 14 10 12-8 12-22 40-122 18-44 16-26 20-19 34-15 130-39 36-21 62-47 160 0 2-25-158 0-66 49-36 20-132 37-32 14-20 19-18 29-18 46-38 118-12 24-12 9-14-8-30-50-16-12-16 9-32 45-10 3-8-4-8-11-10-23-36-116-18-46-20-30-26-18-36-8-68-6-184 4-122-14-108-5z"/>
<path fill="url(#Lg2_0)" stroke="url(#g2_0)" vector-effect="non-scaling-stroke" transform="matrix(0.57479 -0.01733 0 -0.08315 271.01 1310.77)" d="M-104-631l108 5 122 14 184-4 68 6 36 8 26 18 20 30 18 46 36 116 10 23 8 11 8 5 10-4 32-45 16-9 16 13 30 49 14 8 12-9 12-24 38-118 18-46 18-29 20-19 32-14 132-37 36-20 66-49 158 0 2-25-156 0-68 49-36 20-136 36-32 15-20 19-16 26-18 46-28 91-12 35-12 23-12 7-12-7-30-47-16-12-16 9-32 45-10 3-8-5-8-11-10-24-36-118-18-46-20-31-26-17-36-9-68-6-70-2-110 8-120-17-112-6z"/>
<path fill="url(#Lg2_0)" stroke="url(#g2_0)" vector-effect="non-scaling-stroke" transform="matrix(0.57479 -0.01733 0 -0.08315 272.35 1311.82)" d="M-104-632l112 7 120 16 110-8 70 2 68 6 36 9 26 18 20 30 18 46 36 118 10 24 8 12 8 4 10-3 32-45 16-9 16 12 30 48 12 7 12-8 12-23 12-35 28-91 18-45 16-27 20-19 32-15 136-36 36-20 68-49 156 0 2-25-154 0-70 49-38 21-136 34-32 14-20 19-18 30-18 48-38 122-12 24-12 9-12-5-30-45-16-12-14 7-34 47-10 3-8-6-8-12-10-25-36-119-18-47-22-33-26-17-52-11-82-6-148 12-114-20-116-7z"/>
<path fill="url(#Lg2_0)" stroke="url(#g2_0)" vector-effect="non-scaling-stroke" transform="matrix(0.57479 -0.01733 0 -0.08315 273.69 1312.86)" d="M-104-632l116 7 114 20 148-11 82 6 52 10 26 17 22 34 18 46 36 119 10 25 8 12 8 6 10-3 34-47 14-7 16 12 30 45 12 6 12-10 12-24 38-122 18-48 18-30 20-19 32-14 136-34 38-20 70-50 154 0 2-25-152 0-72 50-38 20-40 13-98 20-34 15-20 19-16 28-18 47-28 95-12 35-12 24-12 8-14-9-30-43-12-7-14 8-34 46-10 2-8-6-8-13-8-19-38-127-18-47-22-34-26-17-56-12-80-6-142 17-112-26-120-8z"/>
<path fill="url(#Lg2_0)" stroke="url(#g2_0)" vector-effect="non-scaling-stroke" transform="matrix(0.57479 -0.01733 0 -0.08315 275.04 1313.91)" d="M-104-633l120 9 112 25 142-17 80 6 56 12 26 17 22 34 18 47 38 127 8 19 8 13 8 6 10-2 34-46 14-7 12 6 30 43 14 9 12-8 12-24 12-35 28-94 18-48 16-28 20-19 34-15 98-20 40-13 38-20 72-50 152 0 2-25-148 0-78 52-36 18-40 12-100 20-34 14-20 20-18 32-16 43-40 132-12 25-12 10-12-5-30-41-14-8-14 7-32 44-10 4-8-5-10-16-8-22-38-127-18-47-22-34-28-19-62-14-76-5-38 4-68 19-28 2-112-33-122-10z"/>
<path fill="url(#Lg2_0)" stroke="url(#g2_0)" vector-effect="non-scaling-stroke" transform="matrix(0.57479 -0.01734 0 -0.08315 276.38 1314.96)" d="M-104-634l122 10 112 33 28-2 68-19 38-3 76 4 62 14 28 19 22 34 18 47 37 127 9 22 10 16 8 5 10-4 32-44 14-7 14 8 30 41 12 5 12-10 12-25 40-132 16-43 18-32 20-19 34-15 100-20 40-12 36-18 78-52 148 0 2-25-146 0-80 52-36 18-42 13-102 19-34 15-20 20-16 29-18 50-28 98-12 36-12 24-12 9-14-8-28-37-12-5-14 7-32 43-10 3-8-5-8-13-10-25-36-124-20-54-22-35-30-20-64-15-72-4-36 5-66 25-28 4-22-5-56-27-34-10-124-11z"/>
<path fill="url(#Lg2_0)" stroke="url(#g2_0)" vector-effect="non-scaling-stroke" transform="matrix(0.57479 -0.01734 0 -0.08315 277.73 1316.01)" d="M-104-634l124 11 34 11 56 26 22 5 28-4 66-24 36-6 72 4 64 15 30 21 22 34 20 54 36 125 10 24 8 13 8 5 10-3 32-42 14-8 12 5 28 37 14 8 12-9 12-24 12-36 28-98 18-50 16-29 20-20 34-15 102-19 42-13 36-18 80-52 146 0 2-25-142 0-86 54-36 17-142 30-32 12-22 21-20 36-18 51-34 119-10 27-8 14-8 7-10-1-34-39-14-5-12 7-26 36-12 9-14-9-12-27-42-142-20-52-20-31-26-20-64-18-74-4-36 8-66 32-26 5-24-7-54-33-34-13-46-8-80-5z"/>
<path fill="url(#Lg2_0)" stroke="url(#g2_0)" vector-effect="non-scaling-stroke" transform="matrix(0.57479 -0.01734 0 -0.08315 279.07 1317.06)" d="M-104-635l80 5 46 8 34 13 54 33 24 7 26-4 66-33 36-8 74 4 64 18 26 20 20 31 20 52 41 142 13 27 14 9 12-9 26-35 12-8 14 5 34 39 10 1 8-7 8-14 10-26 34-119 18-52 20-36 22-20 32-13 142-30 36-17 86-54 142 0 2-25-138 0-92 55-34 16-142 29-34 13-22 20-20 36-18 52-36 128-10 25-8 14-8 6-10-1-32-35-14-5-14 11-26 34-10 6-12-7-12-26-12-34-32-115-20-53-20-32-26-21-66-20-72-2-40 12-62 41-24 5-22-8-54-42-34-17-46-9-82-6z"/>
<path fill="url(#Lg2_0)" stroke="url(#g2_0)" vector-effect="non-scaling-stroke" transform="matrix(0.57479 -0.01735 0 -0.08315 280.42 1318.11)" d="M-104-635l82 5 46 9 34 17 54 42 22 8 24-4 62-42 40-12 72 3 66 19 26 21 20 32 20 54 32 114 11 35 13 25 12 7 10-6 26-34 14-10 14 4 32 35 10 1 8-6 8-14 10-25 36-128 18-51 20-37 22-20 34-12 142-30 34-16 92-55 138 0 2-25-134 0-96 56-34 16-144 28-34 13-24 23-20 38-16 47-36 130-10 27-8 15-8 7-10 1-32-32-14-4-12 8-26 34-12 7-12-8-14-29-10-32-32-117-20-54-22-36-26-21-30-12-38-9-68-1-38 17-60 52-24 6-22-10-54-52-34-21-46-11-84-6z"/>
<path fill="url(#Lg2_0)" stroke="url(#g2_0)" vector-effect="non-scaling-stroke" transform="matrix(0.57479 -0.01735 0 -0.08315 281.76 1319.16)" d="M-104-636l84 6 46 11 34 21 54 52 22 11 24-7 60-52 38-16 68 0 38 9 30 12 26 21 22 36 20 54 32 117 10 32 14 29 12 8 12-7 26-34 12-8 14 4 32 32 10 0 8-8 8-15 10-27 36-130 16-47 20-38 24-23 34-13 144-28 34-16 96-56 134 0 2-25-128 0-136 72-146 28-36 14-22 22-20 39-18 54-36 132-10 27-8 14-8 7-10 0-30-27-14-3-12 8-26 32-10 6-12-6-14-27-12-38-32-119-20-56-22-37-28-24-30-12-40-10-36-2-28 4-36 21-60 65-22 8-22-12-54-65-34-26-46-14-86-6z"/>
<path fill="url(#Lg2_0)" stroke="url(#g2_0)" vector-effect="non-scaling-stroke" transform="matrix(0.57479 -0.01735 0 -0.08315 283.11 1320.21)" d="M-104-637l86 7 46 13 34 26 54 65 22 12 22-8 60-65 36-21 28-4 36 2 40 10 30 12 28 24 22 38 20 55 32 119 12 38 14 27 12 6 10-5 26-33 12-8 14 3 30 27 10 0 8-7 8-14 10-27 36-132 18-54 20-39 22-22 36-14 146-28 136-72 128 0 2-25-120 0-38 16-70 40-36 16-146 28-38 15-24 25-20 41-16 49-36 136-10 28-8 15-8 9-10 2-30-24-14-3-12 8-26 32-10 6-12-7-14-29-12-39-32-121-12-37-10-25-22-37-28-25-32-14-40-9-34-1-26 6-18 10-18 18-56 78-12 9-10 2-10-4-12-11-54-81-34-31-46-16-88-7z"/>
<path fill="url(#Lg2_0)" stroke="url(#g2_0)" vector-effect="non-scaling-stroke" transform="matrix(0.57479 -0.01736 0 -0.08315 284.45 1321.26)" d="M-104-637l88 6 46 16 34 32 54 81 12 11 10 3 10-2 12-9 56-78 18-17 18-11 26-6 34 1 40 9 32 15 28 24 22 37 10 25 12 37 32 121 12 39 14 29 12 7 10-6 26-31 12-8 14 2 30 24 10-2 8-9 8-15 10-28 36-135 16-50 20-41 24-25 38-15 146-28 36-16 70-40 38-16 120 0 2-25-114 2-42 15-74 41-34 15-146 27-40 15-24 26-20 41-18 58-34 132-10 30-10 20-8 8-10 2-30-21-12-1-12 8-26 32-10 4-12-7-14-30-12-40-34-132-20-58-22-39-30-28-32-15-38-8-32-1-26 8-18 13-18 21-56 96-12 12-10 2-10-6-10-12-54-99-16-21-18-17-20-11-26-7-90-7z"/>
<path fill="url(#Lg2_0)" stroke="url(#g2_0)" vector-effect="non-scaling-stroke" transform="matrix(0.57479 -0.01736 0 -0.08315 285.79 1322.31)" d="M-104-638l90 7 26 8 20 10 18 17 16 22 54 99 10 11 10 6 10-2 12-11 56-97 18-21 18-13 26-8 32 1 38 9 32 14 30 28 22 39 20 58 34 132 12 40 14 30 12 7 10-4 26-32 12-8 12 2 30 20 10-2 8-8 10-20 10-30 34-132 18-58 20-41 24-26 40-15 146-27 34-15 74-41 42-15 114-2 2-24-84-1-34 6-40 14-106 53-146 27-42 16-24 26-20 42-18 59-36 143-10 31-8 17-8 10-10 4-30-18-14 0-12 9-22 28-12 7-12-8-14-31-12-42-34-138-12-39-10-27-22-40-30-28-34-16-38-8-30 1-24 10-18 17-16 24-56 118-9 11-11 4-10-6-10-14-52-117-16-26-18-21-20-14-26-8-94-9z"/>
<path fill="url(#Lg2_0)" stroke="url(#g2_0)" vector-effect="non-scaling-stroke" transform="matrix(0.57479 -0.01736 0 -0.08315 287.14 1323.35)" d="M-104-639l94 9 26 9 20 13 18 21 16 26 52 117 10 14 10 6 11-3 9-12 56-118 16-24 18-16 24-11 30-1 38 8 34 16 30 28 22 40 10 27 12 39 34 138 12 42 14 31 12 8 12-7 22-27 12-10 14 0 30 18 10-4 8-10 8-17 10-30 36-144 18-58 20-43 24-26 42-16 146-27 106-52 40-15 34-6 84 1 2-20-64-3-56 7-40 14-102 49-148 27-44 17-24 27-20 43-18 60-38 157-10 31-8 18-8 11-10 4-30-16-12 0-12 9-24 32-10 5-12-8-14-32-12-44-34-148-12-42-10-28-22-43-30-31-32-16-38-9-30 2-24 13-16 18-16 26-16 37-40 107-10 17-10 6-10-7-10-19-38-106-18-43-14-26-16-21-20-15-26-10-96-10z"/>
<path fill="url(#Lg2_1)" stroke="url(#g2_1)" vector-effect="non-scaling-stroke" transform="matrix(0.57479 -0.01736 0 -0.08315 288.48 1324.40)" d="M-104-640l96 10 26 10 20 15 16 21 14 26 18 43 38 106 10 19 10 7 10-6 10-17 40-107 16-36 16-27 16-18 24-12 30-2 38 8 32 17 30 30 22 43 10 28 12 42 34 148 12 44 14 32 12 8 10-5 24-31 12-10 12 0 30 16 10-4 8-11 8-17 10-32 38-156 18-61 20-43 24-27 44-17 148-27 102-49 40-14 56-7 64 4 2-20-66-4-56 6-40 14-100 46-148 25-46 20-24 27-12 24-10 27-18 64-38 166-10 34-8 19-8 11-10 5-30-19-12 1-12 12-22 34-12 8-12-11-6-13-8-26-10-42-32-153-12-48-10-31-12-30-12-22-30-32-34-18-38-8-28 4-24 16-16 22-16 33-18 50-36 120-10 22-8 6-8-5-10-22-36-123-18-53-16-36-16-25-20-19-26-12-100-10z"/>
<path fill="url(#Lg2_2)" stroke="url(#g2_2)" vector-effect="non-scaling-stroke" transform="matrix(0.57479 -0.01737 0 -0.08315 289.83 1325.45)" d="M-104-640l100 10 26 12 20 19 16 25 16 36 18 53 36 123 10 22 8 5 8-6 10-22 36-120 18-50 16-33 16-22 24-16 28-4 38 8 34 18 30 32 12 22 12 30 10 31 12 48 32 153 10 42 8 26 6 14 12 10 12-8 22-34 12-12 12-1 30 19 10-5 8-11 8-19 10-34 38-166 18-64 10-27 12-24 24-27 46-19 148-26 100-46 40-13 56-7 66 4 2-19-68-5-58 7-38 12-96 42-152 26-28 9-20 13-24 30-12 26-10 29-18 70-40 190-10 36-8 21-8 10-8 1-26-27-14-2-12 14-26 54-10 8-10-10-6-16-6-22-10-49-30-167-12-55-10-37-12-35-12-25-14-21-16-17-36-21-40-9-28 6-24 21-18 31-16 41-20 69-32 136-8 22-8 7-6-7-8-22-32-138-20-73-16-43-18-34-22-24-26-14-102-11z"/>
<path fill="url(#Lg2_3)" stroke="url(#g2_3)" vector-effect="non-scaling-stroke" transform="matrix(0.57479 -0.01737 0 -0.08315 291.17 1326.50)" d="M-104-641l102 11 26 14 22 24 18 34 16 43 20 73 32 138 8 22 6 7 8-7 8-22 32-135 20-70 16-41 18-31 24-21 28-5 40 8 36 21 16 17 14 21 12 26 12 34 10 38 12 54 30 167 10 49 6 23 6 16 10 10 10-9 26-54 12-14 14 2 26 28 8-2 8-10 8-21 10-36 40-190 18-70 10-29 12-26 24-30 20-13 28-9 152-26 96-42 38-12 58-7 68 5 2-19-72-5-58 6-36 11-92 39-154 25-30 10-22 15-14 16-12 22-12 30-12 41-20 92-38 211-8 35-6 19-7 10-5-1-6-9-22-49-8-7-6 1-6 7-8 18-26 90-6 12-4 3-8-12-8-34-8-49-30-205-12-66-10-45-12-43-12-31-14-26-18-22-38-25-42-9-30 10-24 27-20 44-18 59-20 91-26 147-6 23-6 9-6-10-6-23-26-150-20-93-20-67-20-45-22-28-26-16-38-8-68-5z"/>
<path fill="url(#Lg2_4)" stroke="url(#g2_4)" vector-effect="non-scaling-stroke" transform="matrix(0.57479 -0.01737 0 -0.08315 292.52 1327.55)" d="M-104-642l68 5 38 8 26 16 22 28 20 45 20 67 20 93 26 150 6 24 6 9 6-8 6-23 26-148 20-90 18-60 20-44 24-27 30-10 42 9 38 25 18 22 14 26 12 31 12 43 10 45 12 66 30 205 8 49 8 34 8 12 4-2 6-13 26-89 8-19 6-7 6-1 8 7 22 49 6 9 5 1 7-10 6-19 8-35 38-211 20-92 12-41 12-30 12-22 14-16 22-15 30-10 154-25 92-39 36-11 58-6 72 5 2-18-76-6-58 6-130 47-158 25-28 11-20 17-16 23-14 32-14 46-12 54-10 53-12 76-12 86-22 177-4 24-4 16-4 5-6-13-18-98-8-31-8-15-8 1-8 17-8 32-8 47-18 130-4 19-4 6-6-16-4-26-30-289-12-93-12-76-12-59-14-50-16-39-18-28-18-18-20-13-46-11-32 10-14 15-12 19-12 28-10 30-12 45-10 46-10 56-8 53-22 176-4 21-4 9-4-5-6-30-22-179-8-53-10-56-10-47-10-39-10-32-12-30-22-37-28-21-38-10-74-6z"/>
<path fill="url(#Lg2_4)" stroke="url(#g2_4)" vector-effect="non-scaling-stroke" transform="matrix(0.57479 -0.01738 0 -0.08315 293.86 1328.60)" d="M-104-642l74 5 38 10 28 21 22 37 12 30 10 32 10 39 10 47 10 56 8 54 22 178 6 30 4 5 4-9 4-21 22-176 8-53 10-56 10-46 12-45 10-30 12-27 12-20 14-14 32-11 46 12 20 12 18 18 18 28 16 39 14 50 12 59 12 76 12 93 30 290 4 25 5 16 5-6 4-18 18-131 8-47 8-32 8-17 8-1 8 15 8 32 18 97 6 13 4-5 4-16 4-24 22-177 12-86 12-75 10-54 12-54 14-46 14-32 16-23 20-17 28-11 158-25 130-47 58-6 76 6 2-17-82-7-62 6-120 41-162 25-32 15-24 27-18 38-10 31-8 32-16 82-14 96-10 88-10 115-8 123-10 181-4 51-3 13-1-1-2-11-2-21-14-218-4-48-6-52-4-24-6-22-4-7-6 1-6 13-6 27-6 41-4 37-6 73-4 61-14 255-2 21-2 12-4-17-4-58-12-246-8-135-10-129-10-98-14-104-14-76-16-61-20-47-18-25-20-17-26-14-28-6-20 3-16 9-16 19-14 27-12 33-12 43-12 55-10 58-8 58-6 53-20 227-4 29-4 7-2-4-4-26-20-227-6-55-8-60-10-60-12-58-12-46-12-35-12-27-12-19-28-24-38-11-78-6z"/>
<path fill="url(#Lg2_4)" stroke="url(#g2_4)" vector-effect="non-scaling-stroke" transform="matrix(0.57479 -0.01738 0 -0.08315 295.21 1329.65)" d="M-104-643l78 6 38 11 28 24 12 19 12 27 12 36 12 45 12 58 10 60 8 60 6 55 20 227 4 26 2 5 4-8 4-29 20-227 6-53 8-58 10-58 12-55 12-43 12-33 14-27 16-19 16-9 20-3 28 6 26 14 20 17 18 25 20 48 16 60 14 76 14 105 10 97 10 129 8 135 12 246 4 58 3 17 3-11 2-22 14-254 4-62 6-73 4-37 6-41 6-27 6-13 6-1 4 7 6 22 4 24 6 52 4 48 14 219 2 20 2 11 1 1 3-13 4-50 10-182 8-123 10-115 10-88 14-96 16-82 8-32 10-31 18-38 24-27 32-15 162-25 120-41 62-6 82 7 3-19-78-8-56 2-128 36-124 14-48 11-28 15-22 25-18 39-16 55-10 49-10 61-8 60-8 74-6 71-6 92-4 80-4 105-6 239-4 260-4 429-4 758-8-1020-4-316-2-109-4-159-4-106-4-73-4-52-4-35-4-24-6-19-6-2-6 15-6 32-4 33-4 45-4 60-6 131-6 211-4 222-4 343-6 1001-2-112-4-694-4-422-6-364-6-217-4-102-6-116-6-88-6-70-8-77-8-63-10-63-10-49-14-52-18-42-20-29-26-21-34-13-28 1-22 14-20 30-16 41-14 50-12 57-12 74-8 67-6 64-6 80-10 157-4 52-2 18-3 13-3-7-4-35-16-241-6-72-8-76-10-71-10-55-12-53-14-48-12-30-12-22-14-18-16-12-40-12-80-6z"/>
<path fill="url(#Lg2_4)" stroke="url(#g2_4)" vector-effect="non-scaling-stroke" transform="matrix(0.57479 -0.01738 0 -0.08315 297.17 1331.18)" d="M-104-644l80 6 40 12 16 13 14 17 12 22 12 30 14 48 12 53 10 56 10 71 8 75 6 72 16 241 4 36 3 6 3-13 2-18 4-52 10-157 6-79 6-64 8-67 12-75 12-57 14-50 16-41 20-30 22-14 28-1 34 13 26 22 20 28 18 43 14 51 10 49 10 64 8 62 8 77 6 70 6 88 6 116 4 102 6 217 6 364 4 422 4 694 1 112 7-1000 4-344 4-222 6-211 6-131 4-60 4-44 4-34 6-32 6-14 6 1 6 19 4 24 4 36 4 51 4 73 4 107 4 158 2 109 4 316 7 1020 5-758 4-429 4-260 6-238 4-106 4-80 6-92 6-70 8-75 8-60 10-61 10-48 16-56 18-38 22-26 28-15 48-11 124-14 128-36 56-2 78 8 1-14-76-8-56 0-132 34-152 19-30 10-22 15-18 22-14 29-12 37-10 41-10 52-8 52-8 62-6 57-6 69-6 89-6 122-6 180-6 282-6 383-3 90-1-14-2-87-6-379-4-191-4-137-6-133-4-58-4-41-4-28-6-25-6-6-6 9-6 27-4 27-6 62-6 92-4 88-4 116-6 256-8 507-3 86-1-17-2-93-6-396-6-295-6-196-8-173-6-93-6-74-6-62-8-68-8-56-10-56-10-44-10-34-16-38-20-30-24-21-30-14-26-3-22 8-18 19-16 30-14 39-14 53-12 60-10 64-8 68-6 64-18 255-4 36-3 7-3-10-4-38-16-232-6-69-8-73-10-69-10-54-12-52-14-47-12-30-12-21-14-18-16-11-40-12-80-7z"/>
<path fill="url(#Lg2_4)" stroke="url(#g2_4)" vector-effect="non-scaling-stroke" transform="matrix(0.57479 -0.01739 0 -0.08315 297.90 1331.75)" d="M-104-645l80 7 40 12 16 12 14 17 12 21 12 30 14 47 12 52 10 54 10 69 8 73 6 69 16 232 4 38 3 10 3-7 4-36 18-255 6-64 8-67 10-65 12-60 14-53 14-39 16-30 18-19 22-8 26 3 30 14 24 21 20 30 16 38 10 34 10 44 10 56 8 56 8 68 6 62 6 74 6 93 8 173 6 196 6 295 6 396 2 93 1 17 3-86 8-507 6-256 4-116 4-88 6-92 6-61 4-28 6-27 6-9 6 6 6 25 4 28 4 41 4 58 6 133 4 137 4 191 6 379 2 87 1 14 3-90 6-383 6-282 6-180 6-122 6-88 6-70 6-57 8-62 8-52 10-52 10-41 12-37 14-28 18-23 22-15 30-10 152-19 132-34 56 0 76 8 2-13-86-12-68 2-108 25-158 18-38 16-26 26-18 35-16 51-14 66-14 91-10 84-10 108-8 114-12 205-4 47-3 12-1-2-2-9-2-19-14-208-4-48-6-54-4-25-6-23-4-8-6 1-6 15-6 27-6 44-4 38-8 103-14 247-4 47-2 10-4-15-4-53-14-268-8-125-8-97-10-96-14-100-14-72-16-57-20-45-18-25-20-18-26-14-24-6-20 3-16 10-14 16-14 27-12 32-12 42-12 53-10 54-8 54-8 67-20 219-4 28-4 8-4-13-2-15-20-223-8-71-8-57-10-58-10-47-12-46-12-35-12-27-12-19-28-25-40-11-80-6z"/>
<path fill="url(#Lg2_4)" stroke="url(#g2_4)" vector-effect="non-scaling-stroke" transform="matrix(0.57479 -0.01739 0 -0.08315 299.24 1332.80)" d="M-104-645l80 6 40 11 28 25 12 19 12 27 12 35 12 46 10 47 10 58 8 57 8 72 20 222 2 15 4 14 4-9 4-28 20-219 8-67 8-53 10-55 12-53 12-42 12-32 14-26 14-17 16-10 20-3 24 6 26 14 20 18 18 25 20 45 16 57 14 72 14 100 10 96 8 97 8 125 14 268 4 53 3 15 3-10 4-47 14-246 8-104 4-38 6-43 6-28 6-15 6 0 4 7 6 23 4 25 6 54 4 48 14 208 2 19 2 10 1 1 3-12 4-46 12-205 8-114 10-109 10-84 14-91 14-66 16-51 18-35 26-26 38-15 158-18 108-26 68-2 86 12 2-11-18-8-36-6-96-3-112 21-148 13-38 12-26 17-16 21-14 28-14 42-12 48-12 62-10 62-10 72-20 160-4 24-4 16-4 5-6-14-18-100-8-33-8-16-8 1-8 19-8 34-8 50-18 136-4 18-4 7-6-14-4-24-22-207-8-69-10-72-12-70-14-62-14-44-16-36-20-29-38-31-40-11-16 3-14 9-12 14-12 20-12 29-10 30-12 45-10 45-10 53-8 51-24 180-4 18-4 7-3-5-3-9-4-23-22-176-8-54-10-56-10-47-12-46-10-31-12-29-22-35-28-19-40-10-76-5z"/>
<path fill="url(#Lg2_4)" stroke="url(#g2_4)" vector-effect="non-scaling-stroke" transform="matrix(0.57479 -0.01739 0 -0.08315 300.58 1333.84)" d="M-104-646l76 5 40 10 28 20 22 34 12 29 10 31 12 46 10 47 10 56 8 54 22 176 4 23 3 9 3 5 4-7 4-18 24-180 8-50 10-54 10-45 12-45 10-30 12-29 12-20 12-14 14-9 16-3 40 11 38 31 20 29 16 36 14 44 14 62 12 70 10 72 8 69 22 207 4 25 5 14 5-7 4-19 18-136 8-50 8-34 8-18 8-2 8 16 8 33 18 100 6 14 4-5 4-15 4-25 20-160 10-72 10-62 12-61 12-49 14-42 14-28 16-21 26-17 38-12 148-13 112-21 96 3 36 6 18 8 2-4-14-14-20-7-112-10-116 16-138 9-38 9-28 14-16 14-14 19-12 24-12 33-20 74-36 174-6 24-6 16-6 7-6-3-26-56-8-6-6 1-6 8-8 19-26 98-6 15-4 5-6-4-8-25-8-41-18-109-12-65-12-55-12-43-14-39-14-29-18-27-20-21-36-22-32-5-24 11-22 30-18 42-18 61-20 89-28 149-6 22-6 10-5-6-7-23-30-172-20-93-18-61-20-45-22-28-28-15-40-8-72-5z"/>
<path fill="url(#Lg2_4)" stroke="url(#g2_4)" vector-effect="non-scaling-stroke" transform="matrix(0.57479 -0.01739 0 -0.08315 301.93 1334.89)" d="M-104-647l72 5 40 8 28 16 22 27 20 46 18 60 20 93 30 172 7 23 5 6 6-9 6-23 28-149 20-88 18-61 18-43 22-29 24-12 32 5 36 22 20 21 18 27 14 29 14 39 12 43 12 55 12 65 18 109 8 41 8 25 6 4 4-5 6-15 26-98 8-19 6-7 6-2 8 6 26 56 6 3 6-7 6-16 6-24 36-174 20-74 12-32 12-24 14-20 16-14 28-14 38-9 138-9 116-16 112 10 20 7 14 14 2 3-16-25-18-12-100-14-252 15-40 7-30 10-32 24-14 20-12 22-22 57-38 126-12 27-7 8-7 1-26-18-14 3-12 16-26 55-12 11-8-7-8-17-48-177-18-49-18-36-26-35-30-26-32-14-28 0-14 7-14 14-12 20-12 27-12 34-12 42-42 171-8 23-8 10-7-7-9-25-34-155-20-77-16-45-18-35-22-24-26-13-40-7-72-5z"/>
<path fill="url(#Lg2_3)" stroke="url(#g2_3)" vector-effect="non-scaling-stroke" transform="matrix(0.57479 -0.01740 0 -0.08315 303.27 1335.94)" d="M-104-648l72 5 40 7 26 13 22 24 18 35 16 45 20 77 34 155 9 25 7 7 8-10 8-23 42-171 12-42 12-34 12-27 12-19 14-15 14-7 28 0 32 14 30 26 26 35 18 36 18 49 48 177 8 17 8 7 12-11 26-55 12-16 14-3 26 18 7-1 7-8 12-27 38-126 22-57 12-22 14-20 32-24 30-10 40-7 252-15 100 14 18 12 16 25 2 11-16-36-18-22-20-8-46-8-66-5-192 6-84 11-38 19-28 31-24 43-40 92-16 26-12 8-38 6-38 44-12 7-10-6-10-15-54-135-18-35-20-30-26-28-26-19-26-11-24 0-26 16-12 17-12 23-22 62-44 153-10 24-10 9-9-9-11-26-38-148-18-59-16-38-16-26-22-21-26-11-110-10z"/>
<path fill="url(#Lg2_2)" stroke="url(#g2_2)" vector-effect="non-scaling-stroke" transform="matrix(0.57479 -0.01740 0 -0.08315 304.62 1336.99)" d="M-104-648l110 10 26 11 22 21 16 26 16 38 18 59 38 148 11 27 9 8 10-9 10-24 44-153 22-62 12-23 12-17 26-16 24 0 26 11 26 19 26 28 20 30 18 35 54 136 10 14 10 6 12-7 38-44 38-6 12-8 16-26 40-92 24-43 28-31 38-19 84-11 192-6 66 5 46 8 20 8 18 22 16 36 2 19-16-47-14-28-14-16-20-10-110-15-182-1-62 5-42 11-32 20-30 33-48 79-18 22-48 27-38 30-14 4-12-6-12-14-58-105-40-53-22-21-24-16-22-8-20-1-26 14-22 32-22 55-44 139-12 24-12 9-10-8-12-27-40-138-16-47-16-35-16-24-22-18-26-10-110-10z"/>
<path fill="url(#Lg2_1)" stroke="url(#g2_1)" vector-effect="non-scaling-stroke" transform="matrix(0.57479 -0.01740 0 -0.08315 305.96 1338.04)" d="M-104-649l110 10 26 10 22 18 16 24 16 35 16 47 40 139 12 26 10 8 12-9 12-24 44-139 22-55 22-32 26-14 20 1 22 8 24 16 22 21 40 53 58 106 12 13 12 6 14-4 38-30 48-26 18-23 48-79 30-33 32-20 42-11 62-5 182 1 110 15 20 10 14 16 14 28 16 47 2 23-20-66-14-35-14-23-18-13-108-20-206-7-62 8-46 19-34 29-50 63-22 22-72 47-24 5-14-6-14-13-64-91-38-42-40-28-34-8-26 12-22 29-20 45-46 134-14 24-12 6-10-7-10-19-12-33-28-91-16-46-16-35-18-26-22-18-26-9-112-10z"/>
<path fill="url(#Lg2_0)" stroke="url(#g2_0)" vector-effect="non-scaling-stroke" transform="matrix(0.57479 -0.01741 0 -0.08315 307.31 1339.09)" d="M-104-650l112 10 26 9 22 18 18 26 16 35 16 46 28 91 12 33 10 19 10 7 12-6 14-24 46-134 20-45 22-29 26-12 34 8 40 28 38 42 64 91 14 13 14 7 24-6 72-47 22-22 50-63 34-29 46-19 62-8 206 7 108 20 18 14 14 22 14 35 20 66 2 24-30-102-18-45-20-25-32-12-82-15-140-12-72-1-54 7-30 11-26 14-102 95-52 35-28 8-18-5-20-15-70-84-36-36-32-20-28-7-26 10-22 26-20 42-36 101-12 28-14 22-12 4-12-11-12-23-40-118-18-45-14-26-16-20-20-15-28-10-112-9z"/>
<path fill="url(#Lg2_0)" stroke="url(#g2_0)" vector-effect="non-scaling-stroke" transform="matrix(0.57479 -0.01741 0 -0.08315 308.65 1340.14)" d="M-104-651l112 10 28 9 20 15 16 20 14 26 18 45 40 118 12 23 12 11 12-4 14-22 12-28 36-101 20-42 22-26 26-9 28 6 32 20 36 36 70 84 20 15 18 5 28-8 52-35 102-95 26-14 30-10 54-8 72 1 140 12 82 15 32 12 20 25 18 45 30 102 2 20-12-36-26-91-12-36-14-29-16-17-28-11-78-18-170-19-76 3-58 17-40 25-104 89-30 17-22 5-20-5-22-14-78-85-34-30-34-17-28 0-18 12-18 23-18 37-34 91-12 27-14 21-12 5-10-6-12-18-12-29-44-120-18-35-18-22-20-14-28-10-114-9z"/>
<path fill="url(#Lg2_0)" stroke="url(#g2_0)" vector-effect="non-scaling-stroke" transform="matrix(0.57479 -0.01741 0 -0.08315 310.00 1341.19)" d="M-104-651l114 9 28 9 20 14 18 22 18 35 44 120 12 29 12 18 10 6 12-5 14-21 12-27 34-91 18-37 18-23 18-12 28 0 34 17 34 30 78 85 22 14 20 5 22-5 30-17 104-88 40-26 58-16 76-4 170 19 78 18 28 11 16 17 14 29 12 36 26 92 12 35 2 13-18-45-38-133-18-42-12-15-14-9-62-19-84-17-90-12-66-2-54 6-60 23-124 99-26 14-24 4-22-6-22-15-76-79-32-27-30-15-24-2-20 10-20 25-18 35-44 108-14 21-12 6-12-6-11-17-13-28-44-115-18-32-18-21-20-14-28-8-116-9z"/>
<path fill="url(#Lg2_0)" stroke="url(#g2_0)" vector-effect="non-scaling-stroke" transform="matrix(0.57479 -0.01742 0 -0.08315 311.34 1342.24)" d="M-104-652l116 9 28 8 20 14 18 21 18 33 44 114 12 28 12 17 12 6 12-6 14-21 44-108 18-35 20-25 20-10 24 2 30 15 32 27 76 79 22 15 22 6 24-4 26-14 124-98 60-24 54-6 66 2 90 12 84 17 62 19 14 9 12 15 18 42 38 133 18 45 2 6-12-18-10-24-12-38-30-111-12-34-10-19-12-15-14-9-70-23-82-20-78-12-66-2-54 6-62 24-122 96-24 12-22 3-22-6-22-14-76-77-30-25-28-15-24-2-20 9-18 20-20 38-44 102-14 20-12 5-12-7-12-18-56-134-18-32-18-20-20-12-28-8-118-9z"/>
<path fill="url(#Lg2_0)" stroke="url(#g2_0)" vector-effect="non-scaling-stroke" transform="matrix(0.57479 -0.01742 0 -0.08315 312.69 1343.28)" d="M-104-653l118 9 28 8 20 13 18 20 18 31 56 134 12 18 12 7 12-5 14-20 44-102 20-38 18-20 20-9 24 2 28 15 30 25 76 77 22 15 21 5 23-3 24-12 122-96 62-24 54-6 66 3 78 11 82 20 70 23 14 9 12 15 10 19 12 34 30 111 12 38 10 24 12 19 2-2-16-14-14-30-12-38-34-128-10-28-12-24-12-14-16-10-84-30-74-19-70-11-64-3-52 6-60 24-34 23-84 70-24 12-22 4-22-6-22-14-76-77-30-25-26-14-24-2-18 9-18 19-18 32-46 102-14 18-12 4-10-5-12-16-14-28-44-104-18-30-18-19-22-13-28-7-118-8z"/>
<path fill="url(#Lg2_0)" stroke="url(#g2_0)" vector-effect="non-scaling-stroke" transform="matrix(0.57479 -0.01742 0 -0.08315 314.03 1344.33)" d="M-104-654l118 8 28 8 22 12 18 19 18 30 44 104 14 28 12 16 10 5 12-4 14-18 46-102 18-32 18-19 18-9 24 3 26 13 30 25 76 77 22 14 22 6 22-3 24-13 84-69 34-24 60-24 52-6 64 3 70 11 74 19 84 30 16 10 12 14 12 24 10 28 34 128 12 38 14 30 16 15 2-7-20-9-16-28-16-49-36-138-12-32-12-22-12-12-18-11-96-37-68-18-64-10-60-1-50 6-34 12-34 19-108 88-20 10-20 2-22-6-22-14-74-76-30-26-26-13-24-2-18 9-18 19-18 32-42 90-14 19-12 5-12-5-12-16-58-127-18-28-18-18-22-12-28-7-120-8z"/>
<path fill="url(#Lg2_0)" stroke="url(#g2_0)" vector-effect="non-scaling-stroke" transform="matrix(0.57479 -0.01742 0 -0.08315 315.37 1345.38)" d="M-104-655l120 8 28 7 22 12 18 18 18 28 58 127 12 16 12 5 12-5 14-19 42-90 18-31 18-20 18-9 24 2 26 14 30 25 74 76 22 14 22 6 20-2 20-9 108-89 34-19 34-12 50-6 60 1 64 10 68 18 96 37 18 11 12 12 12 22 12 32 36 138 16 49 16 28 20 9 2-12-12 3-12-3-10-10-10-19-16-47-28-113-12-43-12-32-12-21-14-14-18-11-104-43-62-17-62-9-56-1-48 7-34 12-32 19-104 88-20 10-18 2-22-5-24-16-72-76-30-26-26-14-22-2-18 8-18 19-18 30-42 87-14 17-12 5-12-6-12-15-58-123-18-26-18-17-22-11-28-7-122-7z"/>
<path fill="url(#Lg2_0)" stroke="url(#g2_0)" vector-effect="non-scaling-stroke" transform="matrix(0.57479 -0.01743 0 -0.08315 316.72 1346.43)" d="M-104-655l122 7 28 7 22 11 18 17 18 26 58 123 12 15 12 6 12-5 14-17 42-87 18-30 18-19 18-8 22 2 26 14 30 26 72 76 24 16 22 5 18-2 20-9 104-89 32-19 34-12 48-7 56 1 62 10 62 16 104 43 18 11 14 14 12 21 12 32 12 43 28 113 16 47 10 19 10 10 12 4 12-4 2-14-16 8-14 0-12-10-10-17-8-20-10-33-28-115-12-45-12-33-14-25-16-16-24-14-102-45-58-16-60-9-54-1-44 7-32 12-32 20-100 88-20 10-20 3-22-6-22-15-74-79-28-25-26-14-22-2-18 8-16 17-18 29-42 82-14 16-12 4-12-6-12-15-56-114-18-26-18-17-22-11-28-7-126-7z"/>
<path fill="url(#Lg2_0)" stroke="url(#g2_0)" vector-effect="non-scaling-stroke" transform="matrix(0.57479 -0.01743 0 -0.08315 318.06 1347.48)" d="M-104-656l126 8 28 6 22 11 18 17 18 26 56 114 12 15 12 6 12-4 14-16 42-82 18-29 16-17 18-8 22 2 26 14 28 25 74 79 22 15 22 6 20-3 20-10 100-88 32-20 32-12 44-7 54 1 60 9 58 16 102 45 24 15 16 15 14 25 12 33 12 45 28 115 10 33 8 20 10 17 12 10 14 0 16-8 2-15-20 13-16 3-12-7-12-17-10-25-10-33-30-127-12-44-12-33-14-24-18-18-36-22-92-42-56-15-56-9-52-1-42 7-30 12-30 19-100 92-20 10-18 3-22-6-22-16-74-81-28-25-24-14-22-3-18 8-16 15-18 28-42 78-14 15-12 4-10-4-12-14-58-112-18-25-18-16-22-10-28-7-128-7z"/>
<path fill="url(#Lg2_0)" stroke="url(#g2_0)" vector-effect="non-scaling-stroke" transform="matrix(0.57479 -0.01743 0 -0.08315 319.41 1348.53)" d="M-104-657l128 8 28 6 22 10 18 16 18 25 58 112 12 14 10 4 12-3 14-16 42-78 18-28 16-15 18-7 22 2 24 14 28 25 74 82 22 15 22 6 18-3 20-10 100-92 30-19 30-11 42-8 52 1 56 9 56 15 92 43 36 22 18 17 14 24 12 33 12 44 30 127 10 33 10 25 12 17 12 7 16-3 20-13 2-17-26 19-16 6-14-5-12-16-10-23-10-32-34-145-12-44-14-37-14-22-22-20-44-28-82-38-54-15-54-8-48 0-40 7-30 13-28 19-96 92-20 11-18 3-22-6-22-16-74-83-28-26-24-14-22-3-16 6-16 15-16 23-44 78-14 14-12 3-10-5-12-13-58-107-18-24-18-15-22-10-28-6-130-7z"/>
<path fill="url(#Lg2_0)" stroke="url(#g2_0)" vector-effect="non-scaling-stroke" transform="matrix(0.57479 -0.01744 0 -0.08315 320.75 1349.58)" d="M-104-658l130 8 28 5 22 10 18 15 18 24 58 107 12 13 10 5 12-3 14-14 44-78 16-23 16-14 16-7 22 3 24 14 28 26 74 83 22 16 22 6 18-3 20-11 96-92 28-19 30-13 40-7 48 0 54 8 54 15 82 38 44 28 22 20 14 22 14 37 12 44 34 145 10 32 10 23 12 16 14 5 16-6 26-19 2-17-44 32-14 1-12-8-12-20-12-34-12-46-34-148-12-38-14-29-20-24-42-31-48-28-46-20-52-15-52-8-46 0-38 8-28 12-28 20-94 94-20 11-18 3-22-6-22-15-74-87-28-26-24-14-22-3-16 6-14 13-18 25-40 67-14 15-12 4-12-5-12-13-58-103-18-22-18-14-50-15-132-7z"/>
<path fill="url(#Lg2_0)" stroke="url(#g2_0)" vector-effect="non-scaling-stroke" transform="matrix(0.57479 -0.01744 0 -0.08315 322.10 1350.63)" d="M-104-658l132 7 50 14 18 14 18 23 58 103 12 12 12 5 12-4 14-14 40-68 18-25 14-12 16-7 22 3 24 14 28 26 74 87 22 16 22 6 18-4 20-11 94-94 28-20 28-12 38-8 46 0 52 8 52 15 46 20 48 28 42 31 20 24 14 30 12 37 34 148 12 46 12 34 12 20 12 8 14-1 44-32 2-18-52 41-16 2-12-8-12-20-12-35-12-46-34-152-12-39-14-31-22-28-44-35-46-28-48-22-50-14-50-8-42 0-36 8-28 14-26 19-92 96-20 12-20 3-20-6-20-14-86-102-24-21-20-10-22-2-22 13-20 24-44 70-14 12-12 2-12-6-14-17-40-71-18-27-32-29-50-14-134-6z"/>
<path fill="url(#Lg2_0)" stroke="url(#g2_0)" vector-effect="non-scaling-stroke" transform="matrix(0.57479 -0.01744 0 -0.08315 323.44 1351.68)" d="M-104-659l134 7 50 13 32 29 18 27 40 71 14 17 12 6 12-2 14-12 44-70 20-24 22-13 22 2 20 10 24 21 86 102 20 14 20 6 20-3 20-12 92-96 26-19 28-14 36-7 42-1 50 8 50 14 48 22 46 28 44 35 22 28 14 31 12 39 34 152 12 47 12 34 12 20 12 8 16-2 52-41 2-19-34 33-26 19-16 3-14-9-12-20-12-35-12-47-24-113-12-50-12-39-14-31-24-31-46-38-44-28-48-22-48-14-46-7-40 1-34 8-26 14-26 20-90 97-20 12-20 4-20-6-20-15-86-105-24-21-20-11-22-1-20 11-20 23-44 65-12 11-12 3-10-4-12-11-60-96-18-20-18-13-50-13-136-6z"/>
<path fill="url(#Lg2_0)" stroke="url(#g2_0)" vector-effect="non-scaling-stroke" transform="matrix(0.57479 -0.01745 0 -0.08315 324.79 1352.73)" d="M-104-660l136 7 50 12 18 13 18 20 60 96 12 11 10 4 12-3 12-11 44-65 20-23 20-11 22 1 20 11 24 22 86 104 20 15 20 6 20-4 20-12 90-97 26-20 26-14 34-8 40 0 46 7 48 14 48 21 44 28 46 39 24 30 14 31 12 39 12 50 24 113 12 47 12 35 12 20 14 9 16-3 26-19 34-33 2-23-26 31-40 35-18 6-16-10-12-20-12-35-12-49-24-114-12-52-14-46-14-31-24-32-46-41-44-30-48-22-46-14-44-6-38 1-32 9-26 14-24 20-88 98-20 13-20 3-20-6-20-15-86-107-24-22-20-11-20-2-20 10-20 21-42 60-14 11-12 3-22-15-58-89-18-19-18-12-50-13-140-7z"/>
<path fill="url(#Lg2_0)" stroke="url(#g2_0)" vector-effect="non-scaling-stroke" transform="matrix(0.57479 -0.01745 0 -0.08315 326.13 1353.77)" d="M-104-661l140 7 50 13 18 12 18 19 58 90 22 14 12-3 14-11 42-60 20-21 20-10 20 2 20 11 24 22 86 107 20 15 20 7 20-4 20-13 88-98 24-20 26-14 32-9 38-1 44 6 46 14 48 22 44 30 46 41 24 32 14 31 14 46 12 52 24 114 12 49 12 35 12 20 16 10 18-6 40-35 26-31 2-27-24 37-44 43-22 12-18-7-14-23-12-36-12-49-26-126-12-52-14-46-14-31-26-36-46-43-44-30-48-22-44-13-40-6-34 2-30 8-24 14-24 20-90 102-20 13-20 3-18-6-20-16-86-110-22-21-20-12-20-2-20 8-20 20-42 56-14 10-12 2-12-5-14-13-58-85-32-25-52-12-140-7z"/>
<path fill="url(#Lg2_0)" stroke="url(#g2_0)" vector-effect="non-scaling-stroke" transform="matrix(0.57479 -0.01745 0 -0.08315 327.48 1354.82)" d="M-104-662l140 7 52 12 32 25 58 85 14 14 12 5 12-3 14-10 42-56 20-20 20-8 20 2 20 12 22 21 86 110 20 16 18 6 20-3 20-13 90-102 24-20 24-14 30-8 34-2 40 6 44 13 48 22 44 30 46 43 26 36 14 31 14 46 12 52 26 126 12 49 12 36 14 23 18 7 22-11 44-43 24-38 2-34-12 29-12 21-40 46-32 23-12 1-10-7-14-24-12-35-12-50-26-129-12-54-14-48-16-37-28-40-46-45-44-30-48-23-40-11-38-5-32 2-28 9-24 15-22 19-86 101-22 15-20 3-18-6-20-16-86-113-22-21-20-12-20-3-20 9-18 17-42 51-14 10-12 2-12-5-14-13-58-80-32-24-52-11-142-6z"/>
<path fill="url(#Lg2_0)" stroke="url(#g2_0)" vector-effect="non-scaling-stroke" transform="matrix(0.57479 -0.01745 0 -0.08315 328.82 1355.87)" d="M-104-662l142 6 52 11 32 24 58 80 14 13 12 5 12-2 14-9 42-52 18-17 20-9 20 3 20 12 22 21 86 113 20 16 18 6 20-3 22-15 86-101 22-19 24-15 28-9 32-2 38 5 40 11 48 23 44 30 46 45 28 40 16 37 14 48 12 54 26 129 12 50 12 36 14 23 10 7 12-1 32-23 40-46 12-21 12-29 2-43-10 33-12 30-12 22-16 22-28 30-20 17-16 5-12-6-14-21-14-42-12-50-28-142-12-54-14-48-16-38-30-43-44-45-44-32-50-23-38-11-34-3-30 3-26 9-44 35-84 100-22 15-20 4-18-7-20-16-86-115-22-21-20-12-20-3-18 7-18 15-42 49-14 9-12 1-24-16-60-78-32-22-52-10-144-6z"/>
<path fill="url(#Lg2_0)" stroke="url(#g2_0)" vector-effect="non-scaling-stroke" transform="matrix(0.57479 -0.01746 0 -0.08315 330.16 1356.92)" d="M-104-663l144 6 52 10 32 22 60 78 24 16 12-1 14-9 42-49 18-15 18-7 20 3 20 12 22 22 86 114 20 16 18 7 20-4 22-15 84-100 44-35 26-9 30-3 34 4 38 10 50 23 44 32 44 45 30 43 16 38 14 48 12 54 28 142 12 51 14 41 14 21 12 6 16-5 20-17 28-30 16-22 12-22 12-30 10-33 2-53-10 42-12 39-12 30-12 22-22 30-28 31-18 12-14 1-10-7-8-12-8-18-8-25-14-58-28-146-12-56-12-44-14-38-24-42-34-42-36-33-40-26-42-18-40-10-36-1-32 8-24 14-24 21-88 106-20 13-20 4-18-6-20-17-86-117-22-22-20-12-18-3-18 6-18 14-42 45-14 8-12 1-24-15-60-74-32-20-52-10-146-6z"/>
<path fill="url(#Lg2_0)" stroke="url(#g2_0)" vector-effect="non-scaling-stroke" transform="matrix(0.57479 -0.01746 0 -0.08315 331.51 1357.97)" d="M-104-664l146 6 52 10 32 20 60 74 24 15 12-1 14-8 42-45 18-14 18-6 18 3 20 13 22 22 86 116 20 17 18 6 20-3 20-14 88-106 24-21 24-14 32-8 36 1 40 10 42 18 40 26 36 33 34 42 24 42 14 38 12 45 12 55 28 146 14 58 8 25 8 18 8 12 10 7 14-1 18-12 28-30 22-31 12-22 12-30 12-39 10-42 2-62-12 59-12 49-12 37-14 32-22 36-30 36-20 16-16 1-10-7-8-12-8-19-8-25-14-60-28-149-12-58-14-54-14-38-22-41-34-44-36-35-38-26-40-18-40-10-34-1-30 8-24 14-24 22-86 106-20 13-20 4-18-7-20-17-86-118-22-22-20-12-18-3-18 5-58 53-24 8-26-14-60-70-32-19-52-9-148-6z"/>
<path fill="url(#Lg2_0)" stroke="url(#g2_0)" vector-effect="non-scaling-stroke" transform="matrix(0.57479 -0.01746 0 -0.08315 332.85 1359.02)" d="M-104-665l148 6 52 9 32 19 60 70 26 15 24-9 58-52 18-6 18 3 20 12 22 22 86 119 20 16 18 7 20-4 20-13 86-106 24-21 24-15 30-8 34 1 40 10 40 18 38 26 36 35 34 44 22 41 14 38 14 54 12 58 28 149 14 60 8 25 8 19 8 12 10 8 16-2 20-16 30-36 22-35 14-33 12-37 12-49 12-59 2-70-16 87-12 56-14 52-14 37-22 40-30 41-22 20-16 3-10-6-8-11-10-23-8-27-14-61-30-164-12-59-14-54-14-39-22-42-32-44-34-34-38-27-38-19-38-10-32-1-30 9-22 13-24 22-86 106-20 13-20 4-18-7-20-17-86-119-22-22-20-13-18-3-16 5-58 48-24 7-26-14-60-66-32-17-52-9-150-6z"/>
<path fill="url(#Lg2_0)" stroke="url(#g2_0)" vector-effect="non-scaling-stroke" transform="matrix(0.57479 -0.01747 0 -0.08315 334.20 1360.07)" d="M-104-665l150 5 52 9 32 18 60 65 26 14 24-7 58-48 16-5 18 3 20 13 22 22 86 119 20 18 18 6 20-3 20-14 86-106 24-22 22-13 30-8 32 0 38 10 38 19 38 27 34 34 32 44 22 42 14 39 14 54 12 59 30 164 14 62 8 26 10 23 8 11 10 6 16-3 22-20 30-41 22-40 14-37 14-51 12-57 16-87 2-73-22 126-12 62-14 57-14 43-22 47-30 46-22 23-18 6-10-5-10-14-10-24-8-27-16-74-28-159-12-61-14-56-14-42-22-45-32-46-34-36-36-27-36-18-36-10-32-1-28 8-22 14-24 22-84 104-20 14-20 4-18-7-20-17-86-121-22-22-20-12-16-3-18 4-56 42-24 7-26-14-58-60-34-18-52-8-152-5z"/>
<path fill="url(#Lg2_0)" stroke="url(#g2_0)" vector-effect="non-scaling-stroke" transform="matrix(0.57479 -0.01747 0 -0.08315 335.54 1361.12)" d="M-104-666l152 5 52 8 34 18 58 60 26 14 24-7 56-42 18-4 16 3 20 12 22 23 86 120 20 17 18 7 20-4 20-14 84-104 24-22 22-14 28-8 32 1 36 10 36 18 36 27 34 36 32 46 22 45 14 42 14 56 12 61 28 159 16 74 8 27 10 24 10 14 10 6 18-7 22-23 30-46 22-47 14-43 14-57 12-62 22-126 2-70-42 237-14 62-14 47-22 52-32 54-22 26-18 6-10-7-10-15-10-25-8-29-16-76-28-164-12-64-14-60-14-44-22-48-30-46-32-36-36-29-34-18-34-10-30-1-28 7-22 13-24 22-84 104-20 14-20 4-18-7-20-17-86-121-22-23-20-12-16-3-16 3-56 38-24 6-24-12-60-57-32-17-52-8-156-5z"/>
<path fill="url(#Lg2_0)" stroke="url(#g2_0)" vector-effect="non-scaling-stroke" transform="matrix(0.57479 -0.01747 0 -0.08315 336.89 1362.17)" d="M-104-667l156 6 52 7 32 17 60 57 24 12 24-6 56-38 16-3 16 3 20 12 22 23 86 121 20 17 18 7 20-4 20-14 84-104 24-22 22-13 28-7 30 1 34 10 34 19 36 28 32 36 30 46 22 48 14 44 14 60 12 64 28 164 16 77 8 28 10 25 10 16 10 6 18-6 22-26 32-54 22-52 14-47 14-62 42-237 2-64-16 80-26 155-12 65-12 54-12 44-22 58-32 62-22 29-18 7-10-5-10-15-10-26-10-36-16-80-28-170-12-66-14-63-14-47-22-51-28-45-32-38-34-29-34-19-32-10-30-1-26 7-22 13-22 20-84 104-20 14-20 3-18-7-20-17-86-121-22-23-20-12-16-3-16 3-54 33-24 5-24-12-60-53-32-15-52-7-158-6z"/>
<path fill="url(#Lg2_0)" stroke="url(#g2_0)" vector-effect="non-scaling-stroke" transform="matrix(0.57479 -0.01748 0 -0.08315 338.23 1363.22)" d="M-104-668l158 6 52 7 32 15 60 54 24 11 24-5 54-33 16-3 16 3 20 13 22 22 86 121 20 17 18 7 20-3 20-14 84-104 22-20 22-13 26-7 30 1 32 10 34 19 34 29 32 38 28 45 22 51 14 47 14 63 12 66 28 170 16 80 10 36 10 26 10 15 10 5 18-7 22-29 32-62 22-58 12-44 12-54 12-65 26-155 16-79 2-56-10 38-12 58-32 193-12 66-10 46-12 46-22 63-32 70-20 30-18 10-10-6-10-15-10-26-10-37-16-81-30-188-12-70-14-66-14-49-20-49-28-49-30-38-34-30-32-19-30-10-30-2-26 7-22 13-22 20-82 101-20 13-20 4-18-7-20-17-86-121-22-22-20-13-30-1-54 30-24 3-24-11-58-48-34-15-54-7-158-6z"/>
<path fill="url(#Lg2_0)" stroke="url(#g2_0)" vector-effect="non-scaling-stroke" transform="matrix(0.57479 -0.01748 0 -0.08315 339.58 1364.26)" d="M-104-668l158 5 54 7 34 15 58 49 24 10 24-3 54-30 30 2 20 12 22 22 86 121 20 17 18 7 20-4 20-13 82-100 22-21 22-13 26-7 30 2 30 10 32 19 34 30 30 38 28 49 20 49 14 50 14 66 12 69 30 189 16 80 10 37 10 26 10 15 10 6 18-9 20-31 32-70 22-63 12-46 10-46 12-66 32-192 12-59 10-37 2-47-14 43-12 52-12 66-34 209-12 61-14 57-24 75-30 74-20 35-16 8-12-8-10-18-10-30-10-40-16-85-30-197-12-72-14-69-14-52-20-52-26-48-30-40-32-29-30-19-30-11-28-2-26 7-20 12-22 19-82 99-20 14-20 3-18-7-20-17-84-118-22-23-22-13-30-2-52 25-22 3-26-10-58-46-34-14-54-6-160-5z"/>
<path fill="url(#Lg2_0)" stroke="url(#g2_0)" vector-effect="non-scaling-stroke" transform="matrix(0.57479 -0.01748 0 -0.08315 340.92 1365.31)" d="M-104-669l160 5 54 6 34 14 58 46 26 10 22-3 52-25 30 2 22 13 22 23 84 118 20 17 18 7 20-3 20-14 82-99 22-19 20-12 26-7 28 2 30 11 30 19 32 30 30 39 26 48 20 52 14 52 14 69 12 72 30 197 16 85 10 40 10 30 10 18 12 8 16-8 20-35 30-74 24-74 14-58 12-61 34-209 12-66 12-52 14-43 2-40-18 44-16 65-14 77-36 226-12 61-14 60-24 81-30 85-18 34-14 8-10-7-10-18-10-30-12-49-18-102-30-205-12-75-14-72-14-54-20-55-24-46-28-39-32-31-30-20-28-10-26-2-26 6-20 12-22 19-80 95-20 13-20 3-18-6-20-18-84-116-22-23-22-13-28-3-52 22-22 2-26-10-58-42-34-13-54-6-162-5z"/>
<path fill="url(#Lg2_0)" stroke="url(#g2_0)" vector-effect="non-scaling-stroke" transform="matrix(0.57479 -0.01748 0 -0.08315 342.27 1366.36)" d="M-104-670l162 5 54 6 34 13 58 42 26 10 22-2 52-22 28 3 22 13 22 23 84 116 20 18 18 6 20-3 20-13 80-95 22-19 20-12 26-6 26 2 28 10 30 20 32 31 28 39 24 46 20 55 14 54 14 72 12 75 30 205 18 102 12 50 10 29 10 18 10 7 14-8 18-34 30-85 24-81 14-59 12-62 36-226 14-77 16-65 18-44 2-36-12 21-10 23-10 33-10 42-16 88-38 243-14 73-16 69-30 108-20 64-14 30-14 10-10-8-10-22-10-33-12-54-18-106-42-294-14-78-14-59-18-53-24-50-28-42-30-32-28-19-28-12-26-3-24 5-20 11-22 19-80 92-20 13-20 3-18-7-20-17-84-115-22-22-22-14-28-2-50 18-22 2-24-9-60-40-34-12-54-6-164-5z"/>
<path fill="url(#Lg2_0)" stroke="url(#g2_0)" vector-effect="non-scaling-stroke" transform="matrix(0.57479 -0.01749 0 -0.08315 343.61 1367.41)" d="M-104-671l164 5 54 6 34 12 60 40 24 9 22-2 50-18 28 3 22 13 22 22 84 115 20 17 18 7 20-3 20-13 80-92 22-19 20-10 24-6 26 3 28 12 28 19 30 32 28 42 24 50 18 54 14 58 14 78 42 294 18 107 12 54 10 33 10 21 10 8 14-10 14-30 20-63 30-109 16-69 14-72 38-244 16-88 10-42 10-32 10-24 12-21 2-34-14 21-12 24-10 28-10 36-10 48-10 57-40 263-22 115-36 154-20 78-14 38-8 10-6 2-8-7-10-23-10-37-12-58-20-124-32-238-12-83-12-70-14-64-18-58-22-49-26-42-30-34-26-20-28-13-26-3-24 5-40 27-82 91-20 11-18 2-18-6-20-17-84-114-22-22-22-13-28-3-48 15-22 1-24-8-60-37-34-11-220-10z"/>
<path fill="url(#Lg2_0)" stroke="url(#g2_0)" vector-effect="non-scaling-stroke" transform="matrix(0.57479 -0.01749 0 -0.08315 344.95 1368.46)" d="M-104-671l220 10 34 11 60 37 24 8 22-1 48-15 28 3 22 13 22 22 84 114 20 17 18 6 18-2 20-11 82-91 40-27 24-5 26 4 28 13 26 20 30 34 26 41 22 49 18 58 14 64 12 70 12 83 32 238 20 124 12 58 10 37 10 23 8 7 6-1 8-11 14-38 20-78 36-154 22-115 40-263 10-57 10-47 10-37 10-28 12-24 14-20 2-34-18 25-14 25-12 32-12 44-8 38-10 57-40 270-12 71-12 64-56 272-12 40-6 12-6 4-8-6-10-26-10-42-10-53-22-145-46-350-14-86-12-57-18-62-20-48-26-44-28-34-26-22-26-13-26-4-24 4-40 26-80 86-20 11-18 2-18-7-20-16-84-112-22-21-22-13-26-3-68 12-26-8-59-34-35-10-222-10z"/>
<path fill="url(#Lg2_0)" stroke="url(#g2_0)" vector-effect="non-scaling-stroke" transform="matrix(0.57479 -0.01749 0 -0.08315 346.30 1369.51)" d="M-104-672l222 10 35 10 59 34 26 9 68-13 26 3 22 13 22 21 84 112 20 16 18 7 18-2 20-11 80-86 40-26 24-4 26 4 26 14 26 21 28 34 26 44 20 48 18 62 12 57 14 86 46 350 22 145 10 53 10 42 10 26 8 6 6-4 6-12 12-40 56-272 12-64 12-71 40-270 10-57 8-38 12-44 12-32 14-25 18-24 2-33-24 31-18 33-14 39-12 47-10 52-10 62-30 211-14 92-40 229-26 156-8 42-8 32-6 15-6 5-6-5-8-22-8-36-10-58-26-185-46-367-14-94-12-64-16-63-20-54-24-45-28-37-24-22-26-16-26-6-24 3-40 24-80 82-20 11-20 1-18-8-18-15-84-109-22-21-22-12-24-4-50 10-24-1-80-39-44-11-214-8z"/>
<path fill="url(#Lg2_0)" stroke="url(#g2_0)" vector-effect="non-scaling-stroke" transform="matrix(0.57479 -0.01750 0 -0.08315 347.64 1370.56)" d="M-104-673l214 8 44 11 80 39 24 1 50-10 24 4 22 12 22 21 84 109 18 15 18 8 20-1 20-11 80-82 40-24 24-3 26 6 26 16 24 22 28 37 24 46 20 53 16 63 12 64 14 94 46 367 26 185 10 58 8 36 8 22 6 5 6-5 6-15 8-32 8-42 26-156 40-229 14-92 30-211 10-62 10-51 12-48 14-39 18-33 24-31 2-33-28 34-22 40-16 44-14 59-8 43-10 63-40 287-42 270-34 246-10 50-6 16-4 3-6-8-6-20-12-71-20-157-58-484-14-100-12-71-16-70-18-54-24-50-28-40-24-24-26-16-24-7-24 2-40 23-78 76-20 10-20 2-18-8-18-15-84-106-22-21-22-12-24-4-48 7-24-1-78-35-44-11-218-8z"/>
<path fill="url(#Lg2_0)" stroke="url(#g2_0)" vector-effect="non-scaling-stroke" transform="matrix(0.57479 -0.01750 0 -0.08315 348.99 1371.61)" d="M-104-674l218 9 44 10 78 35 24 2 48-8 24 4 22 13 22 20 84 107 18 14 18 8 20-1 20-11 78-76 40-23 24-1 24 6 26 17 24 23 28 41 24 49 18 54 16 70 12 71 14 100 58 484 20 157 12 71 6 20 6 8 4-3 6-16 10-50 34-246 42-270 40-287 10-63 8-43 14-59 16-44 22-40 28-34 2-32-34 40-24 42-18 51-16 70-18 112-36 268-36 253-14 114-22 204-8 66-8 46-4 12-4 4-4-6-4-13-4-22-6-43-36-338-36-319-18-147-16-109-16-81-18-62-22-51-28-45-24-26-24-17-24-9-24 1-40 20-80 73-20 9-18 0-18-7-18-15-84-103-22-20-22-12-24-4-70 3-78-33-42-9-222-8z"/>
<path fill="url(#Lg2_0)" stroke="url(#g2_0)" vector-effect="non-scaling-stroke" transform="matrix(0.57479 -0.01750 0 -0.08315 350.33 1372.66)" d="M-104-674l222 8 42 9 78 33 70-3 24 4 22 12 22 20 84 103 18 15 18 7 18 0 20-9 80-73 40-20 24-1 24 9 24 17 24 27 28 44 22 51 18 62 16 81 16 109 18 148 36 318 36 338 6 43 4 22 4 13 4 6 4-4 4-12 8-46 8-66 22-204 14-114 36-253 36-268 18-112 16-70 18-51 24-42 34-40 2-32-38 42-16 25-14 28-10 26-10 34-10 44-8 43-18 120-62 475-10 87-10 99-24 280-6 61-4 33-4 22-4 11-2 0-6-17-4-25-4-35-28-325-16-167-38-345-12-100-10-73-16-96-8-37-10-38-22-59-28-49-22-27-24-20-24-11-24-2-40 17-80 68-20 9-18 0-18-7-18-14-84-101-22-19-22-12-24-4-68 1-76-30-44-9-224-8z"/>
<path fill="url(#Lg2_0)" stroke="url(#g2_0)" vector-effect="non-scaling-stroke" transform="matrix(0.57479 -0.01751 0 -0.08315 351.68 1373.71)" d="M-104-675l224 8 44 9 76 30 68-1 24 4 22 12 22 19 84 101 18 14 18 7 18 0 20-8 80-69 40-17 24 2 24 11 24 20 22 27 28 49 22 59 10 38 8 37 16 96 10 73 12 100 38 346 16 166 28 325 4 35 4 25 6 18 2-1 4-11 4-22 4-33 6-61 24-280 10-99 10-87 62-475 18-120 8-43 10-44 10-34 10-26 14-28 16-24 38-43 2-32-44 48-18 27-14 28-12 32-10 34-10 45-10 56-10 66-14 107-42 336-14 123-10 104-10 122-22 325-6 79-6 54-4 15-2 0-2-4-4-22-6-62-26-382-8-102-10-113-26-252-28-242-18-126-8-44-10-45-10-36-10-29-14-32-14-25-22-31-24-23-24-13-24-4-20 4-22 11-80 63-18 7-18 0-34-19-86-99-24-20-22-11-88-5-76-27-42-9-228-8z"/>
<path fill="url(#Lg2_0)" stroke="url(#g2_0)" vector-effect="non-scaling-stroke" transform="matrix(0.57479 -0.01751 0 -0.08315 353.02 1374.75)" d="M-104-676l228 9 42 8 76 28 88 4 22 11 24 20 86 99 34 19 18 0 18-7 80-63 22-11 20-4 24 4 24 13 24 23 22 31 14 25 14 32 10 29 10 36 10 45 8 44 18 126 28 243 26 251 10 113 8 103 26 381 6 62 4 22 2 5 2-1 4-15 6-54 6-78 22-326 10-122 10-104 14-122 42-337 14-106 10-67 10-56 10-44 10-35 12-32 14-28 18-27 44-48 2-31-26 23-22 26-20 30-18 36-12 32-12 44-10 48-12 72-18 134-36 299-14 125-10 102-10 123-8 118-8 137-14 270-6 100-4 46-2 14-2 7-2 0-4-21-6-76-22-411-8-128-8-110-8-96-10-105-28-263-12-104-12-93-10-68-10-56-10-45-12-42-12-32-16-33-20-31-20-23-20-15-22-9-20-1-22 6-86 61-20 7-18 1-18-7-18-13-86-95-24-19-22-11-86-6-74-25-42-8-232-9z"/>
<path fill="url(#Lg2_0)" stroke="url(#g2_0)" vector-effect="non-scaling-stroke" transform="matrix(0.57479 -0.01751 0 -0.08315 354.37 1375.80)" d="M-104-676l232 8 42 8 74 25 86 6 22 11 24 19 86 96 18 12 18 7 18-1 20-7 86-61 22-6 20 1 22 9 20 15 20 23 20 31 16 33 12 32 12 42 10 45 10 56 10 68 12 93 12 104 28 263 10 105 8 96 8 110 8 128 22 411 6 76 4 21 2 0 2-7 2-14 4-46 6-100 14-270 8-137 8-118 10-123 10-102 14-125 36-299 18-134 12-72 10-48 12-44 12-32 18-36 20-30 22-26 26-23 2-31-28 23-26 29-24 37-18 37-14 40-12 47-12 62-12 79-18 141-34 294-14 137-10 117-10 145-8 142-8 168-16 369-4 62-2 19-2 10-2-1-2-11-2-21-4-65-20-456-12-219-14-194-16-173-18-171-18-158-12-95-12-81-12-65-12-50-14-43-16-37-20-33-20-25-20-16-22-10-20-1-20 5-84 53-20 7-18 0-36-19-86-92-24-18-22-10-84-8-74-23-40-7-236-9z"/>
<path fill="url(#Lg2_0)" stroke="url(#g2_0)" vector-effect="non-scaling-stroke" transform="matrix(0.57479 -0.01751 0 -0.08315 355.71 1376.85)" d="M-104-677l236 9 40 7 74 23 84 8 22 10 24 19 86 91 36 19 18 0 20-7 84-53 20-5 20 2 22 9 20 17 20 24 20 33 16 37 14 43 12 50 12 65 12 81 12 95 18 158 18 171 16 173 14 194 12 219 20 456 4 65 2 21 2 11 2 1 2-10 2-19 4-62 16-369 8-168 8-142 10-145 10-117 14-136 34-295 18-141 12-79 12-62 12-47 14-40 18-37 24-37 26-29 28-23 3-34-32 24-28 30-24 35-20 40-16 44-12 46-12 61-14 92-18 144-30 267-14 140-12 145-10 152-8 152-8 183-16 409-4 67-2 18-2 7-2-6-2-18-4-64-20-492-12-239-12-182-14-166-14-139-20-182-16-133-12-86-12-71-12-56-14-48-16-40-18-33-20-26-22-20-22-10-38 2-80 44-38 6-36-18-86-88-24-17-22-10-82-9-72-21-40-7-240-9z"/>
<path fill="url(#Lg2_0)" stroke="url(#g2_0)" vector-effect="non-scaling-stroke" transform="matrix(0.57479 -0.01752 0 -0.08315 357.29 1378.08)" d="M-104-678l240 9 40 7 72 21 82 9 22 10 24 18 86 87 36 18 38-5 80-45 38-1 22 10 22 19 20 27 18 32 16 40 14 48 12 56 12 71 12 87 16 132 20 182 14 139 14 166 12 182 12 239 20 492 4 65 2 17 2 6 2-6 2-19 4-67 16-409 8-183 8-151 10-153 12-145 14-140 30-267 18-144 14-92 12-61 12-46 16-44 20-39 24-35 28-30 32-25 2-27-34 24-28 29-24 33-22 41-16 41-14 50-12 59-12 75-20 156-28 251-16 159-12 143-10 150-8 146-8 176-14 346-4 82-4 54-2 13-2 1-2-10-2-20-4-67-18-433-12-242-12-186-8-101-8-89-14-138-20-179-16-130-12-85-12-70-12-55-14-48-16-39-20-35-20-25-22-18-22-8-38 4-80 40-22 2-20-5-34-24-78-77-22-15-24-9-76-9-112-27-242-9z"/>
<path fill="url(#Lg2_0)" stroke="url(#g2_0)" vector-effect="non-scaling-stroke" transform="matrix(0.57479 -0.01752 0 -0.08315 358.40 1378.95)" d="M-104-679l242 10 112 27 76 8 24 10 22 15 78 77 34 24 20 5 22-2 80-40 38-4 22 8 22 18 20 25 20 35 16 39 14 47 12 55 12 71 12 85 16 130 20 179 14 138 8 89 8 101 12 185 12 242 18 434 4 66 2 21 2 10 2-1 2-13 4-54 4-82 14-346 8-176 8-147 10-149 12-143 16-159 28-251 20-156 12-75 12-59 14-50 16-41 22-41 24-33 28-29 34-25 2-30-34 23-28 26-26 33-22 37-18 42-14 44-14 61-12 70-18 134-22 192-22 210-14 156-10 136-10 167-8 158-14 305-4 72-4 49-2 14-2 4-2-5-2-13-6-84-20-427-6-114-8-132-12-162-16-172-16-148-18-154-14-108-12-80-12-66-12-52-12-38-16-38-18-31-20-25-20-16-22-8-36 3-78 32-20 1-20-5-32-21-80-75-46-24-72-9-114-26-244-9z"/>
<path fill="url(#Lg2_0)" stroke="url(#g2_0)" vector-effect="non-scaling-stroke" transform="matrix(0.57479 -0.01752 0 -0.08315 359.74 1380.00)" d="M-104-679l244 10 114 25 72 9 46 24 80 75 32 21 20 5 20-1 78-32 36-3 22 8 20 16 20 25 18 31 16 38 12 39 12 51 12 66 12 80 14 109 18 153 16 148 16 172 12 163 8 131 6 114 20 427 6 84 2 14 2 4 2-4 2-13 4-50 4-72 14-305 8-158 10-167 10-136 14-156 22-209 22-193 18-134 12-69 14-62 14-44 18-41 22-38 26-33 28-26 34-23 2-30-34 21-30 26-26 30-22 35-18 37-16 44-14 54-12 61-14 93-16 129-28 254-18 181-12 144-10 145-26 458-6 69-4 18-2-1-4-21-6-73-24-432-14-207-14-163-20-189-30-248-12-85-12-74-10-50-12-47-12-36-16-35-18-29-18-20-18-14-20-7-34 1-74 26-40-5-32-20-80-72-46-22-70-10-116-25-244-10z"/>
<path fill="url(#Lg2_0)" stroke="url(#g2_0)" vector-effect="non-scaling-stroke" transform="matrix(0.57479 -0.01753 0 -0.08315 361.09 1381.05)" d="M-104-680l244 10 116 25 70 10 46 22 80 72 32 20 40 5 74-26 34-1 20 7 18 14 18 20 18 29 16 35 12 36 12 47 10 51 12 73 12 86 30 247 20 190 14 162 14 207 24 432 6 73 4 21 2 1 4-18 6-68 26-459 10-145 12-144 18-181 28-254 16-129 14-93 12-61 14-54 16-44 18-37 22-34 26-31 30-26 34-21 2-30-34 20-30 23-26 28-24 34-20 38-18 45-14 49-12 57-14 86-14 106-22 192-24 225-12 127-10 122-8 111-16 244-6 80-6 55-4 16-2 1-2-3-4-22-6-61-26-391-8-108-10-117-18-177-24-202-14-108-12-84-10-62-10-52-10-42-10-34-12-32-14-28-16-24-16-17-18-13-18-7-32 0-72 19-40-6-32-20-78-66-46-22-186-34-244-11z"/>
<path fill="url(#Lg2_0)" stroke="url(#g2_0)" vector-effect="non-scaling-stroke" transform="matrix(0.57479 -0.01753 0 -0.08315 362.43 1382.10)" d="M-104-681l244 11 186 34 46 22 78 66 32 20 40 7 72-20 32 0 18 7 18 13 16 18 16 23 14 28 12 32 10 34 10 42 10 52 10 62 12 84 14 108 24 202 18 177 10 117 8 108 26 391 6 61 4 22 2 4 2-2 4-16 6-55 6-80 16-243 8-112 10-122 12-127 24-225 22-192 14-106 14-86 12-57 14-49 18-45 20-38 24-34 26-28 30-23 34-20 2-29-34 17-30 22-26 25-24 31-22 37-18 40-14 41-14 56-12 64-12 80-12 93-16 138-26 235-14 139-10 111-26 318-4 36-4 27-4 14-2 2-2-1-4-13-4-26-4-37-6-68-26-333-18-188-20-174-26-201-22-145-18-90-10-37-10-30-22-46-30-37-34-19-30-1-70 14-38-7-32-19-78-63-46-21-188-34-242-11z"/>
<path fill="url(#Lg2_0)" stroke="url(#g2_0)" vector-effect="non-scaling-stroke" transform="matrix(0.57479 -0.01753 0 -0.08315 363.78 1383.15)" d="M-104-681l242 12 188 34 46 20 78 63 32 19 38 7 70-14 30 1 34 19 30 38 22 45 10 30 10 37 18 90 22 145 26 201 20 174 18 189 26 332 6 68 4 37 4 26 4 13 2 1 2-2 4-14 4-26 4-37 26-317 10-112 14-139 26-235 16-138 12-93 12-80 12-63 14-56 14-42 18-40 22-37 24-31 26-25 30-21 34-18 2-30-66 38-28 25-24 29-22 35-20 41-16 45-12 44-10 48-8 45-10 67-10 75-52 451-38 382-8 57-4 17-4 7-4-3-4-13-8-53-8-77-24-263-16-155-26-212-30-213-18-106-18-79-18-54-22-42-28-32-32-16-28-2-66 8-38-8-30-17-76-58-48-21-194-35-236-12z"/>
<path fill="url(#Lg2_0)" stroke="url(#g2_0)" vector-effect="non-scaling-stroke" transform="matrix(0.57479 -0.01754 0 -0.08315 365.12 1384.20)" d="M-104-682l236 13 194 34 48 21 76 58 30 17 38 8 66-8 28 2 32 17 28 32 22 41 18 54 18 79 18 106 30 214 26 212 16 154 24 263 8 77 8 53 4 13 4 3 4-7 4-17 8-57 38-382 52-450 10-76 10-67 8-45 10-48 12-44 16-44 20-42 22-35 24-29 28-25 66-38 2-29-68 36-28 24-24 26-24 35-20 38-16 40-14 46-10 43-8 41-10 61-10 71-52 428-30 263-10 79-6 37-4 17-4 10-4 3-4-5-4-13-4-20-6-40-8-68-26-245-18-152-28-206-26-170-18-95-16-63-18-48-20-35-26-29-30-16-26-3-64 4-38-9-30-17-74-53-48-20-212-37-218-12z"/>
<path fill="url(#Lg2_0)" stroke="url(#g2_0)" vector-effect="non-scaling-stroke" transform="matrix(0.57479 -0.01754 0 -0.08315 366.47 1385.24)" d="M-104-683l218 12 212 38 48 19 74 53 30 17 38 9 64-4 26 4 30 15 26 29 20 35 18 49 16 62 18 95 26 170 28 206 18 152 26 246 8 67 6 41 4 19 4 13 4 5 4-3 4-10 4-17 6-37 10-79 30-263 52-428 10-71 10-61 8-41 10-43 14-46 16-39 20-39 24-35 24-26 28-24 68-36 2-29-68 33-28 22-26 26-24 32-20 34-18 40-16 46-10 39-8 37-8 44-10 63-14 104-62 487-16 115-6 35-6 26-6 16-4 2-4-3-6-16-10-52-10-73-30-246-18-135-30-201-22-130-16-76-16-57-16-40-20-33-24-25-28-15-88-5-36-10-102-64-48-19-234-41-196-10z"/>
<path fill="url(#Lg2_0)" stroke="url(#g2_0)" vector-effect="non-scaling-stroke" transform="matrix(0.57479 -0.01754 0 -0.08315 367.81 1386.29)" d="M-104-683l196 10 234 41 48 19 102 64 36 10 88 5 28 15 24 25 20 33 16 40 16 57 16 76 22 130 30 202 18 134 30 246 10 74 10 51 6 16 4 4 4-3 6-15 6-27 6-35 16-115 62-487 14-103 10-64 8-44 8-37 10-38 16-47 18-40 20-34 24-32 26-26 28-22 68-33 2-29-70 32-30 22-26 24-24 30-22 35-18 37-16 43-18 67-8 40-10 58-14 96-44 331-20 137-12 75-8 42-6 24-6 16-6 6-6-5-6-15-6-25-6-32-12-80-30-219-20-134-28-174-20-107-16-70-14-45-18-41-20-30-22-21-26-14-84-9-34-10-100-58-48-18-248-45-182-10z"/>
<path fill="url(#Lg2_0)" stroke="url(#g2_0)" vector-effect="non-scaling-stroke" transform="matrix(0.57479 -0.01754 0 -0.08315 369.16 1387.34)" d="M-104-684l182 10 248 45 48 18 100 58 33 10 85 9 26 14 22 21 20 30 18 41 14 46 16 69 20 107 28 174 20 134 30 219 12 80 6 32 6 25 6 15 6 5 6-6 6-16 6-24 8-42 12-75 20-137 44-331 14-96 10-58 8-40 18-67 16-43 18-37 22-35 24-30 26-24 30-22 70-31 2-29-72 30-56 43-26 29-22 33-20 38-16 39-10 31-10 38-10 47-8 44-14 91-40 286-16 102-14 81-10 49-8 30-8 19-6 6-6-4-8-18-6-22-8-39-12-71-34-222-22-134-24-135-18-88-14-56-16-48-16-33-20-28-20-18-20-12-112-22-104-55-46-17-260-49-172-10z"/>
<path fill="url(#Lg2_0)" stroke="url(#g2_0)" vector-effect="non-scaling-stroke" transform="matrix(0.57479 -0.01755 0 -0.08315 370.50 1388.39)" d="M-104-685l172 10 260 49 46 17 104 55 112 22 20 12 20 18 20 28 16 34 16 47 14 56 18 88 24 135 22 134 34 222 12 71 8 39 6 22 8 18 6 4 6-5 8-20 8-30 10-49 14-81 16-102 40-286 14-91 8-44 10-47 10-38 10-31 16-39 20-38 22-33 26-29 56-43 72-30 2-28-74 29-58 40-26 28-22 30-20 35-18 40-12 34-10 35-10 44-8 41-14 85-40 271-14 82-14 73-10 43-10 33-8 16-8 4-6-4-8-18-14-54-12-64-36-211-24-134-20-104-18-82-14-52-16-44-16-32-18-24-20-18-22-12-104-24-102-50-44-15-268-53-166-10z"/>
<path fill="url(#Lg2_0)" stroke="url(#g2_0)" vector-effect="non-scaling-stroke" transform="matrix(0.57479 -0.01755 0 -0.08315 371.85 1389.44)" d="M-104-685l166 10 268 53 44 15 102 50 104 24 22 12 20 18 18 25 16 31 16 44 14 52 18 82 20 104 24 134 36 212 12 63 14 54 8 18 6 5 8-5 8-16 10-33 10-43 14-73 14-82 40-271 14-85 8-41 10-44 10-35 12-34 18-40 20-35 22-30 26-27 58-41 74-29 2-29-76 28-60 40-26 25-22 28-22 36-18 37-22 62-10 38-10 47-14 80-40 254-12 66-12 58-12 48-10 30-10 18-8 4-8-7-8-17-8-25-8-32-14-69-60-315-20-94-16-66-14-46-14-35-16-29-18-23-20-17-22-12-98-25-96-44-44-14-276-58-160-10z"/>
<path fill="url(#Lg2_0)" stroke="url(#g2_0)" vector-effect="non-scaling-stroke" transform="matrix(0.57479 -0.01755 0 -0.08315 373.19 1390.49)" d="M-104-686l160 10 276 58 44 15 96 43 98 26 22 11 20 17 18 23 16 29 14 35 14 47 16 65 20 94 60 315 14 69 8 32 8 26 8 16 8 7 8-4 10-18 10-30 12-48 12-58 12-66 40-254 14-80 10-46 10-39 22-62 18-37 22-36 22-28 26-25 60-40 76-27 2-29-78 27-62 38-26 24-24 28-22 34-18 34-12 28-12 34-10 36-10 43-16 85-38 227-12 61-10 44-12 44-10 28-10 18-10 5-8-6-8-13-8-22-10-36-16-70-60-289-18-77-16-60-14-43-14-33-16-27-18-21-20-16-24-12-90-25-134-53-282-62-156-10z"/>
<path fill="url(#Lg2_0)" stroke="url(#g2_0)" vector-effect="non-scaling-stroke" transform="matrix(0.57479 -0.01756 0 -0.08315 374.53 1391.54)" d="M-104-687l156 11 282 62 134 52 90 25 24 12 20 16 18 21 16 27 14 33 14 43 16 60 18 78 60 288 16 70 10 36 8 22 8 14 8 5 10-5 10-18 10-28 12-44 10-44 12-61 38-227 16-85 10-43 10-36 12-34 12-28 18-34 22-34 24-28 26-24 62-38 78-27 2-28-80 26-62 35-28 24-24 26-22 31-20 35-14 30-12 32-10 33-10 39-16 78-38 213-12 56-10 41-12 39-10 24-10 15-10 5-8-5-10-16-8-19-10-33-18-72-60-264-18-70-14-48-14-39-14-31-16-25-18-20-44-27-84-24-128-47-132-26-154-40-154-10z"/>
<path fill="url(#Lg2_0)" stroke="url(#g2_0)" vector-effect="non-scaling-stroke" transform="matrix(0.57479 -0.01756 0 -0.08315 375.88 1392.59)" d="M-104-687l154 10 154 40 132 26 128 47 84 24 44 27 18 20 16 26 14 30 14 39 14 48 18 70 60 264 18 72 10 33 8 20 10 15 8 5 10-5 10-15 10-24 12-39 10-41 12-56 38-212 16-79 10-39 10-33 12-32 14-30 20-35 22-31 24-26 28-24 62-35 80-25 2-28-82 24-64 34-52 46-22 29-20 32-28 60-12 35-10 36-16 72-38 197-12 53-10 37-12 35-10 22-10 13-10 4-8-4-10-14-10-22-10-30-18-65-62-249-18-63-14-43-14-35-14-27-14-20-18-18-48-28-200-65-124-24-154-43-60-8-100-4z"/>
<path fill="url(#Lg2_0)" stroke="url(#g2_0)" vector-effect="non-scaling-stroke" transform="matrix(0.57479 -0.01756 0 -0.08315 377.22 1393.64)" d="M-104-688l100 4 60 8 154 43 124 24 200 65 48 28 18 19 14 20 14 26 14 35 14 43 18 64 62 248 18 66 10 29 10 22 10 14 8 4 10-4 10-13 10-22 12-35 10-37 12-53 38-197 16-72 10-36 12-35 28-60 20-32 22-29 52-46 64-34 82-24 2-28-82 22-66 32-54 45-22 26-22 33-30 59-12 33-10 33-18 74-38 183-20 74-12 32-10 19-10 12-10 3-10-5-10-13-20-48-20-66-60-220-16-52-16-45-14-32-14-25-16-21-18-17-44-27-16 1-10-10-24-9-18 3-12-12-26-9-12-1-6 5-10-13-18-8-18-3-10 5-14-12-26-6-12 1-6 6-14-12-38-8-16-1-10 6-4-8-8-6-20-4-10 5-10-11-24-8-8 1-4 6-14-15-30-10-22-3-12 7-10-10-14-3-124-4z"/>
<path fill="url(#Lg2_0)" stroke="url(#g2_0)" vector-effect="non-scaling-stroke" transform="matrix(0.57479 -0.01757 0 -0.08315 378.57 1394.68)" d="M-104-688l124 3 14 3 10 10 12-7 22 3 30 11 14 14 4-5 8-2 24 8 10 11 10-5 20 5 8 5 4 9 10-7 16 1 38 8 14 13 6-7 12-1 26 6 14 12 10-5 18 4 18 7 10 13 6-5 12 1 26 10 12 11 18-3 24 9 10 10 16-1 44 28 18 16 16 21 14 25 14 32 16 45 16 52 60 220 20 66 20 48 10 13 10 5 10-3 10-12 10-19 12-32 20-74 38-183 18-74 10-33 12-33 30-59 22-33 22-26 54-45 66-32 82-22 2-27-84 21-66 30-54 40-24 27-22 29-32 58-12 29-12 35-18 68-38 168-20 69-12 29-10 18-10 10-10 3-10-4-10-12-10-18-12-29-20-60-62-207-18-52-16-39-14-28-16-23-60-63-6-2-4 3-4 15-2 15-2-1-4-28-6-18-12-11-14-2-8 10-4 18-2 16-2 1-2-17-4-20-6-14-12-10-14-3-8 5-4 11-4 22-2 19-2-20-4-25-4-13-6-10-16-8-12 2-6 11-4 20-2 16-2 0-4-30-6-20-8-10-14-4-10 3-6 10-4 16-4 34-6-38-8-22-12-11-18-5-14 2-8 8-6 16-6 36-4-45-4-17-4-8-12-5-8 4-4 12-4 33-2 1-4-34-4-15-7-11-11-4-8 2-6 12-4 25-2 24-6-40-8-24-12-13-18-7-14 1-8 8-6 17-6 37-4-30-4-17-6-11-6-4-18 2-36 15-74-3z"/>
<path fill="url(#Lg2_0)" stroke="url(#g2_0)" vector-effect="non-scaling-stroke" transform="matrix(0.57479 -0.01757 0 -0.08315 379.91 1395.73)" d="M-104-689l74 3 36-15 18-2 6 4 6 12 4 16 4 30 6-37 6-17 8-8 14-1 18 7 12 13 8 24 6 40 2-24 4-25 6-12 8-2 11 4 7 11 4 16 4 34 2-2 4-33 4-12 8-4 12 6 4 7 4 17 4 45 6-36 6-16 8-8 14-2 18 5 12 11 8 22 6 38 4-34 4-16 6-10 10-3 14 5 8 9 6 20 4 30 2 0 2-16 4-19 6-12 12-2 16 8 6 10 4 13 4 25 2 20 2-19 4-22 4-10 8-6 14 3 12 10 6 14 4 20 2 17 2 0 2-17 4-17 8-11 14 3 12 10 6 18 4 28 2 1 2-15 4-14 4-4 6 2 60 63 16 24 14 27 16 39 18 52 62 207 20 60 12 29 10 19 10 11 10 4 10-3 10-10 10-17 12-30 20-69 38-168 18-68 12-35 12-29 32-58 22-29 24-26 54-41 66-30 84-21 2-16-84 20-68 28-56 39-46 52-34 56-14 30-12 32-18 61-40 163-20 61-10 22-10 16-10 9-10 3-10-3-10-10-22-42-22-60-64-194-18-47-16-34-22-35-24-25-22-39-12-15-4 0-4 7-4 27-2 28-2 0-4-50-4-24-4-12-8-10-12-4-8 7-4 15-2 13-4 49-2 1-2-29-4-36-6-24-12-14-16-1-6 12-4 19-4 41-2 35-4-62-2-18-4-22-8-19-10-7-10 0-8 11-4 17-2 15-4 51-2-1-2-31-4-37-6-25-12-14-16 2-6 13-4 21-4 44-2 37-6-69-6-32-8-19-14-11-18 0-12 14-4 13-4 23-4 38-2 29-2-50-4-50-2-12-4-12-8-8-8 2-6 16-4 38-2 38-2 2-4-60-2-16-4-18-8-12-16 1-4 12-4 31-4 72-6-71-4-25-6-20-50 0-2 3-4 24-4 39-2 29-2-31-4-40-4-21-2-3-38 0-24 20-74-4z"/>
</g>
<g><line x1="106.3" y1="1334.6" x2="106.3" y2="1109.1" stroke="#262626" stroke-width="1.3"/>
<line x1="266.3" y1="1459.5" x2="106.3" y2="1334.6" stroke="#262626" stroke-width="1.3"/>
<line x1="266.3" y1="1459.5" x2="1071" y2="1434.9" stroke="#262626" stroke-width="1.3"/>
<line x1="266.3" y1="1459.5" x2="283.3" y2="1471.9" stroke="#262626" stroke-width="1.3"/>
<line x1="381.3" y1="1456" x2="398.3" y2="1468.4" stroke="#262626" stroke-width="1.3"/>
<line x1="496.2" y1="1452.5" x2="513.2" y2="1464.9" stroke="#262626" stroke-width="1.3"/>
<line x1="611.2" y1="1449" x2="628.2" y2="1461.4" stroke="#262626" stroke-width="1.3"/>
<line x1="726.1" y1="1445.4" x2="743.1" y2="1457.8" stroke="#262626" stroke-width="1.3"/>
<line x1="841.1" y1="1441.9" x2="858.1" y2="1454.3" stroke="#262626" stroke-width="1.3"/>
<line x1="956" y1="1438.4" x2="973" y2="1450.8" stroke="#262626" stroke-width="1.3"/>
<line x1="1071" y1="1434.9" x2="1088" y2="1447.3" stroke="#262626" stroke-width="1.3"/>
<line x1="252.5" y1="1448.7" x2="232.5" y2="1449.6" stroke="#262626" stroke-width="1.3"/>
<line x1="185.6" y1="1396.5" x2="165.6" y2="1397.4" stroke="#262626" stroke-width="1.3"/>
<line x1="118.6" y1="1344.2" x2="98.6" y2="1345.1" stroke="#262626" stroke-width="1.3"/>
<line x1="106.3" y1="1275.4" x2="89.8" y2="1262.8" stroke="#262626" stroke-width="1.3"/>
<line x1="106.3" y1="1192.2" x2="89.8" y2="1179.6" stroke="#262626" stroke-width="1.3"/>
<line x1="106.3" y1="1109.1" x2="89.8" y2="1096.5" stroke="#262626" stroke-width="1.3"/></g>
<text x="67.6" y="361.6" font-size="26" fill="#262626" text-anchor="middle">150</text>
<text x="191.2" y="400" font-size="26" fill="#262626" text-anchor="middle">100</text>
<text x="319.9" y="437.3" font-size="26" fill="#262626" text-anchor="middle">50</text>
<text x="426.7" y="444.7" font-size="26" fill="#262626" text-anchor="middle">0</text>
<text x="536" y="440.8" font-size="26" fill="#262626" text-anchor="middle">20</text>
<text x="637.7" y="435.5" font-size="26" fill="#262626" text-anchor="middle">40</text>
<text x="739.8" y="431.9" font-size="26" fill="#262626" text-anchor="middle">60</text>
<text x="842" y="428" font-size="26" fill="#262626" text-anchor="middle">80</text>
<text x="952" y="423.8" font-size="26" fill="#262626" text-anchor="middle">100</text>
<text x="1053.7" y="419.3" font-size="26" fill="#262626" text-anchor="middle">120</text>
<text x="69.5" y="907" font-size="26" fill="#262626" text-anchor="middle">150</text>
<text x="164.6" y="935.6" font-size="26" fill="#262626" text-anchor="middle">100</text>
<text x="268" y="963.6" font-size="26" fill="#262626" text-anchor="middle">50</text>
<text x="410.3" y="970" font-size="26" fill="#262626" text-anchor="middle">0</text>
<text x="527.5" y="968" font-size="26" fill="#262626" text-anchor="middle">20</text>
<text x="639" y="965" font-size="26" fill="#262626" text-anchor="middle">40</text>
<text x="749.5" y="962.5" font-size="26" fill="#262626" text-anchor="middle">60</text>
<text x="859.2" y="959" font-size="26" fill="#262626" text-anchor="middle">80</text>
<text x="977.5" y="956" font-size="26" fill="#262626" text-anchor="middle">100</text>
<text x="1088.2" y="954" font-size="26" fill="#262626" text-anchor="middle">120</text>
<text x="65" y="1374" font-size="26" fill="#262626" text-anchor="middle">150</text>
<text x="130.7" y="1427.5" font-size="26" fill="#262626" text-anchor="middle">100</text>
<text x="206.1" y="1479" font-size="26" fill="#262626" text-anchor="middle">50</text>
<text x="310.2" y="1506.2" font-size="26" fill="#262626" text-anchor="middle">-20</text>
<text x="413.4" y="1503.6" font-size="26" fill="#262626" text-anchor="middle">0</text>
<text x="535.8" y="1499.4" font-size="26" fill="#262626" text-anchor="middle">20</text>
<text x="650" y="1496" font-size="26" fill="#262626" text-anchor="middle">40</text>
<text x="765.5" y="1492.5" font-size="26" fill="#262626" text-anchor="middle">60</text>
<text x="880.5" y="1489" font-size="26" fill="#262626" text-anchor="middle">80</text>
<text x="1003.8" y="1486" font-size="26" fill="#262626" text-anchor="middle">100</text>
<text x="1119.2" y="1482.5" font-size="26" fill="#262626" text-anchor="middle">120</text>
<text x="78.8" y="99.4" font-size="26" fill="#262626" text-anchor="end">1.5</text>
<text x="78.5" y="149.6" font-size="26" fill="#262626" text-anchor="end">1</text>
<text x="78.8" y="200.6" font-size="26" fill="#262626" text-anchor="end">0.5</text>
<text x="78.3" y="250.5" font-size="26" fill="#262626" text-anchor="end">0</text>
<text x="78.3" y="630.1" font-size="26" fill="#262626" text-anchor="end">1.5</text>
<text x="78.3" y="685.6" font-size="26" fill="#262626" text-anchor="end">1</text>
<text x="78.3" y="741" font-size="26" fill="#262626" text-anchor="end">0.5</text>
<text x="78.3" y="795.7" font-size="26" fill="#262626" text-anchor="end">0</text>
<text x="81.9" y="1100.9" font-size="26" fill="#262626" text-anchor="end">2</text>
<text x="78.9" y="1183.8" font-size="26" fill="#262626" text-anchor="end">1</text>
<text x="81.5" y="1267.2" font-size="26" fill="#262626" text-anchor="end">0</text>
<text x="82" y="433.5" font-size="35" fill="#262626" text-anchor="middle">y(m)</text>
<text x="593" y="465.7" font-size="35" fill="#262626" text-anchor="middle">x(m)</text>
<text x="123.5" y="972" font-size="35" fill="#262626" text-anchor="middle">y(m)</text>
<text x="631.2" y="1000" font-size="35" fill="#262626" text-anchor="middle">x(m)</text>
<text x="87.5" y="1480" font-size="35" fill="#262626" text-anchor="middle">y(m)</text>
<text x="602" y="1544.6" font-size="35" fill="#262626" text-anchor="middle">x(m)</text>
<text x="0" y="0" font-size="30" fill="#262626" text-anchor="middle" transform="translate(23.5,195.2) rotate(-90)">Spatial spectrum</text>
<text x="0" y="0" font-size="30" fill="#262626" text-anchor="middle" transform="translate(22.8,723.3) rotate(-90)">Spatial spectrum</text>
<text x="0" y="0" font-size="30" fill="#262626" text-anchor="middle" transform="translate(43.2,1221) rotate(-90)">Spatial spectrum</text>
<text x="589" y="22.4" font-size="29.5" fill="#000" text-anchor="middle">DF at 35kHz</text>
<text x="589" y="547.8" font-size="29.5" fill="#000" text-anchor="middle">DF at 42.5kHz</text>
<text x="589.2" y="1072.8" font-size="29.5" fill="#000" text-anchor="middle">DF at 50kHz</text>
<ellipse cx="565.2" cy="141.5" rx="72.9" ry="35.9" fill="none" stroke="#66cc1e" stroke-width="4"/>
<text x="796" y="47.3" font-size="27" fill="#D95319" text-anchor="middle">artifact target</text>
<text x="712.5" y="111.6" font-size="27" fill="#4a9a1c" text-anchor="middle">true targets</text>
<ellipse cx="599.3" cy="660.9" rx="72.4" ry="35.9" fill="none" stroke="#66cc1e" stroke-width="4"/>
<text x="815.8" y="578.6" font-size="27" fill="#D95319" text-anchor="middle">artifact target</text>
<text x="754.2" y="666" font-size="27" fill="#4a9a1c" text-anchor="middle">true targets</text>
<ellipse cx="623" cy="1186" rx="71.6" ry="35.4" fill="none" stroke="#66cc1e" stroke-width="4"/>
<text x="855.7" y="1103.1" font-size="27" fill="#D95319" text-anchor="middle">artifact target</text>
<text x="773.8" y="1195" font-size="27" fill="#4a9a1c" text-anchor="middle">true targets</text></svg></body></html>
